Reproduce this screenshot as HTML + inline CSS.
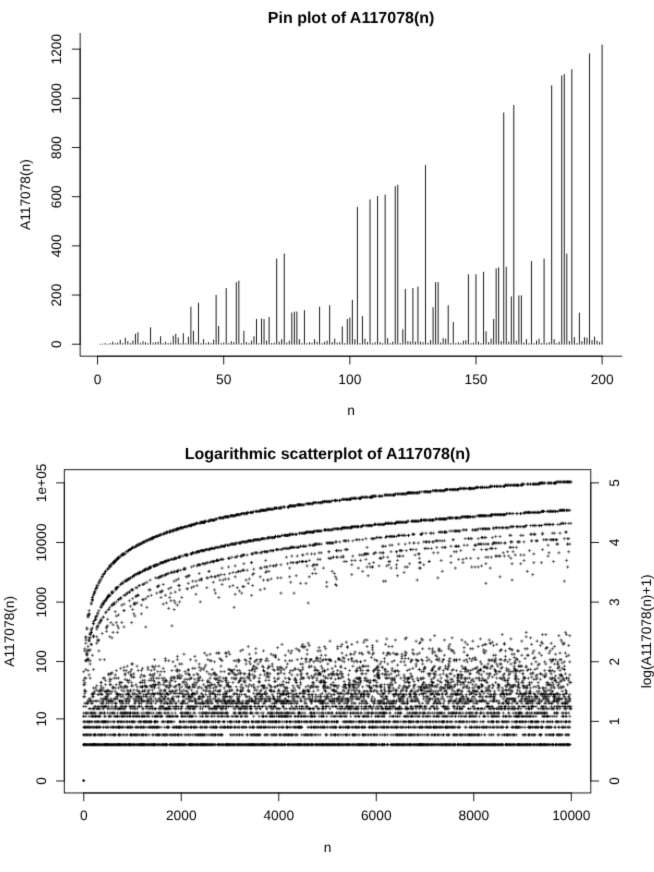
<!DOCTYPE html>
<html><head><meta charset="utf-8"><title>A117078 graphs</title>
<style>
html,body{margin:0;padding:0;background:#fff;}
svg{display:block;will-change:transform;text-rendering:geometricPrecision;font-family:"Liberation Sans",sans-serif;fill:#000;}
</style></head><body>
<svg width="654" height="872" viewBox="0 0 654 872">
<defs><filter id="bl" x="0" y="0" width="654" height="872" filterUnits="userSpaceOnUse"><feConvolveMatrix order="3" kernelMatrix="0.0113 0.0838 0.0113 0.0838 0.6193 0.0838 0.0113 0.0838 0.0113" divisor="1" edgeMode="duplicate" preserveAlpha="false"/></filter></defs>
<rect x="0" y="0" width="654" height="872" fill="#fff"/>
<g filter="url(#bl)">
<path d="M80.15 33.00L80.15 356.20L622.20 356.20" stroke="#000" stroke-width="0.9" fill="none"/>
<path d="M97.56 356.20L602.12 356.20" stroke="#000" stroke-width="0.9" stroke-linecap="round" fill="none"/>
<path d="M97.56 356.20L97.56 364.05" stroke="#000" stroke-width="0.9" stroke-linecap="round" fill="none"/>
<text x="97.56" y="384.00" font-size="13.75" text-anchor="middle">0</text>
<path d="M223.70 356.20L223.70 364.05" stroke="#000" stroke-width="0.9" stroke-linecap="round" fill="none"/>
<text x="223.70" y="384.00" font-size="13.75" text-anchor="middle">50</text>
<path d="M349.84 356.20L349.84 364.05" stroke="#000" stroke-width="0.9" stroke-linecap="round" fill="none"/>
<text x="349.84" y="384.00" font-size="13.75" text-anchor="middle">100</text>
<path d="M475.98 356.20L475.98 364.05" stroke="#000" stroke-width="0.9" stroke-linecap="round" fill="none"/>
<text x="475.98" y="384.00" font-size="13.75" text-anchor="middle">150</text>
<path d="M602.12 356.20L602.12 364.05" stroke="#000" stroke-width="0.9" stroke-linecap="round" fill="none"/>
<text x="602.12" y="384.00" font-size="13.75" text-anchor="middle">200</text>
<path d="M80.15 344.23L80.15 49.15" stroke="#000" stroke-width="0.9" stroke-linecap="round" fill="none"/>
<path d="M80.15 344.23L72.30 344.23" stroke="#000" stroke-width="0.9" stroke-linecap="round" fill="none"/>
<text x="61.00" y="344.23" font-size="13.75" text-anchor="middle" transform="rotate(-90 61.00 344.23)">0</text>
<path d="M80.15 295.05L72.30 295.05" stroke="#000" stroke-width="0.9" stroke-linecap="round" fill="none"/>
<text x="61.00" y="295.05" font-size="13.75" text-anchor="middle" transform="rotate(-90 61.00 295.05)">200</text>
<path d="M80.15 245.87L72.30 245.87" stroke="#000" stroke-width="0.9" stroke-linecap="round" fill="none"/>
<text x="61.00" y="245.87" font-size="13.75" text-anchor="middle" transform="rotate(-90 61.00 245.87)">400</text>
<path d="M80.15 196.69L72.30 196.69" stroke="#000" stroke-width="0.9" stroke-linecap="round" fill="none"/>
<text x="61.00" y="196.69" font-size="13.75" text-anchor="middle" transform="rotate(-90 61.00 196.69)">600</text>
<path d="M80.15 147.51L72.30 147.51" stroke="#000" stroke-width="0.9" stroke-linecap="round" fill="none"/>
<text x="61.00" y="147.51" font-size="13.75" text-anchor="middle" transform="rotate(-90 61.00 147.51)">800</text>
<path d="M80.15 98.33L72.30 98.33" stroke="#000" stroke-width="0.9" stroke-linecap="round" fill="none"/>
<text x="61.00" y="98.33" font-size="13.75" text-anchor="middle" transform="rotate(-90 61.00 98.33)">1000</text>
<path d="M80.15 49.15L72.30 49.15" stroke="#000" stroke-width="0.9" stroke-linecap="round" fill="none"/>
<text x="61.00" y="49.15" font-size="13.75" text-anchor="middle" transform="rotate(-90 61.00 49.15)">1200</text>
<text x="351.10" y="415.40" font-size="13.75" text-anchor="middle">n</text>
<text x="29.60" y="194.60" font-size="13.75" text-anchor="middle" transform="rotate(-90 29.60 194.60)">A117078(n)</text>
<text x="351.10" y="22.70" font-size="16.0" text-anchor="middle" font-weight="bold">Pin plot of A117078(n)</text>
<path d="M100.08 344.23v0.00M102.60 344.23v0.00M105.13 344.23v-0.74M107.65 344.23v0.00M110.17 344.23v-0.74M112.70 344.23v-2.21M115.22 344.23v-0.74M117.74 344.23v-1.23M120.26 344.23v-4.18M122.79 344.23v-0.74M125.31 344.23v-6.15M127.83 344.23v-2.70M130.36 344.23v-0.74M132.88 344.23v-3.20M135.40 344.23v-10.08M137.92 344.23v-11.56M140.45 344.23v-0.74M142.97 344.23v-2.70M145.49 344.23v-1.72M148.01 344.23v-0.74M150.54 344.23v-16.48M153.06 344.23v-1.23M155.58 344.23v-1.72M158.11 344.23v-2.21M160.63 344.23v-7.62M163.15 344.23v-0.74M165.67 344.23v-2.21M168.20 344.23v-0.74M170.72 344.23v-1.23M173.24 344.23v-8.11M175.77 344.23v-10.08M178.29 344.23v-6.15M180.81 344.23v-0.74M183.33 344.23v-10.57M185.86 344.23v-0.74M188.38 344.23v-7.13M190.90 344.23v-37.13M193.43 344.23v-13.03M195.95 344.23v-1.72M198.47 344.23v-41.07M200.99 344.23v-0.74M203.52 344.23v-4.67M206.04 344.23v-0.74M208.56 344.23v-1.72M211.08 344.23v-0.74M213.61 344.23v-4.18M216.13 344.23v-48.93M218.65 344.23v-17.95M221.18 344.23v-0.74M223.70 344.23v-1.23M226.22 344.23v-55.82M228.74 344.23v-0.74M231.27 344.23v-2.70M233.79 344.23v-1.72M236.31 344.23v-61.72M238.84 344.23v-63.20M241.36 344.23v-0.74M243.88 344.23v-13.03M246.40 344.23v-1.72M248.93 344.23v-0.74M251.45 344.23v-3.20M253.97 344.23v-7.62M256.50 344.23v-24.84M259.02 344.23v-0.74M261.54 344.23v-25.33M264.06 344.23v-24.84M266.59 344.23v-3.20M269.11 344.23v-26.80M271.63 344.23v-0.74M274.15 344.23v-1.23M276.68 344.23v-85.33M279.20 344.23v-2.21M281.72 344.23v-4.67M284.25 344.23v-90.24M286.77 344.23v-1.23M289.29 344.23v-3.20M291.81 344.23v-31.23M294.34 344.23v-32.21M296.86 344.23v-32.21M299.38 344.23v-4.67M301.91 344.23v-0.74M304.43 344.23v-33.69M306.95 344.23v-0.74M309.47 344.23v-1.72M312.00 344.23v-1.23M314.52 344.23v-4.67M317.04 344.23v-2.21M319.57 344.23v-37.13M322.09 344.23v-0.74M324.61 344.23v-2.21M327.13 344.23v-3.20M329.66 344.23v-38.61M332.18 344.23v-1.72M334.70 344.23v-5.16M337.22 344.23v-1.23M339.75 344.23v-1.72M342.27 344.23v-17.46M344.79 344.23v-0.74M347.32 344.23v-24.84M349.84 344.23v-26.31M352.36 344.23v-44.02M354.88 344.23v-4.67M357.41 344.23v-136.97M359.93 344.23v-0.74M362.45 344.23v-27.79M364.98 344.23v-5.16M367.50 344.23v-1.72M370.02 344.23v-144.34M372.54 344.23v-0.74M375.07 344.23v-1.72M377.59 344.23v-147.79M380.11 344.23v-1.72M382.63 344.23v-0.74M385.16 344.23v-149.26M387.68 344.23v-5.66M390.20 344.23v-0.74M392.73 344.23v-2.21M395.25 344.23v-157.62M397.77 344.23v-159.10M400.29 344.23v-0.74M402.82 344.23v-14.51M405.34 344.23v-54.84M407.86 344.23v-2.70M410.39 344.23v-2.21M412.91 344.23v-55.82M415.43 344.23v-2.21M417.95 344.23v-57.29M420.48 344.23v-2.21M423.00 344.23v-1.72M425.52 344.23v-178.77M428.05 344.23v-1.23M430.57 344.23v-3.69M433.09 344.23v-36.64M435.61 344.23v-61.72M438.14 344.23v-61.72M440.66 344.23v-1.23M443.18 344.23v-5.66M445.70 344.23v-5.16M448.23 344.23v-38.61M450.75 344.23v-0.74M453.27 344.23v-21.89M455.80 344.23v-0.74M458.32 344.23v-1.72M460.84 344.23v-0.74M463.36 344.23v-3.20M465.89 344.23v-3.69M468.41 344.23v-69.59M470.93 344.23v-0.74M473.46 344.23v-1.23M475.98 344.23v-69.59M478.50 344.23v-2.21M481.02 344.23v-0.74M483.55 344.23v-72.05M486.07 344.23v-12.54M488.59 344.23v-1.72M491.12 344.23v-5.16M493.64 344.23v-24.84M496.16 344.23v-75.49M498.68 344.23v-76.47M501.21 344.23v-2.70M503.73 344.23v-231.39M506.25 344.23v-76.97M508.77 344.23v-2.21M511.30 344.23v-47.46M513.82 344.23v-238.77M516.34 344.23v-3.20M518.87 344.23v-48.44M521.39 344.23v-48.44M523.91 344.23v-1.23M526.43 344.23v-4.67M528.96 344.23v-0.74M531.48 344.23v-82.87M534.00 344.23v-0.74M536.53 344.23v-3.20M539.05 344.23v-5.16M541.57 344.23v-0.74M544.09 344.23v-85.33M546.62 344.23v-0.74M549.14 344.23v-1.72M551.66 344.23v-258.44M554.19 344.23v-4.67M556.71 344.23v-0.74M559.23 344.23v-2.21M561.75 344.23v-268.28M564.28 344.23v-269.75M566.80 344.23v-90.24M569.32 344.23v-2.70M571.84 344.23v-274.67M574.37 344.23v-6.64M576.89 344.23v-0.74M579.41 344.23v-31.23M581.94 344.23v-2.70M584.46 344.23v-6.64M586.98 344.23v-6.15M589.50 344.23v-290.41M592.03 344.23v-3.69M594.55 344.23v-7.13M597.07 344.23v-3.20M599.60 344.23v-1.72M602.12 344.23v-299.26" stroke="#000" stroke-width="0.9" stroke-linecap="round" fill="none"/>
<rect x="64.30" y="469.70" width="526.50" height="323.25" stroke="#000" stroke-width="0.9" fill="none"/>
<path d="M83.75 792.95L571.30 792.95" stroke="#000" stroke-width="0.9" stroke-linecap="round" fill="none"/>
<path d="M83.75 792.95L83.75 800.80" stroke="#000" stroke-width="0.9" stroke-linecap="round" fill="none"/>
<text x="83.75" y="820.40" font-size="13.75" text-anchor="middle">0</text>
<path d="M181.26 792.95L181.26 800.80" stroke="#000" stroke-width="0.9" stroke-linecap="round" fill="none"/>
<text x="181.26" y="820.40" font-size="13.75" text-anchor="middle">2000</text>
<path d="M278.77 792.95L278.77 800.80" stroke="#000" stroke-width="0.9" stroke-linecap="round" fill="none"/>
<text x="278.77" y="820.40" font-size="13.75" text-anchor="middle">4000</text>
<path d="M376.28 792.95L376.28 800.80" stroke="#000" stroke-width="0.9" stroke-linecap="round" fill="none"/>
<text x="376.28" y="820.40" font-size="13.75" text-anchor="middle">6000</text>
<path d="M473.79 792.95L473.79 800.80" stroke="#000" stroke-width="0.9" stroke-linecap="round" fill="none"/>
<text x="473.79" y="820.40" font-size="13.75" text-anchor="middle">8000</text>
<path d="M571.30 792.95L571.30 800.80" stroke="#000" stroke-width="0.9" stroke-linecap="round" fill="none"/>
<text x="571.30" y="820.40" font-size="13.75" text-anchor="middle">10000</text>
<path d="M64.30 780.98L64.30 482.87" stroke="#000" stroke-width="0.9" stroke-linecap="round" fill="none"/>
<path d="M590.80 780.98L590.80 482.87" stroke="#000" stroke-width="0.9" stroke-linecap="round" fill="none"/>
<path d="M64.30 780.98L56.45 780.98" stroke="#000" stroke-width="0.9" stroke-linecap="round" fill="none"/>
<text x="46.00" y="780.98" font-size="13.75" text-anchor="middle" transform="rotate(-90 46.00 780.98)">0</text>
<path d="M590.80 780.98L598.65 780.98" stroke="#000" stroke-width="0.9" stroke-linecap="round" fill="none"/>
<text x="619.00" y="780.98" font-size="13.75" text-anchor="middle" transform="rotate(-90 619.00 780.98)">0</text>
<path d="M64.30 718.89L56.45 718.89" stroke="#000" stroke-width="0.9" stroke-linecap="round" fill="none"/>
<text x="46.00" y="718.89" font-size="13.75" text-anchor="middle" transform="rotate(-90 46.00 718.89)">10</text>
<path d="M590.80 721.36L598.65 721.36" stroke="#000" stroke-width="0.9" stroke-linecap="round" fill="none"/>
<text x="619.00" y="721.36" font-size="13.75" text-anchor="middle" transform="rotate(-90 619.00 721.36)">1</text>
<path d="M64.30 661.48L56.45 661.48" stroke="#000" stroke-width="0.9" stroke-linecap="round" fill="none"/>
<text x="46.00" y="661.48" font-size="13.75" text-anchor="middle" transform="rotate(-90 46.00 661.48)">100</text>
<path d="M590.80 661.73L598.65 661.73" stroke="#000" stroke-width="0.9" stroke-linecap="round" fill="none"/>
<text x="619.00" y="661.73" font-size="13.75" text-anchor="middle" transform="rotate(-90 619.00 661.73)">2</text>
<path d="M64.30 602.08L56.45 602.08" stroke="#000" stroke-width="0.9" stroke-linecap="round" fill="none"/>
<text x="46.00" y="602.08" font-size="13.75" text-anchor="middle" transform="rotate(-90 46.00 602.08)">1000</text>
<path d="M590.80 602.11L598.65 602.11" stroke="#000" stroke-width="0.9" stroke-linecap="round" fill="none"/>
<text x="619.00" y="602.11" font-size="13.75" text-anchor="middle" transform="rotate(-90 619.00 602.11)">3</text>
<path d="M64.30 542.49L56.45 542.49" stroke="#000" stroke-width="0.9" stroke-linecap="round" fill="none"/>
<text x="46.00" y="542.49" font-size="13.75" text-anchor="middle" transform="rotate(-90 46.00 542.49)">10000</text>
<path d="M590.80 542.49L598.65 542.49" stroke="#000" stroke-width="0.9" stroke-linecap="round" fill="none"/>
<text x="619.00" y="542.49" font-size="13.75" text-anchor="middle" transform="rotate(-90 619.00 542.49)">4</text>
<path d="M64.30 482.87L56.45 482.87" stroke="#000" stroke-width="0.9" stroke-linecap="round" fill="none"/>
<text x="46.00" y="482.87" font-size="13.75" text-anchor="middle" transform="rotate(-90 46.00 482.87)">1e+05</text>
<path d="M590.80 482.87L598.65 482.87" stroke="#000" stroke-width="0.9" stroke-linecap="round" fill="none"/>
<text x="619.00" y="482.87" font-size="13.75" text-anchor="middle" transform="rotate(-90 619.00 482.87)">5</text>
<text x="327.55" y="851.80" font-size="13.75" text-anchor="middle">n</text>
<text x="14.00" y="631.33" font-size="13.75" text-anchor="middle" transform="rotate(-90 14.00 631.33)">A117078(n)</text>
<text x="650.60" y="631.33" font-size="13.75" text-anchor="middle" transform="rotate(-90 650.60 631.33)">log(A117078(n)+1)</text>
<text x="327.55" y="459.00" font-size="16.0" text-anchor="middle" font-weight="bold">Logarithmic scatterplot of A117078(n)</text>
<path d="M82.02 721.77h3.27M83.66 720.13v3.27M82.02 727.22h3.27M83.66 725.58v3.27M83.11 691.25h3.27M84.75 689.61v3.27M83.11 696.70h3.27M84.75 695.06v3.27M83.11 734.85h3.27M84.75 733.21v3.27M86.38 616.04h3.27M88.02 614.40v3.27M86.38 659.64h3.27M88.02 658.00v3.27M86.38 670.54h3.27M88.02 668.90v3.27M86.38 703.24h3.27M88.02 701.60v3.27M87.47 650.92h3.27M89.11 649.28v3.27M87.47 716.32h3.27M89.11 714.68v3.27M87.47 727.22h3.27M89.11 725.58v3.27M88.56 664.00h3.27M90.20 662.36v3.27M88.56 713.05h3.27M90.20 711.41v3.27M91.83 594.24h3.27M93.47 592.60v3.27M91.83 621.49h3.27M93.47 619.85v3.27M91.83 708.69h3.27M93.47 707.05v3.27M92.92 716.32h3.27M94.56 714.68v3.27M92.92 721.77h3.27M94.56 720.13v3.27M92.92 727.22h3.27M94.56 725.58v3.27M94.01 713.05h3.27M95.65 711.41v3.27M96.19 613.86h3.27M97.83 612.22v3.27M96.19 641.11h3.27M97.83 639.47v3.27M96.19 706.51h3.27M97.83 704.87v3.27M97.28 583.34h3.27M98.92 581.70v3.27M97.28 610.59h3.27M98.92 608.95v3.27M97.28 708.69h3.27M98.92 707.05v3.27M98.37 580.07h3.27M100.01 578.43v3.27M99.46 685.80h3.27M101.10 684.16v3.27M99.46 713.05h3.27M101.10 711.41v3.27M99.46 734.85h3.27M101.10 733.21v3.27M100.55 633.48h3.27M102.19 631.84v3.27M101.64 701.06h3.27M103.28 699.42v3.27M101.64 706.51h3.27M103.28 704.87v3.27M102.73 659.64h3.27M104.37 658.00v3.27M103.82 612.77h3.27M105.46 611.13v3.27M103.82 716.32h3.27M105.46 714.68v3.27M103.82 727.22h3.27M105.46 725.58v3.27M104.91 631.30h3.27M106.55 629.66v3.27M104.91 691.25h3.27M106.55 689.61v3.27M104.91 696.70h3.27M106.55 695.06v3.27M106.00 698.88h3.27M107.64 697.24v3.27M107.09 673.81h3.27M108.73 672.17v3.27M107.09 706.51h3.27M108.73 704.87v3.27M108.18 681.44h3.27M109.82 679.80v3.27M109.27 716.32h3.27M110.91 714.68v3.27M109.27 721.77h3.27M110.91 720.13v3.27M109.27 727.22h3.27M110.91 725.58v3.27M110.36 691.25h3.27M112.00 689.61v3.27M111.45 562.63h3.27M113.09 560.99v3.27M112.54 602.96h3.27M114.18 601.32v3.27M113.63 561.54h3.27M115.27 559.90v3.27M114.72 601.87h3.27M116.36 600.23v3.27M114.72 678.17h3.27M116.36 676.53v3.27M114.72 716.32h3.27M116.36 714.68v3.27M114.72 727.22h3.27M116.36 725.58v3.27M115.81 587.70h3.27M117.45 586.06v3.27M115.81 625.85h3.27M117.45 624.21v3.27M115.81 696.70h3.27M117.45 695.06v3.27M115.81 713.05h3.27M117.45 711.41v3.27M116.90 557.18h3.27M118.54 555.54v3.27M116.90 628.03h3.27M118.54 626.39v3.27M116.90 687.98h3.27M118.54 686.34v3.27M117.99 684.71h3.27M119.63 683.07v3.27M119.08 556.09h3.27M120.72 554.45v3.27M119.08 686.89h3.27M120.72 685.25v3.27M119.08 703.24h3.27M120.72 701.60v3.27M119.08 708.69h3.27M120.72 707.05v3.27M120.17 727.22h3.27M121.81 725.58v3.27M121.26 582.25h3.27M122.90 580.61v3.27M121.26 696.70h3.27M122.90 695.06v3.27M121.26 734.85h3.27M122.90 733.21v3.27M122.35 595.33h3.27M123.99 593.69v3.27M122.35 687.98h3.27M123.99 686.34v3.27M123.44 553.91h3.27M125.08 552.27v3.27M123.44 673.81h3.27M125.08 672.17v3.27M123.44 679.26h3.27M125.08 677.62v3.27M124.53 594.24h3.27M126.17 592.60v3.27M124.53 670.54h3.27M126.17 668.90v3.27M124.53 686.89h3.27M126.17 685.25v3.27M124.53 703.24h3.27M126.17 701.60v3.27M126.71 691.25h3.27M128.35 689.61v3.27M126.71 696.70h3.27M128.35 695.06v3.27M126.71 713.05h3.27M128.35 711.41v3.27M127.80 578.98h3.27M129.44 577.34v3.27M127.80 600.78h3.27M129.44 599.14v3.27M127.80 698.88h3.27M129.44 697.24v3.27M128.89 690.16h3.27M130.53 688.52v3.27M128.89 706.51h3.27M130.53 704.87v3.27M131.07 716.32h3.27M132.71 714.68v3.27M131.07 727.22h3.27M132.71 725.58v3.27M132.16 604.05h3.27M133.80 602.41v3.27M132.16 713.05h3.27M133.80 711.41v3.27M132.16 734.85h3.27M133.80 733.21v3.27M133.25 693.43h3.27M134.89 691.79v3.27M134.34 684.71h3.27M135.98 683.07v3.27M134.34 744.66h3.27M135.98 743.02v3.27M135.43 686.89h3.27M137.07 685.25v3.27M135.43 708.69h3.27M137.07 707.05v3.27M136.52 716.32h3.27M138.16 714.68v3.27M136.52 721.77h3.27M138.16 720.13v3.27M137.61 691.25h3.27M139.25 689.61v3.27M137.61 734.85h3.27M139.25 733.21v3.27M138.70 677.08h3.27M140.34 675.44v3.27M138.70 693.43h3.27M140.34 691.79v3.27M138.70 698.88h3.27M140.34 697.24v3.27M139.79 543.01h3.27M141.43 541.37v3.27M139.79 613.86h3.27M141.43 612.22v3.27M139.79 701.06h3.27M141.43 699.42v3.27M139.79 706.51h3.27M141.43 704.87v3.27M140.88 599.69h3.27M142.52 598.05v3.27M140.88 708.69h3.27M142.52 707.05v3.27M141.97 694.52h3.27M143.61 692.88v3.27M141.97 716.32h3.27M143.61 714.68v3.27M143.06 680.35h3.27M144.70 678.71v3.27M143.06 685.80h3.27M144.70 684.16v3.27M143.06 691.25h3.27M144.70 689.61v3.27M144.15 540.83h3.27M145.79 539.19v3.27M145.24 701.06h3.27M146.88 699.42v3.27M145.24 744.66h3.27M146.88 743.02v3.27M146.33 539.74h3.27M147.97 538.10v3.27M147.42 716.32h3.27M149.06 714.68v3.27M148.51 538.65h3.27M150.15 537.01v3.27M148.51 685.80h3.27M150.15 684.16v3.27M148.51 696.70h3.27M150.15 695.06v3.27M149.60 595.33h3.27M151.24 593.69v3.27M149.60 698.88h3.27M151.24 697.24v3.27M150.69 690.16h3.27M152.33 688.52v3.27M150.69 706.51h3.27M152.33 704.87v3.27M151.78 675.99h3.27M153.42 674.35v3.27M152.87 694.52h3.27M154.51 692.88v3.27M152.87 716.32h3.27M154.51 714.68v3.27M153.96 565.90h3.27M155.60 564.26v3.27M153.96 734.85h3.27M155.60 733.21v3.27M156.14 684.71h3.27M157.78 683.07v3.27M156.14 701.06h3.27M157.78 699.42v3.27M157.23 577.89h3.27M158.87 576.25v3.27M157.23 708.69h3.27M158.87 707.05v3.27M158.32 694.52h3.27M159.96 692.88v3.27M158.32 716.32h3.27M159.96 714.68v3.27M159.41 576.80h3.27M161.05 575.16v3.27M159.41 696.70h3.27M161.05 695.06v3.27M159.41 713.05h3.27M161.05 711.41v3.27M160.50 693.43h3.27M162.14 691.79v3.27M161.59 668.36h3.27M163.23 666.72v3.27M161.59 684.71h3.27M163.23 683.07v3.27M161.59 706.51h3.27M163.23 704.87v3.27M162.68 708.69h3.27M164.32 707.05v3.27M163.77 721.77h3.27M165.41 720.13v3.27M164.86 533.20h3.27M166.50 531.56v3.27M164.86 560.45h3.27M166.50 558.81v3.27M164.86 680.35h3.27M166.50 678.71v3.27M164.86 734.85h3.27M166.50 733.21v3.27M165.95 573.53h3.27M167.59 571.89v3.27M165.95 693.43h3.27M167.59 691.79v3.27M165.95 698.88h3.27M167.59 697.24v3.27M167.04 608.41h3.27M168.68 606.77v3.27M167.04 706.51h3.27M168.68 704.87v3.27M168.13 686.89h3.27M169.77 685.25v3.27M168.13 703.24h3.27M169.77 701.60v3.27M168.13 708.69h3.27M169.77 707.05v3.27M169.22 678.17h3.27M170.86 676.53v3.27M169.22 716.32h3.27M170.86 714.68v3.27M170.31 625.85h3.27M171.95 624.21v3.27M170.31 680.35h3.27M171.95 678.71v3.27M170.31 713.05h3.27M171.95 711.41v3.27M170.31 734.85h3.27M171.95 733.21v3.27M171.40 529.93h3.27M173.04 528.29v3.27M172.49 559.36h3.27M174.13 557.72v3.27M172.49 581.16h3.27M174.13 579.52v3.27M172.49 701.06h3.27M174.13 699.42v3.27M173.58 681.44h3.27M175.22 679.80v3.27M173.58 686.89h3.27M175.22 685.25v3.27M173.58 703.24h3.27M175.22 701.60v3.27M173.58 708.69h3.27M175.22 707.05v3.27M174.67 580.07h3.27M176.31 578.43v3.27M174.67 716.32h3.27M176.31 714.68v3.27M175.76 669.45h3.27M177.40 667.81v3.27M176.85 578.98h3.27M178.49 577.34v3.27M176.85 677.08h3.27M178.49 675.44v3.27M177.94 690.16h3.27M179.58 688.52v3.27M179.03 556.09h3.27M180.67 554.45v3.27M179.03 703.24h3.27M180.67 701.60v3.27M179.03 708.69h3.27M180.67 707.05v3.27M180.12 727.22h3.27M181.76 725.58v3.27M181.21 696.70h3.27M182.85 695.06v3.27M181.21 713.05h3.27M182.85 711.41v3.27M183.39 679.26h3.27M185.03 677.62v3.27M183.39 684.71h3.27M185.03 683.07v3.27M184.48 686.89h3.27M186.12 685.25v3.27M184.48 708.69h3.27M186.12 707.05v3.27M185.57 716.32h3.27M187.21 714.68v3.27M185.57 727.22h3.27M187.21 725.58v3.27M186.66 669.45h3.27M188.30 667.81v3.27M186.66 696.70h3.27M188.30 695.06v3.27M187.75 687.98h3.27M189.39 686.34v3.27M188.84 553.91h3.27M190.48 552.27v3.27M188.84 706.51h3.27M190.48 704.87v3.27M189.93 566.99h3.27M191.57 565.35v3.27M191.02 721.77h3.27M192.66 720.13v3.27M192.11 565.90h3.27M193.75 564.26v3.27M192.11 674.90h3.27M193.75 673.26v3.27M192.11 713.05h3.27M193.75 711.41v3.27M193.20 682.53h3.27M194.84 680.89v3.27M193.20 693.43h3.27M194.84 691.79v3.27M194.29 581.16h3.27M195.93 579.52v3.27M194.29 684.71h3.27M195.93 683.07v3.27M194.29 706.51h3.27M195.93 704.87v3.27M196.47 678.17h3.27M198.11 676.53v3.27M197.56 664.00h3.27M199.20 662.36v3.27M197.56 680.35h3.27M199.20 678.71v3.27M197.56 713.05h3.27M199.20 711.41v3.27M197.56 734.85h3.27M199.20 733.21v3.27M198.65 677.08h3.27M200.29 675.44v3.27M199.74 668.36h3.27M201.38 666.72v3.27M200.83 708.69h3.27M202.47 707.05v3.27M201.92 563.72h3.27M203.56 562.08v3.27M203.01 653.10h3.27M204.65 651.46v3.27M203.01 713.05h3.27M204.65 711.41v3.27M205.19 690.16h3.27M206.83 688.52v3.27M205.19 701.06h3.27M206.83 699.42v3.27M206.28 577.89h3.27M207.92 576.25v3.27M206.28 659.64h3.27M207.92 658.00v3.27M206.28 681.44h3.27M207.92 679.80v3.27M206.28 703.24h3.27M207.92 701.60v3.27M208.46 549.55h3.27M210.10 547.91v3.27M208.46 685.80h3.27M210.10 684.16v3.27M208.46 691.25h3.27M210.10 689.61v3.27M208.46 696.70h3.27M210.10 695.06v3.27M209.55 660.73h3.27M211.19 659.09v3.27M210.64 684.71h3.27M212.28 683.07v3.27M211.73 708.69h3.27M213.37 707.05v3.27M212.82 661.82h3.27M214.46 660.18v3.27M212.82 672.72h3.27M214.46 671.08v3.27M212.82 678.17h3.27M214.46 676.53v3.27M212.82 694.52h3.27M214.46 692.88v3.27M212.82 716.32h3.27M214.46 714.68v3.27M212.82 727.22h3.27M214.46 725.58v3.27M213.91 576.80h3.27M215.55 575.16v3.27M213.91 593.15h3.27M215.55 591.51v3.27M213.91 674.90h3.27M215.55 673.26v3.27M213.91 713.05h3.27M215.55 711.41v3.27M216.09 575.71h3.27M217.73 574.07v3.27M216.09 701.06h3.27M217.73 699.42v3.27M217.18 517.94h3.27M218.82 516.30v3.27M218.27 547.37h3.27M219.91 545.73v3.27M218.27 580.07h3.27M219.91 578.43v3.27M218.27 694.52h3.27M219.91 692.88v3.27M218.27 721.77h3.27M219.91 720.13v3.27M218.27 727.22h3.27M219.91 725.58v3.27M219.36 685.80h3.27M221.00 684.16v3.27M219.36 713.05h3.27M221.00 711.41v3.27M220.45 568.08h3.27M222.09 566.44v3.27M220.45 584.43h3.27M222.09 582.79v3.27M220.45 660.73h3.27M222.09 659.09v3.27M221.54 559.36h3.27M223.18 557.72v3.27M222.63 703.24h3.27M224.27 701.60v3.27M223.72 678.17h3.27M225.36 676.53v3.27M223.72 694.52h3.27M225.36 692.88v3.27M224.81 653.10h3.27M226.45 651.46v3.27M224.81 680.35h3.27M226.45 678.71v3.27M224.81 685.80h3.27M226.45 684.16v3.27M224.81 696.70h3.27M226.45 695.06v3.27M224.81 713.05h3.27M226.45 711.41v3.27M226.99 652.01h3.27M228.63 650.37v3.27M226.99 673.81h3.27M228.63 672.17v3.27M228.08 545.19h3.27M229.72 543.55v3.27M228.08 654.19h3.27M229.72 652.55v3.27M228.08 686.89h3.27M229.72 685.25v3.27M228.08 703.24h3.27M229.72 701.60v3.27M230.26 696.70h3.27M231.90 695.06v3.27M231.35 682.53h3.27M232.99 680.89v3.27M232.44 673.81h3.27M234.08 672.17v3.27M233.53 594.24h3.27M235.17 592.60v3.27M233.53 703.24h3.27M235.17 701.60v3.27M233.53 708.69h3.27M235.17 707.05v3.27M234.62 678.17h3.27M236.26 676.53v3.27M234.62 716.32h3.27M236.26 714.68v3.27M235.71 587.70h3.27M237.35 586.06v3.27M235.71 696.70h3.27M237.35 695.06v3.27M235.71 734.85h3.27M237.35 733.21v3.27M236.80 682.53h3.27M238.44 680.89v3.27M237.89 701.06h3.27M239.53 699.42v3.27M238.98 556.09h3.27M240.62 554.45v3.27M238.98 686.89h3.27M240.62 685.25v3.27M238.98 703.24h3.27M240.62 701.60v3.27M240.07 541.92h3.27M241.71 540.28v3.27M240.07 678.17h3.27M241.71 676.53v3.27M240.07 694.52h3.27M241.71 692.88v3.27M240.07 727.22h3.27M241.71 725.58v3.27M241.16 555.00h3.27M242.80 553.36v3.27M241.16 713.05h3.27M242.80 711.41v3.27M241.16 734.85h3.27M242.80 733.21v3.27M243.34 673.81h3.27M244.98 672.17v3.27M243.34 706.51h3.27M244.98 704.87v3.27M244.43 708.69h3.27M246.07 707.05v3.27M245.52 541.92h3.27M247.16 540.28v3.27M245.52 716.32h3.27M247.16 714.68v3.27M246.61 691.25h3.27M248.25 689.61v3.27M247.70 578.98h3.27M249.34 577.34v3.27M247.70 698.88h3.27M249.34 697.24v3.27M248.79 706.51h3.27M250.43 704.87v3.27M249.88 670.54h3.27M251.52 668.90v3.27M249.88 708.69h3.27M251.52 707.05v3.27M250.97 574.62h3.27M252.61 572.98v3.27M250.97 585.52h3.27M252.61 583.88v3.27M252.06 511.40h3.27M253.70 509.76v3.27M252.06 734.85h3.27M253.70 733.21v3.27M253.15 671.63h3.27M254.79 669.99v3.27M253.15 677.08h3.27M254.79 675.44v3.27M253.15 687.98h3.27M254.79 686.34v3.27M254.24 701.06h3.27M255.88 699.42v3.27M255.33 659.64h3.27M256.97 658.00v3.27M255.33 708.69h3.27M256.97 707.05v3.27M256.42 694.52h3.27M258.06 692.88v3.27M258.60 568.08h3.27M260.24 566.44v3.27M258.60 589.88h3.27M260.24 588.24v3.27M258.60 698.88h3.27M260.24 697.24v3.27M259.69 690.16h3.27M261.33 688.52v3.27M259.69 701.06h3.27M261.33 699.42v3.27M261.87 580.07h3.27M263.51 578.43v3.27M261.87 650.92h3.27M263.51 649.28v3.27M261.87 667.27h3.27M263.51 665.63v3.27M262.96 538.65h3.27M264.60 537.01v3.27M262.96 674.90h3.27M264.60 673.26v3.27M262.96 685.80h3.27M264.60 684.16v3.27M262.96 734.85h3.27M264.60 733.21v3.27M264.05 551.73h3.27M265.69 550.09v3.27M264.05 660.73h3.27M265.69 659.09v3.27M265.14 510.31h3.27M266.78 508.67v3.27M265.14 673.81h3.27M266.78 672.17v3.27M265.14 701.06h3.27M266.78 699.42v3.27M266.23 675.99h3.27M267.87 674.35v3.27M267.32 667.27h3.27M268.96 665.63v3.27M267.32 721.77h3.27M268.96 720.13v3.27M267.32 727.22h3.27M268.96 725.58v3.27M268.41 565.90h3.27M270.05 564.26v3.27M268.41 685.80h3.27M270.05 684.16v3.27M268.41 713.05h3.27M270.05 711.41v3.27M269.50 578.98h3.27M271.14 577.34v3.27M270.59 744.66h3.27M272.23 743.02v3.27M271.68 708.69h3.27M273.32 707.05v3.27M272.77 678.17h3.27M274.41 676.53v3.27M272.77 716.32h3.27M274.41 714.68v3.27M272.77 721.77h3.27M274.41 720.13v3.27M273.86 565.90h3.27M275.50 564.26v3.27M273.86 734.85h3.27M275.50 733.21v3.27M276.04 673.81h3.27M277.68 672.17v3.27M276.04 679.26h3.27M277.68 677.62v3.27M276.04 701.06h3.27M277.68 699.42v3.27M277.13 659.64h3.27M278.77 658.00v3.27M277.13 708.69h3.27M278.77 707.05v3.27M278.22 667.27h3.27M279.86 665.63v3.27M278.22 721.77h3.27M279.86 720.13v3.27M278.22 727.22h3.27M279.86 725.58v3.27M279.31 549.55h3.27M280.95 547.91v3.27M279.31 593.15h3.27M280.95 591.51v3.27M279.31 685.80h3.27M280.95 684.16v3.27M279.31 713.05h3.27M280.95 711.41v3.27M279.31 734.85h3.27M280.95 733.21v3.27M280.40 644.38h3.27M282.04 642.74v3.27M281.49 548.46h3.27M283.13 546.82v3.27M281.49 684.71h3.27M283.13 683.07v3.27M282.58 686.89h3.27M284.22 685.25v3.27M282.58 703.24h3.27M284.22 701.60v3.27M282.58 708.69h3.27M284.22 707.05v3.27M283.67 678.17h3.27M285.31 676.53v3.27M284.76 713.05h3.27M286.40 711.41v3.27M284.76 734.85h3.27M286.40 733.21v3.27M285.85 687.98h3.27M287.49 686.34v3.27M286.94 548.46h3.27M288.58 546.82v3.27M286.94 701.06h3.27M288.58 699.42v3.27M288.03 708.69h3.27M289.67 707.05v3.27M290.21 674.90h3.27M291.85 673.26v3.27M290.21 696.70h3.27M291.85 695.06v3.27M291.30 698.88h3.27M292.94 697.24v3.27M292.39 701.06h3.27M294.03 699.42v3.27M293.48 534.29h3.27M295.12 532.65v3.27M293.48 708.69h3.27M295.12 707.05v3.27M294.57 547.37h3.27M296.21 545.73v3.27M294.57 694.52h3.27M296.21 692.88v3.27M294.57 721.77h3.27M296.21 720.13v3.27M294.57 727.22h3.27M296.21 725.58v3.27M295.66 674.90h3.27M297.30 673.26v3.27M295.66 685.80h3.27M297.30 684.16v3.27M295.66 696.70h3.27M297.30 695.06v3.27M295.66 734.85h3.27M297.30 733.21v3.27M296.75 649.83h3.27M298.39 648.19v3.27M297.84 706.51h3.27M299.48 704.87v3.27M298.93 583.34h3.27M300.57 581.70v3.27M298.93 670.54h3.27M300.57 668.90v3.27M301.11 533.20h3.27M302.75 531.56v3.27M301.11 664.00h3.27M302.75 662.36v3.27M301.11 669.45h3.27M302.75 667.81v3.27M301.11 691.25h3.27M302.75 689.61v3.27M301.11 696.70h3.27M302.75 695.06v3.27M301.11 713.05h3.27M302.75 711.41v3.27M302.20 693.43h3.27M303.84 691.79v3.27M303.29 646.56h3.27M304.93 644.92v3.27M303.29 701.06h3.27M304.93 699.42v3.27M304.38 583.34h3.27M306.02 581.70v3.27M304.38 659.64h3.27M306.02 658.00v3.27M304.38 686.89h3.27M306.02 685.25v3.27M304.38 703.24h3.27M306.02 701.60v3.27M304.38 708.69h3.27M306.02 707.05v3.27M305.47 503.77h3.27M307.11 502.13v3.27M306.56 685.80h3.27M308.20 684.16v3.27M307.65 666.18h3.27M309.29 664.54v3.27M307.65 698.88h3.27M309.29 697.24v3.27M308.74 744.66h3.27M310.38 743.02v3.27M309.83 659.64h3.27M311.47 658.00v3.27M309.83 675.99h3.27M311.47 674.35v3.27M309.83 703.24h3.27M311.47 701.60v3.27M310.92 678.17h3.27M312.56 676.53v3.27M310.92 694.52h3.27M312.56 692.88v3.27M310.92 721.77h3.27M312.56 720.13v3.27M312.01 691.25h3.27M313.65 689.61v3.27M313.10 502.68h3.27M314.74 501.04v3.27M314.19 673.81h3.27M315.83 672.17v3.27M314.19 706.51h3.27M315.83 704.87v3.27M315.28 670.54h3.27M316.92 668.90v3.27M315.28 686.89h3.27M316.92 685.25v3.27M316.37 650.92h3.27M318.01 649.28v3.27M316.37 721.77h3.27M318.01 720.13v3.27M317.46 647.65h3.27M319.10 646.01v3.27M317.46 713.05h3.27M319.10 711.41v3.27M318.55 682.53h3.27M320.19 680.89v3.27M318.55 698.88h3.27M320.19 697.24v3.27M319.64 701.06h3.27M321.28 699.42v3.27M320.73 501.59h3.27M322.37 499.95v3.27M322.91 685.80h3.27M324.55 684.16v3.27M322.91 696.70h3.27M324.55 695.06v3.27M324.00 655.28h3.27M325.64 653.64v3.27M324.00 677.08h3.27M325.64 675.44v3.27M324.00 682.53h3.27M325.64 680.89v3.27M324.00 687.98h3.27M325.64 686.34v3.27M324.00 698.88h3.27M325.64 697.24v3.27M325.09 543.01h3.27M326.73 541.37v3.27M325.09 586.61h3.27M326.73 584.97v3.27M326.18 686.89h3.27M327.82 685.25v3.27M326.18 703.24h3.27M327.82 701.60v3.27M327.27 558.27h3.27M328.91 556.63v3.27M327.27 721.77h3.27M328.91 720.13v3.27M329.45 529.93h3.27M331.09 528.29v3.27M329.45 660.73h3.27M331.09 659.09v3.27M330.54 668.36h3.27M332.18 666.72v3.27M330.54 673.81h3.27M332.18 672.17v3.27M330.54 690.16h3.27M332.18 688.52v3.27M330.54 706.51h3.27M332.18 704.87v3.27M331.63 528.84h3.27M333.27 527.20v3.27M332.72 694.52h3.27M334.36 692.88v3.27M332.72 716.32h3.27M334.36 714.68v3.27M332.72 727.22h3.27M334.36 725.58v3.27M333.81 576.80h3.27M335.45 575.16v3.27M333.81 685.80h3.27M335.45 684.16v3.27M333.81 691.25h3.27M335.45 689.61v3.27M334.90 557.18h3.27M336.54 555.54v3.27M334.90 578.98h3.27M336.54 577.34v3.27M334.90 698.88h3.27M336.54 697.24v3.27M335.99 646.56h3.27M337.63 644.92v3.27M337.08 550.64h3.27M338.72 549.00v3.27M337.08 659.64h3.27M338.72 658.00v3.27M337.08 703.24h3.27M338.72 701.60v3.27M338.17 541.92h3.27M339.81 540.28v3.27M338.17 716.32h3.27M339.81 714.68v3.27M339.26 713.05h3.27M340.90 711.41v3.27M339.26 734.85h3.27M340.90 733.21v3.27M340.35 644.38h3.27M341.99 642.74v3.27M340.35 660.73h3.27M341.99 659.09v3.27M340.35 693.43h3.27M341.99 691.79v3.27M340.35 698.88h3.27M341.99 697.24v3.27M341.44 657.46h3.27M343.08 655.82v3.27M341.44 690.16h3.27M343.08 688.52v3.27M342.53 561.54h3.27M344.17 559.90v3.27M342.53 681.44h3.27M344.17 679.80v3.27M342.53 686.89h3.27M344.17 685.25v3.27M342.53 703.24h3.27M344.17 701.60v3.27M342.53 708.69h3.27M344.17 707.05v3.27M343.62 716.32h3.27M345.26 714.68v3.27M344.71 527.75h3.27M346.35 526.11v3.27M344.71 549.55h3.27M346.35 547.91v3.27M344.71 642.20h3.27M346.35 640.56v3.27M345.80 693.43h3.27M347.44 691.79v3.27M345.80 698.88h3.27M347.44 697.24v3.27M346.89 499.41h3.27M348.53 497.77v3.27M346.89 679.26h3.27M348.53 677.62v3.27M346.89 690.16h3.27M348.53 688.52v3.27M346.89 706.51h3.27M348.53 704.87v3.27M346.89 744.66h3.27M348.53 743.02v3.27M347.98 670.54h3.27M349.62 668.90v3.27M347.98 686.89h3.27M349.62 685.25v3.27M349.07 498.32h3.27M350.71 496.68v3.27M349.07 716.32h3.27M350.71 714.68v3.27M350.16 527.75h3.27M351.80 526.11v3.27M350.16 560.45h3.27M351.80 558.81v3.27M350.16 696.70h3.27M351.80 695.06v3.27M351.25 540.83h3.27M352.89 539.19v3.27M351.25 666.18h3.27M352.89 664.54v3.27M351.25 698.88h3.27M352.89 697.24v3.27M352.34 526.66h3.27M353.98 525.02v3.27M352.34 684.71h3.27M353.98 683.07v3.27M352.34 690.16h3.27M353.98 688.52v3.27M353.43 681.44h3.27M355.07 679.80v3.27M353.43 703.24h3.27M355.07 701.60v3.27M353.43 708.69h3.27M355.07 707.05v3.27M354.52 678.17h3.27M356.16 676.53v3.27M354.52 694.52h3.27M356.16 692.88v3.27M354.52 716.32h3.27M356.16 714.68v3.27M354.52 721.77h3.27M356.16 720.13v3.27M355.61 642.20h3.27M357.25 640.56v3.27M355.61 696.70h3.27M357.25 695.06v3.27M355.61 713.05h3.27M357.25 711.41v3.27M355.61 734.85h3.27M357.25 733.21v3.27M356.70 568.08h3.27M358.34 566.44v3.27M356.70 682.53h3.27M358.34 680.89v3.27M356.70 693.43h3.27M358.34 691.79v3.27M356.70 698.88h3.27M358.34 697.24v3.27M357.79 684.71h3.27M359.43 683.07v3.27M358.88 670.54h3.27M360.52 668.90v3.27M358.88 681.44h3.27M360.52 679.80v3.27M359.97 721.77h3.27M361.61 720.13v3.27M361.06 571.35h3.27M362.70 569.71v3.27M362.15 497.23h3.27M363.79 495.59v3.27M362.15 666.18h3.27M363.79 664.54v3.27M362.15 693.43h3.27M363.79 691.79v3.27M362.15 698.88h3.27M363.79 697.24v3.27M363.24 701.06h3.27M364.88 699.42v3.27M363.24 706.51h3.27M364.88 704.87v3.27M364.33 703.24h3.27M365.97 701.60v3.27M364.33 708.69h3.27M365.97 707.05v3.27M365.42 525.57h3.27M367.06 523.93v3.27M365.42 547.37h3.27M367.06 545.73v3.27M365.42 640.02h3.27M367.06 638.38v3.27M365.42 694.52h3.27M367.06 692.88v3.27M365.42 716.32h3.27M367.06 714.68v3.27M366.51 680.35h3.27M368.15 678.71v3.27M367.60 497.23h3.27M369.24 495.59v3.27M367.60 682.53h3.27M369.24 680.89v3.27M368.69 690.16h3.27M370.33 688.52v3.27M369.78 708.69h3.27M371.42 707.05v3.27M370.87 525.57h3.27M372.51 523.93v3.27M370.87 645.47h3.27M372.51 643.83v3.27M371.96 538.65h3.27M373.60 537.01v3.27M371.96 653.10h3.27M373.60 651.46v3.27M371.96 685.80h3.27M373.60 684.16v3.27M371.96 691.25h3.27M373.60 689.61v3.27M371.96 713.05h3.27M373.60 711.41v3.27M371.96 734.85h3.27M373.60 733.21v3.27M373.05 698.88h3.27M374.69 697.24v3.27M375.23 686.89h3.27M376.87 685.25v3.27M376.32 667.27h3.27M377.96 665.63v3.27M376.32 672.72h3.27M377.96 671.08v3.27M376.32 721.77h3.27M377.96 720.13v3.27M376.32 727.22h3.27M377.96 725.58v3.27M377.41 565.90h3.27M379.05 564.26v3.27M377.41 674.90h3.27M379.05 673.26v3.27M377.41 713.05h3.27M379.05 711.41v3.27M379.59 537.56h3.27M381.23 535.92v3.27M379.59 684.71h3.27M381.23 683.07v3.27M379.59 690.16h3.27M381.23 688.52v3.27M380.68 496.14h3.27M382.32 494.50v3.27M380.68 703.24h3.27M382.32 701.60v3.27M381.77 552.82h3.27M383.41 551.18v3.27M381.77 694.52h3.27M383.41 692.88v3.27M381.77 716.32h3.27M383.41 714.68v3.27M382.86 495.05h3.27M384.50 493.41v3.27M382.86 658.55h3.27M384.50 656.91v3.27M382.86 669.45h3.27M384.50 667.81v3.27M382.86 674.90h3.27M384.50 673.26v3.27M382.86 734.85h3.27M384.50 733.21v3.27M383.95 546.28h3.27M385.59 544.64v3.27M383.95 644.38h3.27M385.59 642.74v3.27M383.95 671.63h3.27M385.59 669.99v3.27M385.04 706.51h3.27M386.68 704.87v3.27M385.04 744.66h3.27M386.68 743.02v3.27M387.22 536.47h3.27M388.86 534.83v3.27M387.22 727.22h3.27M388.86 725.58v3.27M388.31 685.80h3.27M389.95 684.16v3.27M388.31 691.25h3.27M389.95 689.61v3.27M389.40 551.73h3.27M391.04 550.09v3.27M389.40 568.08h3.27M391.04 566.44v3.27M389.40 682.53h3.27M391.04 680.89v3.27M390.49 646.56h3.27M392.13 644.92v3.27M390.49 668.36h3.27M392.13 666.72v3.27M390.49 679.26h3.27M392.13 677.62v3.27M390.49 706.51h3.27M392.13 704.87v3.27M392.67 678.17h3.27M394.31 676.53v3.27M392.67 694.52h3.27M394.31 692.88v3.27M392.67 727.22h3.27M394.31 725.58v3.27M393.76 713.05h3.27M395.40 711.41v3.27M393.76 734.85h3.27M395.40 733.21v3.27M394.85 568.08h3.27M396.49 566.44v3.27M395.94 575.71h3.27M397.58 574.07v3.27M398.12 694.52h3.27M399.76 692.88v3.27M398.12 716.32h3.27M399.76 714.68v3.27M399.21 691.25h3.27M400.85 689.61v3.27M399.21 734.85h3.27M400.85 733.21v3.27M400.30 535.38h3.27M401.94 533.74v3.27M401.39 690.16h3.27M403.03 688.52v3.27M402.48 572.44h3.27M404.12 570.80v3.27M402.48 686.89h3.27M404.12 685.25v3.27M402.48 703.24h3.27M404.12 701.60v3.27M403.57 678.17h3.27M405.21 676.53v3.27M403.57 721.77h3.27M405.21 720.13v3.27M403.57 727.22h3.27M405.21 725.58v3.27M404.66 653.10h3.27M406.30 651.46v3.27M404.66 691.25h3.27M406.30 689.61v3.27M404.66 734.85h3.27M406.30 733.21v3.27M405.75 687.98h3.27M407.39 686.34v3.27M405.75 698.88h3.27M407.39 697.24v3.27M406.84 521.21h3.27M408.48 519.57v3.27M406.84 744.66h3.27M408.48 743.02v3.27M409.02 661.82h3.27M410.66 660.18v3.27M409.02 716.32h3.27M410.66 714.68v3.27M410.11 691.25h3.27M411.75 689.61v3.27M410.11 713.05h3.27M411.75 711.41v3.27M410.11 734.85h3.27M411.75 733.21v3.27M411.20 649.83h3.27M412.84 648.19v3.27M414.47 694.52h3.27M416.11 692.88v3.27M414.47 721.77h3.27M416.11 720.13v3.27M415.56 691.25h3.27M417.20 689.61v3.27M415.56 713.05h3.27M417.20 711.41v3.27M415.56 734.85h3.27M417.20 733.21v3.27M416.65 660.73h3.27M418.29 659.09v3.27M417.74 553.91h3.27M419.38 552.27v3.27M417.74 706.51h3.27M419.38 704.87v3.27M418.83 534.29h3.27M420.47 532.65v3.27M418.83 686.89h3.27M420.47 685.25v3.27M421.01 533.20h3.27M422.65 531.56v3.27M421.01 664.00h3.27M422.65 662.36v3.27M421.01 713.05h3.27M422.65 711.41v3.27M421.01 734.85h3.27M422.65 733.21v3.27M422.10 491.78h3.27M423.74 490.14v3.27M422.10 671.63h3.27M423.74 669.99v3.27M422.10 687.98h3.27M423.74 686.34v3.27M422.10 698.88h3.27M423.74 697.24v3.27M423.19 548.46h3.27M424.83 546.82v3.27M423.19 668.36h3.27M424.83 666.72v3.27M424.28 708.69h3.27M425.92 707.05v3.27M425.37 541.92h3.27M427.01 540.28v3.27M425.37 716.32h3.27M427.01 714.68v3.27M426.46 691.25h3.27M428.10 689.61v3.27M426.46 696.70h3.27M428.10 695.06v3.27M427.55 491.78h3.27M429.19 490.14v3.27M427.55 698.88h3.27M429.19 697.24v3.27M428.64 673.81h3.27M430.28 672.17v3.27M428.64 744.66h3.27M430.28 743.02v3.27M429.73 670.54h3.27M431.37 668.90v3.27M429.73 681.44h3.27M431.37 679.80v3.27M430.82 541.92h3.27M432.46 540.28v3.27M430.82 650.92h3.27M432.46 649.28v3.27M430.82 721.77h3.27M432.46 720.13v3.27M431.91 533.20h3.27M433.55 531.56v3.27M431.91 691.25h3.27M433.55 689.61v3.27M433.00 666.18h3.27M434.64 664.54v3.27M433.00 677.08h3.27M434.64 675.44v3.27M435.18 686.89h3.27M436.82 685.25v3.27M435.18 708.69h3.27M436.82 707.05v3.27M436.27 552.82h3.27M437.91 551.18v3.27M436.27 694.52h3.27M437.91 692.88v3.27M436.27 727.22h3.27M437.91 725.58v3.27M437.36 658.55h3.27M439.00 656.91v3.27M437.36 669.45h3.27M439.00 667.81v3.27M437.36 713.05h3.27M439.00 711.41v3.27M437.36 734.85h3.27M439.00 733.21v3.27M438.45 540.83h3.27M440.09 539.19v3.27M438.45 687.98h3.27M440.09 686.34v3.27M439.54 532.11h3.27M441.18 530.47v3.27M439.54 690.16h3.27M441.18 688.52v3.27M440.63 490.69h3.27M442.27 489.05v3.27M441.72 716.32h3.27M443.36 714.68v3.27M441.72 727.22h3.27M443.36 725.58v3.27M442.81 691.25h3.27M444.45 689.61v3.27M442.81 713.05h3.27M444.45 711.41v3.27M443.90 666.18h3.27M445.54 664.54v3.27M444.99 532.11h3.27M446.63 530.47v3.27M446.08 517.94h3.27M447.72 516.30v3.27M446.08 686.89h3.27M447.72 685.25v3.27M446.08 708.69h3.27M447.72 707.05v3.27M447.17 727.22h3.27M448.81 725.58v3.27M448.26 658.55h3.27M449.90 656.91v3.27M448.26 696.70h3.27M449.90 695.06v3.27M449.35 546.28h3.27M450.99 544.64v3.27M449.35 562.63h3.27M450.99 560.99v3.27M449.35 649.83h3.27M450.99 648.19v3.27M449.35 682.53h3.27M450.99 680.89v3.27M449.35 698.88h3.27M450.99 697.24v3.27M450.44 679.26h3.27M452.08 677.62v3.27M450.44 690.16h3.27M452.08 688.52v3.27M450.44 744.66h3.27M452.08 743.02v3.27M451.53 517.94h3.27M453.17 516.30v3.27M451.53 681.44h3.27M453.17 679.80v3.27M451.53 703.24h3.27M453.17 701.60v3.27M452.62 531.02h3.27M454.26 529.38v3.27M452.62 727.22h3.27M454.26 725.58v3.27M453.71 713.05h3.27M455.35 711.41v3.27M453.71 734.85h3.27M455.35 733.21v3.27M454.80 551.73h3.27M456.44 550.09v3.27M454.80 660.73h3.27M456.44 659.09v3.27M454.80 698.88h3.27M456.44 697.24v3.27M455.89 684.71h3.27M457.53 683.07v3.27M455.89 690.16h3.27M457.53 688.52v3.27M455.89 706.51h3.27M457.53 704.87v3.27M456.98 517.94h3.27M458.62 516.30v3.27M456.98 703.24h3.27M458.62 701.60v3.27M458.07 694.52h3.27M459.71 692.88v3.27M459.16 674.90h3.27M460.80 673.26v3.27M459.16 713.05h3.27M460.80 711.41v3.27M460.25 666.18h3.27M461.89 664.54v3.27M461.34 559.36h3.27M462.98 557.72v3.27M461.34 668.36h3.27M462.98 666.72v3.27M461.34 701.06h3.27M462.98 699.42v3.27M461.34 706.51h3.27M462.98 704.87v3.27M462.43 545.19h3.27M464.07 543.55v3.27M462.43 686.89h3.27M464.07 685.25v3.27M462.43 703.24h3.27M464.07 701.60v3.27M463.52 667.27h3.27M465.16 665.63v3.27M463.52 716.32h3.27M465.16 714.68v3.27M463.52 727.22h3.27M465.16 725.58v3.27M464.61 669.45h3.27M466.25 667.81v3.27M464.61 696.70h3.27M466.25 695.06v3.27M465.70 644.38h3.27M467.34 642.74v3.27M465.70 671.63h3.27M467.34 669.99v3.27M465.70 687.98h3.27M467.34 686.34v3.27M466.79 701.06h3.27M468.43 699.42v3.27M468.97 558.27h3.27M470.61 556.63v3.27M468.97 716.32h3.27M470.61 714.68v3.27M468.97 727.22h3.27M470.61 725.58v3.27M470.06 538.65h3.27M471.70 537.01v3.27M470.06 680.35h3.27M471.70 678.71v3.27M470.06 713.05h3.27M471.70 711.41v3.27M471.15 687.98h3.27M472.79 686.34v3.27M472.24 690.16h3.27M473.88 688.52v3.27M472.24 706.51h3.27M473.88 704.87v3.27M473.33 566.99h3.27M474.97 565.35v3.27M473.33 659.64h3.27M474.97 658.00v3.27M473.33 686.89h3.27M474.97 685.25v3.27M473.33 708.69h3.27M474.97 707.05v3.27M474.42 678.17h3.27M476.06 676.53v3.27M474.42 716.32h3.27M476.06 714.68v3.27M474.42 727.22h3.27M476.06 725.58v3.27M475.51 713.05h3.27M477.15 711.41v3.27M476.60 671.63h3.27M478.24 669.99v3.27M476.60 687.98h3.27M478.24 686.34v3.27M477.69 673.81h3.27M479.33 672.17v3.27M478.78 528.84h3.27M480.42 527.20v3.27M478.78 670.54h3.27M480.42 668.90v3.27M478.78 708.69h3.27M480.42 707.05v3.27M479.87 487.42h3.27M481.51 485.78v3.27M479.87 727.22h3.27M481.51 725.58v3.27M480.96 691.25h3.27M482.60 689.61v3.27M480.96 696.70h3.27M482.60 695.06v3.27M482.05 649.83h3.27M483.69 648.19v3.27M482.05 671.63h3.27M483.69 669.99v3.27M482.05 693.43h3.27M483.69 691.79v3.27M483.14 537.56h3.27M484.78 535.92v3.27M483.14 701.06h3.27M484.78 699.42v3.27M484.23 583.34h3.27M485.87 581.70v3.27M485.32 727.22h3.27M486.96 725.58v3.27M486.41 664.00h3.27M488.05 662.36v3.27M487.50 660.73h3.27M489.14 659.09v3.27M488.59 548.46h3.27M490.23 546.82v3.27M488.59 668.36h3.27M490.23 666.72v3.27M488.59 673.81h3.27M490.23 672.17v3.27M488.59 701.06h3.27M490.23 699.42v3.27M490.77 514.67h3.27M492.41 513.03v3.27M490.77 727.22h3.27M492.41 725.58v3.27M491.86 527.75h3.27M493.50 526.11v3.27M491.86 685.80h3.27M493.50 684.16v3.27M491.86 713.05h3.27M493.50 711.41v3.27M491.86 734.85h3.27M493.50 733.21v3.27M492.95 660.73h3.27M494.59 659.09v3.27M492.95 693.43h3.27M494.59 691.79v3.27M492.95 698.88h3.27M494.59 697.24v3.27M494.04 543.01h3.27M495.68 541.37v3.27M494.04 548.46h3.27M495.68 546.82v3.27M495.13 556.09h3.27M496.77 554.45v3.27M496.22 716.32h3.27M497.86 714.68v3.27M496.22 721.77h3.27M497.86 720.13v3.27M497.31 527.75h3.27M498.95 526.11v3.27M497.31 685.80h3.27M498.95 684.16v3.27M497.31 734.85h3.27M498.95 733.21v3.27M498.40 671.63h3.27M500.04 669.99v3.27M499.49 543.01h3.27M501.13 541.37v3.27M499.49 668.36h3.27M501.13 666.72v3.27M500.58 703.24h3.27M502.22 701.60v3.27M500.58 708.69h3.27M502.22 707.05v3.27M501.67 552.82h3.27M503.31 551.18v3.27M501.67 694.52h3.27M503.31 692.88v3.27M501.67 721.77h3.27M503.31 720.13v3.27M501.67 727.22h3.27M503.31 725.58v3.27M502.76 680.35h3.27M504.40 678.71v3.27M502.76 696.70h3.27M504.40 695.06v3.27M504.94 668.36h3.27M506.58 666.72v3.27M504.94 690.16h3.27M506.58 688.52v3.27M504.94 701.06h3.27M506.58 699.42v3.27M506.03 708.69h3.27M507.67 707.05v3.27M507.12 678.17h3.27M508.76 676.53v3.27M507.12 716.32h3.27M508.76 714.68v3.27M507.12 721.77h3.27M508.76 720.13v3.27M508.21 734.85h3.27M509.85 733.21v3.27M509.30 535.38h3.27M510.94 533.74v3.27M509.30 638.93h3.27M510.94 637.29v3.27M509.30 671.63h3.27M510.94 669.99v3.27M509.30 693.43h3.27M510.94 691.79v3.27M509.30 698.88h3.27M510.94 697.24v3.27M510.39 526.66h3.27M512.03 525.02v3.27M510.39 706.51h3.27M512.03 704.87v3.27M511.48 686.89h3.27M513.12 685.25v3.27M511.48 708.69h3.27M513.12 707.05v3.27M512.57 716.32h3.27M514.21 714.68v3.27M512.57 721.77h3.27M514.21 720.13v3.27M513.66 555.00h3.27M515.30 553.36v3.27M513.66 685.80h3.27M515.30 684.16v3.27M513.66 713.05h3.27M515.30 711.41v3.27M514.75 513.58h3.27M516.39 511.94v3.27M514.75 671.63h3.27M516.39 669.99v3.27M514.75 693.43h3.27M516.39 691.79v3.27M515.84 690.16h3.27M517.48 688.52v3.27M516.93 686.89h3.27M518.57 685.25v3.27M516.93 708.69h3.27M518.57 707.05v3.27M518.02 541.92h3.27M519.66 540.28v3.27M518.02 661.82h3.27M519.66 660.18v3.27M518.02 694.52h3.27M519.66 692.88v3.27M518.02 716.32h3.27M519.66 714.68v3.27M518.02 727.22h3.27M519.66 725.58v3.27M519.11 555.00h3.27M520.75 553.36v3.27M520.20 655.28h3.27M521.84 653.64v3.27M520.20 666.18h3.27M521.84 664.54v3.27M520.20 682.53h3.27M521.84 680.89v3.27M521.29 526.66h3.27M522.93 525.02v3.27M522.38 512.49h3.27M524.02 510.85v3.27M522.38 686.89h3.27M524.02 685.25v3.27M523.47 678.17h3.27M525.11 676.53v3.27M523.47 694.52h3.27M525.11 692.88v3.27M523.47 716.32h3.27M525.11 714.68v3.27M523.47 727.22h3.27M525.11 725.58v3.27M524.56 636.75h3.27M526.20 635.11v3.27M524.56 691.25h3.27M526.20 689.61v3.27M524.56 696.70h3.27M526.20 695.06v3.27M524.56 713.05h3.27M526.20 711.41v3.27M525.65 655.28h3.27M527.29 653.64v3.27M525.65 687.98h3.27M527.29 686.34v3.27M525.65 698.88h3.27M527.29 697.24v3.27M526.74 701.06h3.27M528.38 699.42v3.27M526.74 706.51h3.27M528.38 704.87v3.27M526.74 744.66h3.27M528.38 743.02v3.27M527.83 550.64h3.27M529.47 549.00v3.27M528.92 525.57h3.27M530.56 523.93v3.27M530.01 664.00h3.27M531.65 662.36v3.27M530.01 696.70h3.27M531.65 695.06v3.27M530.01 734.85h3.27M531.65 733.21v3.27M531.10 698.88h3.27M532.74 697.24v3.27M532.19 553.91h3.27M533.83 552.27v3.27M532.19 679.26h3.27M533.83 677.62v3.27M532.19 706.51h3.27M533.83 704.87v3.27M533.28 512.49h3.27M534.92 510.85v3.27M534.37 525.57h3.27M536.01 523.93v3.27M534.37 661.82h3.27M536.01 660.18v3.27M534.37 716.32h3.27M536.01 714.68v3.27M535.46 484.15h3.27M537.10 482.51v3.27M535.46 674.90h3.27M537.10 673.26v3.27M535.46 691.25h3.27M537.10 689.61v3.27M536.55 682.53h3.27M538.19 680.89v3.27M536.55 693.43h3.27M538.19 691.79v3.27M537.64 483.06h3.27M539.28 481.42v3.27M538.73 512.49h3.27M540.37 510.85v3.27M538.73 708.69h3.27M540.37 707.05v3.27M539.82 694.52h3.27M541.46 692.88v3.27M539.82 721.77h3.27M541.46 720.13v3.27M540.91 533.20h3.27M542.55 531.56v3.27M540.91 549.55h3.27M542.55 547.91v3.27M540.91 674.90h3.27M542.55 673.26v3.27M540.91 696.70h3.27M542.55 695.06v3.27M540.91 713.05h3.27M542.55 711.41v3.27M542.00 687.98h3.27M543.64 686.34v3.27M542.00 693.43h3.27M543.64 691.79v3.27M544.18 539.74h3.27M545.82 538.10v3.27M544.18 648.74h3.27M545.82 647.10v3.27M544.18 675.99h3.27M545.82 674.35v3.27M544.18 703.24h3.27M545.82 701.60v3.27M545.27 694.52h3.27M546.91 692.88v3.27M545.27 721.77h3.27M546.91 720.13v3.27M545.27 727.22h3.27M546.91 725.58v3.27M546.36 511.40h3.27M548.00 509.76v3.27M547.45 524.48h3.27M549.09 522.84v3.27M548.54 483.06h3.27M550.18 481.42v3.27M548.54 684.71h3.27M550.18 683.07v3.27M548.54 690.16h3.27M550.18 688.52v3.27M548.54 744.66h3.27M550.18 743.02v3.27M549.63 539.74h3.27M551.27 538.10v3.27M549.63 643.29h3.27M551.27 641.65v3.27M549.63 708.69h3.27M551.27 707.05v3.27M550.72 716.32h3.27M552.36 714.68v3.27M551.81 511.40h3.27M553.45 509.76v3.27M552.90 671.63h3.27M554.54 669.99v3.27M552.90 687.98h3.27M554.54 686.34v3.27M555.08 708.69h3.27M556.72 707.05v3.27M556.17 481.97h3.27M557.81 480.33v3.27M556.17 661.82h3.27M557.81 660.18v3.27M556.17 694.52h3.27M557.81 692.88v3.27M557.26 696.70h3.27M558.90 695.06v3.27M558.35 524.48h3.27M559.99 522.84v3.27M558.35 698.88h3.27M559.99 697.24v3.27M560.53 523.39h3.27M562.17 521.75v3.27M560.53 675.99h3.27M562.17 674.35v3.27M561.62 481.97h3.27M563.26 480.33v3.27M561.62 678.17h3.27M563.26 676.53v3.27M561.62 721.77h3.27M563.26 720.13v3.27M561.62 727.22h3.27M563.26 725.58v3.27M562.71 538.65h3.27M564.35 537.01v3.27M562.71 680.35h3.27M564.35 678.71v3.27M563.80 693.43h3.27M565.44 691.79v3.27M563.80 698.88h3.27M565.44 697.24v3.27M564.89 532.11h3.27M566.53 530.47v3.27M565.98 566.99h3.27M567.62 565.35v3.27M565.98 703.24h3.27M567.62 701.60v3.27M567.07 645.47h3.27M568.71 643.83v3.27M567.07 678.17h3.27M568.71 676.53v3.27M567.07 721.77h3.27M568.71 720.13v3.27M567.07 727.22h3.27M568.71 725.58v3.27M568.16 544.10h3.27M569.80 542.46v3.27M568.16 674.90h3.27M569.80 673.26v3.27M569.25 682.53h3.27M570.89 680.89v3.27" stroke="#000" stroke-width="0.545" fill="none"/>
<path d="M82.02 716.32h3.27M83.66 714.68v3.27M87.47 640.02h3.27M89.11 638.38v3.27M88.56 734.85h3.27M90.20 733.21v3.27M90.74 597.51h3.27M92.38 595.87v3.27M94.01 734.85h3.27M95.65 733.21v3.27M98.37 716.32h3.27M100.01 714.68v3.27M99.46 620.40h3.27M101.10 618.76v3.27M101.64 602.96h3.27M103.28 601.32v3.27M101.64 744.66h3.27M103.28 743.02v3.27M103.82 721.77h3.27M105.46 720.13v3.27M104.91 598.60h3.27M106.55 596.96v3.27M107.09 701.06h3.27M108.73 699.42v3.27M108.18 566.99h3.27M109.82 565.35v3.27M110.36 593.15h3.27M112.00 591.51v3.27M110.36 713.05h3.27M112.00 711.41v3.27M111.45 687.98h3.27M113.09 686.34v3.27M113.63 703.24h3.27M115.27 701.60v3.27M113.63 708.69h3.27M115.27 707.05v3.27M120.17 716.32h3.27M121.81 714.68v3.27M121.26 555.00h3.27M122.90 553.36v3.27M121.26 713.05h3.27M122.90 711.41v3.27M123.44 581.16h3.27M125.08 579.52v3.27M123.44 706.51h3.27M125.08 704.87v3.27M125.62 580.07h3.27M127.26 578.43v3.27M125.62 716.32h3.27M127.26 714.68v3.27M125.62 721.77h3.27M127.26 720.13v3.27M128.89 744.66h3.27M130.53 743.02v3.27M131.07 547.37h3.27M132.71 545.73v3.27M131.07 721.77h3.27M132.71 720.13v3.27M134.34 701.06h3.27M135.98 699.42v3.27M135.43 545.19h3.27M137.07 543.55v3.27M136.52 727.22h3.27M138.16 725.58v3.27M137.61 544.10h3.27M139.25 542.46v3.27M137.61 696.70h3.27M139.25 695.06v3.27M138.70 682.53h3.27M140.34 680.89v3.27M141.97 541.92h3.27M143.61 540.28v3.27M141.97 721.77h3.27M143.61 720.13v3.27M141.97 727.22h3.27M143.61 725.58v3.27M145.24 706.51h3.27M146.88 704.87v3.27M147.42 721.77h3.27M149.06 720.13v3.27M147.42 727.22h3.27M149.06 725.58v3.27M148.51 674.90h3.27M150.15 673.26v3.27M150.69 537.56h3.27M152.33 535.92v3.27M152.87 727.22h3.27M154.51 725.58v3.27M156.14 744.66h3.27M157.78 743.02v3.27M158.32 563.72h3.27M159.96 562.08v3.27M162.68 703.24h3.27M164.32 701.60v3.27M163.77 574.62h3.27M165.41 572.98v3.27M169.22 721.77h3.27M170.86 720.13v3.27M170.31 691.25h3.27M171.95 689.61v3.27M171.40 698.88h3.27M173.04 697.24v3.27M174.67 558.27h3.27M176.31 556.63v3.27M175.76 734.85h3.27M177.40 733.21v3.27M176.85 557.18h3.27M178.49 555.54v3.27M177.94 684.71h3.27M179.58 683.07v3.27M180.12 716.32h3.27M181.76 714.68v3.27M186.66 713.05h3.27M188.30 711.41v3.27M186.66 734.85h3.27M188.30 733.21v3.27M191.02 552.82h3.27M192.66 551.18v3.27M191.02 694.52h3.27M192.66 692.88v3.27M191.02 716.32h3.27M192.66 714.68v3.27M193.20 698.88h3.27M194.84 697.24v3.27M194.29 701.06h3.27M195.93 699.42v3.27M196.47 721.77h3.27M198.11 720.13v3.27M197.56 696.70h3.27M199.20 695.06v3.27M200.83 550.64h3.27M202.47 549.00v3.27M200.83 703.24h3.27M202.47 701.60v3.27M201.92 721.77h3.27M203.56 720.13v3.27M203.01 734.85h3.27M204.65 733.21v3.27M207.37 721.77h3.27M209.01 720.13v3.27M212.82 520.12h3.27M214.46 518.48v3.27M213.91 696.70h3.27M215.55 695.06v3.27M213.91 734.85h3.27M215.55 733.21v3.27M215.00 519.03h3.27M216.64 517.39v3.27M216.09 706.51h3.27M217.73 704.87v3.27M219.36 734.85h3.27M221.00 733.21v3.27M220.45 546.28h3.27M222.09 544.64v3.27M221.54 706.51h3.27M223.18 704.87v3.27M221.54 744.66h3.27M223.18 743.02v3.27M223.72 727.22h3.27M225.36 725.58v3.27M224.81 516.85h3.27M226.45 515.21v3.27M226.99 701.06h3.27M228.63 699.42v3.27M226.99 706.51h3.27M228.63 704.87v3.27M232.44 515.76h3.27M234.08 514.12v3.27M232.44 701.06h3.27M234.08 699.42v3.27M234.62 514.67h3.27M236.26 513.03v3.27M236.80 698.88h3.27M238.44 697.24v3.27M237.89 543.01h3.27M239.53 541.37v3.27M237.89 744.66h3.27M239.53 743.02v3.27M238.98 708.69h3.27M240.62 707.05v3.27M240.07 716.32h3.27M241.71 714.68v3.27M247.70 540.83h3.27M249.34 539.19v3.27M248.79 744.66h3.27M250.43 743.02v3.27M249.88 512.49h3.27M251.52 510.85v3.27M250.97 721.77h3.27M252.61 720.13v3.27M256.42 727.22h3.27M258.06 725.58v3.27M257.51 511.40h3.27M259.15 509.76v3.27M257.51 734.85h3.27M259.15 733.21v3.27M261.87 716.32h3.27M263.51 714.68v3.27M261.87 721.77h3.27M263.51 720.13v3.27M261.87 727.22h3.27M263.51 725.58v3.27M265.14 744.66h3.27M266.78 743.02v3.27M271.68 550.64h3.27M273.32 549.00v3.27M272.77 727.22h3.27M274.41 725.58v3.27M278.22 716.32h3.27M279.86 714.68v3.27M280.40 535.38h3.27M282.04 533.74v3.27M281.49 701.06h3.27M283.13 699.42v3.27M281.49 744.66h3.27M283.13 743.02v3.27M283.67 716.32h3.27M285.31 714.68v3.27M288.03 534.29h3.27M289.67 532.65v3.27M289.12 716.32h3.27M290.76 714.68v3.27M289.12 721.77h3.27M290.76 720.13v3.27M290.21 713.05h3.27M291.85 711.41v3.27M291.30 562.63h3.27M292.94 560.99v3.27M297.84 744.66h3.27M299.48 743.02v3.27M300.02 716.32h3.27M301.66 714.68v3.27M300.02 721.77h3.27M301.66 720.13v3.27M301.11 555.00h3.27M302.75 553.36v3.27M302.20 546.28h3.27M303.84 544.64v3.27M305.47 721.77h3.27M307.11 720.13v3.27M306.56 691.25h3.27M308.20 689.61v3.27M306.56 734.85h3.27M308.20 733.21v3.27M308.74 701.06h3.27M310.38 699.42v3.27M310.92 503.77h3.27M312.56 502.13v3.27M310.92 716.32h3.27M312.56 714.68v3.27M312.01 713.05h3.27M313.65 711.41v3.27M314.19 701.06h3.27M315.83 699.42v3.27M316.37 531.02h3.27M318.01 529.38v3.27M316.37 727.22h3.27M318.01 725.58v3.27M318.55 502.68h3.27M320.19 501.04v3.27M320.73 703.24h3.27M322.37 701.60v3.27M321.82 716.32h3.27M323.46 714.68v3.27M324.00 529.93h3.27M325.64 528.29v3.27M325.09 706.51h3.27M326.73 704.87v3.27M330.54 543.01h3.27M332.18 541.37v3.27M330.54 701.06h3.27M332.18 699.42v3.27M337.08 528.84h3.27M338.72 527.20v3.27M341.44 744.66h3.27M343.08 743.02v3.27M343.62 721.77h3.27M345.26 720.13v3.27M343.62 727.22h3.27M345.26 725.58v3.27M344.71 734.85h3.27M346.35 733.21v3.27M346.89 684.71h3.27M348.53 683.07v3.27M347.98 708.69h3.27M349.62 707.05v3.27M350.16 658.55h3.27M351.80 656.91v3.27M354.52 498.32h3.27M356.16 496.68v3.27M359.97 694.52h3.27M361.61 692.88v3.27M359.97 727.22h3.27M361.61 725.58v3.27M361.06 734.85h3.27M362.70 733.21v3.27M363.24 553.91h3.27M364.88 552.27v3.27M363.24 744.66h3.27M364.88 743.02v3.27M366.51 696.70h3.27M368.15 695.06v3.27M366.51 713.05h3.27M368.15 711.41v3.27M366.51 734.85h3.27M368.15 733.21v3.27M370.87 721.77h3.27M372.51 720.13v3.27M371.96 680.35h3.27M373.60 678.71v3.27M379.59 706.51h3.27M381.23 704.87v3.27M380.68 708.69h3.27M382.32 707.05v3.27M381.77 721.77h3.27M383.41 720.13v3.27M381.77 727.22h3.27M383.41 725.58v3.27M382.86 713.05h3.27M384.50 711.41v3.27M386.13 708.69h3.27M387.77 707.05v3.27M388.31 495.05h3.27M389.95 493.41v3.27M388.31 713.05h3.27M389.95 711.41v3.27M390.49 684.71h3.27M392.13 683.07v3.27M390.49 744.66h3.27M392.13 743.02v3.27M391.58 703.24h3.27M393.22 701.60v3.27M392.67 536.47h3.27M394.31 534.83v3.27M392.67 721.77h3.27M394.31 720.13v3.27M394.85 551.73h3.27M396.49 550.09v3.27M395.94 493.96h3.27M397.58 492.32v3.27M395.94 744.66h3.27M397.58 743.02v3.27M397.03 708.69h3.27M398.67 707.05v3.27M399.21 522.30h3.27M400.85 520.66v3.27M401.39 493.96h3.27M403.03 492.32v3.27M401.39 701.06h3.27M403.03 699.42v3.27M403.57 716.32h3.27M405.21 714.68v3.27M409.02 492.87h3.27M410.66 491.23v3.27M409.02 694.52h3.27M410.66 692.88v3.27M409.02 721.77h3.27M410.66 720.13v3.27M409.02 727.22h3.27M410.66 725.58v3.27M412.29 521.21h3.27M413.93 519.57v3.27M412.29 543.01h3.27M413.93 541.37v3.27M414.47 492.87h3.27M416.11 491.23v3.27M419.92 727.22h3.27M421.56 725.58v3.27M422.10 682.53h3.27M423.74 680.89v3.27M422.10 693.43h3.27M423.74 691.79v3.27M423.19 706.51h3.27M424.83 704.87v3.27M423.19 744.66h3.27M424.83 743.02v3.27M425.37 520.12h3.27M427.01 518.48v3.27M425.37 721.77h3.27M427.01 720.13v3.27M426.46 713.05h3.27M428.10 711.41v3.27M426.46 734.85h3.27M428.10 733.21v3.27M434.09 701.06h3.27M435.73 699.42v3.27M434.09 744.66h3.27M435.73 743.02v3.27M435.18 490.69h3.27M436.82 489.05v3.27M435.18 659.64h3.27M436.82 658.00v3.27M435.18 703.24h3.27M436.82 701.60v3.27M436.27 716.32h3.27M437.91 714.68v3.27M438.45 519.03h3.27M440.09 517.39v3.27M443.90 519.03h3.27M445.54 517.39v3.27M444.99 744.66h3.27M446.63 743.02v3.27M451.53 539.74h3.27M453.17 538.10v3.27M453.71 489.60h3.27M455.35 487.96v3.27M454.80 546.28h3.27M456.44 544.64v3.27M455.89 744.66h3.27M457.53 743.02v3.27M458.07 531.02h3.27M459.71 529.38v3.27M458.07 721.77h3.27M459.71 720.13v3.27M458.07 727.22h3.27M459.71 725.58v3.27M459.16 734.85h3.27M460.80 733.21v3.27M461.34 488.51h3.27M462.98 486.87v3.27M463.52 678.17h3.27M465.16 676.53v3.27M464.61 713.05h3.27M466.25 711.41v3.27M465.70 655.28h3.27M467.34 653.64v3.27M465.70 698.88h3.27M467.34 697.24v3.27M466.79 488.51h3.27M468.43 486.87v3.27M470.06 734.85h3.27M471.70 733.21v3.27M471.15 529.93h3.27M472.79 528.29v3.27M473.33 545.19h3.27M474.97 543.55v3.27M474.42 694.52h3.27M476.06 692.88v3.27M475.51 691.25h3.27M477.15 689.61v3.27M475.51 734.85h3.27M477.15 733.21v3.27M477.69 701.06h3.27M479.33 699.42v3.27M480.96 685.80h3.27M482.60 684.16v3.27M483.14 744.66h3.27M484.78 743.02v3.27M484.23 528.84h3.27M485.87 527.20v3.27M485.32 667.27h3.27M486.96 665.63v3.27M486.41 544.10h3.27M488.05 542.46v3.27M486.41 713.05h3.27M488.05 711.41v3.27M488.59 515.76h3.27M490.23 514.12v3.27M490.77 716.32h3.27M492.41 714.68v3.27M490.77 721.77h3.27M492.41 720.13v3.27M491.86 696.70h3.27M493.50 695.06v3.27M495.13 708.69h3.27M496.77 707.05v3.27M496.22 727.22h3.27M497.86 725.58v3.27M497.31 713.05h3.27M498.95 711.41v3.27M499.49 706.51h3.27M501.13 704.87v3.27M501.67 716.32h3.27M503.31 714.68v3.27M506.03 485.24h3.27M507.67 483.60v3.27M506.03 703.24h3.27M507.67 701.60v3.27M510.39 744.66h3.27M512.03 743.02v3.27M513.66 669.45h3.27M515.30 667.81v3.27M515.84 526.66h3.27M517.48 525.02v3.27M515.84 744.66h3.27M517.48 743.02v3.27M516.93 485.24h3.27M518.57 483.60v3.27M519.11 713.05h3.27M520.75 711.41v3.27M520.20 698.88h3.27M521.84 697.24v3.27M521.29 673.81h3.27M522.93 672.17v3.27M521.29 706.51h3.27M522.93 704.87v3.27M521.29 744.66h3.27M522.93 743.02v3.27M523.47 721.77h3.27M525.11 720.13v3.27M527.83 512.49h3.27M529.47 510.85v3.27M527.83 708.69h3.27M529.47 707.05v3.27M528.92 716.32h3.27M530.56 714.68v3.27M528.92 721.77h3.27M530.56 720.13v3.27M530.01 713.05h3.27M531.65 711.41v3.27M533.28 534.29h3.27M534.92 532.65v3.27M534.37 727.22h3.27M536.01 725.58v3.27M535.46 696.70h3.27M537.10 695.06v3.27M537.64 701.06h3.27M539.28 699.42v3.27M539.82 525.57h3.27M541.46 523.93v3.27M539.82 727.22h3.27M541.46 725.58v3.27M542.00 698.88h3.27M543.64 697.24v3.27M543.09 483.06h3.27M544.73 481.42v3.27M549.63 703.24h3.27M551.27 701.60v3.27M550.72 678.17h3.27M552.36 676.53v3.27M550.72 721.77h3.27M552.36 720.13v3.27M551.81 696.70h3.27M553.45 695.06v3.27M552.90 698.88h3.27M554.54 697.24v3.27M555.08 539.74h3.27M556.72 538.10v3.27M556.17 721.77h3.27M557.81 720.13v3.27M557.26 734.85h3.27M558.90 733.21v3.27M560.53 703.24h3.27M562.17 701.60v3.27M561.62 694.52h3.27M563.26 692.88v3.27M561.62 716.32h3.27M563.26 714.68v3.27M562.71 669.45h3.27M564.35 667.81v3.27M562.71 696.70h3.27M564.35 695.06v3.27M564.89 510.31h3.27M566.53 508.67v3.27M564.89 744.66h3.27M566.53 743.02v3.27M567.07 481.97h3.27M568.71 480.33v3.27" stroke="#000" stroke-width="0.818" fill="none"/>
<path d="M84.20 660.73h3.27M85.84 659.09v3.27M89.65 644.38h3.27M91.29 642.74v3.27M90.74 744.66h3.27M92.38 743.02v3.27M107.09 744.66h3.27M108.73 743.02v3.27M117.99 701.06h3.27M119.63 699.42v3.27M120.17 721.77h3.27M121.81 720.13v3.27M125.62 727.22h3.27M127.26 725.58v3.27M140.88 686.89h3.27M142.52 685.25v3.27M150.69 744.66h3.27M152.33 743.02v3.27M152.87 721.77h3.27M154.51 720.13v3.27M156.14 564.81h3.27M157.78 563.17v3.27M156.14 586.61h3.27M157.78 584.97v3.27M162.68 561.54h3.27M164.32 559.90v3.27M169.22 531.02h3.27M170.86 529.38v3.27M177.94 744.66h3.27M179.58 743.02v3.27M183.39 744.66h3.27M185.03 743.02v3.27M193.20 524.48h3.27M194.84 522.84v3.27M205.19 744.66h3.27M206.83 743.02v3.27M210.64 548.46h3.27M212.28 546.82v3.27M210.64 744.66h3.27M212.28 743.02v3.27M216.09 744.66h3.27M217.73 743.02v3.27M226.99 744.66h3.27M228.63 743.02v3.27M229.17 727.22h3.27M230.81 725.58v3.27M234.62 721.77h3.27M236.26 720.13v3.27M243.34 744.66h3.27M244.98 743.02v3.27M244.43 703.24h3.27M246.07 701.60v3.27M250.97 727.22h3.27M252.61 725.58v3.27M255.33 539.74h3.27M256.97 538.10v3.27M256.42 721.77h3.27M258.06 720.13v3.27M259.69 510.31h3.27M261.33 508.67v3.27M267.32 509.22h3.27M268.96 507.58v3.27M274.95 508.13h3.27M276.59 506.49v3.27M278.22 536.47h3.27M279.86 534.83v3.27M282.58 507.04h3.27M284.22 505.40v3.27M285.85 535.38h3.27M287.49 533.74v3.27M286.94 744.66h3.27M288.58 743.02v3.27M289.12 547.37h3.27M290.76 545.73v3.27M290.21 734.85h3.27M291.85 733.21v3.27M292.39 744.66h3.27M294.03 743.02v3.27M297.84 504.86h3.27M299.48 503.22v3.27M300.02 727.22h3.27M301.66 725.58v3.27M304.38 561.54h3.27M306.02 559.90v3.27M308.74 532.11h3.27M310.38 530.47v3.27M314.19 744.66h3.27M315.83 743.02v3.27M317.46 544.10h3.27M319.10 542.46v3.27M319.64 744.66h3.27M321.28 743.02v3.27M320.73 708.69h3.27M322.37 707.05v3.27M321.82 727.22h3.27M323.46 725.58v3.27M325.09 744.66h3.27M326.73 743.02v3.27M326.18 501.59h3.27M327.82 499.95v3.27M330.54 744.66h3.27M332.18 743.02v3.27M332.72 721.77h3.27M334.36 720.13v3.27M333.81 500.50h3.27M335.45 498.86v3.27M333.81 734.85h3.27M335.45 733.21v3.27M338.17 727.22h3.27M339.81 725.58v3.27M341.44 499.41h3.27M343.08 497.77v3.27M346.89 701.06h3.27M348.53 699.42v3.27M349.07 721.77h3.27M350.71 720.13v3.27M352.34 744.66h3.27M353.98 743.02v3.27M354.52 727.22h3.27M356.16 725.58v3.27M357.79 744.66h3.27M359.43 743.02v3.27M368.69 706.51h3.27M370.33 704.87v3.27M370.87 727.22h3.27M372.51 725.58v3.27M378.50 524.48h3.27M380.14 522.84v3.27M379.59 701.06h3.27M381.23 699.42v3.27M379.59 744.66h3.27M381.23 743.02v3.27M386.13 523.39h3.27M387.77 521.75v3.27M387.22 721.77h3.27M388.86 720.13v3.27M399.21 713.05h3.27M400.85 711.41v3.27M401.39 744.66h3.27M403.03 743.02v3.27M404.66 522.30h3.27M406.30 520.66v3.27M412.29 744.66h3.27M413.93 743.02v3.27M417.74 744.66h3.27M419.38 743.02v3.27M439.54 744.66h3.27M441.18 743.02v3.27M441.72 721.77h3.27M443.36 720.13v3.27M448.26 489.60h3.27M449.90 487.96v3.27M461.34 744.66h3.27M462.98 743.02v3.27M472.24 488.51h3.27M473.88 486.87v3.27M474.42 487.42h3.27M476.06 485.78v3.27M483.14 515.76h3.27M484.78 514.12v3.27M485.32 487.42h3.27M486.96 485.78v3.27M488.59 744.66h3.27M490.23 743.02v3.27M492.95 486.33h3.27M494.59 484.69v3.27M498.40 486.33h3.27M500.04 484.69v3.27M502.76 734.85h3.27M504.40 733.21v3.27M511.48 485.24h3.27M513.12 483.60v3.27M518.02 721.77h3.27M519.66 720.13v3.27M528.92 727.22h3.27M530.56 725.58v3.27M532.19 744.66h3.27M533.83 743.02v3.27M535.46 713.05h3.27M537.10 711.41v3.27M551.81 734.85h3.27M553.45 733.21v3.27" stroke="#000" stroke-width="0.954" fill="none"/>
<path d="M85.29 744.66h3.27M86.93 743.02v3.27M87.47 721.77h3.27M89.11 720.13v3.27M112.54 744.66h3.27M114.18 743.02v3.27M117.99 744.66h3.27M119.63 743.02v3.27M139.79 744.66h3.27M141.43 743.02v3.27M160.50 562.63h3.27M162.14 560.99v3.27M172.49 744.66h3.27M174.13 743.02v3.27M174.67 727.22h3.27M176.31 725.58v3.27M175.76 571.35h3.27M177.40 569.71v3.27M181.21 527.75h3.27M182.85 526.11v3.27M183.39 526.66h3.27M185.03 525.02v3.27M188.84 744.66h3.27M190.48 743.02v3.27M194.29 744.66h3.27M195.93 743.02v3.27M229.17 721.77h3.27M230.81 720.13v3.27M230.26 544.10h3.27M231.90 542.46v3.27M232.44 744.66h3.27M234.08 743.02v3.27M242.25 513.58h3.27M243.89 511.94v3.27M254.24 744.66h3.27M255.88 743.02v3.27M270.59 537.56h3.27M272.23 535.92v3.27M276.04 744.66h3.27M277.68 743.02v3.27M281.49 706.51h3.27M283.13 704.87v3.27M290.21 505.95h3.27M291.85 504.31v3.27M335.99 744.66h3.27M337.63 743.02v3.27M368.69 744.66h3.27M370.33 743.02v3.27M373.05 524.48h3.27M374.69 522.84v3.27M374.14 744.66h3.27M375.78 743.02v3.27M376.32 716.32h3.27M377.96 714.68v3.27M419.92 520.12h3.27M421.56 518.48v3.27M425.37 727.22h3.27M427.01 725.58v3.27M430.82 520.12h3.27M432.46 518.48v3.27M464.61 516.85h3.27M466.25 515.21v3.27M477.69 515.76h3.27M479.33 514.12v3.27M477.69 744.66h3.27M479.33 743.02v3.27M499.49 744.66h3.27M501.13 743.02v3.27M501.67 514.67h3.27M503.31 513.03v3.27M504.94 744.66h3.27M506.58 743.02v3.27M534.37 721.77h3.27M536.01 720.13v3.27M540.91 511.40h3.27M542.55 509.76v3.27M543.09 744.66h3.27M544.73 743.02v3.27M545.27 716.32h3.27M546.91 714.68v3.27M553.99 483.06h3.27M555.63 481.42v3.27M559.44 510.31h3.27M561.08 508.67v3.27M559.44 744.66h3.27M561.08 743.02v3.27" stroke="#000" stroke-width="1.022" fill="none"/>
<path d="M96.19 744.66h3.27M97.83 743.02v3.27M98.37 727.22h3.27M100.01 725.58v3.27M123.44 744.66h3.27M125.08 743.02v3.27M161.59 744.66h3.27M163.23 743.02v3.27M195.38 523.39h3.27M197.02 521.75v3.27M199.74 744.66h3.27M201.38 743.02v3.27M203.01 522.30h3.27M204.65 520.66v3.27M211.73 561.54h3.27M213.37 559.90v3.27M259.69 744.66h3.27M261.33 743.02v3.27M303.29 744.66h3.27M304.93 743.02v3.27M466.79 744.66h3.27M468.43 743.02v3.27M472.24 744.66h3.27M473.88 743.02v3.27M494.04 744.66h3.27M495.68 743.02v3.27M496.22 514.67h3.27M497.86 513.03v3.27M537.64 744.66h3.27M539.28 743.02v3.27M553.99 744.66h3.27M555.63 743.02v3.27" stroke="#000" stroke-width="1.056" fill="none"/>
<path d="M83.11 650.92h3.27M84.75 649.28v3.27M83.11 678.17h3.27M84.75 676.53v3.27M84.20 636.75h3.27M85.84 635.11v3.27M84.20 669.45h3.27M85.84 667.81v3.27M84.20 691.25h3.27M85.84 689.61v3.27M84.20 734.85h3.27M85.84 733.21v3.27M85.29 628.03h3.27M86.93 626.39v3.27M85.29 655.28h3.27M86.93 653.64v3.27M86.38 646.56h3.27M88.02 644.92v3.27M87.47 610.59h3.27M89.11 608.95v3.27M87.47 637.84h3.27M89.11 636.20v3.27M87.47 708.69h3.27M89.11 707.05v3.27M88.56 678.17h3.27M90.20 676.53v3.27M88.56 721.77h3.27M90.20 720.13v3.27M89.65 604.05h3.27M91.29 602.41v3.27M89.65 734.85h3.27M91.29 733.21v3.27M90.74 600.78h3.27M92.38 599.14v3.27M90.74 628.03h3.27M92.38 626.39v3.27M90.74 655.28h3.27M92.38 653.64v3.27M90.74 693.43h3.27M92.38 691.79v3.27M91.83 635.66h3.27M93.47 634.02v3.27M91.83 701.06h3.27M93.47 699.42v3.27M92.92 708.69h3.27M94.56 707.05v3.27M94.01 721.77h3.27M95.65 720.13v3.27M94.01 727.22h3.27M95.65 725.58v3.27M95.10 636.75h3.27M96.74 635.11v3.27M95.10 685.80h3.27M96.74 684.16v3.27M97.28 701.06h3.27M98.92 699.42v3.27M97.28 706.51h3.27M98.92 704.87v3.27M98.37 621.49h3.27M100.01 619.85v3.27M98.37 659.64h3.27M100.01 658.00v3.27M98.37 708.69h3.27M100.01 707.05v3.27M99.46 694.52h3.27M101.10 692.88v3.27M99.46 721.77h3.27M101.10 720.13v3.27M100.55 604.05h3.27M102.19 602.41v3.27M100.55 713.05h3.27M102.19 711.41v3.27M101.64 687.98h3.27M103.28 686.34v3.27M101.64 698.88h3.27M103.28 697.24v3.27M104.91 721.77h3.27M106.55 720.13v3.27M104.91 727.22h3.27M106.55 725.58v3.27M106.00 625.85h3.27M107.64 624.21v3.27M106.00 691.25h3.27M107.64 689.61v3.27M106.00 696.70h3.27M107.64 695.06v3.27M106.00 713.05h3.27M107.64 711.41v3.27M106.00 734.85h3.27M107.64 733.21v3.27M107.09 568.08h3.27M108.73 566.44v3.27M108.18 679.26h3.27M109.82 677.62v3.27M108.18 684.71h3.27M109.82 683.07v3.27M108.18 701.06h3.27M109.82 699.42v3.27M109.27 708.69h3.27M110.91 707.05v3.27M110.36 563.72h3.27M112.00 562.08v3.27M110.36 672.72h3.27M112.00 671.08v3.27M110.36 727.22h3.27M112.00 725.58v3.27M111.45 604.05h3.27M113.09 602.41v3.27M111.45 713.05h3.27M113.09 711.41v3.27M112.54 698.88h3.27M114.18 697.24v3.27M114.72 616.04h3.27M116.36 614.40v3.27M114.72 670.54h3.27M116.36 668.90v3.27M114.72 703.24h3.27M116.36 701.60v3.27M115.81 727.22h3.27M117.45 725.58v3.27M116.90 614.95h3.27M118.54 613.31v3.27M117.99 557.18h3.27M119.63 555.54v3.27M117.99 682.53h3.27M119.63 680.89v3.27M119.08 597.51h3.27M120.72 595.87v3.27M119.08 668.36h3.27M120.72 666.72v3.27M119.08 701.06h3.27M120.72 699.42v3.27M119.08 706.51h3.27M120.72 704.87v3.27M120.17 583.34h3.27M121.81 581.70v3.27M120.17 605.14h3.27M121.81 603.50v3.27M120.17 686.89h3.27M121.81 685.25v3.27M120.17 708.69h3.27M121.81 707.05v3.27M121.26 694.52h3.27M122.90 692.88v3.27M122.35 604.05h3.27M123.99 602.41v3.27M122.35 691.25h3.27M123.99 689.61v3.27M122.35 734.85h3.27M123.99 733.21v3.27M123.44 595.33h3.27M125.08 593.69v3.27M123.44 698.88h3.27M125.08 697.24v3.27M124.53 581.16h3.27M126.17 579.52v3.27M124.53 706.51h3.27M126.17 704.87v3.27M125.62 686.89h3.27M127.26 685.25v3.27M126.71 672.72h3.27M128.35 671.08v3.27M127.80 680.35h3.27M129.44 678.71v3.27M127.80 713.05h3.27M129.44 711.41v3.27M128.89 606.23h3.27M130.53 604.59v3.27M128.89 671.63h3.27M130.53 669.99v3.27M129.98 706.51h3.27M131.62 704.87v3.27M131.07 708.69h3.27M132.71 707.05v3.27M132.16 547.37h3.27M133.80 545.73v3.27M132.16 694.52h3.27M133.80 692.88v3.27M134.34 698.88h3.27M135.98 697.24v3.27M135.43 602.96h3.27M137.07 601.32v3.27M135.43 690.16h3.27M137.07 688.52v3.27M136.52 670.54h3.27M138.16 668.90v3.27M137.61 721.77h3.27M139.25 720.13v3.27M140.88 668.36h3.27M142.52 666.72v3.27M140.88 701.06h3.27M142.52 699.42v3.27M141.97 599.69h3.27M143.61 598.05v3.27M141.97 675.99h3.27M143.61 674.35v3.27M141.97 708.69h3.27M143.61 707.05v3.27M143.06 727.22h3.27M144.70 725.58v3.27M144.15 598.60h3.27M145.79 596.96v3.27M144.15 685.80h3.27M145.79 684.16v3.27M144.15 696.70h3.27M145.79 695.06v3.27M144.15 713.05h3.27M145.79 711.41v3.27M146.33 706.51h3.27M147.97 704.87v3.27M147.42 703.24h3.27M149.06 701.60v3.27M147.42 708.69h3.27M149.06 707.05v3.27M148.51 580.07h3.27M150.15 578.43v3.27M149.60 680.35h3.27M151.24 678.71v3.27M149.60 685.80h3.27M151.24 684.16v3.27M149.60 713.05h3.27M151.24 711.41v3.27M150.69 666.18h3.27M152.33 664.54v3.27M150.69 693.43h3.27M152.33 691.79v3.27M151.78 701.06h3.27M153.42 699.42v3.27M152.87 659.64h3.27M154.51 658.00v3.27M152.87 681.44h3.27M154.51 679.80v3.27M152.87 686.89h3.27M154.51 685.25v3.27M152.87 708.69h3.27M154.51 707.05v3.27M153.96 727.22h3.27M155.60 725.58v3.27M155.05 593.15h3.27M156.69 591.51v3.27M155.05 713.05h3.27M156.69 711.41v3.27M155.05 734.85h3.27M156.69 733.21v3.27M156.14 671.63h3.27M157.78 669.99v3.27M158.32 708.69h3.27M159.96 707.05v3.27M159.41 694.52h3.27M161.05 692.88v3.27M159.41 727.22h3.27M161.05 725.58v3.27M160.50 696.70h3.27M162.14 695.06v3.27M160.50 734.85h3.27M162.14 733.21v3.27M161.59 584.43h3.27M163.23 582.79v3.27M161.59 698.88h3.27M163.23 697.24v3.27M162.68 575.71h3.27M164.32 574.07v3.27M162.68 690.16h3.27M164.32 688.52v3.27M164.86 574.62h3.27M166.50 572.98v3.27M164.86 716.32h3.27M166.50 714.68v3.27M164.86 727.22h3.27M166.50 725.58v3.27M165.95 560.45h3.27M167.59 558.81v3.27M165.95 685.80h3.27M167.59 684.16v3.27M165.95 713.05h3.27M167.59 711.41v3.27M165.95 734.85h3.27M167.59 733.21v3.27M167.04 573.53h3.27M168.68 571.89v3.27M167.04 660.73h3.27M168.68 659.09v3.27M167.04 687.98h3.27M168.68 686.34v3.27M167.04 698.88h3.27M168.68 697.24v3.27M168.13 597.51h3.27M169.77 595.87v3.27M168.13 684.71h3.27M169.77 683.07v3.27M168.13 701.06h3.27M169.77 699.42v3.27M168.13 706.51h3.27M169.77 704.87v3.27M169.22 572.44h3.27M170.86 570.80v3.27M169.22 703.24h3.27M170.86 701.60v3.27M169.22 708.69h3.27M170.86 707.05v3.27M170.31 716.32h3.27M171.95 714.68v3.27M171.40 691.25h3.27M173.04 689.61v3.27M171.40 696.70h3.27M173.04 695.06v3.27M171.40 734.85h3.27M173.04 733.21v3.27M172.49 529.93h3.27M174.13 528.29v3.27M172.49 600.78h3.27M174.13 599.14v3.27M172.49 677.08h3.27M174.13 675.44v3.27M172.49 693.43h3.27M174.13 691.79v3.27M173.58 592.06h3.27M175.22 590.42v3.27M173.58 602.96h3.27M175.22 601.32v3.27M173.58 706.51h3.27M175.22 704.87v3.27M174.67 528.84h3.27M176.31 527.20v3.27M174.67 670.54h3.27M176.31 668.90v3.27M174.67 703.24h3.27M176.31 701.60v3.27M174.67 708.69h3.27M176.31 707.05v3.27M175.76 656.37h3.27M177.40 654.73v3.27M175.76 678.17h3.27M177.40 676.53v3.27M175.76 727.22h3.27M177.40 725.58v3.27M177.94 589.88h3.27M179.58 588.24v3.27M177.94 687.98h3.27M179.58 686.34v3.27M177.94 693.43h3.27M179.58 691.79v3.27M179.03 570.26h3.27M180.67 568.62v3.27M180.12 675.99h3.27M181.76 674.35v3.27M180.12 686.89h3.27M181.76 685.25v3.27M180.12 703.24h3.27M181.76 701.60v3.27M180.12 708.69h3.27M181.76 707.05v3.27M181.21 694.52h3.27M182.85 692.88v3.27M181.21 721.77h3.27M182.85 720.13v3.27M183.39 568.08h3.27M185.03 566.44v3.27M183.39 671.63h3.27M185.03 669.99v3.27M184.48 526.66h3.27M186.12 525.02v3.27M184.48 673.81h3.27M186.12 672.17v3.27M185.57 686.89h3.27M187.21 685.25v3.27M185.57 703.24h3.27M187.21 701.60v3.27M186.66 525.57h3.27M188.30 523.93v3.27M186.66 694.52h3.27M188.30 692.88v3.27M186.66 721.77h3.27M188.30 720.13v3.27M186.66 727.22h3.27M188.30 725.58v3.27M188.84 698.88h3.27M190.48 697.24v3.27M189.93 690.16h3.27M191.57 688.52v3.27M189.93 701.06h3.27M191.57 699.42v3.27M189.93 706.51h3.27M191.57 704.87v3.27M191.02 686.89h3.27M192.66 685.25v3.27M191.02 708.69h3.27M192.66 707.05v3.27M193.20 713.05h3.27M194.84 711.41v3.27M193.20 734.85h3.27M194.84 733.21v3.27M194.29 660.73h3.27M195.93 659.09v3.27M195.38 673.81h3.27M197.02 672.17v3.27M195.38 706.51h3.27M197.02 704.87v3.27M196.47 703.24h3.27M198.11 701.60v3.27M197.56 580.07h3.27M199.20 578.43v3.27M197.56 667.27h3.27M199.20 665.63v3.27M197.56 678.17h3.27M199.20 676.53v3.27M197.56 721.77h3.27M199.20 720.13v3.27M198.65 522.30h3.27M200.29 520.66v3.27M198.65 696.70h3.27M200.29 695.06v3.27M199.74 687.98h3.27M201.38 686.34v3.27M199.74 693.43h3.27M201.38 691.79v3.27M199.74 698.88h3.27M201.38 697.24v3.27M200.83 701.06h3.27M202.47 699.42v3.27M201.92 703.24h3.27M203.56 701.60v3.27M203.01 563.72h3.27M204.65 562.08v3.27M203.01 667.27h3.27M204.65 665.63v3.27M204.10 691.25h3.27M205.74 689.61v3.27M205.19 562.63h3.27M206.83 560.99v3.27M205.19 655.28h3.27M206.83 653.64v3.27M205.19 671.63h3.27M206.83 669.99v3.27M205.19 687.98h3.27M206.83 686.34v3.27M206.28 521.21h3.27M207.92 519.57v3.27M206.28 706.51h3.27M207.92 704.87v3.27M207.37 703.24h3.27M209.01 701.60v3.27M207.37 708.69h3.27M209.01 707.05v3.27M208.46 678.17h3.27M210.10 676.53v3.27M208.46 694.52h3.27M210.10 692.88v3.27M208.46 727.22h3.27M210.10 725.58v3.27M209.55 674.90h3.27M211.19 673.26v3.27M209.55 713.05h3.27M211.19 711.41v3.27M211.73 548.46h3.27M213.37 546.82v3.27M211.73 673.81h3.27M213.37 672.17v3.27M211.73 744.66h3.27M213.37 743.02v3.27M212.82 561.54h3.27M214.46 559.90v3.27M212.82 708.69h3.27M214.46 707.05v3.27M213.91 547.37h3.27M215.55 545.73v3.27M213.91 694.52h3.27M215.55 692.88v3.27M215.00 653.10h3.27M216.64 651.46v3.27M215.00 674.90h3.27M216.64 673.26v3.27M215.00 713.05h3.27M216.64 711.41v3.27M216.09 682.53h3.27M217.73 680.89v3.27M217.18 575.71h3.27M218.82 574.07v3.27M217.18 597.51h3.27M218.82 595.87v3.27M217.18 684.71h3.27M218.82 683.07v3.27M217.18 701.06h3.27M218.82 699.42v3.27M219.36 574.62h3.27M221.00 572.98v3.27M219.36 716.32h3.27M221.00 714.68v3.27M219.36 727.22h3.27M221.00 725.58v3.27M221.54 698.88h3.27M223.18 697.24v3.27M222.63 744.66h3.27M224.27 743.02v3.27M223.72 703.24h3.27M225.36 701.60v3.27M223.72 708.69h3.27M225.36 707.05v3.27M224.81 656.37h3.27M226.45 654.73v3.27M224.81 678.17h3.27M226.45 676.53v3.27M224.81 716.32h3.27M226.45 714.68v3.27M225.90 691.25h3.27M227.54 689.61v3.27M225.90 696.70h3.27M227.54 695.06v3.27M226.99 578.98h3.27M228.63 577.34v3.27M226.99 682.53h3.27M228.63 680.89v3.27M228.08 586.61h3.27M229.72 584.97v3.27M228.08 673.81h3.27M229.72 672.17v3.27M228.08 690.16h3.27M229.72 688.52v3.27M229.17 670.54h3.27M230.81 668.90v3.27M229.17 686.89h3.27M230.81 685.25v3.27M229.17 703.24h3.27M230.81 701.60v3.27M230.26 678.17h3.27M231.90 676.53v3.27M230.26 716.32h3.27M231.90 714.68v3.27M230.26 721.77h3.27M231.90 720.13v3.27M230.26 727.22h3.27M231.90 725.58v3.27M231.35 734.85h3.27M232.99 733.21v3.27M232.44 660.73h3.27M234.08 659.09v3.27M232.44 693.43h3.27M234.08 691.79v3.27M233.53 679.26h3.27M235.17 677.62v3.27M234.62 572.44h3.27M236.26 570.80v3.27M234.62 686.89h3.27M236.26 685.25v3.27M234.62 703.24h3.27M236.26 701.60v3.27M235.71 694.52h3.27M237.35 692.88v3.27M235.71 727.22h3.27M237.35 725.58v3.27M236.80 713.05h3.27M238.44 711.41v3.27M237.89 660.73h3.27M239.53 659.09v3.27M238.98 673.81h3.27M240.62 672.17v3.27M238.98 690.16h3.27M240.62 688.52v3.27M240.07 703.24h3.27M241.71 701.60v3.27M240.07 708.69h3.27M241.71 707.05v3.27M241.16 721.77h3.27M242.80 720.13v3.27M242.25 713.05h3.27M243.89 711.41v3.27M243.34 682.53h3.27M244.98 680.89v3.27M244.43 701.06h3.27M246.07 699.42v3.27M244.43 706.51h3.27M246.07 704.87v3.27M245.52 703.24h3.27M247.16 701.60v3.27M245.52 708.69h3.27M247.16 707.05v3.27M246.61 678.17h3.27M248.25 676.53v3.27M247.70 674.90h3.27M249.34 673.26v3.27M247.70 691.25h3.27M249.34 689.61v3.27M247.70 696.70h3.27M249.34 695.06v3.27M249.88 553.91h3.27M251.52 552.27v3.27M249.88 706.51h3.27M251.52 704.87v3.27M252.06 569.17h3.27M253.70 567.53v3.27M252.06 678.17h3.27M253.70 676.53v3.27M252.06 716.32h3.27M253.70 714.68v3.27M252.06 721.77h3.27M253.70 720.13v3.27M253.15 669.45h3.27M254.79 667.81v3.27M253.15 696.70h3.27M254.79 695.06v3.27M254.24 660.73h3.27M255.88 659.09v3.27M255.33 668.36h3.27M256.97 666.72v3.27M255.33 690.16h3.27M256.97 688.52v3.27M256.42 686.89h3.27M258.06 685.25v3.27M257.51 678.17h3.27M259.15 676.53v3.27M257.51 716.32h3.27M259.15 714.68v3.27M257.51 727.22h3.27M259.15 725.58v3.27M258.60 511.40h3.27M260.24 509.76v3.27M258.60 576.80h3.27M260.24 575.16v3.27M258.60 674.90h3.27M260.24 673.26v3.27M258.60 691.25h3.27M260.24 689.61v3.27M258.60 734.85h3.27M260.24 733.21v3.27M259.69 568.08h3.27M261.33 566.44v3.27M259.69 698.88h3.27M261.33 697.24v3.27M261.87 686.89h3.27M263.51 685.25v3.27M261.87 703.24h3.27M263.51 701.60v3.27M262.96 721.77h3.27M264.60 720.13v3.27M262.96 727.22h3.27M264.60 725.58v3.27M264.05 538.65h3.27M265.69 537.01v3.27M264.05 560.45h3.27M265.69 558.81v3.27M264.05 680.35h3.27M265.69 678.71v3.27M264.05 691.25h3.27M265.69 689.61v3.27M264.05 734.85h3.27M265.69 733.21v3.27M265.14 677.08h3.27M266.78 675.44v3.27M265.14 687.98h3.27M266.78 686.34v3.27M265.14 693.43h3.27M266.78 691.79v3.27M265.14 698.88h3.27M266.78 697.24v3.27M266.23 668.36h3.27M267.87 666.72v3.27M266.23 673.81h3.27M267.87 672.17v3.27M268.41 727.22h3.27M270.05 725.58v3.27M269.50 734.85h3.27M271.14 733.21v3.27M270.59 666.18h3.27M272.23 664.54v3.27M271.68 706.51h3.27M273.32 704.87v3.27M272.77 670.54h3.27M274.41 668.90v3.27M272.77 681.44h3.27M274.41 679.80v3.27M272.77 686.89h3.27M274.41 685.25v3.27M273.86 656.37h3.27M275.50 654.73v3.27M274.95 734.85h3.27M276.59 733.21v3.27M276.04 693.43h3.27M277.68 691.79v3.27M276.04 698.88h3.27M277.68 697.24v3.27M277.13 673.81h3.27M278.77 672.17v3.27M277.13 744.66h3.27M278.77 743.02v3.27M278.22 708.69h3.27M279.86 707.05v3.27M279.31 667.27h3.27M280.95 665.63v3.27M279.31 672.72h3.27M280.95 671.08v3.27M279.31 716.32h3.27M280.95 714.68v3.27M280.40 549.55h3.27M282.04 547.91v3.27M282.58 548.46h3.27M284.22 546.82v3.27M282.58 673.81h3.27M284.22 672.17v3.27M282.58 701.06h3.27M284.22 699.42v3.27M283.67 703.24h3.27M285.31 701.60v3.27M284.76 667.27h3.27M286.40 665.63v3.27M285.85 664.00h3.27M287.49 662.36v3.27M285.85 691.25h3.27M287.49 689.61v3.27M285.85 734.85h3.27M287.49 733.21v3.27M286.94 535.38h3.27M288.58 533.74v3.27M286.94 682.53h3.27M288.58 680.89v3.27M288.03 548.46h3.27M289.67 546.82v3.27M288.03 701.06h3.27M289.67 699.42v3.27M288.03 744.66h3.27M289.67 743.02v3.27M289.12 534.29h3.27M290.76 532.65v3.27M289.12 670.54h3.27M290.76 668.90v3.27M289.12 708.69h3.27M290.76 707.05v3.27M290.21 650.92h3.27M291.85 649.28v3.27M290.21 727.22h3.27M291.85 725.58v3.27M291.30 685.80h3.27M292.94 684.16v3.27M291.30 734.85h3.27M292.94 733.21v3.27M292.39 687.98h3.27M294.03 686.34v3.27M292.39 698.88h3.27M294.03 697.24v3.27M293.48 668.36h3.27M295.12 666.72v3.27M293.48 679.26h3.27M295.12 677.62v3.27M293.48 690.16h3.27M295.12 688.52v3.27M293.48 701.06h3.27M295.12 699.42v3.27M294.57 648.74h3.27M296.21 647.10v3.27M294.57 703.24h3.27M296.21 701.60v3.27M295.66 547.37h3.27M297.30 545.73v3.27M295.66 716.32h3.27M297.30 714.68v3.27M295.66 721.77h3.27M297.30 720.13v3.27M295.66 727.22h3.27M297.30 725.58v3.27M296.75 669.45h3.27M298.39 667.81v3.27M297.84 687.98h3.27M299.48 686.34v3.27M297.84 693.43h3.27M299.48 691.79v3.27M298.93 679.26h3.27M300.57 677.62v3.27M298.93 684.71h3.27M300.57 683.07v3.27M298.93 701.06h3.27M300.57 699.42v3.27M300.02 561.54h3.27M301.66 559.90v3.27M301.11 667.27h3.27M302.75 665.63v3.27M302.20 647.65h3.27M303.84 646.01v3.27M302.20 734.85h3.27M303.84 733.21v3.27M303.29 546.28h3.27M304.93 544.64v3.27M303.29 693.43h3.27M304.93 691.79v3.27M303.29 698.88h3.27M304.93 697.24v3.27M304.38 532.11h3.27M306.02 530.47v3.27M304.38 706.51h3.27M306.02 704.87v3.27M305.47 654.19h3.27M307.11 652.55v3.27M306.56 694.52h3.27M308.20 692.88v3.27M306.56 716.32h3.27M308.20 714.68v3.27M307.65 560.45h3.27M309.29 558.81v3.27M307.65 576.80h3.27M309.29 575.16v3.27M307.65 691.25h3.27M309.29 689.61v3.27M307.65 696.70h3.27M309.29 695.06v3.27M308.74 687.98h3.27M310.38 686.34v3.27M308.74 698.88h3.27M310.38 697.24v3.27M309.83 532.11h3.27M311.47 530.47v3.27M309.83 553.91h3.27M311.47 552.27v3.27M310.92 545.19h3.27M312.56 543.55v3.27M310.92 686.89h3.27M312.56 685.25v3.27M310.92 708.69h3.27M312.56 707.05v3.27M312.01 661.82h3.27M313.65 660.18v3.27M313.10 544.10h3.27M314.74 542.46v3.27M313.10 674.90h3.27M314.74 673.26v3.27M313.10 713.05h3.27M314.74 711.41v3.27M313.10 734.85h3.27M314.74 733.21v3.27M314.19 573.53h3.27M315.83 571.89v3.27M314.19 660.73h3.27M315.83 659.09v3.27M314.19 698.88h3.27M315.83 697.24v3.27M315.28 657.46h3.27M316.92 655.82v3.27M315.28 706.51h3.27M316.92 704.87v3.27M316.37 670.54h3.27M318.01 668.90v3.27M316.37 686.89h3.27M318.01 685.25v3.27M317.46 552.82h3.27M319.10 551.18v3.27M317.46 672.72h3.27M319.10 671.08v3.27M317.46 716.32h3.27M319.10 714.68v3.27M318.55 658.55h3.27M320.19 656.91v3.27M318.55 674.90h3.27M320.19 673.26v3.27M318.55 696.70h3.27M320.19 695.06v3.27M318.55 734.85h3.27M320.19 733.21v3.27M319.64 655.28h3.27M321.28 653.64v3.27M319.64 666.18h3.27M321.28 664.54v3.27M319.64 682.53h3.27M321.28 680.89v3.27M320.73 668.36h3.27M322.37 666.72v3.27M320.73 706.51h3.27M322.37 704.87v3.27M321.82 501.59h3.27M323.46 499.95v3.27M321.82 659.64h3.27M323.46 658.00v3.27M321.82 675.99h3.27M323.46 674.35v3.27M321.82 686.89h3.27M323.46 685.25v3.27M321.82 703.24h3.27M323.46 701.60v3.27M321.82 708.69h3.27M323.46 707.05v3.27M322.91 721.77h3.27M324.55 720.13v3.27M324.00 713.05h3.27M325.64 711.41v3.27M324.00 734.85h3.27M325.64 733.21v3.27M325.09 529.93h3.27M326.73 528.29v3.27M325.09 698.88h3.27M326.73 697.24v3.27M327.27 659.64h3.27M328.91 658.00v3.27M328.36 558.27h3.27M330.00 556.63v3.27M328.36 727.22h3.27M330.00 725.58v3.27M329.45 696.70h3.27M331.09 695.06v3.27M329.45 713.05h3.27M331.09 711.41v3.27M330.54 698.88h3.27M332.18 697.24v3.27M331.63 543.01h3.27M333.27 541.37v3.27M331.63 673.81h3.27M333.27 672.17v3.27M331.63 701.06h3.27M333.27 699.42v3.27M331.63 706.51h3.27M333.27 704.87v3.27M332.72 528.84h3.27M334.36 527.20v3.27M332.72 703.24h3.27M334.36 701.60v3.27M333.81 541.92h3.27M335.45 540.28v3.27M333.81 661.82h3.27M335.45 660.18v3.27M333.81 716.32h3.27M335.45 714.68v3.27M334.90 500.50h3.27M336.54 498.86v3.27M334.90 685.80h3.27M336.54 684.16v3.27M334.90 691.25h3.27M336.54 689.61v3.27M335.99 557.18h3.27M337.63 555.54v3.27M335.99 687.98h3.27M337.63 686.34v3.27M335.99 693.43h3.27M337.63 691.79v3.27M337.08 701.06h3.27M338.72 699.42v3.27M338.17 659.64h3.27M339.81 658.00v3.27M338.17 703.24h3.27M339.81 701.60v3.27M338.17 708.69h3.27M339.81 707.05v3.27M339.26 667.27h3.27M340.90 665.63v3.27M339.26 678.17h3.27M340.90 676.53v3.27M340.35 527.75h3.27M341.99 526.11v3.27M340.35 653.10h3.27M341.99 651.46v3.27M341.44 557.18h3.27M343.08 555.54v3.27M341.44 677.08h3.27M343.08 675.44v3.27M341.44 698.88h3.27M343.08 697.24v3.27M342.53 684.71h3.27M344.17 683.07v3.27M343.62 708.69h3.27M345.26 707.05v3.27M344.71 716.32h3.27M346.35 714.68v3.27M344.71 721.77h3.27M346.35 720.13v3.27M344.71 727.22h3.27M346.35 725.58v3.27M345.80 549.55h3.27M347.44 547.91v3.27M345.80 647.65h3.27M347.44 646.01v3.27M345.80 713.05h3.27M347.44 711.41v3.27M345.80 734.85h3.27M347.44 733.21v3.27M346.89 540.83h3.27M348.53 539.19v3.27M346.89 693.43h3.27M348.53 691.79v3.27M346.89 698.88h3.27M348.53 697.24v3.27M347.98 706.51h3.27M349.62 704.87v3.27M349.07 708.69h3.27M350.71 707.05v3.27M350.16 498.32h3.27M351.80 496.68v3.27M350.16 574.62h3.27M351.80 572.98v3.27M350.16 721.77h3.27M351.80 720.13v3.27M350.16 727.22h3.27M351.80 725.58v3.27M351.25 696.70h3.27M352.89 695.06v3.27M351.25 713.05h3.27M352.89 711.41v3.27M352.34 687.98h3.27M353.98 686.34v3.27M353.43 652.01h3.27M355.07 650.37v3.27M353.43 684.71h3.27M355.07 683.07v3.27M353.43 744.66h3.27M355.07 743.02v3.27M354.52 539.74h3.27M356.16 538.10v3.27M354.52 670.54h3.27M356.16 668.90v3.27M355.61 661.82h3.27M357.25 660.18v3.27M355.61 678.17h3.27M357.25 676.53v3.27M355.61 727.22h3.27M357.25 725.58v3.27M356.70 713.05h3.27M358.34 711.41v3.27M357.79 698.88h3.27M359.43 697.24v3.27M358.88 526.66h3.27M360.52 525.02v3.27M358.88 668.36h3.27M360.52 666.72v3.27M359.97 703.24h3.27M361.61 701.60v3.27M359.97 708.69h3.27M361.61 707.05v3.27M361.06 716.32h3.27M362.70 714.68v3.27M362.15 555.00h3.27M363.79 553.36v3.27M362.15 642.20h3.27M363.79 640.56v3.27M362.15 691.25h3.27M363.79 689.61v3.27M363.24 497.23h3.27M364.88 495.59v3.27M363.24 660.73h3.27M364.88 659.09v3.27M364.33 559.36h3.27M365.97 557.72v3.27M364.33 673.81h3.27M365.97 672.17v3.27M364.33 701.06h3.27M365.97 699.42v3.27M365.42 566.99h3.27M367.06 565.35v3.27M365.42 670.54h3.27M367.06 668.90v3.27M365.42 681.44h3.27M367.06 679.80v3.27M366.51 721.77h3.27M368.15 720.13v3.27M367.60 653.10h3.27M369.24 651.46v3.27M367.60 685.80h3.27M369.24 684.16v3.27M367.60 713.05h3.27M369.24 711.41v3.27M368.69 682.53h3.27M370.33 680.89v3.27M368.69 687.98h3.27M370.33 686.34v3.27M369.78 657.46h3.27M371.42 655.82v3.27M369.78 701.06h3.27M371.42 699.42v3.27M370.87 654.19h3.27M372.51 652.55v3.27M370.87 708.69h3.27M372.51 707.05v3.27M371.96 727.22h3.27M373.60 725.58v3.27M373.05 538.65h3.27M374.69 537.01v3.27M373.05 669.45h3.27M374.69 667.81v3.27M373.05 680.35h3.27M374.69 678.71v3.27M375.23 641.11h3.27M376.87 639.47v3.27M375.23 668.36h3.27M376.87 666.72v3.27M375.23 706.51h3.27M376.87 704.87v3.27M376.32 670.54h3.27M377.96 668.90v3.27M376.32 675.99h3.27M377.96 674.35v3.27M376.32 703.24h3.27M377.96 701.60v3.27M377.41 716.32h3.27M379.05 714.68v3.27M378.50 664.00h3.27M380.14 662.36v3.27M378.50 685.80h3.27M380.14 684.16v3.27M378.50 734.85h3.27M380.14 733.21v3.27M379.59 524.48h3.27M381.23 522.84v3.27M380.68 673.81h3.27M382.32 672.17v3.27M381.77 703.24h3.27M383.41 701.60v3.27M381.77 708.69h3.27M383.41 707.05v3.27M382.86 661.82h3.27M384.50 660.18v3.27M382.86 716.32h3.27M384.50 714.68v3.27M382.86 721.77h3.27M384.50 720.13v3.27M383.95 669.45h3.27M385.59 667.81v3.27M383.95 691.25h3.27M385.59 689.61v3.27M383.95 696.70h3.27M385.59 695.06v3.27M383.95 713.05h3.27M385.59 711.41v3.27M383.95 734.85h3.27M385.59 733.21v3.27M385.04 638.93h3.27M386.68 637.29v3.27M385.04 655.28h3.27M386.68 653.64v3.27M386.13 684.71h3.27M387.77 683.07v3.27M386.13 701.06h3.27M387.77 699.42v3.27M387.22 561.54h3.27M388.86 559.90v3.27M387.22 686.89h3.27M388.86 685.25v3.27M387.22 703.24h3.27M388.86 701.60v3.27M387.22 708.69h3.27M388.86 707.05v3.27M388.31 678.17h3.27M389.95 676.53v3.27M388.31 716.32h3.27M389.95 714.68v3.27M388.31 721.77h3.27M389.95 720.13v3.27M389.40 495.05h3.27M391.04 493.41v3.27M389.40 691.25h3.27M391.04 689.61v3.27M389.40 734.85h3.27M391.04 733.21v3.27M391.58 690.16h3.27M393.22 688.52v3.27M391.58 706.51h3.27M393.22 704.87v3.27M393.76 640.02h3.27M395.40 638.38v3.27M393.76 694.52h3.27M395.40 692.88v3.27M393.76 716.32h3.27M395.40 714.68v3.27M393.76 721.77h3.27M395.40 720.13v3.27M393.76 727.22h3.27M395.40 725.58v3.27M394.85 691.25h3.27M396.49 689.61v3.27M394.85 734.85h3.27M396.49 733.21v3.27M397.03 493.96h3.27M398.67 492.32v3.27M398.12 550.64h3.27M399.76 549.00v3.27M399.21 661.82h3.27M400.85 660.18v3.27M399.21 678.17h3.27M400.85 676.53v3.27M399.21 721.77h3.27M400.85 720.13v3.27M400.30 658.55h3.27M401.94 656.91v3.27M401.39 535.38h3.27M403.03 533.74v3.27M401.39 687.98h3.27M403.03 686.34v3.27M401.39 698.88h3.27M403.03 697.24v3.27M403.57 566.99h3.27M405.21 565.35v3.27M403.57 665.09h3.27M405.21 663.45v3.27M403.57 703.24h3.27M405.21 701.60v3.27M403.57 708.69h3.27M405.21 707.05v3.27M404.66 694.52h3.27M406.30 692.88v3.27M404.66 716.32h3.27M406.30 714.68v3.27M404.66 721.77h3.27M406.30 720.13v3.27M404.66 727.22h3.27M406.30 725.58v3.27M405.75 713.05h3.27M407.39 711.41v3.27M407.93 543.01h3.27M409.57 541.37v3.27M409.02 708.69h3.27M410.66 707.05v3.27M410.11 721.77h3.27M411.75 720.13v3.27M411.20 549.55h3.27M412.84 547.91v3.27M411.20 653.10h3.27M412.84 651.46v3.27M411.20 713.05h3.27M412.84 711.41v3.27M411.20 734.85h3.27M412.84 733.21v3.27M412.29 687.98h3.27M413.93 686.34v3.27M412.29 693.43h3.27M413.93 691.79v3.27M413.38 684.71h3.27M415.02 683.07v3.27M413.38 706.51h3.27M415.02 704.87v3.27M414.47 659.64h3.27M416.11 658.00v3.27M414.47 708.69h3.27M416.11 707.05v3.27M415.56 580.07h3.27M417.20 578.43v3.27M415.56 678.17h3.27M417.20 676.53v3.27M415.56 716.32h3.27M417.20 714.68v3.27M415.56 727.22h3.27M417.20 725.58v3.27M417.74 491.78h3.27M419.38 490.14v3.27M417.74 562.63h3.27M419.38 560.99v3.27M417.74 568.08h3.27M419.38 566.44v3.27M418.83 521.21h3.27M420.47 519.57v3.27M418.83 690.16h3.27M420.47 688.52v3.27M419.92 659.64h3.27M421.56 658.00v3.27M419.92 686.89h3.27M421.56 685.25v3.27M421.01 640.02h3.27M422.65 638.38v3.27M421.01 678.17h3.27M422.65 676.53v3.27M421.01 694.52h3.27M422.65 692.88v3.27M421.01 716.32h3.27M422.65 714.68v3.27M422.10 669.45h3.27M423.74 667.81v3.27M422.10 696.70h3.27M423.74 695.06v3.27M424.28 548.46h3.27M425.92 546.82v3.27M424.28 684.71h3.27M425.92 683.07v3.27M424.28 701.06h3.27M425.92 699.42v3.27M424.28 706.51h3.27M425.92 704.87v3.27M425.37 686.89h3.27M427.01 685.25v3.27M425.37 703.24h3.27M427.01 701.60v3.27M426.46 727.22h3.27M428.10 725.58v3.27M427.55 685.80h3.27M429.19 684.16v3.27M427.55 691.25h3.27M429.19 689.61v3.27M428.64 687.98h3.27M430.28 686.34v3.27M429.73 548.46h3.27M431.37 546.82v3.27M429.73 679.26h3.27M431.37 677.62v3.27M429.73 684.71h3.27M431.37 683.07v3.27M429.73 690.16h3.27M431.37 688.52v3.27M429.73 706.51h3.27M431.37 704.87v3.27M430.82 490.69h3.27M432.46 489.05v3.27M430.82 648.74h3.27M432.46 647.10v3.27M430.82 670.54h3.27M432.46 668.90v3.27M431.91 541.92h3.27M433.55 540.28v3.27M431.91 552.82h3.27M433.55 551.18v3.27M431.91 667.27h3.27M433.55 665.63v3.27M431.91 678.17h3.27M433.55 676.53v3.27M431.91 694.52h3.27M433.55 692.88v3.27M431.91 716.32h3.27M433.55 714.68v3.27M431.91 721.77h3.27M433.55 720.13v3.27M433.00 713.05h3.27M434.64 711.41v3.27M434.09 540.83h3.27M435.73 539.19v3.27M434.09 655.28h3.27M435.73 653.64v3.27M434.09 671.63h3.27M435.73 669.99v3.27M434.09 693.43h3.27M435.73 691.79v3.27M434.09 698.88h3.27M435.73 697.24v3.27M435.18 706.51h3.27M436.82 704.87v3.27M435.18 744.66h3.27M436.82 743.02v3.27M436.27 490.69h3.27M437.91 489.05v3.27M436.27 577.89h3.27M437.91 576.25v3.27M436.27 703.24h3.27M437.91 701.60v3.27M436.27 708.69h3.27M437.91 707.05v3.27M437.36 650.92h3.27M439.00 649.28v3.27M437.36 716.32h3.27M439.00 714.68v3.27M437.36 727.22h3.27M439.00 725.58v3.27M438.45 674.90h3.27M440.09 673.26v3.27M439.54 682.53h3.27M441.18 680.89v3.27M439.54 698.88h3.27M441.18 697.24v3.27M440.63 532.11h3.27M442.27 530.47v3.27M440.63 706.51h3.27M442.27 704.87v3.27M441.72 670.54h3.27M443.36 668.90v3.27M441.72 703.24h3.27M443.36 701.60v3.27M442.81 547.37h3.27M444.45 545.73v3.27M442.81 640.02h3.27M444.45 638.38v3.27M442.81 716.32h3.27M444.45 714.68v3.27M442.81 721.77h3.27M444.45 720.13v3.27M443.90 680.35h3.27M445.54 678.71v3.27M443.90 685.80h3.27M445.54 684.16v3.27M444.99 519.03h3.27M446.63 517.39v3.27M446.08 668.36h3.27M447.72 666.72v3.27M446.08 684.71h3.27M447.72 683.07v3.27M446.08 706.51h3.27M447.72 704.87v3.27M447.17 517.94h3.27M448.81 516.30v3.27M447.17 648.74h3.27M448.81 647.10v3.27M447.17 703.24h3.27M448.81 701.60v3.27M447.17 708.69h3.27M448.81 707.05v3.27M448.26 531.02h3.27M449.90 529.38v3.27M448.26 661.82h3.27M449.90 660.18v3.27M448.26 716.32h3.27M449.90 714.68v3.27M448.26 721.77h3.27M449.90 720.13v3.27M449.35 489.60h3.27M450.99 487.96v3.27M449.35 685.80h3.27M450.99 684.16v3.27M450.44 687.98h3.27M452.08 686.34v3.27M450.44 693.43h3.27M452.08 691.79v3.27M451.53 701.06h3.27M453.17 699.42v3.27M451.53 706.51h3.27M453.17 704.87v3.27M452.62 659.64h3.27M454.26 658.00v3.27M452.62 675.99h3.27M454.26 674.35v3.27M452.62 686.89h3.27M454.26 685.25v3.27M452.62 708.69h3.27M454.26 707.05v3.27M453.71 721.77h3.27M455.35 720.13v3.27M453.71 727.22h3.27M455.35 725.58v3.27M454.80 489.60h3.27M456.44 487.96v3.27M454.80 734.85h3.27M456.44 733.21v3.27M455.89 677.08h3.27M457.53 675.44v3.27M455.89 682.53h3.27M457.53 680.89v3.27M455.89 693.43h3.27M457.53 691.79v3.27M456.98 559.36h3.27M458.62 557.72v3.27M456.98 690.16h3.27M458.62 688.52v3.27M456.98 701.06h3.27M458.62 699.42v3.27M458.07 517.94h3.27M459.71 516.30v3.27M458.07 659.64h3.27M459.71 658.00v3.27M458.07 681.44h3.27M459.71 679.80v3.27M459.16 678.17h3.27M460.80 676.53v3.27M459.16 716.32h3.27M460.80 714.68v3.27M459.16 721.77h3.27M460.80 720.13v3.27M460.25 674.90h3.27M461.89 673.26v3.27M460.25 696.70h3.27M461.89 695.06v3.27M460.25 734.85h3.27M461.89 733.21v3.27M461.34 529.93h3.27M462.98 528.29v3.27M461.34 562.63h3.27M462.98 560.99v3.27M461.34 687.98h3.27M462.98 686.34v3.27M461.34 698.88h3.27M462.98 697.24v3.27M462.43 652.01h3.27M464.07 650.37v3.27M462.43 684.71h3.27M464.07 683.07v3.27M462.43 706.51h3.27M464.07 704.87v3.27M463.52 681.44h3.27M465.16 679.80v3.27M463.52 703.24h3.27M465.16 701.60v3.27M464.61 558.27h3.27M466.25 556.63v3.27M464.61 694.52h3.27M466.25 692.88v3.27M464.61 716.32h3.27M466.25 714.68v3.27M464.61 721.77h3.27M466.25 720.13v3.27M464.61 727.22h3.27M466.25 725.58v3.27M465.70 685.80h3.27M467.34 684.16v3.27M465.70 734.85h3.27M467.34 733.21v3.27M466.79 682.53h3.27M468.43 680.89v3.27M466.79 698.88h3.27M468.43 697.24v3.27M467.88 673.81h3.27M469.52 672.17v3.27M467.88 701.06h3.27M469.52 699.42v3.27M468.97 648.74h3.27M470.61 647.10v3.27M468.97 670.54h3.27M470.61 668.90v3.27M468.97 708.69h3.27M470.61 707.05v3.27M470.06 716.32h3.27M471.70 714.68v3.27M470.06 721.77h3.27M471.70 720.13v3.27M471.15 658.55h3.27M472.79 656.91v3.27M471.15 669.45h3.27M472.79 667.81v3.27M471.15 691.25h3.27M472.79 689.61v3.27M471.15 696.70h3.27M472.79 695.06v3.27M471.15 713.05h3.27M472.79 711.41v3.27M471.15 734.85h3.27M472.79 733.21v3.27M472.24 693.43h3.27M473.88 691.79v3.27M473.33 488.51h3.27M474.97 486.87v3.27M473.33 657.46h3.27M474.97 655.82v3.27M473.33 668.36h3.27M474.97 666.72v3.27M474.42 545.19h3.27M476.06 543.55v3.27M474.42 659.64h3.27M476.06 658.00v3.27M474.42 703.24h3.27M476.06 701.60v3.27M475.51 667.27h3.27M477.15 665.63v3.27M475.51 672.72h3.27M477.15 671.08v3.27M475.51 721.77h3.27M477.15 720.13v3.27M476.60 538.65h3.27M478.24 537.01v3.27M476.60 544.10h3.27M478.24 542.46v3.27M477.69 687.98h3.27M479.33 686.34v3.27M477.69 693.43h3.27M479.33 691.79v3.27M478.78 701.06h3.27M480.42 699.42v3.27M479.87 686.89h3.27M481.51 685.25v3.27M479.87 708.69h3.27M481.51 707.05v3.27M480.96 645.47h3.27M482.60 643.83v3.27M480.96 678.17h3.27M482.60 676.53v3.27M480.96 721.77h3.27M482.60 720.13v3.27M480.96 727.22h3.27M482.60 725.58v3.27M482.05 544.10h3.27M483.69 542.46v3.27M482.05 680.35h3.27M483.69 678.71v3.27M482.05 713.05h3.27M483.69 711.41v3.27M483.14 644.38h3.27M484.78 642.74v3.27M483.14 666.18h3.27M484.78 664.54v3.27M484.23 537.56h3.27M485.87 535.92v3.27M484.23 701.06h3.27M485.87 699.42v3.27M485.32 528.84h3.27M486.96 527.20v3.27M485.32 703.24h3.27M486.96 701.60v3.27M486.41 678.17h3.27M488.05 676.53v3.27M486.41 716.32h3.27M488.05 714.68v3.27M486.41 721.77h3.27M488.05 720.13v3.27M486.41 727.22h3.27M488.05 725.58v3.27M487.50 685.80h3.27M489.14 684.16v3.27M487.50 696.70h3.27M489.14 695.06v3.27M487.50 734.85h3.27M489.14 733.21v3.27M488.59 568.08h3.27M490.23 566.44v3.27M489.68 548.46h3.27M491.32 546.82v3.27M489.68 706.51h3.27M491.32 704.87v3.27M490.77 659.64h3.27M492.41 658.00v3.27M490.77 708.69h3.27M492.41 707.05v3.27M491.86 514.67h3.27M493.50 513.03v3.27M491.86 645.47h3.27M493.50 643.83v3.27M491.86 694.52h3.27M493.50 692.88v3.27M491.86 716.32h3.27M493.50 714.68v3.27M491.86 727.22h3.27M493.50 725.58v3.27M492.95 669.45h3.27M494.59 667.81v3.27M492.95 674.90h3.27M494.59 673.26v3.27M492.95 691.25h3.27M494.59 689.61v3.27M492.95 696.70h3.27M494.59 695.06v3.27M494.04 655.28h3.27M495.68 653.64v3.27M494.04 660.73h3.27M495.68 659.09v3.27M494.04 682.53h3.27M495.68 680.89v3.27M495.13 543.01h3.27M496.77 541.37v3.27M495.13 673.81h3.27M496.77 672.17v3.27M495.13 744.66h3.27M496.77 743.02v3.27M496.22 708.69h3.27M497.86 707.05v3.27M497.31 514.67h3.27M498.95 513.03v3.27M497.31 716.32h3.27M498.95 714.68v3.27M497.31 721.77h3.27M498.95 720.13v3.27M498.40 527.75h3.27M500.04 526.11v3.27M498.40 576.80h3.27M500.04 575.16v3.27M498.40 664.00h3.27M500.04 662.36v3.27M499.49 486.33h3.27M501.13 484.69v3.27M500.58 679.26h3.27M502.22 677.62v3.27M502.76 678.17h3.27M504.40 676.53v3.27M502.76 694.52h3.27M504.40 692.88v3.27M502.76 721.77h3.27M504.40 720.13v3.27M503.85 527.75h3.27M505.49 526.11v3.27M503.85 680.35h3.27M505.49 678.71v3.27M503.85 685.80h3.27M505.49 684.16v3.27M504.94 513.58h3.27M506.58 511.94v3.27M504.94 693.43h3.27M506.58 691.79v3.27M504.94 698.88h3.27M506.58 697.24v3.27M507.12 485.24h3.27M508.76 483.60v3.27M507.12 556.09h3.27M508.76 554.45v3.27M507.12 708.69h3.27M508.76 707.05v3.27M508.21 547.37h3.27M509.85 545.73v3.27M508.21 694.52h3.27M509.85 692.88v3.27M508.21 716.32h3.27M509.85 714.68v3.27M509.30 664.00h3.27M510.94 662.36v3.27M509.30 734.85h3.27M510.94 733.21v3.27M510.39 513.58h3.27M512.03 511.94v3.27M511.48 701.06h3.27M513.12 699.42v3.27M512.57 654.19h3.27M514.21 652.55v3.27M513.66 678.17h3.27M515.30 676.53v3.27M513.66 716.32h3.27M515.30 714.68v3.27M513.66 721.77h3.27M515.30 720.13v3.27M514.75 658.55h3.27M516.39 656.91v3.27M514.75 713.05h3.27M516.39 711.41v3.27M514.75 734.85h3.27M516.39 733.21v3.27M515.84 513.58h3.27M517.48 511.94v3.27M515.84 693.43h3.27M517.48 691.79v3.27M516.93 679.26h3.27M518.57 677.62v3.27M516.93 706.51h3.27M518.57 704.87v3.27M519.11 563.72h3.27M520.75 562.08v3.27M519.11 721.77h3.27M520.75 720.13v3.27M519.11 727.22h3.27M520.75 725.58v3.27M520.20 484.15h3.27M521.84 482.51v3.27M520.20 696.70h3.27M521.84 695.06v3.27M520.20 713.05h3.27M521.84 711.41v3.27M521.29 535.38h3.27M522.93 533.74v3.27M521.29 682.53h3.27M522.93 680.89v3.27M522.38 706.51h3.27M524.02 704.87v3.27M523.47 648.74h3.27M525.11 647.10v3.27M524.56 667.27h3.27M526.20 665.63v3.27M524.56 716.32h3.27M526.20 714.68v3.27M524.56 721.77h3.27M526.20 720.13v3.27M525.65 571.35h3.27M527.29 569.71v3.27M525.65 685.80h3.27M527.29 684.16v3.27M526.74 655.28h3.27M528.38 653.64v3.27M526.74 693.43h3.27M528.38 691.79v3.27M527.83 701.06h3.27M529.47 699.42v3.27M528.92 512.49h3.27M530.56 510.85v3.27M528.92 534.29h3.27M530.56 532.65v3.27M528.92 637.84h3.27M530.56 636.20v3.27M528.92 703.24h3.27M530.56 701.60v3.27M531.10 484.15h3.27M532.74 482.51v3.27M531.10 653.10h3.27M532.74 651.46v3.27M531.10 734.85h3.27M532.74 733.21v3.27M532.19 562.63h3.27M533.83 560.99v3.27M532.19 693.43h3.27M533.83 691.79v3.27M533.28 657.46h3.27M534.92 655.82v3.27M533.28 701.06h3.27M534.92 699.42v3.27M534.37 675.99h3.27M536.01 674.35v3.27M534.37 686.89h3.27M536.01 685.25v3.27M535.46 678.17h3.27M537.10 676.53v3.27M535.46 721.77h3.27M537.10 720.13v3.27M536.55 685.80h3.27M538.19 684.16v3.27M536.55 713.05h3.27M538.19 711.41v3.27M537.64 698.88h3.27M539.28 697.24v3.27M538.73 679.26h3.27M540.37 677.62v3.27M540.91 634.57h3.27M542.55 632.93v3.27M540.91 694.52h3.27M542.55 692.88v3.27M540.91 716.32h3.27M542.55 714.68v3.27M542.00 713.05h3.27M543.64 711.41v3.27M543.09 524.48h3.27M544.73 522.84v3.27M543.09 677.08h3.27M544.73 675.44v3.27M544.18 673.81h3.27M545.82 672.17v3.27M544.18 701.06h3.27M545.82 699.42v3.27M544.18 706.51h3.27M545.82 704.87v3.27M545.27 539.74h3.27M546.91 538.10v3.27M546.36 694.52h3.27M548.00 692.88v3.27M547.45 653.10h3.27M549.09 651.46v3.27M547.45 696.70h3.27M549.09 695.06v3.27M548.54 671.63h3.27M550.18 669.99v3.27M548.54 693.43h3.27M550.18 691.79v3.27M549.63 673.81h3.27M551.27 672.17v3.27M549.63 679.26h3.27M551.27 677.62v3.27M549.63 706.51h3.27M551.27 704.87v3.27M549.63 744.66h3.27M551.27 743.02v3.27M550.72 539.74h3.27M552.36 538.10v3.27M550.72 648.74h3.27M552.36 647.10v3.27M550.72 659.64h3.27M552.36 658.00v3.27M550.72 670.54h3.27M552.36 668.90v3.27M550.72 703.24h3.27M552.36 701.60v3.27M550.72 708.69h3.27M552.36 707.05v3.27M552.90 511.40h3.27M554.54 509.76v3.27M552.90 533.20h3.27M554.54 531.56v3.27M552.90 664.00h3.27M554.54 662.36v3.27M552.90 680.35h3.27M554.54 678.71v3.27M552.90 696.70h3.27M554.54 695.06v3.27M555.08 706.51h3.27M556.72 704.87v3.27M556.17 703.24h3.27M557.81 701.60v3.27M556.17 708.69h3.27M557.81 707.05v3.27M557.26 481.97h3.27M558.90 480.33v3.27M557.26 552.82h3.27M558.90 551.18v3.27M557.26 667.27h3.27M558.90 665.63v3.27M557.26 678.17h3.27M558.90 676.53v3.27M557.26 721.77h3.27M558.90 720.13v3.27M558.35 533.20h3.27M559.99 531.56v3.27M558.35 653.10h3.27M559.99 651.46v3.27M558.35 674.90h3.27M559.99 673.26v3.27M559.44 687.98h3.27M561.08 686.34v3.27M559.44 698.88h3.27M561.08 697.24v3.27M560.53 662.91h3.27M562.17 661.27v3.27M560.53 668.36h3.27M562.17 666.72v3.27M560.53 706.51h3.27M562.17 704.87v3.27M561.62 703.24h3.27M563.26 701.60v3.27M562.71 661.82h3.27M564.35 660.18v3.27M562.71 727.22h3.27M564.35 725.58v3.27M563.80 653.10h3.27M565.44 651.46v3.27M563.80 713.05h3.27M565.44 711.41v3.27M563.80 734.85h3.27M565.44 733.21v3.27M564.89 698.88h3.27M566.53 697.24v3.27M565.98 510.31h3.27M567.62 508.67v3.27M565.98 684.71h3.27M567.62 683.07v3.27M565.98 701.06h3.27M567.62 699.42v3.27M565.98 706.51h3.27M567.62 704.87v3.27M567.07 523.39h3.27M568.71 521.75v3.27M568.16 661.82h3.27M569.80 660.18v3.27M568.16 694.52h3.27M569.80 692.88v3.27M568.16 716.32h3.27M569.80 714.68v3.27M568.16 727.22h3.27M569.80 725.58v3.27" stroke="#000" stroke-width="0.545" fill="none"/>
<path d="M83.11 721.77h3.27M84.75 720.13v3.27M84.20 713.05h3.27M85.84 711.41v3.27M86.38 701.06h3.27M88.02 699.42v3.27M88.56 634.57h3.27M90.20 632.93v3.27M88.56 727.22h3.27M90.20 725.58v3.27M89.65 713.05h3.27M91.29 711.41v3.27M94.01 716.32h3.27M95.65 714.68v3.27M99.46 607.32h3.27M101.10 605.68v3.27M101.64 617.13h3.27M103.28 615.49v3.27M102.73 706.51h3.27M104.37 704.87v3.27M107.09 595.33h3.27M108.73 593.69v3.27M111.45 734.85h3.27M113.09 733.21v3.27M113.63 706.51h3.27M115.27 704.87v3.27M115.81 558.27h3.27M117.45 556.63v3.27M115.81 694.52h3.27M117.45 692.88v3.27M115.81 721.77h3.27M117.45 720.13v3.27M116.90 734.85h3.27M118.54 733.21v3.27M121.26 716.32h3.27M122.90 714.68v3.27M121.26 727.22h3.27M122.90 725.58v3.27M122.35 713.05h3.27M123.99 711.41v3.27M126.71 694.52h3.27M128.35 692.88v3.27M126.71 727.22h3.27M128.35 725.58v3.27M127.80 549.55h3.27M129.44 547.91v3.27M129.98 744.66h3.27M131.62 743.02v3.27M132.16 716.32h3.27M133.80 714.68v3.27M132.16 721.77h3.27M133.80 720.13v3.27M133.25 604.05h3.27M134.89 602.41v3.27M133.25 734.85h3.27M134.89 733.21v3.27M136.52 545.19h3.27M138.16 543.55v3.27M137.61 585.52h3.27M139.25 583.88v3.27M137.61 716.32h3.27M139.25 714.68v3.27M139.79 698.88h3.27M141.43 697.24v3.27M140.88 543.01h3.27M142.52 541.37v3.27M143.06 541.92h3.27M144.70 540.28v3.27M143.06 716.32h3.27M144.70 714.68v3.27M143.06 721.77h3.27M144.70 720.13v3.27M144.15 734.85h3.27M145.79 733.21v3.27M147.42 539.74h3.27M149.06 538.10v3.27M148.51 727.22h3.27M150.15 725.58v3.27M149.60 538.65h3.27M151.24 537.01v3.27M151.78 684.71h3.27M153.42 683.07v3.27M153.96 536.47h3.27M155.60 534.83v3.27M153.96 716.32h3.27M155.60 714.68v3.27M156.14 693.43h3.27M157.78 691.79v3.27M157.23 744.66h3.27M158.87 743.02v3.27M161.59 562.63h3.27M163.23 560.99v3.27M162.68 744.66h3.27M164.32 743.02v3.27M163.77 561.54h3.27M165.41 559.90v3.27M163.77 708.69h3.27M165.41 707.05v3.27M170.31 721.77h3.27M171.95 720.13v3.27M175.76 716.32h3.27M177.40 714.68v3.27M176.85 696.70h3.27M178.49 695.06v3.27M176.85 734.85h3.27M178.49 733.21v3.27M181.21 716.32h3.27M182.85 714.68v3.27M182.30 696.70h3.27M183.94 695.06v3.27M184.48 744.66h3.27M186.12 743.02v3.27M185.57 588.79h3.27M187.21 587.15v3.27M187.75 674.90h3.27M189.39 673.26v3.27M187.75 696.70h3.27M189.39 695.06v3.27M192.11 552.82h3.27M193.75 551.18v3.27M192.11 721.77h3.27M193.75 720.13v3.27M192.11 727.22h3.27M193.75 725.58v3.27M199.74 578.98h3.27M201.38 577.34v3.27M200.83 744.66h3.27M202.47 743.02v3.27M203.01 721.77h3.27M204.65 720.13v3.27M203.01 727.22h3.27M204.65 725.58v3.27M204.10 549.55h3.27M205.74 547.91v3.27M204.10 713.05h3.27M205.74 711.41v3.27M206.28 701.06h3.27M207.92 699.42v3.27M209.55 576.80h3.27M211.19 575.16v3.27M209.55 734.85h3.27M211.19 733.21v3.27M210.64 693.43h3.27M212.28 691.79v3.27M213.91 721.77h3.27M215.55 720.13v3.27M213.91 727.22h3.27M215.55 725.58v3.27M217.18 706.51h3.27M218.82 704.87v3.27M220.45 713.05h3.27M222.09 711.41v3.27M220.45 734.85h3.27M222.09 733.21v3.27M221.54 546.28h3.27M223.18 544.64v3.27M223.72 545.19h3.27M225.36 543.55v3.27M225.90 713.05h3.27M227.54 711.41v3.27M228.08 701.06h3.27M229.72 699.42v3.27M233.53 744.66h3.27M235.17 743.02v3.27M235.71 716.32h3.27M237.35 714.68v3.27M236.80 571.35h3.27M238.44 569.71v3.27M238.98 744.66h3.27M240.62 743.02v3.27M240.07 556.09h3.27M241.71 554.45v3.27M241.16 541.92h3.27M242.80 540.28v3.27M241.16 727.22h3.27M242.80 725.58v3.27M243.34 513.58h3.27M244.98 511.94v3.27M244.43 744.66h3.27M246.07 743.02v3.27M245.52 512.49h3.27M247.16 510.85v3.27M249.88 701.06h3.27M251.52 699.42v3.27M250.97 512.49h3.27M252.61 510.85v3.27M253.15 734.85h3.27M254.79 733.21v3.27M254.24 698.88h3.27M255.88 697.24v3.27M256.42 703.24h3.27M258.06 701.60v3.27M257.51 721.77h3.27M259.15 720.13v3.27M258.60 696.70h3.27M260.24 695.06v3.27M260.78 510.31h3.27M262.42 508.67v3.27M261.87 670.54h3.27M263.51 668.90v3.27M266.23 537.56h3.27M267.87 535.92v3.27M268.41 716.32h3.27M270.05 714.68v3.27M268.41 721.77h3.27M270.05 720.13v3.27M269.50 691.25h3.27M271.14 689.61v3.27M269.50 713.05h3.27M271.14 711.41v3.27M271.68 537.56h3.27M273.32 535.92v3.27M272.77 703.24h3.27M274.41 701.60v3.27M273.86 721.77h3.27M275.50 720.13v3.27M274.95 713.05h3.27M276.59 711.41v3.27M277.13 690.16h3.27M278.77 688.52v3.27M277.13 701.06h3.27M278.77 699.42v3.27M279.31 694.52h3.27M280.95 692.88v3.27M280.40 713.05h3.27M282.04 711.41v3.27M281.49 693.43h3.27M283.13 691.79v3.27M284.76 694.52h3.27M286.40 692.88v3.27M284.76 716.32h3.27M286.40 714.68v3.27M284.76 727.22h3.27M286.40 725.58v3.27M285.85 713.05h3.27M287.49 711.41v3.27M286.94 693.43h3.27M288.58 691.79v3.27M288.03 679.26h3.27M289.67 677.62v3.27M289.12 703.24h3.27M290.76 701.60v3.27M290.21 547.37h3.27M291.85 545.73v3.27M291.30 505.95h3.27M292.94 504.31v3.27M291.30 691.25h3.27M292.94 689.61v3.27M293.48 744.66h3.27M295.12 743.02v3.27M296.75 696.70h3.27M298.39 695.06v3.27M298.93 504.86h3.27M300.57 503.22v3.27M300.02 708.69h3.27M301.66 707.05v3.27M301.11 678.17h3.27M302.75 676.53v3.27M302.20 533.20h3.27M303.84 531.56v3.27M302.20 691.25h3.27M303.84 689.61v3.27M302.20 696.70h3.27M303.84 695.06v3.27M306.56 727.22h3.27M308.20 725.58v3.27M309.83 701.06h3.27M311.47 699.42v3.27M315.28 564.81h3.27M316.92 563.17v3.27M316.37 708.69h3.27M318.01 707.05v3.27M317.46 721.77h3.27M319.10 720.13v3.27M319.64 502.68h3.27M321.28 501.04v3.27M322.91 727.22h3.27M324.55 725.58v3.27M324.00 691.25h3.27M325.64 689.61v3.27M326.18 543.01h3.27M327.82 541.37v3.27M329.45 734.85h3.27M331.09 733.21v3.27M330.54 529.93h3.27M332.18 528.29v3.27M331.63 690.16h3.27M333.27 688.52v3.27M334.90 713.05h3.27M336.54 711.41v3.27M335.99 698.88h3.27M337.63 697.24v3.27M339.26 716.32h3.27M340.90 714.68v3.27M339.26 727.22h3.27M340.90 725.58v3.27M342.53 499.41h3.27M344.17 497.77v3.27M345.80 527.75h3.27M347.44 526.11v3.27M349.07 654.19h3.27M350.71 652.55v3.27M350.16 694.52h3.27M351.80 692.88v3.27M354.52 708.69h3.27M356.16 707.05v3.27M358.88 744.66h3.27M360.52 743.02v3.27M361.06 525.57h3.27M362.70 523.93v3.27M361.06 721.77h3.27M362.70 720.13v3.27M361.06 727.22h3.27M362.70 725.58v3.27M362.15 696.70h3.27M363.79 695.06v3.27M362.15 734.85h3.27M363.79 733.21v3.27M364.33 553.91h3.27M365.97 552.27v3.27M364.33 706.51h3.27M365.97 704.87v3.27M365.42 703.24h3.27M367.06 701.60v3.27M366.51 716.32h3.27M368.15 714.68v3.27M370.87 496.14h3.27M372.51 494.50v3.27M370.87 566.99h3.27M372.51 565.35v3.27M371.96 721.77h3.27M373.60 720.13v3.27M373.05 734.85h3.27M374.69 733.21v3.27M375.23 537.56h3.27M376.87 535.92v3.27M375.23 744.66h3.27M376.87 743.02v3.27M376.32 708.69h3.27M377.96 707.05v3.27M377.41 678.17h3.27M379.05 676.53v3.27M377.41 721.77h3.27M379.05 720.13v3.27M382.86 727.22h3.27M384.50 725.58v3.27M383.95 495.05h3.27M385.59 493.41v3.27M385.04 698.88h3.27M386.68 697.24v3.27M388.31 536.47h3.27M389.95 534.83v3.27M392.67 523.39h3.27M394.31 521.75v3.27M394.85 522.30h3.27M396.49 520.66v3.27M398.12 556.09h3.27M399.76 554.45v3.27M398.12 708.69h3.27M399.76 707.05v3.27M399.21 727.22h3.27M400.85 725.58v3.27M400.30 522.30h3.27M401.94 520.66v3.27M400.30 734.85h3.27M401.94 733.21v3.27M402.48 493.96h3.27M404.12 492.32v3.27M406.84 682.53h3.27M408.48 680.89v3.27M413.38 701.06h3.27M415.02 699.42v3.27M413.38 744.66h3.27M415.02 743.02v3.27M416.65 680.35h3.27M418.29 678.71v3.27M416.65 734.85h3.27M418.29 733.21v3.27M421.01 721.77h3.27M422.65 720.13v3.27M421.01 727.22h3.27M422.65 725.58v3.27M422.10 713.05h3.27M423.74 711.41v3.27M423.19 491.78h3.27M424.83 490.14v3.27M423.19 687.98h3.27M424.83 686.34v3.27M426.46 716.32h3.27M428.10 714.68v3.27M428.64 698.88h3.27M430.28 697.24v3.27M431.91 520.12h3.27M433.55 518.48v3.27M433.00 696.70h3.27M434.64 695.06v3.27M434.09 519.03h3.27M435.73 517.39v3.27M437.36 694.52h3.27M439.00 692.88v3.27M437.36 721.77h3.27M439.00 720.13v3.27M438.45 713.05h3.27M440.09 711.41v3.27M441.72 490.69h3.27M443.36 489.05v3.27M441.72 659.64h3.27M443.36 658.00v3.27M443.90 489.60h3.27M445.54 487.96v3.27M444.99 693.43h3.27M446.63 691.79v3.27M448.26 727.22h3.27M449.90 725.58v3.27M449.35 713.05h3.27M450.99 711.41v3.27M453.71 531.02h3.27M455.35 529.38v3.27M453.71 694.52h3.27M455.35 692.88v3.27M453.71 716.32h3.27M455.35 714.68v3.27M454.80 713.05h3.27M456.44 711.41v3.27M458.07 708.69h3.27M459.71 707.05v3.27M460.25 691.25h3.27M461.89 689.61v3.27M471.15 516.85h3.27M472.79 515.21v3.27M473.33 744.66h3.27M474.97 743.02v3.27M476.60 734.85h3.27M478.24 733.21v3.27M478.78 744.66h3.27M480.42 743.02v3.27M484.23 515.76h3.27M485.87 514.12v3.27M488.59 486.33h3.27M490.23 484.69v3.27M489.68 515.76h3.27M491.32 514.12v3.27M489.68 744.66h3.27M491.32 743.02v3.27M491.86 721.77h3.27M493.50 720.13v3.27M494.04 671.63h3.27M495.68 669.99v3.27M495.13 701.06h3.27M496.77 699.42v3.27M499.49 649.83h3.27M501.13 648.19v3.27M501.67 703.24h3.27M503.31 701.60v3.27M502.76 514.67h3.27M504.40 513.03v3.27M506.03 684.71h3.27M507.67 683.07v3.27M506.03 744.66h3.27M507.67 743.02v3.27M507.12 703.24h3.27M508.76 701.60v3.27M510.39 649.83h3.27M512.03 648.19v3.27M510.39 698.88h3.27M512.03 697.24v3.27M511.48 526.66h3.27M513.12 525.02v3.27M512.57 485.24h3.27M514.21 483.60v3.27M512.57 708.69h3.27M514.21 707.05v3.27M516.93 684.71h3.27M518.57 683.07v3.27M522.38 526.66h3.27M524.02 525.02v3.27M523.47 512.49h3.27M525.11 510.85v3.27M524.56 525.57h3.27M526.20 523.93v3.27M525.65 484.15h3.27M527.29 482.51v3.27M525.65 713.05h3.27M527.29 711.41v3.27M527.83 684.71h3.27M529.47 683.07v3.27M530.01 721.77h3.27M531.65 720.13v3.27M533.28 744.66h3.27M534.92 743.02v3.27M534.37 512.49h3.27M536.01 510.85v3.27M535.46 727.22h3.27M537.10 725.58v3.27M536.55 484.15h3.27M538.19 482.51v3.27M537.64 687.98h3.27M539.28 686.34v3.27M538.73 673.81h3.27M540.37 672.17v3.27M540.91 727.22h3.27M542.55 725.58v3.27M545.27 708.69h3.27M546.91 707.05v3.27M546.36 721.77h3.27M548.00 720.13v3.27M546.36 727.22h3.27M548.00 725.58v3.27M547.45 734.85h3.27M549.09 733.21v3.27M548.54 524.48h3.27M550.18 522.84v3.27M551.81 694.52h3.27M553.45 692.88v3.27M552.90 713.05h3.27M554.54 711.41v3.27M555.08 744.66h3.27M556.72 743.02v3.27M558.35 734.85h3.27M559.99 733.21v3.27M560.53 744.66h3.27M562.17 743.02v3.27M561.62 523.39h3.27M563.26 521.75v3.27M561.62 686.89h3.27M563.26 685.25v3.27M564.89 693.43h3.27M566.53 691.79v3.27M568.16 481.97h3.27M569.80 480.33v3.27M568.16 721.77h3.27M569.80 720.13v3.27" stroke="#000" stroke-width="0.818" fill="none"/>
<path d="M83.11 727.22h3.27M84.75 725.58v3.27M86.38 744.66h3.27M88.02 743.02v3.27M100.55 734.85h3.27M102.19 733.21v3.27M102.73 744.66h3.27M104.37 743.02v3.27M112.54 562.63h3.27M114.18 560.99v3.27M113.63 744.66h3.27M115.27 743.02v3.27M114.72 588.79h3.27M116.36 587.15v3.27M115.81 716.32h3.27M117.45 714.68v3.27M119.08 744.66h3.27M120.72 743.02v3.27M124.53 701.06h3.27M126.17 699.42v3.27M133.25 713.05h3.27M134.89 711.41v3.27M134.34 546.28h3.27M135.98 544.64v3.27M138.70 544.10h3.27M140.34 542.46v3.27M140.88 744.66h3.27M142.52 743.02v3.27M145.24 540.83h3.27M146.88 539.19v3.27M146.33 701.06h3.27M147.97 699.42v3.27M148.51 721.77h3.27M150.15 720.13v3.27M151.78 537.56h3.27M153.42 535.92v3.27M153.96 721.77h3.27M155.60 720.13v3.27M159.41 716.32h3.27M161.05 714.68v3.27M168.13 532.11h3.27M169.77 530.47v3.27M168.13 744.66h3.27M169.77 743.02v3.27M173.58 744.66h3.27M175.22 743.02v3.27M179.03 744.66h3.27M180.67 743.02v3.27M189.93 553.91h3.27M191.57 552.27v3.27M189.93 744.66h3.27M191.57 743.02v3.27M198.65 734.85h3.27M200.29 733.21v3.27M201.92 550.64h3.27M203.56 549.00v3.27M208.46 520.12h3.27M210.10 518.48v3.27M217.18 744.66h3.27M218.82 743.02v3.27M218.27 517.94h3.27M219.91 516.30v3.27M222.63 701.06h3.27M224.27 699.42v3.27M225.90 516.85h3.27M227.54 515.21v3.27M231.35 544.10h3.27M232.99 542.46v3.27M233.53 515.76h3.27M235.17 514.12v3.27M238.98 543.01h3.27M240.62 541.37v3.27M242.25 555.00h3.27M243.89 553.36v3.27M252.06 727.22h3.27M253.70 725.58v3.27M255.33 744.66h3.27M256.97 743.02v3.27M260.78 706.51h3.27M262.42 704.87v3.27M265.14 551.73h3.27M266.78 550.09v3.27M268.41 509.22h3.27M270.05 507.58v3.27M271.68 744.66h3.27M273.32 743.02v3.27M282.58 744.66h3.27M284.22 743.02v3.27M284.76 721.77h3.27M286.40 720.13v3.27M296.75 713.05h3.27M298.39 711.41v3.27M298.93 744.66h3.27M300.57 743.02v3.27M304.38 744.66h3.27M306.02 743.02v3.27M306.56 503.77h3.27M308.20 502.13v3.27M309.83 744.66h3.27M311.47 743.02v3.27M312.01 727.22h3.27M313.65 725.58v3.27M314.19 502.68h3.27M315.83 501.04v3.27M317.46 531.02h3.27M319.10 529.38v3.27M320.73 701.06h3.27M322.37 699.42v3.27M320.73 744.66h3.27M322.37 743.02v3.27M327.27 501.59h3.27M328.91 499.95v3.27M333.81 727.22h3.27M335.45 725.58v3.27M342.53 744.66h3.27M344.17 743.02v3.27M351.25 734.85h3.27M352.89 733.21v3.27M378.50 713.05h3.27M380.14 711.41v3.27M380.68 744.66h3.27M382.32 743.02v3.27M387.22 523.39h3.27M388.86 521.75v3.27M391.58 701.06h3.27M393.22 699.42v3.27M391.58 744.66h3.27M393.22 743.02v3.27M397.03 744.66h3.27M398.67 743.02v3.27M400.30 696.70h3.27M401.94 695.06v3.27M402.48 744.66h3.27M404.12 743.02v3.27M406.84 535.38h3.27M408.48 533.74v3.27M410.11 492.87h3.27M411.75 491.23v3.27M410.11 716.32h3.27M411.75 714.68v3.27M413.38 521.21h3.27M415.02 519.57v3.27M415.56 492.87h3.27M417.20 491.23v3.27M415.56 721.77h3.27M417.20 720.13v3.27M418.83 706.51h3.27M420.47 704.87v3.27M419.92 534.29h3.27M421.56 532.65v3.27M433.00 734.85h3.27M434.64 733.21v3.27M439.54 519.03h3.27M441.18 517.39v3.27M446.08 744.66h3.27M447.72 743.02v3.27M451.53 744.66h3.27M453.17 743.02v3.27M460.25 516.85h3.27M461.89 515.21v3.27M461.34 682.53h3.27M462.98 680.89v3.27M470.06 727.22h3.27M471.70 725.58v3.27M475.51 487.42h3.27M477.15 485.78v3.27M475.51 727.22h3.27M477.15 725.58v3.27M478.78 515.76h3.27M480.42 514.12v3.27M480.96 487.42h3.27M482.60 485.78v3.27M484.23 744.66h3.27M485.87 743.02v3.27M492.95 713.05h3.27M494.59 711.41v3.27M511.48 744.66h3.27M513.12 743.02v3.27M513.66 727.22h3.27M515.30 725.58v3.27M527.83 744.66h3.27M529.47 743.02v3.27M546.36 716.32h3.27M548.00 714.68v3.27M547.45 511.40h3.27M549.09 509.76v3.27M549.63 483.06h3.27M551.27 481.42v3.27M555.08 701.06h3.27M556.72 699.42v3.27M557.26 727.22h3.27M558.90 725.58v3.27M560.53 510.31h3.27M562.17 508.67v3.27M562.71 481.97h3.27M564.35 480.33v3.27" stroke="#000" stroke-width="0.954" fill="none"/>
<path d="M91.83 744.66h3.27M93.47 743.02v3.27M95.10 587.70h3.27M96.74 586.06v3.27M100.55 576.80h3.27M102.19 575.16v3.27M129.98 548.46h3.27M131.62 546.82v3.27M151.78 744.66h3.27M153.42 743.02v3.27M177.94 557.18h3.27M179.58 555.54v3.27M206.28 744.66h3.27M207.92 743.02v3.27M228.08 744.66h3.27M229.72 743.02v3.27M235.71 514.67h3.27M237.35 513.03v3.27M248.79 540.83h3.27M250.43 539.19v3.27M249.88 744.66h3.27M251.52 743.02v3.27M256.42 539.74h3.27M258.06 538.10v3.27M260.78 744.66h3.27M262.42 743.02v3.27M266.23 744.66h3.27M267.87 743.02v3.27M273.86 536.47h3.27M275.50 534.83v3.27M274.95 549.55h3.27M276.59 547.91v3.27M294.57 534.29h3.27M296.21 532.65v3.27M315.28 744.66h3.27M316.92 743.02v3.27M337.08 744.66h3.27M338.72 743.02v3.27M347.98 499.41h3.27M349.62 497.77v3.27M347.98 744.66h3.27M349.62 743.02v3.27M353.43 526.66h3.27M355.07 525.02v3.27M364.33 744.66h3.27M365.97 743.02v3.27M366.51 525.57h3.27M368.15 523.93v3.27M368.69 497.23h3.27M370.33 495.59v3.27M369.78 744.66h3.27M371.42 743.02v3.27M374.14 524.48h3.27M375.78 522.84v3.27M386.13 744.66h3.27M387.77 743.02v3.27M424.28 744.66h3.27M425.92 743.02v3.27M428.64 491.78h3.27M430.28 490.14v3.27M431.91 727.22h3.27M433.55 725.58v3.27M440.63 744.66h3.27M442.27 743.02v3.27M456.98 744.66h3.27M458.62 743.02v3.27M462.43 488.51h3.27M464.07 486.87v3.27M462.43 744.66h3.27M464.07 743.02v3.27M465.70 516.85h3.27M467.34 515.21v3.27M467.88 488.51h3.27M469.52 486.87v3.27M467.88 744.66h3.27M469.52 743.02v3.27M500.58 744.66h3.27M502.22 743.02v3.27M516.93 744.66h3.27M518.57 743.02v3.27M522.38 744.66h3.27M524.02 743.02v3.27M538.73 483.06h3.27M540.37 481.42v3.27" stroke="#000" stroke-width="1.022" fill="none"/>
<path d="M97.28 744.66h3.27M98.92 743.02v3.27M108.18 744.66h3.27M109.82 743.02v3.27M124.53 744.66h3.27M126.17 743.02v3.27M135.43 744.66h3.27M137.07 743.02v3.27M146.33 744.66h3.27M147.97 743.02v3.27M195.38 744.66h3.27M197.02 743.02v3.27M215.00 560.45h3.27M216.64 558.81v3.27M246.61 721.77h3.27M248.25 720.13v3.27M326.18 744.66h3.27M327.82 743.02v3.27M331.63 744.66h3.27M333.27 743.02v3.27M407.93 744.66h3.27M409.57 743.02v3.27M418.83 744.66h3.27M420.47 743.02v3.27M429.73 744.66h3.27M431.37 743.02v3.27M538.73 744.66h3.27M540.37 743.02v3.27M542.00 511.40h3.27M543.64 509.76v3.27M544.18 744.66h3.27M545.82 743.02v3.27M565.98 744.66h3.27M567.62 743.02v3.27" stroke="#000" stroke-width="1.056" fill="none"/>
<path d="M82.02 684.71h3.27M83.66 683.07v3.27M82.02 706.51h3.27M83.66 704.87v3.27M83.11 648.74h3.27M84.75 647.10v3.27M83.11 703.24h3.27M84.75 701.60v3.27M84.20 640.02h3.27M85.84 638.38v3.27M84.20 678.17h3.27M85.84 676.53v3.27M84.20 716.32h3.27M85.84 714.68v3.27M85.29 653.10h3.27M86.93 651.46v3.27M85.29 713.05h3.27M86.93 711.41v3.27M86.38 617.13h3.27M88.02 615.49v3.27M86.38 649.83h3.27M88.02 648.19v3.27M86.38 660.73h3.27M88.02 659.09v3.27M87.47 641.11h3.27M89.11 639.47v3.27M88.56 637.84h3.27M90.20 636.20v3.27M88.56 708.69h3.27M90.20 707.05v3.27M89.65 629.12h3.27M91.29 627.48v3.27M89.65 716.32h3.27M91.29 714.68v3.27M89.65 721.77h3.27M91.29 720.13v3.27M89.65 727.22h3.27M91.29 725.58v3.27M90.74 696.70h3.27M92.38 695.06v3.27M90.74 713.05h3.27M92.38 711.41v3.27M91.83 595.33h3.27M93.47 593.69v3.27M91.83 687.98h3.27M93.47 686.34v3.27M91.83 693.43h3.27M93.47 691.79v3.27M92.92 706.51h3.27M94.56 704.87v3.27M94.01 588.79h3.27M95.65 587.15v3.27M95.10 585.52h3.27M96.74 583.88v3.27M95.10 629.12h3.27M96.74 627.48v3.27M95.10 716.32h3.27M96.74 714.68v3.27M95.10 721.77h3.27M96.74 720.13v3.27M96.19 625.85h3.27M97.83 624.21v3.27M96.19 734.85h3.27M97.83 733.21v3.27M98.37 581.16h3.27M100.01 579.52v3.27M98.37 690.16h3.27M100.01 688.52v3.27M99.46 703.24h3.27M101.10 701.60v3.27M100.55 694.52h3.27M102.19 692.88v3.27M102.73 600.78h3.27M104.37 599.14v3.27M102.73 698.88h3.27M104.37 697.24v3.27M103.82 684.71h3.27M105.46 683.07v3.27M104.91 599.69h3.27M106.55 598.05v3.27M104.91 626.94h3.27M106.55 625.30v3.27M104.91 703.24h3.27M106.55 701.60v3.27M106.00 596.42h3.27M107.64 594.78v3.27M106.00 694.52h3.27M107.64 692.88v3.27M106.00 721.77h3.27M107.64 720.13v3.27M106.00 727.22h3.27M107.64 725.58v3.27M107.09 674.90h3.27M108.73 673.26v3.27M107.09 691.25h3.27M108.73 689.61v3.27M109.27 564.81h3.27M110.91 563.17v3.27M109.27 679.26h3.27M110.91 677.62v3.27M109.27 684.71h3.27M110.91 683.07v3.27M110.36 637.84h3.27M112.00 636.20v3.27M110.36 703.24h3.27M112.00 701.60v3.27M111.45 563.72h3.27M113.09 562.08v3.27M111.45 721.77h3.27M113.09 720.13v3.27M113.63 589.88h3.27M115.27 588.24v3.27M113.63 611.68h3.27M115.27 610.04v3.27M113.63 687.98h3.27M115.27 686.34v3.27M114.72 559.36h3.27M116.36 557.72v3.27M114.72 684.71h3.27M116.36 683.07v3.27M114.72 706.51h3.27M116.36 704.87v3.27M115.81 632.39h3.27M117.45 630.75v3.27M115.81 708.69h3.27M117.45 707.05v3.27M116.90 678.17h3.27M118.54 676.53v3.27M116.90 694.52h3.27M118.54 692.88v3.27M116.90 721.77h3.27M118.54 720.13v3.27M119.08 682.53h3.27M120.72 680.89v3.27M120.17 690.16h3.27M121.81 688.52v3.27M120.17 706.51h3.27M121.81 704.87v3.27M121.26 583.34h3.27M122.90 581.70v3.27M121.26 708.69h3.27M122.90 707.05v3.27M122.35 667.27h3.27M123.99 665.63v3.27M122.35 716.32h3.27M123.99 714.68v3.27M123.44 674.90h3.27M125.08 673.26v3.27M123.44 685.80h3.27M125.08 684.16v3.27M124.53 551.73h3.27M126.17 550.09v3.27M125.62 690.16h3.27M127.26 688.52v3.27M125.62 744.66h3.27M127.26 743.02v3.27M126.71 703.24h3.27M128.35 701.60v3.27M127.80 694.52h3.27M129.44 692.88v3.27M127.80 727.22h3.27M129.44 725.58v3.27M128.89 674.90h3.27M130.53 673.26v3.27M128.89 691.25h3.27M130.53 689.61v3.27M128.89 696.70h3.27M130.53 695.06v3.27M129.98 622.58h3.27M131.62 620.94v3.27M129.98 677.08h3.27M131.62 675.44v3.27M129.98 682.53h3.27M131.62 680.89v3.27M131.07 706.51h3.27M132.71 704.87v3.27M133.25 547.37h3.27M134.89 545.73v3.27M133.25 574.62h3.27M134.89 572.98v3.27M133.25 721.77h3.27M134.89 720.13v3.27M134.34 587.70h3.27M135.98 586.06v3.27M134.34 696.70h3.27M135.98 695.06v3.27M135.43 573.53h3.27M137.07 571.89v3.27M135.43 595.33h3.27M137.07 593.69v3.27M135.43 666.18h3.27M137.07 664.54v3.27M136.52 701.06h3.27M138.16 699.42v3.27M136.52 706.51h3.27M138.16 704.87v3.27M139.79 674.90h3.27M141.43 673.26v3.27M139.79 696.70h3.27M141.43 695.06v3.27M139.79 713.05h3.27M141.43 711.41v3.27M140.88 584.43h3.27M142.52 582.79v3.27M140.88 682.53h3.27M142.52 680.89v3.27M141.97 570.26h3.27M143.61 568.62v3.27M141.97 701.06h3.27M143.61 699.42v3.27M143.06 583.34h3.27M144.70 581.70v3.27M143.06 675.99h3.27M144.70 674.35v3.27M144.15 694.52h3.27M145.79 692.88v3.27M145.24 582.25h3.27M146.88 580.61v3.27M145.24 696.70h3.27M146.88 695.06v3.27M145.24 713.05h3.27M146.88 711.41v3.27M145.24 734.85h3.27M146.88 733.21v3.27M146.33 693.43h3.27M147.97 691.79v3.27M146.33 698.88h3.27M147.97 697.24v3.27M147.42 690.16h3.27M149.06 688.52v3.27M147.42 701.06h3.27M149.06 699.42v3.27M148.51 539.74h3.27M150.15 538.10v3.27M148.51 708.69h3.27M150.15 707.05v3.27M149.60 678.17h3.27M151.24 676.53v3.27M149.60 694.52h3.27M151.24 692.88v3.27M149.60 727.22h3.27M151.24 725.58v3.27M150.69 674.90h3.27M152.33 673.26v3.27M150.69 734.85h3.27M152.33 733.21v3.27M151.78 693.43h3.27M153.42 691.79v3.27M152.87 537.56h3.27M154.51 535.92v3.27M152.87 673.81h3.27M154.51 672.17v3.27M153.96 577.89h3.27M155.60 576.25v3.27M153.96 703.24h3.27M155.60 701.60v3.27M155.05 678.17h3.27M156.69 676.53v3.27M155.05 716.32h3.27M156.69 714.68v3.27M155.05 721.77h3.27M156.69 720.13v3.27M157.23 666.18h3.27M158.87 664.54v3.27M157.23 687.98h3.27M158.87 686.34v3.27M157.23 698.88h3.27M158.87 697.24v3.27M158.32 592.06h3.27M159.96 590.42v3.27M158.32 684.71h3.27M159.96 683.07v3.27M158.32 701.06h3.27M159.96 699.42v3.27M158.32 706.51h3.27M159.96 704.87v3.27M159.41 703.24h3.27M161.05 701.60v3.27M159.41 708.69h3.27M161.05 707.05v3.27M160.50 678.17h3.27M162.14 676.53v3.27M160.50 716.32h3.27M162.14 714.68v3.27M160.50 721.77h3.27M162.14 720.13v3.27M161.59 604.05h3.27M163.23 602.41v3.27M161.59 680.35h3.27M163.23 678.71v3.27M161.59 734.85h3.27M163.23 733.21v3.27M162.68 671.63h3.27M164.32 669.99v3.27M162.68 682.53h3.27M164.32 680.89v3.27M163.77 690.16h3.27M165.41 688.52v3.27M163.77 701.06h3.27M165.41 699.42v3.27M164.86 561.54h3.27M166.50 559.90v3.27M164.86 681.44h3.27M166.50 679.80v3.27M164.86 686.89h3.27M166.50 685.25v3.27M164.86 703.24h3.27M166.50 701.60v3.27M165.95 694.52h3.27M167.59 692.88v3.27M165.95 716.32h3.27M167.59 714.68v3.27M167.04 713.05h3.27M168.68 711.41v3.27M168.13 682.53h3.27M169.77 680.89v3.27M169.22 701.06h3.27M170.86 699.42v3.27M170.31 670.54h3.27M171.95 668.90v3.27M170.31 703.24h3.27M171.95 701.60v3.27M171.40 661.82h3.27M173.04 660.18v3.27M172.49 571.35h3.27M174.13 569.71v3.27M172.49 609.50h3.27M174.13 607.86v3.27M172.49 734.85h3.27M174.13 733.21v3.27M173.58 529.93h3.27M175.22 528.29v3.27M173.58 666.18h3.27M175.22 664.54v3.27M173.58 693.43h3.27M175.22 691.79v3.27M174.67 690.16h3.27M176.31 688.52v3.27M175.76 605.14h3.27M177.40 603.50v3.27M175.76 659.64h3.27M177.40 658.00v3.27M175.76 675.99h3.27M177.40 674.35v3.27M176.85 585.52h3.27M178.49 583.88v3.27M177.94 664.00h3.27M179.58 662.36v3.27M177.94 674.90h3.27M179.58 673.26v3.27M179.03 693.43h3.27M180.67 691.79v3.27M180.12 597.51h3.27M181.76 595.87v3.27M181.21 556.09h3.27M182.85 554.45v3.27M183.39 734.85h3.27M185.03 733.21v3.27M184.48 682.53h3.27M186.12 680.89v3.27M184.48 698.88h3.27M186.12 697.24v3.27M185.57 679.26h3.27M187.21 677.62v3.27M185.57 684.71h3.27M187.21 683.07v3.27M185.57 706.51h3.27M187.21 704.87v3.27M186.66 583.34h3.27M188.30 581.70v3.27M186.66 670.54h3.27M188.30 668.90v3.27M186.66 708.69h3.27M188.30 707.05v3.27M187.75 721.77h3.27M189.39 720.13v3.27M188.84 696.70h3.27M190.48 695.06v3.27M188.84 713.05h3.27M190.48 711.41v3.27M188.84 734.85h3.27M190.48 733.21v3.27M189.93 524.48h3.27M191.57 522.84v3.27M191.02 581.16h3.27M192.66 579.52v3.27M191.02 668.36h3.27M192.66 666.72v3.27M191.02 684.71h3.27M192.66 683.07v3.27M191.02 701.06h3.27M192.66 699.42v3.27M191.02 706.51h3.27M192.66 704.87v3.27M192.11 686.89h3.27M193.75 685.25v3.27M193.20 656.37h3.27M194.84 654.73v3.27M193.20 694.52h3.27M194.84 692.88v3.27M193.20 721.77h3.27M194.84 720.13v3.27M194.29 734.85h3.27M195.93 733.21v3.27M195.38 682.53h3.27M197.02 680.89v3.27M195.38 693.43h3.27M197.02 691.79v3.27M197.56 523.39h3.27M199.20 521.75v3.27M197.56 686.89h3.27M199.20 685.25v3.27M197.56 703.24h3.27M199.20 701.60v3.27M198.65 601.87h3.27M200.29 600.23v3.27M198.65 716.32h3.27M200.29 714.68v3.27M199.74 713.05h3.27M201.38 711.41v3.27M199.74 734.85h3.27M201.38 733.21v3.27M201.92 684.71h3.27M203.56 683.07v3.27M201.92 690.16h3.27M203.56 688.52v3.27M201.92 706.51h3.27M203.56 704.87v3.27M203.01 550.64h3.27M204.65 549.00v3.27M203.01 703.24h3.27M204.65 701.60v3.27M204.10 563.72h3.27M205.74 562.08v3.27M204.10 694.52h3.27M205.74 692.88v3.27M204.10 716.32h3.27M205.74 714.68v3.27M204.10 721.77h3.27M205.74 720.13v3.27M204.10 727.22h3.27M205.74 725.58v3.27M205.19 587.70h3.27M206.83 586.06v3.27M205.19 734.85h3.27M206.83 733.21v3.27M206.28 562.63h3.27M207.92 560.99v3.27M206.28 682.53h3.27M207.92 680.89v3.27M206.28 698.88h3.27M207.92 697.24v3.27M207.37 673.81h3.27M209.01 672.17v3.27M207.37 706.51h3.27M209.01 704.87v3.27M208.46 654.19h3.27M210.10 652.55v3.27M208.46 708.69h3.27M210.10 707.05v3.27M209.55 520.12h3.27M211.19 518.48v3.27M209.55 716.32h3.27M211.19 714.68v3.27M209.55 721.77h3.27M211.19 720.13v3.27M209.55 727.22h3.27M211.19 725.58v3.27M210.64 669.45h3.27M212.28 667.81v3.27M210.64 713.05h3.27M212.28 711.41v3.27M210.64 734.85h3.27M212.28 733.21v3.27M211.73 687.98h3.27M213.37 686.34v3.27M211.73 693.43h3.27M213.37 691.79v3.27M211.73 698.88h3.27M213.37 697.24v3.27M212.82 673.81h3.27M214.46 672.17v3.27M212.82 684.71h3.27M214.46 683.07v3.27M213.91 686.89h3.27M215.55 685.25v3.27M213.91 708.69h3.27M215.55 707.05v3.27M215.00 547.37h3.27M216.64 545.73v3.27M216.09 691.25h3.27M217.73 689.61v3.27M216.09 713.05h3.27M217.73 711.41v3.27M216.09 734.85h3.27M217.73 733.21v3.27M217.18 682.53h3.27M218.82 680.89v3.27M217.18 698.88h3.27M218.82 697.24v3.27M218.27 690.16h3.27M219.91 688.52v3.27M218.27 701.06h3.27M219.91 699.42v3.27M219.36 659.64h3.27M221.00 658.00v3.27M220.45 727.22h3.27M222.09 725.58v3.27M221.54 696.70h3.27M223.18 695.06v3.27M221.54 713.05h3.27M223.18 711.41v3.27M222.63 671.63h3.27M224.27 669.99v3.27M222.63 687.98h3.27M224.27 686.34v3.27M222.63 693.43h3.27M224.27 691.79v3.27M222.63 698.88h3.27M224.27 697.24v3.27M223.72 706.51h3.27M225.36 704.87v3.27M224.81 708.69h3.27M226.45 707.05v3.27M225.90 716.32h3.27M227.54 714.68v3.27M225.90 721.77h3.27M227.54 720.13v3.27M226.99 669.45h3.27M228.63 667.81v3.27M226.99 685.80h3.27M228.63 684.16v3.27M228.08 573.53h3.27M229.72 571.89v3.27M229.17 706.51h3.27M230.81 704.87v3.27M230.26 703.24h3.27M231.90 701.60v3.27M231.35 585.52h3.27M232.99 583.88v3.27M231.35 672.72h3.27M232.99 671.08v3.27M231.35 716.32h3.27M232.99 714.68v3.27M232.44 669.45h3.27M234.08 667.81v3.27M232.44 734.85h3.27M234.08 733.21v3.27M233.53 557.18h3.27M235.17 555.54v3.27M234.62 744.66h3.27M236.26 743.02v3.27M235.71 556.09h3.27M237.35 554.45v3.27M235.71 670.54h3.27M237.35 668.90v3.27M236.80 661.82h3.27M238.44 660.18v3.27M236.80 727.22h3.27M238.44 725.58v3.27M237.89 680.35h3.27M239.53 678.71v3.27M237.89 696.70h3.27M239.53 695.06v3.27M240.07 684.71h3.27M241.71 683.07v3.27M240.07 706.51h3.27M241.71 704.87v3.27M242.25 541.92h3.27M243.89 540.28v3.27M242.25 563.72h3.27M243.89 562.08v3.27M242.25 678.17h3.27M243.89 676.53v3.27M242.25 721.77h3.27M243.89 720.13v3.27M242.25 727.22h3.27M243.89 725.58v3.27M243.34 680.35h3.27M244.98 678.71v3.27M244.43 660.73h3.27M246.07 659.09v3.27M245.52 570.26h3.27M247.16 568.62v3.27M245.52 701.06h3.27M247.16 699.42v3.27M245.52 706.51h3.27M247.16 704.87v3.27M246.61 512.49h3.27M248.25 510.85v3.27M246.61 583.34h3.27M248.25 581.70v3.27M246.61 686.89h3.27M248.25 685.25v3.27M246.61 703.24h3.27M248.25 701.60v3.27M247.70 661.82h3.27M249.34 660.18v3.27M247.70 678.17h3.27M249.34 676.53v3.27M247.70 727.22h3.27M249.34 725.58v3.27M248.79 664.00h3.27M250.43 662.36v3.27M248.79 680.35h3.27M250.43 678.71v3.27M248.79 734.85h3.27M250.43 733.21v3.27M249.88 540.83h3.27M251.52 539.19v3.27M249.88 595.33h3.27M251.52 593.69v3.27M250.97 668.36h3.27M252.61 666.72v3.27M252.06 539.74h3.27M253.70 538.10v3.27M252.06 686.89h3.27M253.70 685.25v3.27M253.15 552.82h3.27M254.79 551.18v3.27M253.15 661.82h3.27M254.79 660.18v3.27M254.24 653.10h3.27M255.88 651.46v3.27M254.24 696.70h3.27M255.88 695.06v3.27M254.24 713.05h3.27M255.88 711.41v3.27M254.24 734.85h3.27M255.88 733.21v3.27M255.33 693.43h3.27M256.97 691.79v3.27M256.42 706.51h3.27M258.06 704.87v3.27M257.51 539.74h3.27M259.15 538.10v3.27M258.60 552.82h3.27M260.24 551.18v3.27M258.60 661.82h3.27M260.24 660.18v3.27M259.69 538.65h3.27M261.33 537.01v3.27M259.69 685.80h3.27M261.33 684.16v3.27M259.69 713.05h3.27M261.33 711.41v3.27M260.78 551.73h3.27M262.42 550.09v3.27M260.78 666.18h3.27M262.42 664.54v3.27M260.78 698.88h3.27M262.42 697.24v3.27M262.96 566.99h3.27M264.60 565.35v3.27M262.96 588.79h3.27M264.60 587.15v3.27M262.96 703.24h3.27M264.60 701.60v3.27M264.05 694.52h3.27M265.69 692.88v3.27M264.05 716.32h3.27M265.69 714.68v3.27M264.05 721.77h3.27M265.69 720.13v3.27M265.14 571.35h3.27M266.78 569.71v3.27M265.14 658.55h3.27M266.78 656.91v3.27M265.14 696.70h3.27M266.78 695.06v3.27M265.14 734.85h3.27M266.78 733.21v3.27M266.23 551.73h3.27M267.87 550.09v3.27M266.23 660.73h3.27M267.87 659.09v3.27M267.32 684.71h3.27M268.96 683.07v3.27M267.32 701.06h3.27M268.96 699.42v3.27M267.32 706.51h3.27M268.96 704.87v3.27M268.41 550.64h3.27M270.05 549.00v3.27M269.50 721.77h3.27M271.14 720.13v3.27M270.59 664.00h3.27M272.23 662.36v3.27M270.59 734.85h3.27M272.23 733.21v3.27M271.68 655.28h3.27M273.32 653.64v3.27M273.86 681.44h3.27M275.50 679.80v3.27M273.86 686.89h3.27M275.50 685.25v3.27M274.95 716.32h3.27M276.59 714.68v3.27M274.95 727.22h3.27M276.59 725.58v3.27M276.04 549.55h3.27M277.68 547.91v3.27M276.04 647.65h3.27M277.68 646.01v3.27M276.04 669.45h3.27M277.68 667.81v3.27M276.04 696.70h3.27M277.68 695.06v3.27M276.04 713.05h3.27M277.68 711.41v3.27M278.22 684.71h3.27M279.86 683.07v3.27M278.22 701.06h3.27M279.86 699.42v3.27M279.31 507.04h3.27M280.95 505.40v3.27M279.31 577.89h3.27M280.95 576.25v3.27M279.31 670.54h3.27M280.95 668.90v3.27M279.31 703.24h3.27M280.95 701.60v3.27M280.40 694.52h3.27M282.04 692.88v3.27M280.40 721.77h3.27M282.04 720.13v3.27M281.49 691.25h3.27M283.13 689.61v3.27M281.49 734.85h3.27M283.13 733.21v3.27M283.67 548.46h3.27M285.31 546.82v3.27M283.67 690.16h3.27M285.31 688.52v3.27M284.76 703.24h3.27M286.40 701.60v3.27M284.76 708.69h3.27M286.40 707.05v3.27M285.85 563.72h3.27M287.49 562.08v3.27M285.85 716.32h3.27M287.49 714.68v3.27M285.85 721.77h3.27M287.49 720.13v3.27M286.94 713.05h3.27M288.58 711.41v3.27M288.03 535.38h3.27M289.67 533.74v3.27M288.03 568.08h3.27M289.67 566.44v3.27M288.03 660.73h3.27M289.67 659.09v3.27M290.21 534.29h3.27M291.85 532.65v3.27M290.21 556.09h3.27M291.85 554.45v3.27M290.21 703.24h3.27M291.85 701.60v3.27M291.30 694.52h3.27M292.94 692.88v3.27M291.30 721.77h3.27M292.94 720.13v3.27M292.39 593.15h3.27M294.03 591.51v3.27M292.39 696.70h3.27M294.03 695.06v3.27M294.57 575.71h3.27M296.21 574.07v3.27M295.66 556.09h3.27M297.30 554.45v3.27M295.66 659.64h3.27M297.30 658.00v3.27M295.66 703.24h3.27M297.30 701.60v3.27M295.66 708.69h3.27M297.30 707.05v3.27M298.93 671.63h3.27M300.57 669.99v3.27M298.93 682.53h3.27M300.57 680.89v3.27M298.93 693.43h3.27M300.57 691.79v3.27M298.93 698.88h3.27M300.57 697.24v3.27M300.02 646.56h3.27M301.66 644.92v3.27M300.02 673.81h3.27M301.66 672.17v3.27M300.02 701.06h3.27M301.66 699.42v3.27M300.02 706.51h3.27M301.66 704.87v3.27M302.20 678.17h3.27M303.84 676.53v3.27M302.20 721.77h3.27M303.84 720.13v3.27M303.29 691.25h3.27M304.93 689.61v3.27M303.29 713.05h3.27M304.93 711.41v3.27M303.29 734.85h3.27M304.93 733.21v3.27M304.38 546.28h3.27M306.02 544.64v3.27M305.47 553.91h3.27M307.11 552.27v3.27M305.47 690.16h3.27M307.11 688.52v3.27M306.56 643.29h3.27M308.20 641.65v3.27M306.56 708.69h3.27M308.20 707.05v3.27M307.65 645.47h3.27M309.29 643.83v3.27M307.65 661.82h3.27M309.29 660.18v3.27M307.65 667.27h3.27M309.29 665.63v3.27M307.65 678.17h3.27M309.29 676.53v3.27M307.65 694.52h3.27M309.29 692.88v3.27M307.65 721.77h3.27M309.29 720.13v3.27M309.83 666.18h3.27M311.47 664.54v3.27M310.92 701.06h3.27M312.56 699.42v3.27M312.01 686.89h3.27M313.65 685.25v3.27M313.10 569.17h3.27M314.74 567.53v3.27M313.10 667.27h3.27M314.74 665.63v3.27M314.19 669.45h3.27M315.83 667.81v3.27M314.19 696.70h3.27M315.83 695.06v3.27M314.19 734.85h3.27M315.83 733.21v3.27M316.37 559.36h3.27M318.01 557.72v3.27M316.37 690.16h3.27M318.01 688.52v3.27M317.46 708.69h3.27M319.10 707.05v3.27M318.55 531.02h3.27M320.19 529.38v3.27M318.55 650.92h3.27M320.19 649.28v3.27M318.55 661.82h3.27M320.19 660.18v3.27M318.55 694.52h3.27M320.19 692.88v3.27M319.64 544.10h3.27M321.28 542.46v3.27M319.64 680.35h3.27M321.28 678.71v3.27M319.64 696.70h3.27M321.28 695.06v3.27M319.64 713.05h3.27M321.28 711.41v3.27M320.73 502.68h3.27M322.37 501.04v3.27M320.73 660.73h3.27M322.37 659.09v3.27M320.73 671.63h3.27M322.37 669.99v3.27M320.73 693.43h3.27M322.37 691.79v3.27M321.82 701.06h3.27M323.46 699.42v3.27M321.82 706.51h3.27M323.46 704.87v3.27M322.91 681.44h3.27M324.55 679.80v3.27M324.00 678.17h3.27M325.64 676.53v3.27M324.00 721.77h3.27M325.64 720.13v3.27M325.09 582.25h3.27M326.73 580.61v3.27M325.09 696.70h3.27M326.73 695.06v3.27M326.18 529.93h3.27M327.82 528.29v3.27M326.18 687.98h3.27M327.82 686.34v3.27M327.27 543.01h3.27M328.91 541.37v3.27M327.27 706.51h3.27M328.91 704.87v3.27M328.36 708.69h3.27M330.00 707.05v3.27M329.45 558.27h3.27M331.09 556.63v3.27M329.45 694.52h3.27M331.09 692.88v3.27M329.45 716.32h3.27M331.09 714.68v3.27M329.45 721.77h3.27M331.09 720.13v3.27M329.45 727.22h3.27M331.09 725.58v3.27M330.54 500.50h3.27M332.18 498.86v3.27M330.54 571.35h3.27M332.18 569.71v3.27M330.54 674.90h3.27M332.18 673.26v3.27M331.63 671.63h3.27M333.27 669.99v3.27M331.63 682.53h3.27M333.27 680.89v3.27M332.72 690.16h3.27M334.36 688.52v3.27M332.72 701.06h3.27M334.36 699.42v3.27M333.81 528.84h3.27M335.45 527.20v3.27M334.90 541.92h3.27M336.54 540.28v3.27M334.90 585.52h3.27M336.54 583.88v3.27M334.90 727.22h3.27M336.54 725.58v3.27M335.99 500.50h3.27M337.63 498.86v3.27M335.99 734.85h3.27M337.63 733.21v3.27M337.08 693.43h3.27M338.72 691.79v3.27M337.08 698.88h3.27M338.72 697.24v3.27M338.17 673.81h3.27M339.81 672.17v3.27M338.17 701.06h3.27M339.81 699.42v3.27M338.17 706.51h3.27M339.81 704.87v3.27M339.26 550.64h3.27M340.90 549.00v3.27M339.26 708.69h3.27M340.90 707.05v3.27M340.35 716.32h3.27M341.99 714.68v3.27M341.44 696.70h3.27M343.08 695.06v3.27M341.44 734.85h3.27M343.08 733.21v3.27M343.62 499.41h3.27M345.26 497.77v3.27M343.62 668.36h3.27M345.26 666.72v3.27M343.62 701.06h3.27M345.26 699.42v3.27M343.62 744.66h3.27M345.26 743.02v3.27M344.71 561.54h3.27M346.35 559.90v3.27M344.71 703.24h3.27M346.35 701.60v3.27M345.80 721.77h3.27M347.44 720.13v3.27M346.89 527.75h3.27M348.53 526.11v3.27M346.89 674.90h3.27M348.53 673.26v3.27M346.89 691.25h3.27M348.53 689.61v3.27M347.98 682.53h3.27M349.62 680.89v3.27M347.98 687.98h3.27M349.62 686.34v3.27M349.07 684.71h3.27M350.71 683.07v3.27M349.07 706.51h3.27M350.71 704.87v3.27M349.07 744.66h3.27M350.71 743.02v3.27M350.16 703.24h3.27M351.80 701.60v3.27M350.16 708.69h3.27M351.80 707.05v3.27M351.25 498.32h3.27M352.89 496.68v3.27M351.25 694.52h3.27M352.89 692.88v3.27M351.25 721.77h3.27M352.89 720.13v3.27M352.34 680.35h3.27M353.98 678.71v3.27M354.52 526.66h3.27M356.16 525.02v3.27M354.52 706.51h3.27M356.16 704.87v3.27M355.61 539.74h3.27M357.25 538.10v3.27M355.61 670.54h3.27M357.25 668.90v3.27M356.70 498.32h3.27M358.34 496.68v3.27M356.70 678.17h3.27M358.34 676.53v3.27M356.70 721.77h3.27M358.34 720.13v3.27M357.79 555.00h3.27M359.43 553.36v3.27M357.79 653.10h3.27M359.43 651.46v3.27M357.79 734.85h3.27M359.43 733.21v3.27M358.88 682.53h3.27M360.52 680.89v3.27M359.97 673.81h3.27M361.61 672.17v3.27M359.97 701.06h3.27M361.61 699.42v3.27M359.97 706.51h3.27M361.61 704.87v3.27M361.06 539.74h3.27M362.70 538.10v3.27M361.06 654.19h3.27M362.70 652.55v3.27M361.06 670.54h3.27M362.70 668.90v3.27M361.06 686.89h3.27M362.70 685.25v3.27M362.15 525.57h3.27M363.79 523.93v3.27M362.15 727.22h3.27M363.79 725.58v3.27M363.24 680.35h3.27M364.88 678.71v3.27M363.24 691.25h3.27M364.88 689.61v3.27M363.24 713.05h3.27M364.88 711.41v3.27M363.24 734.85h3.27M364.88 733.21v3.27M364.33 666.18h3.27M365.97 664.54v3.27M365.42 553.91h3.27M367.06 552.27v3.27M365.42 646.56h3.27M367.06 644.92v3.27M366.51 708.69h3.27M368.15 707.05v3.27M367.60 563.72h3.27M369.24 562.08v3.27M367.60 694.52h3.27M369.24 692.88v3.27M368.69 680.35h3.27M370.33 678.71v3.27M368.69 691.25h3.27M370.33 689.61v3.27M368.69 734.85h3.27M370.33 733.21v3.27M369.78 698.88h3.27M371.42 697.24v3.27M370.87 701.06h3.27M372.51 699.42v3.27M371.96 496.14h3.27M373.60 494.50v3.27M371.96 670.54h3.27M373.60 668.90v3.27M371.96 703.24h3.27M373.60 701.60v3.27M373.05 552.82h3.27M374.69 551.18v3.27M374.14 669.45h3.27M375.78 667.81v3.27M374.14 680.35h3.27M375.78 678.71v3.27M374.14 685.80h3.27M375.78 684.16v3.27M374.14 713.05h3.27M375.78 711.41v3.27M375.23 682.53h3.27M376.87 680.89v3.27M376.32 673.81h3.27M377.96 672.17v3.27M376.32 701.06h3.27M377.96 699.42v3.27M377.41 670.54h3.27M379.05 668.90v3.27M377.41 703.24h3.27M379.05 701.60v3.27M378.50 552.82h3.27M380.14 551.18v3.27M378.50 694.52h3.27M380.14 692.88v3.27M378.50 721.77h3.27M380.14 720.13v3.27M378.50 727.22h3.27M380.14 725.58v3.27M379.59 691.25h3.27M381.23 689.61v3.27M379.59 696.70h3.27M381.23 695.06v3.27M380.68 546.28h3.27M382.32 544.64v3.27M380.68 693.43h3.27M382.32 691.79v3.27M381.77 581.16h3.27M383.41 579.52v3.27M381.77 701.06h3.27M383.41 699.42v3.27M383.95 678.17h3.27M385.59 676.53v3.27M383.95 721.77h3.27M385.59 720.13v3.27M385.04 495.05h3.27M386.68 493.41v3.27M385.04 565.90h3.27M386.68 564.26v3.27M385.04 674.90h3.27M386.68 673.26v3.27M385.04 713.05h3.27M386.68 711.41v3.27M386.13 557.18h3.27M387.77 555.54v3.27M386.13 671.63h3.27M387.77 669.99v3.27M387.22 564.81h3.27M388.86 563.17v3.27M387.22 646.56h3.27M388.86 644.92v3.27M387.22 690.16h3.27M388.86 688.52v3.27M387.22 701.06h3.27M388.86 699.42v3.27M388.31 523.39h3.27M389.95 521.75v3.27M388.31 545.19h3.27M389.95 543.55v3.27M388.31 561.54h3.27M389.95 559.90v3.27M388.31 654.19h3.27M389.95 652.55v3.27M388.31 703.24h3.27M389.95 701.60v3.27M390.49 495.05h3.27M392.13 493.41v3.27M390.49 680.35h3.27M392.13 678.71v3.27M391.58 687.98h3.27M393.22 686.34v3.27M392.67 679.26h3.27M394.31 677.62v3.27M392.67 701.06h3.27M394.31 699.42v3.27M392.67 706.51h3.27M394.31 704.87v3.27M393.76 654.19h3.27M395.40 652.55v3.27M393.76 670.54h3.27M395.40 668.90v3.27M393.76 703.24h3.27M395.40 701.60v3.27M394.85 536.47h3.27M396.49 534.83v3.27M394.85 694.52h3.27M396.49 692.88v3.27M394.85 721.77h3.27M396.49 720.13v3.27M395.94 560.45h3.27M397.58 558.81v3.27M395.94 713.05h3.27M397.58 711.41v3.27M397.03 671.63h3.27M398.67 669.99v3.27M397.03 687.98h3.27M398.67 686.34v3.27M397.03 698.88h3.27M398.67 697.24v3.27M398.12 493.96h3.27M399.76 492.32v3.27M399.21 708.69h3.27M400.85 707.05v3.27M400.30 656.37h3.27M401.94 654.73v3.27M400.30 727.22h3.27M401.94 725.58v3.27M401.39 696.70h3.27M403.03 695.06v3.27M401.39 734.85h3.27M403.03 733.21v3.27M402.48 535.38h3.27M404.12 533.74v3.27M402.48 677.08h3.27M404.12 675.44v3.27M403.57 493.96h3.27M405.21 492.32v3.27M403.57 652.01h3.27M405.21 650.37v3.27M404.66 550.64h3.27M406.30 549.00v3.27M404.66 637.84h3.27M406.30 636.20v3.27M404.66 686.89h3.27M406.30 685.25v3.27M405.75 678.17h3.27M407.39 676.53v3.27M405.75 716.32h3.27M407.39 714.68v3.27M406.84 658.55h3.27M408.48 656.91v3.27M406.84 734.85h3.27M408.48 733.21v3.27M407.93 682.53h3.27M409.57 680.89v3.27M407.93 693.43h3.27M409.57 691.79v3.27M409.02 673.81h3.27M410.66 672.17v3.27M409.02 701.06h3.27M410.66 699.42v3.27M409.02 706.51h3.27M410.66 704.87v3.27M410.11 659.64h3.27M411.75 658.00v3.27M410.11 675.99h3.27M411.75 674.35v3.27M410.11 708.69h3.27M411.75 707.05v3.27M411.20 716.32h3.27M412.84 714.68v3.27M411.20 721.77h3.27M412.84 720.13v3.27M411.20 727.22h3.27M412.84 725.58v3.27M412.29 696.70h3.27M413.93 695.06v3.27M412.29 713.05h3.27M413.93 711.41v3.27M412.29 734.85h3.27M413.93 733.21v3.27M413.38 698.88h3.27M415.02 697.24v3.27M414.47 641.11h3.27M416.11 639.47v3.27M414.47 701.06h3.27M416.11 699.42v3.27M415.56 654.19h3.27M417.20 652.55v3.27M416.65 492.87h3.27M418.29 491.23v3.27M416.65 716.32h3.27M418.29 714.68v3.27M417.74 653.10h3.27M419.38 651.46v3.27M417.74 713.05h3.27M419.38 711.41v3.27M418.83 562.63h3.27M420.47 560.99v3.27M418.83 568.08h3.27M420.47 566.44v3.27M419.92 679.26h3.27M421.56 677.62v3.27M419.92 706.51h3.27M421.56 704.87v3.27M421.01 648.74h3.27M422.65 647.10v3.27M421.01 703.24h3.27M422.65 701.60v3.27M421.01 708.69h3.27M422.65 707.05v3.27M422.10 541.92h3.27M423.74 540.28v3.27M422.10 678.17h3.27M423.74 676.53v3.27M422.10 716.32h3.27M423.74 714.68v3.27M423.19 691.25h3.27M424.83 689.61v3.27M423.19 734.85h3.27M424.83 733.21v3.27M424.28 687.98h3.27M425.92 686.34v3.27M424.28 693.43h3.27M425.92 691.79v3.27M425.37 657.46h3.27M427.01 655.82v3.27M426.46 703.24h3.27M428.10 701.60v3.27M427.55 721.77h3.27M429.19 720.13v3.27M428.64 533.20h3.27M430.28 531.56v3.27M428.64 691.25h3.27M430.28 689.61v3.27M428.64 713.05h3.27M430.28 711.41v3.27M429.73 693.43h3.27M431.37 691.79v3.27M430.82 668.36h3.27M432.46 666.72v3.27M430.82 706.51h3.27M432.46 704.87v3.27M430.82 744.66h3.27M432.46 743.02v3.27M431.91 490.69h3.27M433.55 489.05v3.27M431.91 703.24h3.27M433.55 701.60v3.27M433.00 716.32h3.27M434.64 714.68v3.27M434.09 674.90h3.27M435.73 673.26v3.27M434.09 685.80h3.27M435.73 684.16v3.27M434.09 691.25h3.27M435.73 689.61v3.27M434.09 734.85h3.27M435.73 733.21v3.27M435.18 540.83h3.27M436.82 539.19v3.27M436.27 684.71h3.27M437.91 683.07v3.27M437.36 490.69h3.27M439.00 489.05v3.27M437.36 648.74h3.27M439.00 647.10v3.27M438.45 667.27h3.27M440.09 665.63v3.27M439.54 560.45h3.27M441.18 558.81v3.27M439.54 734.85h3.27M441.18 733.21v3.27M440.63 540.83h3.27M442.27 539.19v3.27M440.63 687.98h3.27M442.27 686.34v3.27M440.63 693.43h3.27M442.27 691.79v3.27M441.72 673.81h3.27M443.36 672.17v3.27M441.72 744.66h3.27M443.36 743.02v3.27M442.81 708.69h3.27M444.45 707.05v3.27M443.90 547.37h3.27M445.54 545.73v3.27M443.90 694.52h3.27M445.54 692.88v3.27M443.90 716.32h3.27M445.54 714.68v3.27M444.99 674.90h3.27M446.63 673.26v3.27M444.99 691.25h3.27M446.63 689.61v3.27M444.99 734.85h3.27M446.63 733.21v3.27M446.08 677.08h3.27M447.72 675.44v3.27M446.08 682.53h3.27M447.72 680.89v3.27M446.08 687.98h3.27M447.72 686.34v3.27M447.17 646.56h3.27M448.81 644.92v3.27M447.17 684.71h3.27M448.81 683.07v3.27M448.26 686.89h3.27M449.90 685.25v3.27M449.35 694.52h3.27M450.99 692.88v3.27M449.35 721.77h3.27M450.99 720.13v3.27M449.35 727.22h3.27M450.99 725.58v3.27M450.44 696.70h3.27M452.08 695.06v3.27M450.44 713.05h3.27M452.08 711.41v3.27M452.62 701.06h3.27M454.26 699.42v3.27M454.80 531.02h3.27M456.44 529.38v3.27M454.80 721.77h3.27M456.44 720.13v3.27M455.89 674.90h3.27M457.53 673.26v3.27M455.89 680.35h3.27M457.53 678.71v3.27M455.89 691.25h3.27M457.53 689.61v3.27M455.89 734.85h3.27M457.53 733.21v3.27M456.98 677.08h3.27M458.62 675.44v3.27M458.07 690.16h3.27M459.71 688.52v3.27M458.07 706.51h3.27M459.71 704.87v3.27M458.07 744.66h3.27M459.71 743.02v3.27M459.16 517.94h3.27M460.80 516.30v3.27M459.16 550.64h3.27M460.80 549.00v3.27M459.16 708.69h3.27M460.80 707.05v3.27M460.25 640.02h3.27M461.89 638.38v3.27M460.25 678.17h3.27M461.89 676.53v3.27M460.25 694.52h3.27M461.89 692.88v3.27M460.25 716.32h3.27M461.89 714.68v3.27M460.25 721.77h3.27M461.89 720.13v3.27M461.34 516.85h3.27M462.98 515.21v3.27M461.34 713.05h3.27M462.98 711.41v3.27M461.34 734.85h3.27M462.98 733.21v3.27M462.43 529.93h3.27M464.07 528.29v3.27M462.43 660.73h3.27M464.07 659.09v3.27M462.43 698.88h3.27M464.07 697.24v3.27M463.52 488.51h3.27M465.16 486.87v3.27M463.52 668.36h3.27M465.16 666.72v3.27M463.52 679.26h3.27M465.16 677.62v3.27M463.52 701.06h3.27M465.16 699.42v3.27M464.61 659.64h3.27M466.25 658.00v3.27M464.61 686.89h3.27M466.25 685.25v3.27M465.70 661.82h3.27M467.34 660.18v3.27M465.70 678.17h3.27M467.34 676.53v3.27M465.70 721.77h3.27M467.34 720.13v3.27M466.79 691.25h3.27M468.43 689.61v3.27M466.79 713.05h3.27M468.43 711.41v3.27M466.79 734.85h3.27M468.43 733.21v3.27M467.88 687.98h3.27M469.52 686.34v3.27M468.97 673.81h3.27M470.61 672.17v3.27M470.06 566.99h3.27M471.70 565.35v3.27M471.15 716.32h3.27M472.79 714.68v3.27M471.15 721.77h3.27M472.79 720.13v3.27M472.24 516.85h3.27M473.88 515.21v3.27M472.24 549.55h3.27M473.88 547.91v3.27M472.24 691.25h3.27M473.88 689.61v3.27M472.24 696.70h3.27M473.88 695.06v3.27M472.24 734.85h3.27M473.88 733.21v3.27M473.33 698.88h3.27M474.97 697.24v3.27M474.42 668.36h3.27M476.06 666.72v3.27M474.42 684.71h3.27M476.06 683.07v3.27M474.42 701.06h3.27M476.06 699.42v3.27M475.51 703.24h3.27M477.15 701.60v3.27M475.51 708.69h3.27M477.15 707.05v3.27M476.60 558.27h3.27M478.24 556.63v3.27M476.60 678.17h3.27M478.24 676.53v3.27M477.69 544.10h3.27M479.33 542.46v3.27M477.69 680.35h3.27M479.33 678.71v3.27M477.69 696.70h3.27M479.33 695.06v3.27M477.69 734.85h3.27M479.33 733.21v3.27M478.78 638.93h3.27M480.42 637.29v3.27M479.87 537.56h3.27M481.51 535.92v3.27M480.96 708.69h3.27M482.60 707.05v3.27M482.05 667.27h3.27M483.69 665.63v3.27M482.05 721.77h3.27M483.69 720.13v3.27M483.14 653.10h3.27M484.78 651.46v3.27M484.23 557.18h3.27M485.87 555.54v3.27M484.23 644.38h3.27M485.87 642.74v3.27M484.23 687.98h3.27M485.87 686.34v3.27M485.32 515.76h3.27M486.96 514.12v3.27M485.32 668.36h3.27M486.96 666.72v3.27M485.32 673.81h3.27M486.96 672.17v3.27M485.32 690.16h3.27M486.96 688.52v3.27M486.41 528.84h3.27M488.05 527.20v3.27M487.50 640.02h3.27M489.14 638.38v3.27M487.50 721.77h3.27M489.14 720.13v3.27M488.59 691.25h3.27M490.23 689.61v3.27M488.59 696.70h3.27M490.23 695.06v3.27M488.59 713.05h3.27M490.23 711.41v3.27M489.68 557.18h3.27M491.32 555.54v3.27M489.68 660.73h3.27M491.32 659.09v3.27M489.68 666.18h3.27M491.32 664.54v3.27M490.77 537.56h3.27M492.41 535.92v3.27M490.77 548.46h3.27M492.41 546.82v3.27M490.77 684.71h3.27M492.41 683.07v3.27M490.77 701.06h3.27M492.41 699.42v3.27M490.77 706.51h3.27M492.41 704.87v3.27M491.86 528.84h3.27M493.50 527.20v3.27M491.86 708.69h3.27M493.50 707.05v3.27M492.95 514.67h3.27M494.59 513.03v3.27M492.95 661.82h3.27M494.59 660.18v3.27M492.95 716.32h3.27M494.59 714.68v3.27M492.95 727.22h3.27M494.59 725.58v3.27M494.04 527.75h3.27M495.68 526.11v3.27M494.04 658.55h3.27M495.68 656.91v3.27M495.13 644.38h3.27M496.77 642.74v3.27M496.22 684.71h3.27M497.86 683.07v3.27M497.31 556.09h3.27M498.95 554.45v3.27M497.31 686.89h3.27M498.95 685.25v3.27M497.31 708.69h3.27M498.95 707.05v3.27M498.40 536.47h3.27M500.04 534.83v3.27M498.40 650.92h3.27M500.04 649.28v3.27M498.40 678.17h3.27M500.04 676.53v3.27M498.40 694.52h3.27M500.04 692.88v3.27M498.40 727.22h3.27M500.04 725.58v3.27M499.49 664.00h3.27M501.13 662.36v3.27M499.49 696.70h3.27M501.13 695.06v3.27M500.58 687.98h3.27M502.22 686.34v3.27M501.67 690.16h3.27M503.31 688.52v3.27M501.67 744.66h3.27M503.31 743.02v3.27M502.76 556.09h3.27M504.40 554.45v3.27M502.76 643.29h3.27M504.40 641.65v3.27M503.85 514.67h3.27M505.49 513.03v3.27M503.85 650.92h3.27M505.49 649.28v3.27M503.85 656.37h3.27M505.49 654.73v3.27M503.85 721.77h3.27M505.49 720.13v3.27M504.94 527.75h3.27M506.58 526.11v3.27M506.03 513.58h3.27M507.67 511.94v3.27M506.03 551.73h3.27M507.67 550.09v3.27M506.03 682.53h3.27M507.67 680.89v3.27M506.03 698.88h3.27M507.67 697.24v3.27M507.12 684.71h3.27M508.76 683.07v3.27M507.12 701.06h3.27M508.76 699.42v3.27M507.12 706.51h3.27M508.76 704.87v3.27M508.21 485.24h3.27M509.85 483.60v3.27M508.21 659.64h3.27M509.85 658.00v3.27M508.21 708.69h3.27M509.85 707.05v3.27M509.30 547.37h3.27M510.94 545.73v3.27M509.30 558.27h3.27M510.94 556.63v3.27M509.30 716.32h3.27M510.94 714.68v3.27M510.39 685.80h3.27M512.03 684.16v3.27M511.48 513.58h3.27M513.12 511.94v3.27M511.48 551.73h3.27M513.12 550.09v3.27M511.48 671.63h3.27M513.12 669.99v3.27M511.48 698.88h3.27M513.12 697.24v3.27M512.57 657.46h3.27M514.21 655.82v3.27M512.57 662.91h3.27M514.21 661.27v3.27M512.57 668.36h3.27M514.21 666.72v3.27M512.57 684.71h3.27M514.21 683.07v3.27M512.57 706.51h3.27M514.21 704.87v3.27M513.66 485.24h3.27M515.30 483.60v3.27M513.66 675.99h3.27M515.30 674.35v3.27M513.66 708.69h3.27M515.30 707.05v3.27M514.75 547.37h3.27M516.39 545.73v3.27M514.75 678.17h3.27M516.39 676.53v3.27M516.93 666.18h3.27M518.57 664.54v3.27M516.93 682.53h3.27M518.57 680.89v3.27M518.02 526.66h3.27M519.66 525.02v3.27M518.02 701.06h3.27M519.66 699.42v3.27M518.02 706.51h3.27M519.66 704.87v3.27M519.11 485.24h3.27M520.75 483.60v3.27M519.11 670.54h3.27M520.75 668.90v3.27M519.11 708.69h3.27M520.75 707.05v3.27M520.20 694.52h3.27M521.84 692.88v3.27M520.20 721.77h3.27M521.84 720.13v3.27M521.29 680.35h3.27M522.93 678.71v3.27M521.29 685.80h3.27M522.93 684.16v3.27M521.29 696.70h3.27M522.93 695.06v3.27M521.29 734.85h3.27M522.93 733.21v3.27M522.38 513.58h3.27M524.02 511.94v3.27M522.38 677.08h3.27M524.02 675.44v3.27M522.38 687.98h3.27M524.02 686.34v3.27M522.38 693.43h3.27M524.02 691.79v3.27M523.47 526.66h3.27M525.11 525.02v3.27M523.47 706.51h3.27M525.11 704.87v3.27M524.56 632.39h3.27M526.20 630.75v3.27M524.56 686.89h3.27M526.20 685.25v3.27M524.56 703.24h3.27M526.20 701.60v3.27M524.56 708.69h3.27M526.20 707.05v3.27M525.65 716.32h3.27M527.29 714.68v3.27M526.74 484.15h3.27M528.38 482.51v3.27M526.74 669.45h3.27M528.38 667.81v3.27M526.74 696.70h3.27M528.38 695.06v3.27M527.83 682.53h3.27M529.47 680.89v3.27M527.83 693.43h3.27M529.47 691.79v3.27M527.83 698.88h3.27M529.47 697.24v3.27M528.92 673.81h3.27M530.56 672.17v3.27M528.92 701.06h3.27M530.56 699.42v3.27M530.01 512.49h3.27M531.65 510.85v3.27M530.01 534.29h3.27M531.65 532.65v3.27M531.10 525.57h3.27M532.74 523.93v3.27M531.10 574.62h3.27M532.74 572.98v3.27M531.10 672.72h3.27M532.74 671.08v3.27M531.10 716.32h3.27M532.74 714.68v3.27M532.19 658.55h3.27M533.83 656.91v3.27M532.19 734.85h3.27M533.83 733.21v3.27M533.28 698.88h3.27M534.92 697.24v3.27M534.37 679.26h3.27M536.01 677.62v3.27M534.37 706.51h3.27M536.01 704.87v3.27M534.37 744.66h3.27M536.01 743.02v3.27M535.46 512.49h3.27M537.10 510.85v3.27M535.46 703.24h3.27M537.10 701.60v3.27M537.64 484.15h3.27M539.28 482.51v3.27M537.64 653.10h3.27M539.28 651.46v3.27M537.64 664.00h3.27M539.28 662.36v3.27M537.64 691.25h3.27M539.28 689.61v3.27M537.64 713.05h3.27M539.28 711.41v3.27M537.64 734.85h3.27M539.28 733.21v3.27M539.82 706.51h3.27M541.46 704.87v3.27M540.91 534.29h3.27M542.55 532.65v3.27M540.91 643.29h3.27M542.55 641.65v3.27M542.00 694.52h3.27M543.64 692.88v3.27M542.00 716.32h3.27M543.64 714.68v3.27M543.09 691.25h3.27M544.73 689.61v3.27M544.18 524.48h3.27M545.82 522.84v3.27M544.18 687.98h3.27M545.82 686.34v3.27M544.18 693.43h3.27M545.82 691.79v3.27M544.18 698.88h3.27M545.82 697.24v3.27M545.27 684.71h3.27M546.91 683.07v3.27M546.36 545.19h3.27M548.00 543.55v3.27M546.36 556.09h3.27M548.00 554.45v3.27M547.45 552.82h3.27M549.09 551.18v3.27M548.54 734.85h3.27M550.18 733.21v3.27M549.63 687.98h3.27M551.27 686.34v3.27M549.63 693.43h3.27M551.27 691.79v3.27M551.81 561.54h3.27M553.45 559.90v3.27M551.81 659.64h3.27M553.45 658.00v3.27M551.81 686.89h3.27M553.45 685.25v3.27M552.90 678.17h3.27M554.54 676.53v3.27M552.90 694.52h3.27M554.54 692.88v3.27M552.90 716.32h3.27M554.54 714.68v3.27M552.90 727.22h3.27M554.54 725.58v3.27M553.99 696.70h3.27M555.63 695.06v3.27M555.08 682.53h3.27M556.72 680.89v3.27M555.08 693.43h3.27M556.72 691.79v3.27M555.08 698.88h3.27M556.72 697.24v3.27M556.17 668.36h3.27M557.81 666.72v3.27M556.17 701.06h3.27M557.81 699.42v3.27M556.17 706.51h3.27M557.81 704.87v3.27M556.17 744.66h3.27M557.81 743.02v3.27M558.35 694.52h3.27M559.99 692.88v3.27M559.44 680.35h3.27M561.08 678.71v3.27M559.44 734.85h3.27M561.08 733.21v3.27M560.53 698.88h3.27M562.17 697.24v3.27M561.62 679.26h3.27M563.26 677.62v3.27M562.71 643.29h3.27M564.35 641.65v3.27M562.71 703.24h3.27M564.35 701.60v3.27M562.71 708.69h3.27M564.35 707.05v3.27M563.80 481.97h3.27M565.44 480.33v3.27M563.80 716.32h3.27M565.44 714.68v3.27M563.80 727.22h3.27M565.44 725.58v3.27M564.89 560.45h3.27M566.53 558.81v3.27M564.89 691.25h3.27M566.53 689.61v3.27M564.89 713.05h3.27M566.53 711.41v3.27M564.89 734.85h3.27M566.53 733.21v3.27M567.07 510.31h3.27M568.71 508.67v3.27M567.07 701.06h3.27M568.71 699.42v3.27M567.07 706.51h3.27M568.71 704.87v3.27M568.16 708.69h3.27M569.80 707.05v3.27" stroke="#000" stroke-width="0.545" fill="none"/>
<path d="M84.20 727.22h3.27M85.84 725.58v3.27M87.47 613.86h3.27M89.11 612.22v3.27M100.55 721.77h3.27M102.19 720.13v3.27M101.64 604.05h3.27M103.28 602.41v3.27M102.73 573.53h3.27M104.37 571.89v3.27M103.82 706.51h3.27M105.46 704.87v3.27M107.09 609.50h3.27M108.73 607.86v3.27M108.18 595.33h3.27M109.82 593.69v3.27M109.27 673.81h3.27M110.91 672.17v3.27M109.27 701.06h3.27M110.91 699.42v3.27M112.54 604.05h3.27M114.18 602.41v3.27M112.54 713.05h3.27M114.18 711.41v3.27M112.54 734.85h3.27M114.18 733.21v3.27M113.63 698.88h3.27M115.27 697.24v3.27M114.72 744.66h3.27M116.36 743.02v3.27M116.90 558.27h3.27M118.54 556.63v3.27M117.99 734.85h3.27M119.63 733.21v3.27M119.08 584.43h3.27M120.72 582.79v3.27M120.17 701.06h3.27M121.81 699.42v3.27M121.26 703.24h3.27M122.90 701.60v3.27M122.35 721.77h3.27M123.99 720.13v3.27M123.44 713.05h3.27M125.08 711.41v3.27M127.80 716.32h3.27M129.44 714.68v3.27M127.80 721.77h3.27M129.44 720.13v3.27M128.89 549.55h3.27M130.53 547.91v3.27M129.98 589.88h3.27M131.62 588.24v3.27M131.07 744.66h3.27M132.71 743.02v3.27M134.34 734.85h3.27M135.98 733.21v3.27M136.52 744.66h3.27M138.16 743.02v3.27M137.61 572.44h3.27M139.25 570.80v3.27M137.61 703.24h3.27M139.25 701.60v3.27M138.70 721.77h3.27M140.34 720.13v3.27M139.79 734.85h3.27M141.43 733.21v3.27M144.15 721.77h3.27M145.79 720.13v3.27M148.51 566.99h3.27M150.15 565.35v3.27M153.96 708.69h3.27M155.60 707.05v3.27M156.14 734.85h3.27M157.78 733.21v3.27M157.23 682.53h3.27M158.87 680.89v3.27M158.32 744.66h3.27M159.96 743.02v3.27M159.41 534.29h3.27M161.05 532.65v3.27M160.50 590.97h3.27M162.14 589.33v3.27M162.68 698.88h3.27M164.32 697.24v3.27M165.95 727.22h3.27M167.59 725.58v3.27M169.22 559.36h3.27M170.86 557.72v3.27M169.22 744.66h3.27M170.86 743.02v3.27M170.31 572.44h3.27M171.95 570.80v3.27M171.40 716.32h3.27M173.04 714.68v3.27M171.40 727.22h3.27M173.04 725.58v3.27M174.67 706.51h3.27M176.31 704.87v3.27M174.67 744.66h3.27M176.31 743.02v3.27M175.76 528.84h3.27M177.40 527.20v3.27M176.85 727.22h3.27M178.49 725.58v3.27M180.12 706.51h3.27M181.76 704.87v3.27M182.30 721.77h3.27M183.94 720.13v3.27M182.30 727.22h3.27M183.94 725.58v3.27M183.39 555.00h3.27M185.03 553.36v3.27M183.39 713.05h3.27M185.03 711.41v3.27M185.57 526.66h3.27M187.21 525.02v3.27M187.75 525.57h3.27M189.39 523.93v3.27M192.11 708.69h3.27M193.75 707.05v3.27M196.47 564.81h3.27M198.11 563.17v3.27M198.65 721.77h3.27M200.29 720.13v3.27M198.65 727.22h3.27M200.29 725.58v3.27M205.19 549.55h3.27M206.83 547.91v3.27M205.19 713.05h3.27M206.83 711.41v3.27M207.37 744.66h3.27M209.01 743.02v3.27M212.82 548.46h3.27M214.46 546.82v3.27M212.82 706.51h3.27M214.46 704.87v3.27M212.82 744.66h3.27M214.46 743.02v3.27M218.27 706.51h3.27M219.91 704.87v3.27M220.45 716.32h3.27M222.09 714.68v3.27M223.72 701.06h3.27M225.36 699.42v3.27M223.72 744.66h3.27M225.36 743.02v3.27M224.81 703.24h3.27M226.45 701.60v3.27M230.26 670.54h3.27M231.90 668.90v3.27M232.44 544.10h3.27M234.08 542.46v3.27M232.44 713.05h3.27M234.08 711.41v3.27M234.62 543.01h3.27M236.26 541.37v3.27M235.71 703.24h3.27M237.35 701.60v3.27M236.80 721.77h3.27M238.44 720.13v3.27M237.89 713.05h3.27M239.53 711.41v3.27M237.89 734.85h3.27M239.53 733.21v3.27M241.16 703.24h3.27M242.80 701.60v3.27M243.34 713.05h3.27M244.98 711.41v3.27M244.43 513.58h3.27M246.07 511.94v3.27M248.79 658.55h3.27M250.43 656.91v3.27M249.88 562.63h3.27M251.52 560.99v3.27M249.88 698.88h3.27M251.52 697.24v3.27M250.97 553.91h3.27M252.61 552.27v3.27M250.97 701.06h3.27M252.61 699.42v3.27M254.24 511.40h3.27M255.88 509.76v3.27M256.42 744.66h3.27M258.06 743.02v3.27M257.51 681.44h3.27M259.15 679.80v3.27M258.60 727.22h3.27M260.24 725.58v3.27M261.87 744.66h3.27M263.51 743.02v3.27M269.50 509.22h3.27M271.14 507.58v3.27M269.50 716.32h3.27M271.14 714.68v3.27M270.59 713.05h3.27M272.23 711.41v3.27M271.68 698.88h3.27M273.32 697.24v3.27M272.77 537.56h3.27M274.41 535.92v3.27M272.77 706.51h3.27M274.41 704.87v3.27M272.77 744.66h3.27M274.41 743.02v3.27M276.04 685.80h3.27M277.68 684.16v3.27M277.13 508.13h3.27M278.77 506.49v3.27M278.22 744.66h3.27M279.86 743.02v3.27M280.40 727.22h3.27M282.04 725.58v3.27M282.58 535.38h3.27M284.22 533.74v3.27M286.94 696.70h3.27M288.58 695.06v3.27M286.94 734.85h3.27M288.58 733.21v3.27M291.30 547.37h3.27M292.94 545.73v3.27M292.39 713.05h3.27M294.03 711.41v3.27M294.57 706.51h3.27M296.21 704.87v3.27M294.57 744.66h3.27M296.21 743.02v3.27M296.75 547.37h3.27M298.39 545.73v3.27M296.75 716.32h3.27M298.39 714.68v3.27M296.75 721.77h3.27M298.39 720.13v3.27M298.93 546.28h3.27M300.57 544.64v3.27M300.02 504.86h3.27M301.66 503.22v3.27M300.02 744.66h3.27M301.66 743.02v3.27M302.20 716.32h3.27M303.84 714.68v3.27M305.47 673.81h3.27M307.11 672.17v3.27M308.74 713.05h3.27M310.38 711.41v3.27M308.74 734.85h3.27M310.38 733.21v3.27M310.92 744.66h3.27M312.56 743.02v3.27M312.01 545.19h3.27M313.65 543.55v3.27M312.01 708.69h3.27M313.65 707.05v3.27M313.10 531.02h3.27M314.74 529.38v3.27M313.10 721.77h3.27M314.74 720.13v3.27M313.10 727.22h3.27M314.74 725.58v3.27M314.19 544.10h3.27M315.83 542.46v3.27M316.37 701.06h3.27M318.01 699.42v3.27M316.37 744.66h3.27M318.01 743.02v3.27M318.55 727.22h3.27M320.19 725.58v3.27M322.91 670.54h3.27M324.55 668.90v3.27M325.09 734.85h3.27M326.73 733.21v3.27M328.36 659.64h3.27M330.00 658.00v3.27M329.45 678.17h3.27M331.09 676.53v3.27M330.54 713.05h3.27M332.18 711.41v3.27M331.63 557.18h3.27M333.27 555.54v3.27M332.72 744.66h3.27M334.36 743.02v3.27M335.99 674.90h3.27M337.63 673.26v3.27M341.44 713.05h3.27M343.08 711.41v3.27M342.53 540.83h3.27M344.17 539.19v3.27M343.62 684.71h3.27M345.26 683.07v3.27M345.80 727.22h3.27M347.44 725.58v3.27M349.07 499.41h3.27M350.71 497.77v3.27M351.25 727.22h3.27M352.89 725.58v3.27M352.34 713.05h3.27M353.98 711.41v3.27M352.34 734.85h3.27M353.98 733.21v3.27M353.43 693.43h3.27M355.07 691.79v3.27M354.52 744.66h3.27M356.16 743.02v3.27M355.61 708.69h3.27M357.25 707.05v3.27M356.70 716.32h3.27M358.34 714.68v3.27M356.70 727.22h3.27M358.34 725.58v3.27M357.79 691.25h3.27M359.43 689.61v3.27M359.97 526.66h3.27M361.61 525.02v3.27M362.15 694.52h3.27M363.79 692.88v3.27M362.15 716.32h3.27M363.79 714.68v3.27M364.33 497.23h3.27M365.97 495.59v3.27M366.51 670.54h3.27M368.15 668.90v3.27M367.60 721.77h3.27M369.24 720.13v3.27M369.78 687.98h3.27M371.42 686.34v3.27M370.87 744.66h3.27M372.51 743.02v3.27M373.05 727.22h3.27M374.69 725.58v3.27M375.23 660.73h3.27M376.87 659.09v3.27M377.41 496.14h3.27M379.05 494.50v3.27M378.50 558.27h3.27M380.14 556.63v3.27M380.68 524.48h3.27M382.32 522.84v3.27M381.77 744.66h3.27M383.41 743.02v3.27M382.86 703.24h3.27M384.50 701.60v3.27M385.04 696.70h3.27M386.68 695.06v3.27M389.40 536.47h3.27M391.04 534.83v3.27M389.40 727.22h3.27M391.04 725.58v3.27M393.76 708.69h3.27M395.40 707.05v3.27M395.94 522.30h3.27M397.58 520.66v3.27M395.94 734.85h3.27M397.58 733.21v3.27M398.12 701.06h3.27M399.76 699.42v3.27M398.12 706.51h3.27M399.76 704.87v3.27M399.21 550.64h3.27M400.85 549.00v3.27M401.39 522.30h3.27M403.03 520.66v3.27M403.57 744.66h3.27M405.21 743.02v3.27M405.75 492.87h3.27M407.39 491.23v3.27M409.02 744.66h3.27M410.66 743.02v3.27M411.20 492.87h3.27M412.84 491.23v3.27M412.29 685.80h3.27M413.93 684.16v3.27M413.38 693.43h3.27M415.02 691.79v3.27M414.47 706.51h3.27M416.11 704.87v3.27M414.47 744.66h3.27M416.11 743.02v3.27M416.65 721.77h3.27M418.29 720.13v3.27M417.74 669.45h3.27M419.38 667.81v3.27M418.83 687.98h3.27M420.47 686.34v3.27M419.92 690.16h3.27M421.56 688.52v3.27M422.10 520.12h3.27M423.74 518.48v3.27M423.19 713.05h3.27M424.83 711.41v3.27M424.28 491.78h3.27M425.92 490.14v3.27M427.55 520.12h3.27M429.19 518.48v3.27M427.55 541.92h3.27M429.19 540.28v3.27M427.55 727.22h3.27M429.19 725.58v3.27M433.00 727.22h3.27M434.64 725.58v3.27M435.18 519.03h3.27M436.82 517.39v3.27M439.54 713.05h3.27M441.18 711.41v3.27M440.63 519.03h3.27M442.27 517.39v3.27M441.72 706.51h3.27M443.36 704.87v3.27M442.81 490.69h3.27M444.45 489.05v3.27M447.17 701.06h3.27M448.81 699.42v3.27M447.17 744.66h3.27M448.81 743.02v3.27M452.62 706.51h3.27M454.26 704.87v3.27M453.71 517.94h3.27M455.35 516.30v3.27M456.98 546.28h3.27M458.62 544.64v3.27M458.07 488.51h3.27M459.71 486.87v3.27M458.07 701.06h3.27M459.71 699.42v3.27M461.34 696.70h3.27M462.98 695.06v3.27M464.61 703.24h3.27M466.25 701.60v3.27M466.79 538.65h3.27M468.43 537.01v3.27M468.97 701.06h3.27M470.61 699.42v3.27M468.97 744.66h3.27M470.61 743.02v3.27M473.33 529.93h3.27M474.97 528.29v3.27M476.60 487.42h3.27M478.24 485.78v3.27M479.87 515.76h3.27M481.51 514.12v3.27M479.87 684.71h3.27M481.51 683.07v3.27M479.87 701.06h3.27M481.51 699.42v3.27M479.87 744.66h3.27M481.51 743.02v3.27M480.96 528.84h3.27M482.60 527.20v3.27M482.05 716.32h3.27M483.69 714.68v3.27M482.05 727.22h3.27M483.69 725.58v3.27M483.14 680.35h3.27M484.78 678.71v3.27M483.14 734.85h3.27M484.78 733.21v3.27M485.32 744.66h3.27M486.96 743.02v3.27M486.41 703.24h3.27M488.05 701.60v3.27M487.50 487.42h3.27M489.14 485.78v3.27M489.68 486.33h3.27M491.32 484.69v3.27M497.31 703.24h3.27M498.95 701.60v3.27M500.58 693.43h3.27M502.22 691.79v3.27M502.76 708.69h3.27M504.40 707.05v3.27M503.85 716.32h3.27M505.49 714.68v3.27M504.94 734.85h3.27M506.58 733.21v3.27M507.12 690.16h3.27M508.76 688.52v3.27M507.12 744.66h3.27M508.76 743.02v3.27M508.21 648.74h3.27M509.85 647.10v3.27M509.30 541.92h3.27M510.94 540.28v3.27M510.39 691.25h3.27M512.03 689.61v3.27M513.66 670.54h3.27M515.30 668.90v3.27M514.75 716.32h3.27M516.39 714.68v3.27M514.75 727.22h3.27M516.39 725.58v3.27M521.29 484.15h3.27M522.93 482.51v3.27M523.47 701.06h3.27M525.11 699.42v3.27M524.56 512.49h3.27M526.20 510.85v3.27M526.74 734.85h3.27M528.38 733.21v3.27M528.92 744.66h3.27M530.56 743.02v3.27M530.01 708.69h3.27M531.65 707.05v3.27M531.10 721.77h3.27M532.74 720.13v3.27M536.55 727.22h3.27M538.19 725.58v3.27M539.82 483.06h3.27M541.46 481.42v3.27M539.82 701.06h3.27M541.46 699.42v3.27M540.91 708.69h3.27M542.55 707.05v3.27M542.00 721.77h3.27M543.64 720.13v3.27M543.09 696.70h3.27M544.73 695.06v3.27M545.27 744.66h3.27M546.91 743.02v3.27M547.45 727.22h3.27M549.09 725.58v3.27M548.54 511.40h3.27M550.18 509.76v3.27M551.81 539.74h3.27M553.45 538.10v3.27M551.81 708.69h3.27M553.45 707.05v3.27M553.99 680.35h3.27M555.63 678.71v3.27M558.35 481.97h3.27M559.99 480.33v3.27M559.44 674.90h3.27M561.08 673.26v3.27M563.80 721.77h3.27M565.44 720.13v3.27M569.25 481.97h3.27M570.89 480.33v3.27" stroke="#000" stroke-width="0.818" fill="none"/>
<path d="M85.29 734.85h3.27M86.93 733.21v3.27M87.47 744.66h3.27M89.11 743.02v3.27M95.10 727.22h3.27M96.74 725.58v3.27M106.00 569.17h3.27M107.64 567.53v3.27M111.45 727.22h3.27M113.09 725.58v3.27M116.90 727.22h3.27M118.54 725.58v3.27M120.17 744.66h3.27M121.81 743.02v3.27M126.71 550.64h3.27M128.35 549.00v3.27M128.89 713.05h3.27M130.53 711.41v3.27M128.89 734.85h3.27M130.53 733.21v3.27M138.70 727.22h3.27M140.34 725.58v3.27M147.42 744.66h3.27M149.06 743.02v3.27M149.60 721.77h3.27M151.24 720.13v3.27M152.87 744.66h3.27M154.51 743.02v3.27M155.05 727.22h3.27M156.69 725.58v3.27M157.23 535.38h3.27M158.87 533.74v3.27M163.77 744.66h3.27M165.41 743.02v3.27M181.21 703.24h3.27M182.85 701.60v3.27M187.75 716.32h3.27M189.39 714.68v3.27M191.02 744.66h3.27M192.66 743.02v3.27M193.20 727.22h3.27M194.84 725.58v3.27M195.38 551.73h3.27M197.02 550.09v3.27M201.92 744.66h3.27M203.56 743.02v3.27M215.00 727.22h3.27M216.64 725.58v3.27M218.27 744.66h3.27M219.91 743.02v3.27M219.36 517.94h3.27M221.00 516.30v3.27M219.36 708.69h3.27M221.00 707.05v3.27M226.99 516.85h3.27M228.63 515.21v3.27M234.62 706.51h3.27M236.26 704.87v3.27M236.80 514.67h3.27M238.44 513.03v3.27M240.07 744.66h3.27M241.71 743.02v3.27M248.79 713.05h3.27M250.43 711.41v3.27M261.87 510.31h3.27M263.51 508.67v3.27M267.32 537.56h3.27M268.96 535.92v3.27M267.32 744.66h3.27M268.96 743.02v3.27M274.95 721.77h3.27M276.59 720.13v3.27M280.40 716.32h3.27M282.04 714.68v3.27M283.67 744.66h3.27M285.31 743.02v3.27M285.85 727.22h3.27M287.49 725.58v3.27M289.12 744.66h3.27M290.76 743.02v3.27M296.75 727.22h3.27M298.39 725.58v3.27M297.84 533.20h3.27M299.48 531.56v3.27M297.84 713.05h3.27M299.48 711.41v3.27M305.47 706.51h3.27M307.11 704.87v3.27M305.47 744.66h3.27M307.11 743.02v3.27M307.65 503.77h3.27M309.29 502.13v3.27M310.92 532.11h3.27M312.56 530.47v3.27M313.10 716.32h3.27M314.74 714.68v3.27M321.82 744.66h3.27M323.46 743.02v3.27M322.91 501.59h3.27M324.55 499.95v3.27M328.36 501.59h3.27M330.00 499.95v3.27M334.90 721.77h3.27M336.54 720.13v3.27M338.17 744.66h3.27M339.81 743.02v3.27M341.44 527.75h3.27M343.08 526.11v3.27M359.97 744.66h3.27M361.61 743.02v3.27M365.42 744.66h3.27M367.06 743.02v3.27M367.60 525.57h3.27M369.24 523.93v3.27M369.78 497.23h3.27M371.42 495.59v3.27M388.31 708.69h3.27M389.95 707.05v3.27M392.67 744.66h3.27M394.31 743.02v3.27M393.76 523.39h3.27M395.40 521.75v3.27M394.85 727.22h3.27M396.49 725.58v3.27M397.03 535.38h3.27M398.67 533.74v3.27M398.12 744.66h3.27M399.76 743.02v3.27M404.66 708.69h3.27M406.30 707.05v3.27M419.92 744.66h3.27M421.56 743.02v3.27M425.37 744.66h3.27M427.01 743.02v3.27M436.27 744.66h3.27M437.91 743.02v3.27M438.45 727.22h3.27M440.09 725.58v3.27M443.90 727.22h3.27M445.54 725.58v3.27M448.26 517.94h3.27M449.90 516.30v3.27M454.80 694.52h3.27M456.44 692.88v3.27M463.52 744.66h3.27M465.16 743.02v3.27M466.79 516.85h3.27M468.43 515.21v3.27M468.97 488.51h3.27M470.61 486.87v3.27M485.32 706.51h3.27M486.96 704.87v3.27M490.77 744.66h3.27M492.41 743.02v3.27M495.13 486.33h3.27M496.77 484.69v3.27M512.57 701.06h3.27M514.21 699.42v3.27M512.57 744.66h3.27M514.21 743.02v3.27M514.75 721.77h3.27M516.39 720.13v3.27M520.20 716.32h3.27M521.84 714.68v3.27M523.47 744.66h3.27M525.11 743.02v3.27M531.10 727.22h3.27M532.74 725.58v3.27M536.55 721.77h3.27M538.19 720.13v3.27M543.09 713.05h3.27M544.73 711.41v3.27M550.72 744.66h3.27M552.36 743.02v3.27M553.99 511.40h3.27M555.63 509.76v3.27M561.62 510.31h3.27M563.26 508.67v3.27M561.62 744.66h3.27M563.26 743.02v3.27M567.07 744.66h3.27M568.71 743.02v3.27" stroke="#000" stroke-width="0.954" fill="none"/>
<path d="M92.92 744.66h3.27M94.56 743.02v3.27M98.37 744.66h3.27M100.01 743.02v3.27M110.36 605.14h3.27M112.00 603.50v3.27M141.97 744.66h3.27M143.61 743.02v3.27M150.69 538.65h3.27M152.33 537.01v3.27M164.86 708.69h3.27M166.50 707.05v3.27M180.12 744.66h3.27M181.76 743.02v3.27M182.30 569.17h3.27M183.94 567.53v3.27M199.74 522.30h3.27M201.38 520.66v3.27M207.37 521.21h3.27M209.01 519.57v3.27M216.09 560.45h3.27M217.73 558.81v3.27M222.63 546.28h3.27M224.27 544.64v3.27M225.90 727.22h3.27M227.54 725.58v3.27M229.17 515.76h3.27M230.81 514.12v3.27M229.17 744.66h3.27M230.81 743.02v3.27M245.52 744.66h3.27M247.16 743.02v3.27M250.97 744.66h3.27M252.61 743.02v3.27M264.05 727.22h3.27M265.69 725.58v3.27M301.11 561.54h3.27M302.75 559.90v3.27M327.27 744.66h3.27M328.91 743.02v3.27M339.26 528.84h3.27M340.90 527.20v3.27M414.47 521.21h3.27M416.11 519.57v3.27M444.99 489.60h3.27M446.63 487.96v3.27M450.44 489.60h3.27M452.08 487.96v3.27M452.62 744.66h3.27M454.26 743.02v3.27M455.89 489.60h3.27M457.53 487.96v3.27M474.42 744.66h3.27M476.06 743.02v3.27M518.02 744.66h3.27M519.66 743.02v3.27M539.82 744.66h3.27M541.46 743.02v3.27" stroke="#000" stroke-width="1.022" fill="none"/>
<path d="M82.02 744.66h3.27M83.66 743.02v3.27M92.92 592.06h3.27M94.56 590.42v3.27M103.82 744.66h3.27M105.46 743.02v3.27M109.27 744.66h3.27M110.91 743.02v3.27M144.15 569.17h3.27M145.79 567.53v3.27M155.05 536.47h3.27M156.69 534.83v3.27M165.95 721.77h3.27M167.59 720.13v3.27M167.04 560.45h3.27M168.68 558.81v3.27M171.40 531.02h3.27M173.04 529.38v3.27M196.47 744.66h3.27M198.11 743.02v3.27M292.39 505.95h3.27M294.03 504.31v3.27M303.29 533.20h3.27M304.93 531.56v3.27M305.47 532.11h3.27M307.11 530.47v3.27M367.60 727.22h3.27M369.24 725.58v3.27M496.22 744.66h3.27M497.86 743.02v3.27M498.40 514.67h3.27M500.04 513.03v3.27M532.19 484.15h3.27M533.83 482.51v3.27" stroke="#000" stroke-width="1.056" fill="none"/>
<path d="M82.02 671.63h3.27M83.66 669.99v3.27M83.11 684.71h3.27M84.75 683.07v3.27M83.11 690.16h3.27M84.75 688.52v3.27M84.20 637.84h3.27M85.84 636.20v3.27M84.20 643.29h3.27M85.84 641.65v3.27M85.29 629.12h3.27M86.93 627.48v3.27M85.29 650.92h3.27M86.93 649.28v3.27M85.29 727.22h3.27M86.93 725.58v3.27M86.38 614.95h3.27M88.02 613.31v3.27M86.38 658.55h3.27M88.02 656.91v3.27M86.38 713.05h3.27M88.02 711.41v3.27M86.38 734.85h3.27M88.02 733.21v3.27M87.47 698.88h3.27M89.11 697.24v3.27M89.65 703.24h3.27M91.29 701.60v3.27M90.74 721.77h3.27M92.38 720.13v3.27M90.74 727.22h3.27M92.38 725.58v3.27M91.83 669.45h3.27M93.47 667.81v3.27M91.83 696.70h3.27M93.47 695.06v3.27M91.83 713.05h3.27M93.47 711.41v3.27M91.83 734.85h3.27M93.47 733.21v3.27M92.92 693.43h3.27M94.56 691.79v3.27M94.01 701.06h3.27M95.65 699.42v3.27M94.01 706.51h3.27M95.65 704.87v3.27M95.10 626.94h3.27M96.74 625.30v3.27M95.10 643.29h3.27M96.74 641.65v3.27M95.10 708.69h3.27M96.74 707.05v3.27M96.19 585.52h3.27M97.83 583.88v3.27M96.19 612.77h3.27M97.83 611.13v3.27M96.19 640.02h3.27M97.83 638.38v3.27M96.19 694.52h3.27M97.83 692.88v3.27M96.19 716.32h3.27M97.83 714.68v3.27M97.28 582.25h3.27M98.92 580.61v3.27M97.28 691.25h3.27M98.92 689.61v3.27M97.28 734.85h3.27M98.92 733.21v3.27M98.37 622.58h3.27M100.01 620.94v3.27M99.46 619.31h3.27M101.10 617.67v3.27M99.46 690.16h3.27M101.10 688.52v3.27M99.46 706.51h3.27M101.10 704.87v3.27M100.55 605.14h3.27M102.19 603.50v3.27M100.55 703.24h3.27M102.19 701.60v3.27M101.64 678.17h3.27M103.28 676.53v3.27M102.73 691.25h3.27M104.37 689.61v3.27M103.82 698.88h3.27M105.46 697.24v3.27M104.91 701.06h3.27M106.55 699.42v3.27M104.91 706.51h3.27M106.55 704.87v3.27M106.00 708.69h3.27M107.64 707.05v3.27M107.09 694.52h3.27M108.73 692.88v3.27M107.09 716.32h3.27M108.73 714.68v3.27M107.09 721.77h3.27M108.73 720.13v3.27M107.09 727.22h3.27M108.73 725.58v3.27M108.18 636.75h3.27M109.82 635.11v3.27M108.18 691.25h3.27M109.82 689.61v3.27M108.18 713.05h3.27M109.82 711.41v3.27M108.18 734.85h3.27M109.82 733.21v3.27M109.27 622.58h3.27M110.91 620.94v3.27M109.27 693.43h3.27M110.91 691.79v3.27M109.27 698.88h3.27M110.91 697.24v3.27M110.36 701.06h3.27M112.00 699.42v3.27M110.36 706.51h3.27M112.00 704.87v3.27M111.45 632.39h3.27M113.09 630.75v3.27M111.45 686.89h3.27M113.09 685.25v3.27M111.45 708.69h3.27M113.09 707.05v3.27M112.54 678.17h3.27M114.18 676.53v3.27M112.54 716.32h3.27M114.18 714.68v3.27M112.54 727.22h3.27M114.18 725.58v3.27M113.63 674.90h3.27M115.27 673.26v3.27M113.63 691.25h3.27M115.27 689.61v3.27M114.72 622.58h3.27M116.36 620.94v3.27M114.72 693.43h3.27M116.36 691.79v3.27M115.81 559.36h3.27M117.45 557.72v3.27M116.90 708.69h3.27M118.54 707.05v3.27M117.99 694.52h3.27M119.63 692.88v3.27M117.99 716.32h3.27M119.63 714.68v3.27M117.99 721.77h3.27M119.63 720.13v3.27M119.08 696.70h3.27M120.72 695.06v3.27M119.08 734.85h3.27M120.72 733.21v3.27M120.17 622.58h3.27M121.81 620.94v3.27M120.17 682.53h3.27M121.81 680.89v3.27M121.26 701.06h3.27M122.90 699.42v3.27M121.26 706.51h3.27M122.90 704.87v3.27M122.35 626.94h3.27M123.99 625.30v3.27M122.35 670.54h3.27M123.99 668.90v3.27M122.35 708.69h3.27M123.99 707.05v3.27M123.44 716.32h3.27M125.08 714.68v3.27M123.44 727.22h3.27M125.08 725.58v3.27M124.53 734.85h3.27M126.17 733.21v3.27M125.62 551.73h3.27M127.26 550.09v3.27M125.62 666.18h3.27M127.26 664.54v3.27M125.62 693.43h3.27M127.26 691.79v3.27M126.71 701.06h3.27M128.35 699.42v3.27M128.89 716.32h3.27M130.53 714.68v3.27M129.98 664.00h3.27M131.62 662.36v3.27M129.98 669.45h3.27M131.62 667.81v3.27M129.98 674.90h3.27M131.62 673.26v3.27M129.98 685.80h3.27M131.62 684.16v3.27M129.98 696.70h3.27M131.62 695.06v3.27M131.07 693.43h3.27M132.71 691.79v3.27M132.16 613.86h3.27M133.80 612.22v3.27M132.16 673.81h3.27M133.80 672.17v3.27M132.16 690.16h3.27M133.80 688.52v3.27M132.16 706.51h3.27M133.80 704.87v3.27M133.25 616.04h3.27M134.89 614.40v3.27M135.43 587.70h3.27M137.07 586.06v3.27M135.43 696.70h3.27M137.07 695.06v3.27M135.43 734.85h3.27M137.07 733.21v3.27M136.52 698.88h3.27M138.16 697.24v3.27M137.61 701.06h3.27M139.25 699.42v3.27M138.70 686.89h3.27M140.34 685.25v3.27M139.79 716.32h3.27M141.43 714.68v3.27M139.79 721.77h3.27M141.43 720.13v3.27M139.79 727.22h3.27M141.43 725.58v3.27M140.88 680.35h3.27M142.52 678.71v3.27M140.88 734.85h3.27M142.52 733.21v3.27M141.97 584.43h3.27M143.61 582.79v3.27M143.06 690.16h3.27M144.70 688.52v3.27M143.06 701.06h3.27M144.70 699.42v3.27M144.15 626.94h3.27M145.79 625.30v3.27M144.15 686.89h3.27M145.79 685.25v3.27M145.24 569.17h3.27M146.88 567.53v3.27M145.24 607.32h3.27M146.88 605.68v3.27M145.24 694.52h3.27M146.88 692.88v3.27M145.24 716.32h3.27M146.88 714.68v3.27M145.24 727.22h3.27M146.88 725.58v3.27M146.33 669.45h3.27M147.97 667.81v3.27M146.33 691.25h3.27M147.97 689.61v3.27M147.42 589.88h3.27M149.06 588.24v3.27M147.42 693.43h3.27M149.06 691.79v3.27M148.51 706.51h3.27M150.15 704.87v3.27M149.60 566.99h3.27M151.24 565.35v3.27M149.60 670.54h3.27M151.24 668.90v3.27M149.60 686.89h3.27M151.24 685.25v3.27M150.69 716.32h3.27M152.33 714.68v3.27M151.78 680.35h3.27M153.42 678.71v3.27M151.78 696.70h3.27M153.42 695.06v3.27M151.78 713.05h3.27M153.42 711.41v3.27M151.78 734.85h3.27M153.42 733.21v3.27M152.87 687.98h3.27M154.51 686.34v3.27M153.96 564.81h3.27M155.60 563.17v3.27M156.14 536.47h3.27M157.78 534.83v3.27M156.14 721.77h3.27M157.78 720.13v3.27M158.32 693.43h3.27M159.96 691.79v3.27M158.32 698.88h3.27M159.96 697.24v3.27M159.41 592.06h3.27M161.05 590.42v3.27M159.41 597.51h3.27M161.05 595.87v3.27M159.41 690.16h3.27M161.05 688.52v3.27M159.41 706.51h3.27M161.05 704.87v3.27M159.41 744.66h3.27M161.05 743.02v3.27M162.68 691.25h3.27M164.32 689.61v3.27M162.68 713.05h3.27M164.32 711.41v3.27M163.77 595.33h3.27M165.41 593.69v3.27M163.77 660.73h3.27M165.41 659.09v3.27M164.86 532.11h3.27M166.50 530.47v3.27M164.86 602.96h3.27M166.50 601.32v3.27M165.95 708.69h3.27M167.59 707.05v3.27M167.04 694.52h3.27M168.68 692.88v3.27M167.04 716.32h3.27M168.68 714.68v3.27M168.13 734.85h3.27M169.77 733.21v3.27M169.22 600.78h3.27M170.86 599.14v3.27M169.22 693.43h3.27M170.86 691.79v3.27M170.31 559.36h3.27M171.95 557.72v3.27M172.49 558.27h3.27M174.13 556.63v3.27M172.49 721.77h3.27M174.13 720.13v3.27M172.49 727.22h3.27M174.13 725.58v3.27M173.58 691.25h3.27M175.22 689.61v3.27M173.58 713.05h3.27M175.22 711.41v3.27M176.85 708.69h3.27M178.49 707.05v3.27M177.94 585.52h3.27M179.58 583.88v3.27M177.94 601.87h3.27M179.58 600.23v3.27M177.94 678.17h3.27M179.58 676.53v3.27M177.94 721.77h3.27M179.58 720.13v3.27M179.03 713.05h3.27M180.67 711.41v3.27M179.03 734.85h3.27M180.67 733.21v3.27M182.30 654.19h3.27M183.94 652.55v3.27M182.30 681.44h3.27M183.94 679.80v3.27M183.39 569.17h3.27M185.03 567.53v3.27M183.39 694.52h3.27M185.03 692.88v3.27M184.48 576.80h3.27M186.12 575.16v3.27M184.48 691.25h3.27M186.12 689.61v3.27M184.48 713.05h3.27M186.12 711.41v3.27M184.48 734.85h3.27M186.12 733.21v3.27M186.66 575.71h3.27M188.30 574.07v3.27M186.66 673.81h3.27M188.30 672.17v3.27M187.75 708.69h3.27M189.39 707.05v3.27M188.84 678.17h3.27M190.48 676.53v3.27M188.84 716.32h3.27M190.48 714.68v3.27M188.84 721.77h3.27M190.48 720.13v3.27M189.93 587.70h3.27M191.57 586.06v3.27M189.93 696.70h3.27M191.57 695.06v3.27M191.02 524.48h3.27M192.66 522.84v3.27M192.11 586.61h3.27M193.75 584.97v3.27M192.11 684.71h3.27M193.75 683.07v3.27M192.11 706.51h3.27M193.75 704.87v3.27M193.20 686.89h3.27M194.84 685.25v3.27M193.20 708.69h3.27M194.84 707.05v3.27M194.29 716.32h3.27M195.93 714.68v3.27M194.29 721.77h3.27M195.93 720.13v3.27M194.29 727.22h3.27M195.93 725.58v3.27M195.38 565.90h3.27M197.02 564.26v3.27M195.38 691.25h3.27M197.02 689.61v3.27M195.38 734.85h3.27M197.02 733.21v3.27M196.47 687.98h3.27M198.11 686.34v3.27M196.47 698.88h3.27M198.11 697.24v3.27M197.56 744.66h3.27M199.20 743.02v3.27M198.65 523.39h3.27M200.29 521.75v3.27M198.65 550.64h3.27M200.29 549.00v3.27M198.65 670.54h3.27M200.29 668.90v3.27M198.65 703.24h3.27M200.29 701.60v3.27M198.65 708.69h3.27M200.29 707.05v3.27M199.74 580.07h3.27M201.38 578.43v3.27M199.74 727.22h3.27M201.38 725.58v3.27M200.83 680.35h3.27M202.47 678.71v3.27M200.83 696.70h3.27M202.47 695.06v3.27M200.83 713.05h3.27M202.47 711.41v3.27M203.01 521.21h3.27M204.65 519.57v3.27M204.10 665.09h3.27M205.74 663.45v3.27M205.19 716.32h3.27M206.83 714.68v3.27M206.28 549.55h3.27M207.92 547.91v3.27M206.28 680.35h3.27M207.92 678.71v3.27M206.28 685.80h3.27M207.92 684.16v3.27M206.28 696.70h3.27M207.92 695.06v3.27M208.46 548.46h3.27M210.10 546.82v3.27M208.46 701.06h3.27M210.10 699.42v3.27M209.55 561.54h3.27M211.19 559.90v3.27M209.55 703.24h3.27M211.19 701.60v3.27M209.55 708.69h3.27M211.19 707.05v3.27M210.64 716.32h3.27M212.28 714.68v3.27M210.64 721.77h3.27M212.28 720.13v3.27M210.64 727.22h3.27M212.28 725.58v3.27M211.73 582.25h3.27M213.37 580.61v3.27M211.73 691.25h3.27M213.37 689.61v3.27M211.73 734.85h3.27M213.37 733.21v3.27M212.82 589.88h3.27M214.46 588.24v3.27M213.91 679.26h3.27M215.55 677.62v3.27M213.91 690.16h3.27M215.55 688.52v3.27M213.91 701.06h3.27M215.55 699.42v3.27M213.91 706.51h3.27M215.55 704.87v3.27M213.91 744.66h3.27M215.55 743.02v3.27M215.00 686.89h3.27M216.64 685.25v3.27M216.09 678.17h3.27M217.73 676.53v3.27M216.09 694.52h3.27M217.73 692.88v3.27M216.09 716.32h3.27M217.73 714.68v3.27M216.09 721.77h3.27M217.73 720.13v3.27M217.18 560.45h3.27M218.82 558.81v3.27M217.18 680.35h3.27M218.82 678.71v3.27M217.18 691.25h3.27M218.82 689.61v3.27M217.18 713.05h3.27M218.82 711.41v3.27M217.18 734.85h3.27M218.82 733.21v3.27M218.27 677.08h3.27M219.91 675.44v3.27M219.36 701.06h3.27M221.00 699.42v3.27M219.36 744.66h3.27M221.00 743.02v3.27M220.45 517.94h3.27M222.09 516.30v3.27M220.45 681.44h3.27M222.09 679.80v3.27M220.45 703.24h3.27M222.09 701.60v3.27M220.45 708.69h3.27M222.09 707.05v3.27M221.54 580.07h3.27M223.18 578.43v3.27M221.54 678.17h3.27M223.18 676.53v3.27M221.54 694.52h3.27M223.18 692.88v3.27M221.54 727.22h3.27M223.18 725.58v3.27M222.63 516.85h3.27M224.27 515.21v3.27M222.63 696.70h3.27M224.27 695.06v3.27M223.72 578.98h3.27M225.36 577.34v3.27M224.81 706.51h3.27M226.45 704.87v3.27M225.90 703.24h3.27M227.54 701.60v3.27M226.99 716.32h3.27M228.63 714.68v3.27M226.99 727.22h3.27M228.63 725.58v3.27M228.08 669.45h3.27M229.72 667.81v3.27M228.08 691.25h3.27M229.72 689.61v3.27M229.17 698.88h3.27M230.81 697.24v3.27M230.26 701.06h3.27M231.90 699.42v3.27M231.35 572.44h3.27M232.99 570.80v3.27M231.35 703.24h3.27M232.99 701.60v3.27M232.44 607.32h3.27M234.08 605.68v3.27M232.44 678.17h3.27M234.08 676.53v3.27M232.44 694.52h3.27M234.08 692.88v3.27M232.44 721.77h3.27M234.08 720.13v3.27M232.44 727.22h3.27M234.08 725.58v3.27M233.53 565.90h3.27M235.17 564.26v3.27M233.53 576.80h3.27M235.17 575.16v3.27M233.53 674.90h3.27M235.17 673.26v3.27M234.62 557.18h3.27M236.26 555.54v3.27M234.62 660.73h3.27M236.26 659.09v3.27M234.62 666.18h3.27M236.26 664.54v3.27M234.62 693.43h3.27M236.26 691.79v3.27M235.71 701.06h3.27M237.35 699.42v3.27M235.71 706.51h3.27M237.35 704.87v3.27M236.80 659.64h3.27M238.44 658.00v3.27M236.80 708.69h3.27M238.44 707.05v3.27M237.89 514.67h3.27M239.53 513.03v3.27M237.89 590.97h3.27M239.53 589.33v3.27M237.89 694.52h3.27M239.53 692.88v3.27M237.89 727.22h3.27M239.53 725.58v3.27M238.98 571.35h3.27M240.62 569.71v3.27M238.98 680.35h3.27M240.62 678.71v3.27M241.16 586.61h3.27M242.80 584.97v3.27M241.16 690.16h3.27M242.80 688.52v3.27M241.16 701.06h3.27M242.80 699.42v3.27M241.16 706.51h3.27M242.80 704.87v3.27M242.25 681.44h3.27M243.89 679.80v3.27M242.25 708.69h3.27M243.89 707.05v3.27M243.34 716.32h3.27M244.98 714.68v3.27M243.34 727.22h3.27M244.98 725.58v3.27M244.43 664.00h3.27M246.07 662.36v3.27M244.43 685.80h3.27M246.07 684.16v3.27M244.43 696.70h3.27M246.07 695.06v3.27M244.43 713.05h3.27M246.07 711.41v3.27M245.52 677.08h3.27M247.16 675.44v3.27M246.61 646.56h3.27M248.25 644.92v3.27M246.61 690.16h3.27M248.25 688.52v3.27M246.61 701.06h3.27M248.25 699.42v3.27M247.70 654.19h3.27M249.34 652.55v3.27M247.70 670.54h3.27M249.34 668.90v3.27M247.70 675.99h3.27M249.34 674.35v3.27M248.79 727.22h3.27M250.43 725.58v3.27M249.88 685.80h3.27M251.52 684.16v3.27M249.88 713.05h3.27M251.52 711.41v3.27M249.88 734.85h3.27M251.52 733.21v3.27M250.97 540.83h3.27M252.61 539.19v3.27M252.06 684.71h3.27M253.70 683.07v3.27M252.06 701.06h3.27M253.70 699.42v3.27M253.15 675.99h3.27M254.79 674.35v3.27M254.24 552.82h3.27M255.88 551.18v3.27M254.24 667.27h3.27M255.88 665.63v3.27M255.33 713.05h3.27M256.97 711.41v3.27M256.42 698.88h3.27M258.06 697.24v3.27M258.60 659.64h3.27M260.24 658.00v3.27M259.69 552.82h3.27M261.33 551.18v3.27M259.69 721.77h3.27M261.33 720.13v3.27M260.78 685.80h3.27M262.42 684.16v3.27M260.78 696.70h3.27M262.42 695.06v3.27M261.87 687.98h3.27M263.51 686.34v3.27M262.96 701.06h3.27M264.60 699.42v3.27M264.05 572.44h3.27M265.69 570.80v3.27M265.14 509.22h3.27M266.78 507.58v3.27M265.14 716.32h3.27M266.78 714.68v3.27M266.23 538.65h3.27M267.87 537.01v3.27M266.23 713.05h3.27M267.87 711.41v3.27M266.23 734.85h3.27M267.87 733.21v3.27M267.32 666.18h3.27M268.96 664.54v3.27M267.32 677.08h3.27M268.96 675.44v3.27M267.32 698.88h3.27M268.96 697.24v3.27M268.41 537.56h3.27M270.05 535.92v3.27M268.41 673.81h3.27M270.05 672.17v3.27M268.41 701.06h3.27M270.05 699.42v3.27M268.41 706.51h3.27M270.05 704.87v3.27M269.50 550.64h3.27M271.14 549.00v3.27M269.50 654.19h3.27M271.14 652.55v3.27M269.50 708.69h3.27M271.14 707.05v3.27M270.59 694.52h3.27M272.23 692.88v3.27M271.68 669.45h3.27M273.32 667.81v3.27M271.68 691.25h3.27M273.32 689.61v3.27M271.68 734.85h3.27M273.32 733.21v3.27M273.86 657.46h3.27M275.50 655.82v3.27M273.86 706.51h3.27M275.50 704.87v3.27M274.95 703.24h3.27M276.59 701.60v3.27M274.95 708.69h3.27M276.59 707.05v3.27M276.04 667.27h3.27M277.68 665.63v3.27M277.13 549.55h3.27M278.77 547.91v3.27M277.13 669.45h3.27M278.77 667.81v3.27M277.13 691.25h3.27M278.77 689.61v3.27M277.13 713.05h3.27M278.77 711.41v3.27M278.22 693.43h3.27M279.86 691.79v3.27M278.22 698.88h3.27M279.86 697.24v3.27M279.31 564.81h3.27M280.95 563.17v3.27M279.31 701.06h3.27M280.95 699.42v3.27M281.49 716.32h3.27M283.13 714.68v3.27M282.58 669.45h3.27M284.22 667.81v3.27M282.58 691.25h3.27M284.22 689.61v3.27M282.58 713.05h3.27M284.22 711.41v3.27M282.58 734.85h3.27M284.22 733.21v3.27M283.67 655.28h3.27M285.31 653.64v3.27M283.67 660.73h3.27M285.31 659.09v3.27M283.67 687.98h3.27M285.31 686.34v3.27M284.76 548.46h3.27M286.40 546.82v3.27M285.85 507.04h3.27M287.49 505.40v3.27M286.94 650.92h3.27M288.58 649.28v3.27M286.94 678.17h3.27M288.58 676.53v3.27M286.94 716.32h3.27M288.58 714.68v3.27M288.03 576.80h3.27M289.67 575.16v3.27M288.03 713.05h3.27M289.67 711.41v3.27M288.03 734.85h3.27M289.67 733.21v3.27M289.12 562.63h3.27M290.76 560.99v3.27M289.12 693.43h3.27M290.76 691.79v3.27M290.21 690.16h3.27M291.85 688.52v3.27M290.21 701.06h3.27M291.85 699.42v3.27M290.21 706.51h3.27M291.85 704.87v3.27M290.21 744.66h3.27M291.85 743.02v3.27M291.30 670.54h3.27M292.94 668.90v3.27M291.30 708.69h3.27M292.94 707.05v3.27M292.39 694.52h3.27M294.03 692.88v3.27M293.48 669.45h3.27M295.12 667.81v3.27M293.48 680.35h3.27M295.12 678.71v3.27M293.48 734.85h3.27M295.12 733.21v3.27M294.57 562.63h3.27M296.21 560.99v3.27M294.57 693.43h3.27M296.21 691.79v3.27M295.66 701.06h3.27M297.30 699.42v3.27M296.75 686.89h3.27M298.39 685.25v3.27M297.84 650.92h3.27M299.48 649.28v3.27M298.93 664.00h3.27M300.57 662.36v3.27M298.93 674.90h3.27M300.57 673.26v3.27M298.93 713.05h3.27M300.57 711.41v3.27M300.02 677.08h3.27M301.66 675.44v3.27M301.11 504.86h3.27M302.75 503.22v3.27M301.11 646.56h3.27M302.75 644.92v3.27M301.11 706.51h3.27M302.75 704.87v3.27M301.11 744.66h3.27M302.75 743.02v3.27M302.20 708.69h3.27M303.84 707.05v3.27M303.29 716.32h3.27M304.93 714.68v3.27M303.29 721.77h3.27M304.93 720.13v3.27M304.38 658.55h3.27M306.02 656.91v3.27M305.47 649.83h3.27M307.11 648.19v3.27M305.47 698.88h3.27M307.11 697.24v3.27M306.56 532.11h3.27M308.20 530.47v3.27M306.56 602.96h3.27M308.20 601.32v3.27M306.56 690.16h3.27M308.20 688.52v3.27M307.65 545.19h3.27M309.29 543.55v3.27M308.74 503.77h3.27M310.38 502.13v3.27M308.74 716.32h3.27M310.38 714.68v3.27M308.74 727.22h3.27M310.38 725.58v3.27M309.83 685.80h3.27M311.47 684.16v3.27M309.83 734.85h3.27M311.47 733.21v3.27M310.92 573.53h3.27M312.56 571.89v3.27M310.92 682.53h3.27M312.56 680.89v3.27M310.92 698.88h3.27M312.56 697.24v3.27M312.01 564.81h3.27M313.65 563.17v3.27M312.01 684.71h3.27M313.65 683.07v3.27M312.01 744.66h3.27M313.65 743.02v3.27M313.10 545.19h3.27M314.74 543.55v3.27M313.10 670.54h3.27M314.74 668.90v3.27M314.19 694.52h3.27M315.83 692.88v3.27M314.19 721.77h3.27M315.83 720.13v3.27M314.19 727.22h3.27M315.83 725.58v3.27M315.28 680.35h3.27M316.92 678.71v3.27M315.28 713.05h3.27M316.92 711.41v3.27M316.37 660.73h3.27M318.01 659.09v3.27M318.55 681.44h3.27M320.19 679.80v3.27M318.55 703.24h3.27M320.19 701.60v3.27M319.64 552.82h3.27M321.28 551.18v3.27M319.64 721.77h3.27M321.28 720.13v3.27M319.64 727.22h3.27M321.28 725.58v3.27M320.73 713.05h3.27M322.37 711.41v3.27M321.82 568.08h3.27M323.46 566.44v3.27M321.82 682.53h3.27M323.46 680.89v3.27M321.82 687.98h3.27M323.46 686.34v3.27M322.91 646.56h3.27M324.55 644.92v3.27M322.91 684.71h3.27M324.55 683.07v3.27M322.91 690.16h3.27M324.55 688.52v3.27M322.91 701.06h3.27M324.55 699.42v3.27M322.91 744.66h3.27M324.55 743.02v3.27M324.00 501.59h3.27M325.64 499.95v3.27M324.00 648.74h3.27M325.64 647.10v3.27M324.00 659.64h3.27M325.64 658.00v3.27M324.00 686.89h3.27M325.64 685.25v3.27M324.00 703.24h3.27M325.64 701.60v3.27M324.00 708.69h3.27M325.64 707.05v3.27M325.09 694.52h3.27M326.73 692.88v3.27M325.09 716.32h3.27M326.73 714.68v3.27M325.09 727.22h3.27M326.73 725.58v3.27M326.18 664.00h3.27M327.82 662.36v3.27M326.18 669.45h3.27M327.82 667.81v3.27M326.18 713.05h3.27M327.82 711.41v3.27M327.27 693.43h3.27M328.91 691.79v3.27M327.27 698.88h3.27M328.91 697.24v3.27M328.36 641.11h3.27M330.00 639.47v3.27M329.45 501.59h3.27M331.09 499.95v3.27M330.54 727.22h3.27M332.18 725.58v3.27M331.63 685.80h3.27M333.27 684.16v3.27M331.63 734.85h3.27M333.27 733.21v3.27M332.72 573.53h3.27M334.36 571.89v3.27M333.81 679.26h3.27M335.45 677.62v3.27M334.90 528.84h3.27M336.54 527.20v3.27M335.99 716.32h3.27M337.63 714.68v3.27M337.08 685.80h3.27M338.72 684.16v3.27M337.08 696.70h3.27M338.72 695.06v3.27M337.08 713.05h3.27M338.72 711.41v3.27M337.08 734.85h3.27M338.72 733.21v3.27M338.17 693.43h3.27M339.81 691.79v3.27M339.26 646.56h3.27M340.90 644.92v3.27M340.35 528.84h3.27M341.99 527.20v3.27M340.35 675.99h3.27M341.99 674.35v3.27M340.35 708.69h3.27M341.99 707.05v3.27M341.44 721.77h3.27M343.08 720.13v3.27M342.53 658.55h3.27M344.17 656.91v3.27M342.53 691.25h3.27M344.17 689.61v3.27M342.53 713.05h3.27M344.17 711.41v3.27M343.62 540.83h3.27M345.26 539.19v3.27M343.62 687.98h3.27M345.26 686.34v3.27M343.62 698.88h3.27M345.26 697.24v3.27M345.80 703.24h3.27M347.44 701.60v3.27M345.80 708.69h3.27M347.44 707.05v3.27M346.89 721.77h3.27M348.53 720.13v3.27M347.98 527.75h3.27M349.62 526.11v3.27M347.98 680.35h3.27M349.62 678.71v3.27M347.98 734.85h3.27M349.62 733.21v3.27M349.07 693.43h3.27M350.71 691.79v3.27M349.07 698.88h3.27M350.71 697.24v3.27M350.16 564.81h3.27M351.80 563.17v3.27M350.16 690.16h3.27M351.80 688.52v3.27M350.16 701.06h3.27M351.80 699.42v3.27M350.16 706.51h3.27M351.80 704.87v3.27M350.16 744.66h3.27M351.80 743.02v3.27M351.25 556.09h3.27M352.89 554.45v3.27M351.25 686.89h3.27M352.89 685.25v3.27M352.34 661.82h3.27M353.98 660.18v3.27M352.34 721.77h3.27M353.98 720.13v3.27M353.43 560.45h3.27M355.07 558.81v3.27M353.43 691.25h3.27M355.07 689.61v3.27M353.43 696.70h3.27M355.07 695.06v3.27M354.52 660.73h3.27M356.16 659.09v3.27M354.52 671.63h3.27M356.16 669.99v3.27M354.52 682.53h3.27M356.16 680.89v3.27M354.52 687.98h3.27M356.16 686.34v3.27M354.52 698.88h3.27M356.16 697.24v3.27M355.61 668.36h3.27M357.25 666.72v3.27M355.61 684.71h3.27M357.25 683.07v3.27M355.61 690.16h3.27M357.25 688.52v3.27M356.70 686.89h3.27M358.34 685.25v3.27M356.70 708.69h3.27M358.34 707.05v3.27M357.79 667.27h3.27M359.43 665.63v3.27M357.79 716.32h3.27M359.43 714.68v3.27M357.79 727.22h3.27M359.43 725.58v3.27M358.88 560.45h3.27M360.52 558.81v3.27M358.88 680.35h3.27M360.52 678.71v3.27M358.88 696.70h3.27M360.52 695.06v3.27M358.88 713.05h3.27M360.52 711.41v3.27M359.97 693.43h3.27M361.61 691.79v3.27M361.06 673.81h3.27M362.70 672.17v3.27M361.06 701.06h3.27M362.70 699.42v3.27M362.15 703.24h3.27M363.79 701.60v3.27M362.15 708.69h3.27M363.79 707.05v3.27M363.24 640.02h3.27M364.88 638.38v3.27M363.24 678.17h3.27M364.88 676.53v3.27M363.24 694.52h3.27M364.88 692.88v3.27M363.24 716.32h3.27M364.88 714.68v3.27M364.33 538.65h3.27M365.97 537.01v3.27M364.33 734.85h3.27M365.97 733.21v3.27M366.51 553.91h3.27M368.15 552.27v3.27M366.51 575.71h3.27M368.15 574.07v3.27M366.51 652.01h3.27M368.15 650.37v3.27M366.51 744.66h3.27M368.15 743.02v3.27M368.69 721.77h3.27M370.33 720.13v3.27M368.69 727.22h3.27M370.33 725.58v3.27M369.78 538.65h3.27M371.42 537.01v3.27M369.78 691.25h3.27M371.42 689.61v3.27M369.78 734.85h3.27M371.42 733.21v3.27M370.87 497.23h3.27M372.51 495.59v3.27M370.87 649.83h3.27M372.51 648.19v3.27M371.96 553.91h3.27M373.60 552.27v3.27M371.96 706.51h3.27M373.60 704.87v3.27M373.05 659.64h3.27M374.69 658.00v3.27M373.05 675.99h3.27M374.69 674.35v3.27M373.05 703.24h3.27M374.69 701.60v3.27M374.14 552.82h3.27M375.78 551.18v3.27M374.14 727.22h3.27M375.78 725.58v3.27M375.23 674.90h3.27M376.87 673.26v3.27M375.23 685.80h3.27M376.87 684.16v3.27M375.23 713.05h3.27M376.87 711.41v3.27M376.32 666.18h3.27M377.96 664.54v3.27M376.32 693.43h3.27M377.96 691.79v3.27M377.41 537.56h3.27M379.05 535.92v3.27M377.41 701.06h3.27M379.05 699.42v3.27M377.41 706.51h3.27M379.05 704.87v3.27M378.50 686.89h3.27M380.14 685.25v3.27M379.59 558.27h3.27M381.23 556.63v3.27M379.59 661.82h3.27M381.23 660.18v3.27M379.59 716.32h3.27M381.23 714.68v3.27M379.59 721.77h3.27M381.23 720.13v3.27M379.59 727.22h3.27M381.23 725.58v3.27M380.68 696.70h3.27M382.32 695.06v3.27M380.68 734.85h3.27M382.32 733.21v3.27M381.77 546.28h3.27M383.41 544.64v3.27M381.77 557.18h3.27M383.41 555.54v3.27M381.77 693.43h3.27M383.41 691.79v3.27M381.77 698.88h3.27M383.41 697.24v3.27M382.86 684.71h3.27M384.50 683.07v3.27M382.86 690.16h3.27M384.50 688.52v3.27M385.04 678.17h3.27M386.68 676.53v3.27M385.04 721.77h3.27M386.68 720.13v3.27M386.13 664.00h3.27M387.77 662.36v3.27M386.13 734.85h3.27M387.77 733.21v3.27M387.22 687.98h3.27M388.86 686.34v3.27M387.22 693.43h3.27M388.86 691.79v3.27M388.31 684.71h3.27M389.95 683.07v3.27M390.49 661.82h3.27M392.13 660.18v3.27M390.49 678.17h3.27M392.13 676.53v3.27M390.49 716.32h3.27M392.13 714.68v3.27M390.49 727.22h3.27M392.13 725.58v3.27M391.58 653.10h3.27M393.22 651.46v3.27M391.58 734.85h3.27M393.22 733.21v3.27M392.67 660.73h3.27M394.31 659.09v3.27M392.67 671.63h3.27M394.31 669.99v3.27M393.76 690.16h3.27M395.40 688.52v3.27M393.76 744.66h3.27M395.40 743.02v3.27M394.85 654.19h3.27M396.49 652.55v3.27M394.85 675.99h3.27M396.49 674.35v3.27M394.85 708.69h3.27M396.49 707.05v3.27M395.94 694.52h3.27M397.58 692.88v3.27M395.94 721.77h3.27M397.58 720.13v3.27M395.94 727.22h3.27M397.58 725.58v3.27M397.03 544.10h3.27M398.67 542.46v3.27M397.03 674.90h3.27M398.67 673.26v3.27M397.03 696.70h3.27M398.67 695.06v3.27M397.03 713.05h3.27M398.67 711.41v3.27M397.03 734.85h3.27M398.67 733.21v3.27M398.12 535.38h3.27M399.76 533.74v3.27M398.12 698.88h3.27M399.76 697.24v3.27M399.21 493.96h3.27M400.85 492.32v3.27M399.21 701.06h3.27M400.85 699.42v3.27M400.30 550.64h3.27M401.94 549.00v3.27M400.30 654.19h3.27M401.94 652.55v3.27M400.30 703.24h3.27M401.94 701.60v3.27M400.30 708.69h3.27M401.94 707.05v3.27M401.39 721.77h3.27M403.03 720.13v3.27M402.48 522.30h3.27M404.12 520.66v3.27M402.48 674.90h3.27M404.12 673.26v3.27M402.48 680.35h3.27M404.12 678.71v3.27M402.48 685.80h3.27M404.12 684.16v3.27M402.48 696.70h3.27M404.12 695.06v3.27M402.48 734.85h3.27M404.12 733.21v3.27M403.57 535.38h3.27M405.21 533.74v3.27M403.57 638.93h3.27M405.21 637.29v3.27M403.57 682.53h3.27M405.21 680.89v3.27M404.66 690.16h3.27M406.30 688.52v3.27M404.66 706.51h3.27M406.30 704.87v3.27M404.66 744.66h3.27M406.30 743.02v3.27M405.75 566.99h3.27M407.39 565.35v3.27M405.75 670.54h3.27M407.39 668.90v3.27M405.75 681.44h3.27M407.39 679.80v3.27M406.84 716.32h3.27M408.48 714.68v3.27M407.93 669.45h3.27M409.57 667.81v3.27M407.93 685.80h3.27M409.57 684.16v3.27M407.93 696.70h3.27M409.57 695.06v3.27M407.93 734.85h3.27M409.57 733.21v3.27M410.11 690.16h3.27M411.75 688.52v3.27M410.11 701.06h3.27M411.75 699.42v3.27M410.11 706.51h3.27M411.75 704.87v3.27M412.29 721.77h3.27M413.93 720.13v3.27M412.29 727.22h3.27M413.93 725.58v3.27M413.38 555.00h3.27M415.02 553.36v3.27M413.38 691.25h3.27M415.02 689.61v3.27M413.38 696.70h3.27M415.02 695.06v3.27M413.38 734.85h3.27M415.02 733.21v3.27M414.47 666.18h3.27M416.11 664.54v3.27M415.56 521.21h3.27M417.20 519.57v3.27M415.56 706.51h3.27M417.20 704.87v3.27M416.65 686.89h3.27M418.29 685.25v3.27M417.74 492.87h3.27M419.38 491.23v3.27M417.74 558.27h3.27M419.38 556.63v3.27M417.74 694.52h3.27M419.38 692.88v3.27M417.74 716.32h3.27M419.38 714.68v3.27M418.83 642.20h3.27M420.47 640.56v3.27M418.83 713.05h3.27M420.47 711.41v3.27M418.83 734.85h3.27M420.47 733.21v3.27M419.92 491.78h3.27M421.56 490.14v3.27M419.92 638.93h3.27M421.56 637.29v3.27M419.92 671.63h3.27M421.56 669.99v3.27M419.92 693.43h3.27M421.56 691.79v3.27M421.01 690.16h3.27M422.65 688.52v3.27M422.10 686.89h3.27M423.74 685.25v3.27M423.19 721.77h3.27M424.83 720.13v3.27M423.19 727.22h3.27M424.83 725.58v3.27M424.28 533.20h3.27M425.92 531.56v3.27M424.28 685.80h3.27M425.92 684.16v3.27M424.28 696.70h3.27M425.92 695.06v3.27M425.37 660.73h3.27M427.01 659.09v3.27M425.37 698.88h3.27M427.01 697.24v3.27M426.46 548.46h3.27M428.10 546.82v3.27M426.46 673.81h3.27M428.10 672.17v3.27M426.46 701.06h3.27M428.10 699.42v3.27M427.55 648.74h3.27M429.19 647.10v3.27M427.55 659.64h3.27M429.19 658.00v3.27M427.55 675.99h3.27M429.19 674.35v3.27M427.55 708.69h3.27M429.19 707.05v3.27M428.64 640.02h3.27M430.28 638.38v3.27M428.64 694.52h3.27M430.28 692.88v3.27M428.64 716.32h3.27M430.28 714.68v3.27M429.73 533.20h3.27M431.37 531.56v3.27M429.73 685.80h3.27M431.37 684.16v3.27M429.73 734.85h3.27M431.37 733.21v3.27M430.82 693.43h3.27M432.46 691.79v3.27M430.82 698.88h3.27M432.46 697.24v3.27M431.91 673.81h3.27M433.55 672.17v3.27M431.91 706.51h3.27M433.55 704.87v3.27M433.00 490.69h3.27M434.64 489.05v3.27M433.00 686.89h3.27M434.64 685.25v3.27M433.00 703.24h3.27M434.64 701.60v3.27M435.18 713.05h3.27M436.82 711.41v3.27M436.27 540.83h3.27M437.91 539.19v3.27M436.27 693.43h3.27M437.91 691.79v3.27M437.36 532.11h3.27M439.00 530.47v3.27M437.36 668.36h3.27M439.00 666.72v3.27M437.36 744.66h3.27M439.00 743.02v3.27M438.45 681.44h3.27M440.09 679.80v3.27M439.54 650.92h3.27M441.18 649.28v3.27M439.54 678.17h3.27M441.18 676.53v3.27M439.54 721.77h3.27M441.18 720.13v3.27M439.54 727.22h3.27M441.18 725.58v3.27M440.63 571.35h3.27M442.27 569.71v3.27M440.63 696.70h3.27M442.27 695.06v3.27M440.63 713.05h3.27M442.27 711.41v3.27M441.72 687.98h3.27M443.36 686.34v3.27M441.72 698.88h3.27M443.36 697.24v3.27M442.81 701.06h3.27M444.45 699.42v3.27M442.81 706.51h3.27M444.45 704.87v3.27M443.90 708.69h3.27M445.54 707.05v3.27M444.99 716.32h3.27M446.63 714.68v3.27M444.99 721.77h3.27M446.63 720.13v3.27M446.08 669.45h3.27M447.72 667.81v3.27M446.08 680.35h3.27M447.72 678.71v3.27M446.08 696.70h3.27M447.72 695.06v3.27M446.08 734.85h3.27M447.72 733.21v3.27M447.17 660.73h3.27M448.81 659.09v3.27M447.17 682.53h3.27M448.81 680.89v3.27M447.17 687.98h3.27M448.81 686.34v3.27M448.26 673.81h3.27M449.90 672.17v3.27M448.26 701.06h3.27M449.90 699.42v3.27M449.35 556.09h3.27M450.99 554.45v3.27M449.35 686.89h3.27M450.99 685.25v3.27M450.44 531.02h3.27M452.08 529.38v3.27M450.44 650.92h3.27M452.08 649.28v3.27M450.44 721.77h3.27M452.08 720.13v3.27M451.53 669.45h3.27M453.17 667.81v3.27M451.53 734.85h3.27M453.17 733.21v3.27M452.62 551.73h3.27M454.26 550.09v3.27M452.62 660.73h3.27M454.26 659.09v3.27M453.71 684.71h3.27M455.35 683.07v3.27M454.80 659.64h3.27M456.44 658.00v3.27M454.80 670.54h3.27M456.44 668.90v3.27M454.80 703.24h3.27M456.44 701.60v3.27M454.80 708.69h3.27M456.44 707.05v3.27M455.89 531.02h3.27M457.53 529.38v3.27M455.89 678.17h3.27M457.53 676.53v3.27M455.89 694.52h3.27M457.53 692.88v3.27M455.89 727.22h3.27M457.53 725.58v3.27M456.98 489.60h3.27M458.62 487.96v3.27M456.98 680.35h3.27M458.62 678.71v3.27M456.98 713.05h3.27M458.62 711.41v3.27M458.07 698.88h3.27M459.71 697.24v3.27M459.16 684.71h3.27M460.80 683.07v3.27M460.25 675.99h3.27M461.89 674.35v3.27M460.25 703.24h3.27M461.89 701.60v3.27M462.43 647.65h3.27M464.07 646.01v3.27M463.52 671.63h3.27M465.16 669.99v3.27M465.70 545.19h3.27M467.34 543.55v3.27M467.88 516.85h3.27M469.52 515.21v3.27M467.88 658.55h3.27M469.52 656.91v3.27M467.88 691.25h3.27M469.52 689.61v3.27M467.88 713.05h3.27M469.52 711.41v3.27M468.97 682.53h3.27M470.61 680.89v3.27M468.97 693.43h3.27M470.61 691.79v3.27M470.06 701.06h3.27M471.70 699.42v3.27M471.15 648.74h3.27M472.79 647.10v3.27M472.24 716.32h3.27M473.88 714.68v3.27M472.24 721.77h3.27M473.88 720.13v3.27M472.24 727.22h3.27M473.88 725.58v3.27M473.33 516.85h3.27M474.97 515.21v3.27M473.33 691.25h3.27M474.97 689.61v3.27M474.42 529.93h3.27M476.06 528.29v3.27M475.51 515.76h3.27M477.15 514.12v3.27M475.51 701.06h3.27M477.15 699.42v3.27M476.60 528.84h3.27M478.24 527.20v3.27M476.60 566.99h3.27M478.24 565.35v3.27M476.60 670.54h3.27M478.24 668.90v3.27M477.69 678.17h3.27M479.33 676.53v3.27M477.69 716.32h3.27M479.33 714.68v3.27M478.78 544.10h3.27M480.42 542.46v3.27M478.78 696.70h3.27M480.42 695.06v3.27M480.96 701.06h3.27M482.60 699.42v3.27M482.05 528.84h3.27M483.69 527.20v3.27M483.14 667.27h3.27M484.78 665.63v3.27M483.14 727.22h3.27M484.78 725.58v3.27M484.23 544.10h3.27M485.87 542.46v3.27M484.23 549.55h3.27M485.87 547.91v3.27M484.23 680.35h3.27M485.87 678.71v3.27M484.23 691.25h3.27M485.87 689.61v3.27M484.23 696.70h3.27M485.87 695.06v3.27M486.41 515.76h3.27M488.05 514.12v3.27M486.41 690.16h3.27M488.05 688.52v3.27M487.50 659.64h3.27M489.14 658.00v3.27M487.50 675.99h3.27M489.14 674.35v3.27M487.50 686.89h3.27M489.14 685.25v3.27M487.50 708.69h3.27M489.14 707.05v3.27M488.59 694.52h3.27M490.23 692.88v3.27M489.68 696.70h3.27M491.32 695.06v3.27M490.77 486.33h3.27M492.41 484.69v3.27M490.77 666.18h3.27M492.41 664.54v3.27M490.77 677.08h3.27M492.41 675.44v3.27M490.77 687.98h3.27M492.41 686.34v3.27M492.95 708.69h3.27M494.59 707.05v3.27M494.04 536.47h3.27M495.68 534.83v3.27M494.04 694.52h3.27M495.68 692.88v3.27M494.04 716.32h3.27M495.68 714.68v3.27M495.13 664.00h3.27M496.77 662.36v3.27M495.13 713.05h3.27M496.77 711.41v3.27M496.22 666.18h3.27M497.86 664.54v3.27M496.22 687.98h3.27M497.86 686.34v3.27M497.31 684.71h3.27M498.95 683.07v3.27M497.31 690.16h3.27M498.95 688.52v3.27M497.31 701.06h3.27M498.95 699.42v3.27M497.31 706.51h3.27M498.95 704.87v3.27M498.40 556.09h3.27M500.04 554.45v3.27M498.40 659.64h3.27M500.04 658.00v3.27M498.40 708.69h3.27M500.04 707.05v3.27M499.49 678.17h3.27M501.13 676.53v3.27M499.49 694.52h3.27M501.13 692.88v3.27M499.49 727.22h3.27M501.13 725.58v3.27M500.58 691.25h3.27M502.22 689.61v3.27M500.58 734.85h3.27M502.22 733.21v3.27M501.67 677.08h3.27M503.31 675.44v3.27M501.67 698.88h3.27M503.31 697.24v3.27M502.76 543.01h3.27M504.40 541.37v3.27M502.76 673.81h3.27M504.40 672.17v3.27M502.76 706.51h3.27M504.40 704.87v3.27M503.85 659.64h3.27M505.49 658.00v3.27M503.85 708.69h3.27M505.49 707.05v3.27M504.94 694.52h3.27M506.58 692.88v3.27M504.94 716.32h3.27M506.58 714.68v3.27M504.94 721.77h3.27M506.58 720.13v3.27M506.03 527.75h3.27M507.67 526.11v3.27M507.12 671.63h3.27M508.76 669.99v3.27M507.12 698.88h3.27M508.76 697.24v3.27M508.21 673.81h3.27M509.85 672.17v3.27M508.21 684.71h3.27M509.85 683.07v3.27M509.30 686.89h3.27M510.94 685.25v3.27M510.39 541.92h3.27M512.03 540.28v3.27M510.39 563.72h3.27M512.03 562.08v3.27M510.39 580.07h3.27M512.03 578.43v3.27M510.39 721.77h3.27M512.03 720.13v3.27M511.48 685.80h3.27M513.12 684.16v3.27M511.48 713.05h3.27M513.12 711.41v3.27M512.57 666.18h3.27M514.21 664.54v3.27M512.57 698.88h3.27M514.21 697.24v3.27M513.66 662.91h3.27M515.30 661.27v3.27M513.66 673.81h3.27M515.30 672.17v3.27M513.66 679.26h3.27M515.30 677.62v3.27M513.66 701.06h3.27M515.30 699.42v3.27M513.66 744.66h3.27M515.30 743.02v3.27M514.75 675.99h3.27M516.39 674.35v3.27M514.75 681.44h3.27M516.39 679.80v3.27M514.75 703.24h3.27M516.39 701.60v3.27M515.84 541.92h3.27M517.48 540.28v3.27M515.84 650.92h3.27M517.48 649.28v3.27M515.84 721.77h3.27M517.48 720.13v3.27M516.93 696.70h3.27M518.57 695.06v3.27M518.02 666.18h3.27M519.66 664.54v3.27M518.02 671.63h3.27M519.66 669.99v3.27M518.02 687.98h3.27M519.66 686.34v3.27M519.11 526.66h3.27M520.75 525.02v3.27M519.11 701.06h3.27M520.75 699.42v3.27M520.20 703.24h3.27M521.84 701.60v3.27M521.29 694.52h3.27M522.93 692.88v3.27M521.29 716.32h3.27M522.93 714.68v3.27M521.29 727.22h3.27M522.93 725.58v3.27M522.38 484.15h3.27M524.02 482.51v3.27M522.38 555.00h3.27M524.02 553.36v3.27M522.38 560.45h3.27M524.02 558.81v3.27M522.38 685.80h3.27M524.02 684.16v3.27M522.38 734.85h3.27M524.02 733.21v3.27M523.47 693.43h3.27M525.11 691.79v3.27M525.65 648.74h3.27M527.29 647.10v3.27M525.65 670.54h3.27M527.29 668.90v3.27M526.74 678.17h3.27M528.38 676.53v3.27M526.74 716.32h3.27M528.38 714.68v3.27M526.74 721.77h3.27M528.38 720.13v3.27M527.83 691.25h3.27M529.47 689.61v3.27M527.83 696.70h3.27M529.47 695.06v3.27M527.83 713.05h3.27M529.47 711.41v3.27M528.92 687.98h3.27M530.56 686.34v3.27M530.01 744.66h3.27M531.65 743.02v3.27M531.10 512.49h3.27M532.74 510.85v3.27M531.10 703.24h3.27M532.74 701.60v3.27M532.19 525.57h3.27M533.83 523.93v3.27M532.19 650.92h3.27M533.83 649.28v3.27M532.19 716.32h3.27M533.83 714.68v3.27M533.28 484.15h3.27M534.92 482.51v3.27M533.28 669.45h3.27M534.92 667.81v3.27M533.28 696.70h3.27M534.92 695.06v3.27M534.37 540.83h3.27M536.01 539.19v3.27M535.46 641.11h3.27M537.10 639.47v3.27M535.46 668.36h3.27M537.10 666.72v3.27M536.55 665.09h3.27M538.19 663.45v3.27M536.55 703.24h3.27M538.19 701.60v3.27M536.55 708.69h3.27M538.19 707.05v3.27M538.73 713.05h3.27M540.37 711.41v3.27M539.82 562.63h3.27M541.46 560.99v3.27M539.82 655.28h3.27M541.46 653.64v3.27M539.82 693.43h3.27M541.46 691.79v3.27M540.91 706.51h3.27M542.55 704.87v3.27M540.91 744.66h3.27M542.55 743.02v3.27M542.00 539.74h3.27M543.64 538.10v3.27M542.00 708.69h3.27M543.64 707.05v3.27M543.09 661.82h3.27M544.73 660.18v3.27M543.09 694.52h3.27M544.73 692.88v3.27M544.18 664.00h3.27M545.82 662.36v3.27M544.18 691.25h3.27M545.82 689.61v3.27M544.18 696.70h3.27M545.82 695.06v3.27M544.18 713.05h3.27M545.82 711.41v3.27M544.18 734.85h3.27M545.82 733.21v3.27M545.27 524.48h3.27M546.91 522.84v3.27M545.27 682.53h3.27M546.91 680.89v3.27M545.27 698.88h3.27M546.91 697.24v3.27M546.36 684.71h3.27M548.00 683.07v3.27M546.36 690.16h3.27M548.00 688.52v3.27M547.45 670.54h3.27M549.09 668.90v3.27M547.45 708.69h3.27M549.09 707.05v3.27M548.54 650.92h3.27M550.18 649.28v3.27M548.54 667.27h3.27M550.18 665.63v3.27M548.54 678.17h3.27M550.18 676.53v3.27M548.54 694.52h3.27M550.18 692.88v3.27M548.54 716.32h3.27M550.18 714.68v3.27M548.54 727.22h3.27M550.18 725.58v3.27M549.63 685.80h3.27M551.27 684.16v3.27M549.63 734.85h3.27M551.27 733.21v3.27M550.72 524.48h3.27M552.36 522.84v3.27M550.72 660.73h3.27M552.36 659.09v3.27M550.72 682.53h3.27M552.36 680.89v3.27M551.81 483.06h3.27M553.45 481.42v3.27M551.81 684.71h3.27M553.45 683.07v3.27M553.99 694.52h3.27M555.63 692.88v3.27M553.99 721.77h3.27M555.63 720.13v3.27M553.99 727.22h3.27M555.63 725.58v3.27M555.08 544.10h3.27M556.72 542.46v3.27M555.08 734.85h3.27M556.72 733.21v3.27M556.17 524.48h3.27M557.81 522.84v3.27M556.17 693.43h3.27M557.81 691.79v3.27M556.17 698.88h3.27M557.81 697.24v3.27M557.26 635.66h3.27M558.90 634.02v3.27M557.26 684.71h3.27M558.90 683.07v3.27M557.26 701.06h3.27M558.90 699.42v3.27M557.26 706.51h3.27M558.90 704.87v3.27M558.35 659.64h3.27M559.99 658.00v3.27M558.35 670.54h3.27M559.99 668.90v3.27M558.35 708.69h3.27M559.99 707.05v3.27M559.44 481.97h3.27M561.08 480.33v3.27M559.44 640.02h3.27M561.08 638.38v3.27M560.53 642.20h3.27M562.17 640.56v3.27M560.53 691.25h3.27M562.17 689.61v3.27M560.53 713.05h3.27M562.17 711.41v3.27M560.53 734.85h3.27M562.17 733.21v3.27M561.62 644.38h3.27M563.26 642.74v3.27M562.71 581.16h3.27M564.35 579.52v3.27M563.80 523.39h3.27M565.44 521.75v3.27M563.80 632.39h3.27M565.44 630.75v3.27M563.80 708.69h3.27M565.44 707.05v3.27M564.89 481.97h3.27M566.53 480.33v3.27M564.89 634.57h3.27M566.53 632.93v3.27M564.89 656.37h3.27M566.53 654.73v3.27M564.89 716.32h3.27M566.53 714.68v3.27M565.98 538.65h3.27M567.62 537.01v3.27M565.98 734.85h3.27M567.62 733.21v3.27M567.07 551.73h3.27M568.71 550.09v3.27M567.07 655.28h3.27M568.71 653.64v3.27M568.16 510.31h3.27M569.80 508.67v3.27M568.16 635.66h3.27M569.80 634.02v3.27M568.16 701.06h3.27M569.80 699.42v3.27M568.16 706.51h3.27M569.80 704.87v3.27M569.25 523.39h3.27M570.89 521.75v3.27" stroke="#000" stroke-width="0.545" fill="none"/>
<path d="M85.29 721.77h3.27M86.93 720.13v3.27M88.56 701.06h3.27M90.20 699.42v3.27M90.74 694.52h3.27M92.38 692.88v3.27M90.74 716.32h3.27M92.38 714.68v3.27M91.83 636.75h3.27M93.47 635.11v3.27M95.10 616.04h3.27M96.74 614.40v3.27M96.19 721.77h3.27M97.83 720.13v3.27M96.19 727.22h3.27M97.83 725.58v3.27M99.46 744.66h3.27M101.10 743.02v3.27M101.64 574.62h3.27M103.28 572.98v3.27M101.64 727.22h3.27M103.28 725.58v3.27M102.73 734.85h3.27M104.37 733.21v3.27M103.82 600.78h3.27M105.46 599.14v3.27M108.18 565.90h3.27M109.82 564.26v3.27M112.54 721.77h3.27M114.18 720.13v3.27M113.63 560.45h3.27M115.27 558.81v3.27M113.63 734.85h3.27M115.27 733.21v3.27M119.08 598.60h3.27M120.72 596.96v3.27M119.08 713.05h3.27M120.72 711.41v3.27M121.26 553.91h3.27M122.90 552.27v3.27M121.26 744.66h3.27M122.90 743.02v3.27M122.35 610.59h3.27M123.99 608.95v3.27M125.62 698.88h3.27M127.26 697.24v3.27M128.89 727.22h3.27M130.53 725.58v3.27M129.98 734.85h3.27M131.62 733.21v3.27M131.07 589.88h3.27M132.71 588.24v3.27M133.25 703.24h3.27M134.89 701.60v3.27M133.25 708.69h3.27M134.89 707.05v3.27M134.34 574.62h3.27M135.98 572.98v3.27M134.34 596.42h3.27M135.98 594.78v3.27M135.43 713.05h3.27M137.07 711.41v3.27M136.52 595.33h3.27M138.16 593.69v3.27M137.61 706.51h3.27M139.25 704.87v3.27M140.88 571.35h3.27M142.52 569.71v3.27M140.88 691.25h3.27M142.52 689.61v3.27M145.24 721.77h3.27M146.88 720.13v3.27M146.33 713.05h3.27M147.97 711.41v3.27M148.51 744.66h3.27M150.15 743.02v3.27M149.60 703.24h3.27M151.24 701.60v3.27M151.78 565.90h3.27M153.42 564.26v3.27M153.96 684.71h3.27M155.60 683.07v3.27M153.96 744.66h3.27M155.60 743.02v3.27M156.14 727.22h3.27M157.78 725.58v3.27M158.32 535.38h3.27M159.96 533.74v3.27M159.41 701.06h3.27M161.05 699.42v3.27M162.68 533.20h3.27M164.32 531.56v3.27M162.68 734.85h3.27M164.32 733.21v3.27M165.95 703.24h3.27M167.59 701.60v3.27M167.04 721.77h3.27M168.68 720.13v3.27M168.13 691.25h3.27M169.77 689.61v3.27M172.49 678.17h3.27M174.13 676.53v3.27M173.58 734.85h3.27M175.22 733.21v3.27M177.94 727.22h3.27M179.58 725.58v3.27M181.21 701.06h3.27M182.85 699.42v3.27M183.39 716.32h3.27M185.03 714.68v3.27M183.39 727.22h3.27M185.03 725.58v3.27M186.66 706.51h3.27M188.30 704.87v3.27M187.75 686.89h3.27M189.39 685.25v3.27M188.84 727.22h3.27M190.48 725.58v3.27M191.02 693.43h3.27M192.66 691.79v3.27M194.29 552.82h3.27M195.93 551.18v3.27M197.56 564.81h3.27M199.20 563.17v3.27M200.83 734.85h3.27M202.47 733.21v3.27M204.10 686.89h3.27M205.74 685.25v3.27M205.19 727.22h3.27M206.83 725.58v3.27M211.73 713.05h3.27M213.37 711.41v3.27M215.00 708.69h3.27M216.64 707.05v3.27M216.09 547.37h3.27M217.73 545.73v3.27M217.18 653.10h3.27M218.82 651.46v3.27M219.36 559.36h3.27M221.00 557.72v3.27M221.54 721.77h3.27M223.18 720.13v3.27M225.90 545.19h3.27M227.54 543.55v3.27M226.99 558.27h3.27M228.63 556.63v3.27M228.08 696.70h3.27M229.72 695.06v3.27M230.26 690.16h3.27M231.90 688.52v3.27M230.26 744.66h3.27M231.90 743.02v3.27M233.53 713.05h3.27M235.17 711.41v3.27M235.71 690.16h3.27M237.35 688.52v3.27M237.89 721.77h3.27M239.53 720.13v3.27M238.98 691.25h3.27M240.62 689.61v3.27M238.98 713.05h3.27M240.62 711.41v3.27M241.16 570.26h3.27M242.80 568.62v3.27M241.16 744.66h3.27M242.80 743.02v3.27M243.34 694.52h3.27M244.98 692.88v3.27M243.34 721.77h3.27M244.98 720.13v3.27M245.52 513.58h3.27M247.16 511.94v3.27M253.15 539.74h3.27M254.79 538.10v3.27M253.15 703.24h3.27M254.79 701.60v3.27M254.24 721.77h3.27M255.88 720.13v3.27M255.33 734.85h3.27M256.97 733.21v3.27M257.51 701.06h3.27M259.15 699.42v3.27M257.51 706.51h3.27M259.15 704.87v3.27M258.60 539.74h3.27M260.24 538.10v3.27M258.60 708.69h3.27M260.24 707.05v3.27M259.69 694.52h3.27M261.33 692.88v3.27M262.96 510.31h3.27M264.60 508.67v3.27M268.41 690.16h3.27M270.05 688.52v3.27M268.41 744.66h3.27M270.05 743.02v3.27M269.50 686.89h3.27M271.14 685.25v3.27M270.59 509.22h3.27M272.23 507.58v3.27M270.59 716.32h3.27M272.23 714.68v3.27M270.59 721.77h3.27M272.23 720.13v3.27M270.59 727.22h3.27M272.23 725.58v3.27M271.68 565.90h3.27M273.32 564.26v3.27M271.68 696.70h3.27M273.32 695.06v3.27M272.77 508.13h3.27M274.41 506.49v3.27M272.77 698.88h3.27M274.41 697.24v3.27M273.86 701.06h3.27M275.50 699.42v3.27M278.22 508.13h3.27M279.86 506.49v3.27M280.40 703.24h3.27M282.04 701.60v3.27M281.49 694.52h3.27M283.13 692.88v3.27M281.49 727.22h3.27M283.13 725.58v3.27M283.67 698.88h3.27M285.31 697.24v3.27M284.76 701.06h3.27M286.40 699.42v3.27M292.39 547.37h3.27M294.03 545.73v3.27M292.39 727.22h3.27M294.03 725.58v3.27M294.57 682.53h3.27M296.21 680.89v3.27M297.84 721.77h3.27M299.48 720.13v3.27M304.38 734.85h3.27M306.02 733.21v3.27M307.65 708.69h3.27M309.29 707.05v3.27M308.74 721.77h3.27M310.38 720.13v3.27M309.83 713.05h3.27M311.47 711.41v3.27M315.28 544.10h3.27M316.92 542.46v3.27M315.28 658.55h3.27M316.92 656.91v3.27M316.37 502.68h3.27M318.01 501.04v3.27M317.46 673.81h3.27M319.10 672.17v3.27M317.46 701.06h3.27M319.10 699.42v3.27M319.64 531.02h3.27M321.28 529.38v3.27M319.64 716.32h3.27M321.28 714.68v3.27M326.18 696.70h3.27M327.82 695.06v3.27M327.27 551.73h3.27M328.91 550.09v3.27M328.36 543.01h3.27M330.00 541.37v3.27M330.54 721.77h3.27M332.18 720.13v3.27M332.72 698.88h3.27M334.36 697.24v3.27M333.81 706.51h3.27M335.45 704.87v3.27M333.81 744.66h3.27M335.45 743.02v3.27M337.08 658.55h3.27M338.72 656.91v3.27M339.26 744.66h3.27M340.90 743.02v3.27M341.44 727.22h3.27M343.08 725.58v3.27M344.71 706.51h3.27M346.35 704.87v3.27M344.71 744.66h3.27M346.35 743.02v3.27M347.98 685.80h3.27M349.62 684.16v3.27M350.16 526.66h3.27M351.80 525.02v3.27M353.43 734.85h3.27M355.07 733.21v3.27M357.79 678.17h3.27M359.43 676.53v3.27M359.97 497.23h3.27M361.61 495.59v3.27M363.24 721.77h3.27M364.88 720.13v3.27M365.42 497.23h3.27M367.06 495.59v3.27M367.60 686.89h3.27M369.24 685.25v3.27M368.69 525.57h3.27M370.33 523.93v3.27M369.78 713.05h3.27M371.42 711.41v3.27M373.05 496.14h3.27M374.69 494.50v3.27M374.14 716.32h3.27M375.78 714.68v3.27M375.23 691.25h3.27M376.87 689.61v3.27M375.23 734.85h3.27M376.87 733.21v3.27M376.32 524.48h3.27M377.96 522.84v3.27M378.50 496.14h3.27M380.14 494.50v3.27M378.50 703.24h3.27M380.14 701.60v3.27M381.77 524.48h3.27M383.41 522.84v3.27M383.95 708.69h3.27M385.59 707.05v3.27M385.04 727.22h3.27M386.68 725.58v3.27M386.13 495.05h3.27M387.77 493.41v3.27M386.13 653.10h3.27M387.77 651.46v3.27M388.31 706.51h3.27M389.95 704.87v3.27M389.40 703.24h3.27M391.04 701.60v3.27M390.49 536.47h3.27M392.13 534.83v3.27M393.76 493.96h3.27M395.40 492.32v3.27M395.94 716.32h3.27M397.58 714.68v3.27M397.03 522.30h3.27M398.67 520.66v3.27M399.21 744.66h3.27M400.85 743.02v3.27M401.39 694.52h3.27M403.03 692.88v3.27M401.39 727.22h3.27M403.03 725.58v3.27M403.57 655.28h3.27M405.21 653.64v3.27M404.66 493.96h3.27M406.30 492.32v3.27M405.75 708.69h3.27M407.39 707.05v3.27M406.84 678.17h3.27M408.48 676.53v3.27M406.84 721.77h3.27M408.48 720.13v3.27M407.93 713.05h3.27M409.57 711.41v3.27M410.11 521.21h3.27M411.75 519.57v3.27M410.11 744.66h3.27M411.75 743.02v3.27M411.20 534.29h3.27M412.84 532.65v3.27M411.20 708.69h3.27M412.84 707.05v3.27M412.29 492.87h3.27M413.93 491.23v3.27M413.38 713.05h3.27M415.02 711.41v3.27M421.01 684.71h3.27M422.65 683.07v3.27M423.19 667.27h3.27M424.83 665.63v3.27M425.37 491.78h3.27M427.01 490.14v3.27M427.55 561.54h3.27M429.19 559.90v3.27M428.64 721.77h3.27M430.28 720.13v3.27M428.64 727.22h3.27M430.28 725.58v3.27M430.82 682.53h3.27M432.46 680.89v3.27M431.91 744.66h3.27M433.55 743.02v3.27M434.09 721.77h3.27M435.73 720.13v3.27M434.09 727.22h3.27M435.73 725.58v3.27M436.27 698.88h3.27M437.91 697.24v3.27M437.36 701.06h3.27M439.00 699.42v3.27M441.72 519.03h3.27M443.36 517.39v3.27M442.81 744.66h3.27M444.45 743.02v3.27M446.08 489.60h3.27M447.72 487.96v3.27M447.17 666.18h3.27M448.81 664.54v3.27M450.44 716.32h3.27M452.08 714.68v3.27M453.71 701.06h3.27M455.35 699.42v3.27M453.71 744.66h3.27M455.35 743.02v3.27M456.98 674.90h3.27M458.62 673.26v3.27M459.16 488.51h3.27M460.80 486.87v3.27M459.16 701.06h3.27M460.80 699.42v3.27M461.34 721.77h3.27M462.98 720.13v3.27M462.43 516.85h3.27M464.07 515.21v3.27M464.61 488.51h3.27M466.25 486.87v3.27M464.61 744.66h3.27M466.25 743.02v3.27M467.88 734.85h3.27M469.52 733.21v3.27M470.06 744.66h3.27M471.70 743.02v3.27M473.33 734.85h3.27M474.97 733.21v3.27M477.69 727.22h3.27M479.33 725.58v3.27M478.78 713.05h3.27M480.42 711.41v3.27M480.96 515.76h3.27M482.60 514.12v3.27M480.96 537.56h3.27M482.60 535.92v3.27M480.96 744.66h3.27M482.60 743.02v3.27M483.14 716.32h3.27M484.78 714.68v3.27M485.32 682.53h3.27M486.96 680.89v3.27M486.41 706.51h3.27M488.05 704.87v3.27M487.50 528.84h3.27M489.14 527.20v3.27M488.59 727.22h3.27M490.23 725.58v3.27M489.68 713.05h3.27M491.32 711.41v3.27M489.68 734.85h3.27M491.32 733.21v3.27M491.86 543.01h3.27M493.50 541.37v3.27M491.86 701.06h3.27M493.50 699.42v3.27M491.86 744.66h3.27M493.50 743.02v3.27M495.13 527.75h3.27M496.77 526.11v3.27M496.22 486.33h3.27M497.86 484.69v3.27M497.31 543.01h3.27M498.95 541.37v3.27M497.31 744.66h3.27M498.95 743.02v3.27M500.58 527.75h3.27M502.22 526.11v3.27M501.67 486.33h3.27M503.31 484.69v3.27M501.67 693.43h3.27M503.31 691.79v3.27M506.03 680.35h3.27M507.67 678.71v3.27M506.03 734.85h3.27M507.67 733.21v3.27M510.39 727.22h3.27M512.03 725.58v3.27M511.48 734.85h3.27M513.12 733.21v3.27M514.75 485.24h3.27M516.39 483.60v3.27M515.84 716.32h3.27M517.48 714.68v3.27M515.84 727.22h3.27M517.48 725.58v3.27M516.93 713.05h3.27M518.57 711.41v3.27M519.11 744.66h3.27M520.75 743.02v3.27M523.47 698.88h3.27M525.11 697.24v3.27M525.65 512.49h3.27M527.29 510.85v3.27M525.65 703.24h3.27M527.29 701.60v3.27M526.74 727.22h3.27M528.38 725.58v3.27M527.83 734.85h3.27M529.47 733.21v3.27M528.92 693.43h3.27M530.56 691.79v3.27M530.01 701.06h3.27M531.65 699.42v3.27M533.28 734.85h3.27M534.92 733.21v3.27M540.91 483.06h3.27M542.55 481.42v3.27M543.09 716.32h3.27M544.73 714.68v3.27M546.36 483.06h3.27M548.00 481.42v3.27M546.36 701.06h3.27M548.00 699.42v3.27M546.36 744.66h3.27M548.00 743.02v3.27M547.45 703.24h3.27M549.09 701.60v3.27M548.54 721.77h3.27M550.18 720.13v3.27M549.63 511.40h3.27M551.27 509.76v3.27M551.81 701.06h3.27M553.45 699.42v3.27M551.81 744.66h3.27M553.45 743.02v3.27M557.26 744.66h3.27M558.90 743.02v3.27M559.44 721.77h3.27M561.08 720.13v3.27M562.71 510.31h3.27M564.35 508.67v3.27M562.71 706.51h3.27M564.35 704.87v3.27M564.89 678.17h3.27M566.53 676.53v3.27M564.89 721.77h3.27M566.53 720.13v3.27M565.98 544.10h3.27M567.62 542.46v3.27M569.25 708.69h3.27M570.89 707.05v3.27" stroke="#000" stroke-width="0.818" fill="none"/>
<path d="M82.02 780.63h3.27M83.66 778.99v3.27M89.65 632.39h3.27M91.29 630.75v3.27M94.01 619.31h3.27M95.65 617.67v3.27M101.64 721.77h3.27M103.28 720.13v3.27M102.73 713.05h3.27M104.37 711.41v3.27M107.09 596.42h3.27M108.73 594.78v3.27M110.36 592.06h3.27M112.00 590.42v3.27M115.81 744.66h3.27M117.45 743.02v3.27M116.90 599.69h3.27M118.54 598.05v3.27M124.53 713.05h3.27M126.17 711.41v3.27M132.16 575.71h3.27M133.80 574.07v3.27M134.34 716.32h3.27M135.98 714.68v3.27M136.52 573.53h3.27M138.16 571.89v3.27M137.61 744.66h3.27M139.25 743.02v3.27M143.06 744.66h3.27M144.70 743.02v3.27M147.42 568.08h3.27M149.06 566.44v3.27M150.69 727.22h3.27M152.33 725.58v3.27M156.14 716.32h3.27M157.78 714.68v3.27M157.23 713.05h3.27M158.87 711.41v3.27M157.23 734.85h3.27M158.87 733.21v3.27M161.59 721.77h3.27M163.23 720.13v3.27M167.04 727.22h3.27M168.68 725.58v3.27M174.67 529.93h3.27M176.31 528.29v3.27M175.76 744.66h3.27M177.40 743.02v3.27M176.85 528.84h3.27M178.49 527.20v3.27M186.66 744.66h3.27M188.30 743.02v3.27M192.11 744.66h3.27M193.75 743.02v3.27M200.83 522.30h3.27M202.47 520.66v3.27M205.19 721.77h3.27M206.83 720.13v3.27M208.46 744.66h3.27M210.10 743.02v3.27M230.26 515.76h3.27M231.90 514.12v3.27M233.53 544.10h3.27M235.17 542.46v3.27M235.71 744.66h3.27M237.35 743.02v3.27M243.34 541.92h3.27M244.98 540.28v3.27M246.61 744.66h3.27M248.25 743.02v3.27M255.33 511.40h3.27M256.97 509.76v3.27M259.69 727.22h3.27M261.33 725.58v3.27M276.04 536.47h3.27M277.68 534.83v3.27M295.66 504.86h3.27M297.30 503.22v3.27M297.84 727.22h3.27M299.48 725.58v3.27M317.46 744.66h3.27M319.10 743.02v3.27M325.09 721.77h3.27M326.73 720.13v3.27M327.27 529.93h3.27M328.91 528.29v3.27M328.36 701.06h3.27M330.00 699.42v3.27M334.90 550.64h3.27M336.54 549.00v3.27M335.99 721.77h3.27M337.63 720.13v3.27M342.53 527.75h3.27M344.17 526.11v3.27M344.71 499.41h3.27M346.35 497.77v3.27M346.89 727.22h3.27M348.53 725.58v3.27M352.34 498.32h3.27M353.98 496.68v3.27M355.61 744.66h3.27M357.25 743.02v3.27M357.79 498.32h3.27M359.43 496.68v3.27M357.79 721.77h3.27M359.43 720.13v3.27M363.24 727.22h3.27M364.88 725.58v3.27M374.14 721.77h3.27M375.78 720.13v3.27M376.32 677.08h3.27M377.96 675.44v3.27M380.68 713.05h3.27M382.32 711.41v3.27M382.86 744.66h3.27M384.50 743.02v3.27M385.04 536.47h3.27M386.68 534.83v3.27M389.40 523.39h3.27M391.04 521.75v3.27M391.58 495.05h3.27M393.22 493.41v3.27M406.84 492.87h3.27M408.48 491.23v3.27M415.56 744.66h3.27M417.20 743.02v3.27M417.74 727.22h3.27M419.38 725.58v3.27M421.01 744.66h3.27M422.65 743.02v3.27M423.19 520.12h3.27M424.83 518.48v3.27M428.64 520.12h3.27M430.28 518.48v3.27M433.00 708.69h3.27M434.64 707.05v3.27M438.45 490.69h3.27M440.09 489.05v3.27M438.45 703.24h3.27M440.09 701.60v3.27M442.81 532.11h3.27M444.45 530.47v3.27M444.99 727.22h3.27M446.63 725.58v3.27M448.26 744.66h3.27M449.90 743.02v3.27M449.35 517.94h3.27M450.99 516.30v3.27M450.44 727.22h3.27M452.08 725.58v3.27M451.53 489.60h3.27M453.17 487.96v3.27M451.53 713.05h3.27M453.17 711.41v3.27M459.16 744.66h3.27M460.80 743.02v3.27M470.06 488.51h3.27M471.70 486.87v3.27M475.51 744.66h3.27M477.15 743.02v3.27M476.60 686.89h3.27M478.24 685.25v3.27M476.60 708.69h3.27M478.24 707.05v3.27M478.78 669.45h3.27M480.42 667.81v3.27M483.14 487.42h3.27M484.78 485.78v3.27M494.04 514.67h3.27M495.68 513.03v3.27M499.49 514.67h3.27M501.13 513.03v3.27M503.85 485.24h3.27M505.49 483.60v3.27M504.94 727.22h3.27M506.58 725.58v3.27M509.30 485.24h3.27M510.94 483.60v3.27M520.20 485.24h3.27M521.84 483.60v3.27M521.29 721.77h3.27M522.93 720.13v3.27M524.56 744.66h3.27M526.20 743.02v3.27M530.01 706.51h3.27M531.65 704.87v3.27M533.28 713.05h3.27M534.92 711.41v3.27M537.64 525.57h3.27M539.28 523.93v3.27M555.08 713.05h3.27M556.72 711.41v3.27M562.71 744.66h3.27M564.35 743.02v3.27M563.80 703.24h3.27M565.44 701.60v3.27M568.16 744.66h3.27M569.80 743.02v3.27" stroke="#000" stroke-width="0.954" fill="none"/>
<path d="M110.36 744.66h3.27M112.00 743.02v3.27M126.71 744.66h3.27M128.35 743.02v3.27M132.16 744.66h3.27M133.80 743.02v3.27M134.34 727.22h3.27M135.98 725.58v3.27M138.70 572.44h3.27M140.34 570.80v3.27M143.06 570.26h3.27M144.70 568.62v3.27M164.86 744.66h3.27M166.50 743.02v3.27M170.31 744.66h3.27M171.95 743.02v3.27M203.01 744.66h3.27M204.65 743.02v3.27M210.64 520.12h3.27M212.28 518.48v3.27M240.07 513.58h3.27M241.71 511.94v3.27M252.06 744.66h3.27M253.70 743.02v3.27M257.51 744.66h3.27M259.15 743.02v3.27M260.78 538.65h3.27M262.42 537.01v3.27M262.96 744.66h3.27M264.60 743.02v3.27M273.86 744.66h3.27M275.50 743.02v3.27M279.31 744.66h3.27M280.95 743.02v3.27M288.03 505.95h3.27M289.67 504.31v3.27M291.30 534.29h3.27M292.94 532.65v3.27M293.48 505.95h3.27M295.12 504.31v3.27M295.66 744.66h3.27M297.30 743.02v3.27M306.56 744.66h3.27M308.20 743.02v3.27M312.01 532.11h3.27M313.65 530.47v3.27M355.61 526.66h3.27M357.25 525.02v3.27M361.06 744.66h3.27M362.70 743.02v3.27M371.96 744.66h3.27M373.60 743.02v3.27M377.41 744.66h3.27M379.05 743.02v3.27M383.95 523.39h3.27M385.59 521.75v3.27M405.75 703.24h3.27M407.39 701.60v3.27M406.84 727.22h3.27M408.48 725.58v3.27M426.46 744.66h3.27M428.10 743.02v3.27M454.80 517.94h3.27M456.44 516.30v3.27M460.25 708.69h3.27M461.89 707.05v3.27M486.41 744.66h3.27M488.05 743.02v3.27M508.21 744.66h3.27M509.85 743.02v3.27M535.46 744.66h3.27M537.10 743.02v3.27M538.73 734.85h3.27M540.37 733.21v3.27" stroke="#000" stroke-width="1.022" fill="none"/>
<path d="M83.11 744.66h3.27M84.75 743.02v3.27M88.56 744.66h3.27M90.20 743.02v3.27M94.01 744.66h3.27M95.65 743.02v3.27M104.91 744.66h3.27M106.55 743.02v3.27M117.99 727.22h3.27M119.63 725.58v3.27M179.03 527.75h3.27M180.67 526.11v3.27M181.21 744.66h3.27M182.85 743.02v3.27M184.48 555.00h3.27M186.12 553.36v3.27M188.84 525.57h3.27M190.48 523.93v3.27M196.47 551.73h3.27M198.11 550.09v3.27M224.81 744.66h3.27M226.45 743.02v3.27M283.67 535.38h3.27M285.31 533.74v3.27M328.36 744.66h3.27M330.00 743.02v3.27M536.55 512.49h3.27M538.19 510.85v3.27" stroke="#000" stroke-width="1.056" fill="none"/>
<path d="M82.02 680.35h3.27M83.66 678.71v3.27M82.02 696.70h3.27M83.66 695.06v3.27M82.02 713.05h3.27M83.66 711.41v3.27M83.11 682.53h3.27M84.75 680.89v3.27M83.11 693.43h3.27M84.75 691.79v3.27M84.20 706.51h3.27M85.84 704.87v3.27M85.29 659.64h3.27M86.93 658.00v3.27M86.38 721.77h3.27M88.02 720.13v3.27M87.47 614.95h3.27M89.11 613.31v3.27M87.47 674.90h3.27M89.11 673.26v3.27M87.47 734.85h3.27M89.11 733.21v3.27M88.56 633.48h3.27M90.20 631.84v3.27M88.56 649.83h3.27M90.20 648.19v3.27M88.56 660.73h3.27M90.20 659.09v3.27M88.56 698.88h3.27M90.20 697.24v3.27M89.65 602.96h3.27M91.29 601.32v3.27M89.65 630.21h3.27M91.29 628.57v3.27M89.65 701.06h3.27M91.29 699.42v3.27M90.74 703.24h3.27M92.38 701.60v3.27M90.74 708.69h3.27M92.38 707.05v3.27M91.83 716.32h3.27M93.47 714.68v3.27M91.83 727.22h3.27M93.47 725.58v3.27M92.92 593.15h3.27M94.56 591.51v3.27M92.92 620.40h3.27M94.56 618.76v3.27M92.92 691.25h3.27M94.56 689.61v3.27M92.92 713.05h3.27M94.56 711.41v3.27M94.01 589.88h3.27M95.65 588.24v3.27M94.01 687.98h3.27M95.65 686.34v3.27M95.10 690.16h3.27M96.74 688.52v3.27M95.10 701.06h3.27M96.74 699.42v3.27M96.19 626.94h3.27M97.83 625.30v3.27M97.28 623.67h3.27M98.92 622.03v3.27M97.28 640.02h3.27M98.92 638.38v3.27M97.28 650.92h3.27M98.92 649.28v3.27M97.28 694.52h3.27M98.92 692.88v3.27M97.28 727.22h3.27M98.92 725.58v3.27M98.37 691.25h3.27M100.01 689.61v3.27M99.46 578.98h3.27M101.10 577.34v3.27M99.46 606.23h3.27M101.10 604.59v3.27M99.46 687.98h3.27M101.10 686.34v3.27M99.46 693.43h3.27M101.10 691.79v3.27M99.46 698.88h3.27M101.10 697.24v3.27M100.55 690.16h3.27M102.19 688.52v3.27M100.55 701.06h3.27M102.19 699.42v3.27M100.55 706.51h3.27M102.19 704.87v3.27M101.64 703.24h3.27M103.28 701.60v3.27M102.73 601.87h3.27M104.37 600.23v3.27M102.73 678.17h3.27M104.37 676.53v3.27M102.73 716.32h3.27M104.37 714.68v3.27M103.82 680.35h3.27M105.46 678.71v3.27M103.82 691.25h3.27M105.46 689.61v3.27M103.82 696.70h3.27M105.46 695.06v3.27M103.82 734.85h3.27M105.46 733.21v3.27M104.91 611.68h3.27M106.55 610.04v3.27M104.91 628.03h3.27M106.55 626.39v3.27M104.91 693.43h3.27M106.55 691.79v3.27M104.91 698.88h3.27M106.55 697.24v3.27M106.00 619.31h3.27M107.64 617.67v3.27M106.00 690.16h3.27M107.64 688.52v3.27M107.09 703.24h3.27M108.73 701.60v3.27M107.09 708.69h3.27M108.73 707.05v3.27M108.18 607.32h3.27M109.82 605.68v3.27M109.27 565.90h3.27M110.91 564.26v3.27M109.27 734.85h3.27M110.91 733.21v3.27M111.45 592.06h3.27M113.09 590.42v3.27M111.45 624.76h3.27M113.09 623.12v3.27M111.45 701.06h3.27M113.09 699.42v3.27M113.63 716.32h3.27M115.27 714.68v3.27M113.63 727.22h3.27M115.27 725.58v3.27M114.72 560.45h3.27M116.36 558.81v3.27M114.72 696.70h3.27M116.36 695.06v3.27M115.81 693.43h3.27M117.45 691.79v3.27M115.81 698.88h3.27M117.45 697.24v3.27M116.90 586.61h3.27M118.54 584.97v3.27M119.08 694.52h3.27M120.72 692.88v3.27M119.08 721.77h3.27M120.72 720.13v3.27M119.08 727.22h3.27M120.72 725.58v3.27M120.17 713.05h3.27M121.81 711.41v3.27M123.44 686.89h3.27M125.08 685.25v3.27M123.44 708.69h3.27M125.08 707.05v3.27M124.53 580.07h3.27M126.17 578.43v3.27M124.53 694.52h3.27M126.17 692.88v3.27M124.53 721.77h3.27M126.17 720.13v3.27M125.62 713.05h3.27M127.26 711.41v3.27M125.62 734.85h3.27M127.26 733.21v3.27M126.71 682.53h3.27M128.35 680.89v3.27M126.71 693.43h3.27M128.35 691.79v3.27M127.80 701.06h3.27M129.44 699.42v3.27M127.80 706.51h3.27M129.44 704.87v3.27M128.89 708.69h3.27M130.53 707.05v3.27M129.98 727.22h3.27M131.62 725.58v3.27M131.07 598.60h3.27M132.71 596.96v3.27M131.07 609.50h3.27M132.71 607.86v3.27M131.07 664.00h3.27M132.71 662.36v3.27M131.07 685.80h3.27M132.71 684.16v3.27M131.07 713.05h3.27M132.71 711.41v3.27M131.07 734.85h3.27M132.71 733.21v3.27M132.16 698.88h3.27M133.80 697.24v3.27M133.25 602.96h3.27M134.89 601.32v3.27M133.25 701.06h3.27M134.89 699.42v3.27M133.25 706.51h3.27M134.89 704.87v3.27M135.43 694.52h3.27M137.07 692.88v3.27M135.43 716.32h3.27M137.07 714.68v3.27M135.43 727.22h3.27M137.07 725.58v3.27M136.52 691.25h3.27M138.16 689.61v3.27M136.52 713.05h3.27M138.16 711.41v3.27M136.52 734.85h3.27M138.16 733.21v3.27M137.61 573.53h3.27M139.25 571.89v3.27M137.61 693.43h3.27M139.25 691.79v3.27M139.79 605.14h3.27M141.43 603.50v3.27M139.79 670.54h3.27M141.43 668.90v3.27M139.79 686.89h3.27M141.43 685.25v3.27M139.79 703.24h3.27M141.43 701.60v3.27M140.88 727.22h3.27M142.52 725.58v3.27M141.97 696.70h3.27M143.61 695.06v3.27M141.97 713.05h3.27M143.61 711.41v3.27M143.06 682.53h3.27M144.70 680.89v3.27M144.15 706.51h3.27M145.79 704.87v3.27M145.24 703.24h3.27M146.88 701.60v3.27M145.24 708.69h3.27M146.88 707.05v3.27M146.33 596.42h3.27M147.97 594.78v3.27M146.33 667.27h3.27M147.97 665.63v3.27M146.33 716.32h3.27M147.97 714.68v3.27M146.33 721.77h3.27M147.97 720.13v3.27M147.42 680.35h3.27M149.06 678.71v3.27M147.42 734.85h3.27M149.06 733.21v3.27M148.51 589.88h3.27M150.15 588.24v3.27M148.51 698.88h3.27M150.15 697.24v3.27M149.60 701.06h3.27M151.24 699.42v3.27M149.60 706.51h3.27M151.24 704.87v3.27M150.69 686.89h3.27M152.33 685.25v3.27M151.78 667.27h3.27M153.42 665.63v3.27M151.78 678.17h3.27M153.42 676.53v3.27M151.78 694.52h3.27M153.42 692.88v3.27M151.78 727.22h3.27M153.42 725.58v3.27M152.87 669.45h3.27M154.51 667.81v3.27M152.87 685.80h3.27M154.51 684.16v3.27M153.96 666.18h3.27M155.60 664.54v3.27M153.96 693.43h3.27M155.60 691.79v3.27M153.96 698.88h3.27M155.60 697.24v3.27M155.05 701.06h3.27M156.69 699.42v3.27M155.05 744.66h3.27M156.69 743.02v3.27M156.14 577.89h3.27M157.78 576.25v3.27M157.23 585.52h3.27M158.87 583.88v3.27M157.23 678.17h3.27M158.87 676.53v3.27M158.32 674.90h3.27M159.96 673.26v3.27M158.32 691.25h3.27M159.96 689.61v3.27M158.32 713.05h3.27M159.96 711.41v3.27M158.32 734.85h3.27M159.96 733.21v3.27M159.41 671.63h3.27M161.05 669.99v3.27M160.50 701.06h3.27M162.14 699.42v3.27M161.59 708.69h3.27M163.23 707.05v3.27M162.68 678.17h3.27M164.32 676.53v3.27M162.68 694.52h3.27M164.32 692.88v3.27M162.68 727.22h3.27M164.32 725.58v3.27M163.77 533.20h3.27M165.41 531.56v3.27M163.77 658.55h3.27M165.41 656.91v3.27M163.77 680.35h3.27M165.41 678.71v3.27M163.77 685.80h3.27M165.41 684.16v3.27M163.77 713.05h3.27M165.41 711.41v3.27M163.77 734.85h3.27M165.41 733.21v3.27M165.95 744.66h3.27M167.59 743.02v3.27M167.04 588.79h3.27M168.68 587.15v3.27M168.13 531.02h3.27M169.77 529.38v3.27M168.13 721.77h3.27M169.77 720.13v3.27M169.22 587.70h3.27M170.86 586.06v3.27M169.22 593.15h3.27M170.86 591.51v3.27M169.22 680.35h3.27M170.86 678.71v3.27M169.22 685.80h3.27M170.86 684.16v3.27M169.22 734.85h3.27M170.86 733.21v3.27M170.31 677.08h3.27M171.95 675.44v3.27M171.40 559.36h3.27M173.04 557.72v3.27M171.40 701.06h3.27M173.04 699.42v3.27M171.40 706.51h3.27M173.04 704.87v3.27M172.49 572.44h3.27M174.13 570.80v3.27M172.49 686.89h3.27M174.13 685.25v3.27M172.49 708.69h3.27M174.13 707.05v3.27M173.58 716.32h3.27M175.22 714.68v3.27M173.58 727.22h3.27M175.22 725.58v3.27M174.67 571.35h3.27M176.31 569.71v3.27M174.67 685.80h3.27M176.31 684.16v3.27M174.67 696.70h3.27M176.31 695.06v3.27M175.76 671.63h3.27M177.40 669.99v3.27M175.76 693.43h3.27M177.40 691.79v3.27M176.85 570.26h3.27M178.49 568.62v3.27M176.85 684.71h3.27M178.49 683.07v3.27M176.85 701.06h3.27M178.49 699.42v3.27M176.85 706.51h3.27M178.49 704.87v3.27M177.94 528.84h3.27M179.58 527.20v3.27M177.94 670.54h3.27M179.58 668.90v3.27M179.03 678.17h3.27M180.67 676.53v3.27M180.12 664.00h3.27M181.76 662.36v3.27M180.12 691.25h3.27M181.76 689.61v3.27M180.12 734.85h3.27M181.76 733.21v3.27M181.21 682.53h3.27M182.85 680.89v3.27M181.21 693.43h3.27M182.85 691.79v3.27M182.30 690.16h3.27M183.94 688.52v3.27M183.39 703.24h3.27M185.03 701.60v3.27M184.48 694.52h3.27M186.12 692.88v3.27M184.48 721.77h3.27M186.12 720.13v3.27M184.48 727.22h3.27M186.12 725.58v3.27M185.57 576.80h3.27M187.21 575.16v3.27M185.57 691.25h3.27M187.21 689.61v3.27M186.66 687.98h3.27M188.30 686.34v3.27M186.66 693.43h3.27M188.30 691.79v3.27M186.66 698.88h3.27M188.30 697.24v3.27M187.75 575.71h3.27M189.39 574.07v3.27M187.75 679.26h3.27M189.39 677.62v3.27M187.75 706.51h3.27M189.39 704.87v3.27M188.84 659.64h3.27M190.48 658.00v3.27M188.84 708.69h3.27M190.48 707.05v3.27M189.93 678.17h3.27M191.57 676.53v3.27M189.93 694.52h3.27M191.57 692.88v3.27M189.93 721.77h3.27M191.57 720.13v3.27M191.02 696.70h3.27M192.66 695.06v3.27M191.02 734.85h3.27M192.66 733.21v3.27M192.11 693.43h3.27M193.75 691.79v3.27M193.20 668.36h3.27M194.84 666.72v3.27M193.20 679.26h3.27M194.84 677.62v3.27M193.20 701.06h3.27M194.84 699.42v3.27M193.20 706.51h3.27M194.84 704.87v3.27M194.29 594.24h3.27M195.93 592.60v3.27M195.38 585.52h3.27M197.02 583.88v3.27M195.38 727.22h3.27M197.02 725.58v3.27M196.47 674.90h3.27M198.11 673.26v3.27M196.47 680.35h3.27M198.11 678.71v3.27M197.56 573.53h3.27M199.20 571.89v3.27M198.65 564.81h3.27M200.29 563.17v3.27M198.65 706.51h3.27M200.29 704.87v3.27M199.74 703.24h3.27M201.38 701.60v3.27M200.83 563.72h3.27M202.47 562.08v3.27M200.83 694.52h3.27M202.47 692.88v3.27M200.83 721.77h3.27M202.47 720.13v3.27M200.83 727.22h3.27M202.47 725.58v3.27M201.92 669.45h3.27M203.56 667.81v3.27M201.92 713.05h3.27M203.56 711.41v3.27M201.92 734.85h3.27M203.56 733.21v3.27M204.10 701.06h3.27M205.74 699.42v3.27M205.19 577.89h3.27M206.83 576.25v3.27M205.19 703.24h3.27M206.83 701.60v3.27M206.28 716.32h3.27M207.92 714.68v3.27M207.37 685.80h3.27M209.01 684.16v3.27M207.37 691.25h3.27M209.01 689.61v3.27M207.37 734.85h3.27M209.01 733.21v3.27M208.46 562.63h3.27M210.10 560.99v3.27M208.46 660.73h3.27M210.10 659.09v3.27M208.46 682.53h3.27M210.10 680.89v3.27M208.46 687.98h3.27M210.10 686.34v3.27M208.46 693.43h3.27M210.10 691.79v3.27M208.46 698.88h3.27M210.10 697.24v3.27M209.55 684.71h3.27M211.19 683.07v3.27M209.55 701.06h3.27M211.19 699.42v3.27M210.64 561.54h3.27M212.28 559.90v3.27M210.64 703.24h3.27M212.28 701.60v3.27M210.64 708.69h3.27M212.28 707.05v3.27M212.82 576.80h3.27M214.46 575.16v3.27M212.82 713.05h3.27M214.46 711.41v3.27M212.82 734.85h3.27M214.46 733.21v3.27M213.91 519.03h3.27M215.55 517.39v3.27M213.91 698.88h3.27M215.55 697.24v3.27M215.00 679.26h3.27M216.64 677.62v3.27M215.00 706.51h3.27M216.64 704.87v3.27M216.09 703.24h3.27M217.73 701.60v3.27M217.18 547.37h3.27M218.82 545.73v3.27M217.18 716.32h3.27M218.82 714.68v3.27M218.27 658.55h3.27M219.91 656.91v3.27M218.27 680.35h3.27M219.91 678.71v3.27M218.27 685.80h3.27M219.91 684.16v3.27M218.27 691.25h3.27M219.91 689.61v3.27M218.27 713.05h3.27M219.91 711.41v3.27M218.27 734.85h3.27M219.91 733.21v3.27M219.36 666.18h3.27M221.00 664.54v3.27M219.36 671.63h3.27M221.00 669.99v3.27M220.45 559.36h3.27M222.09 557.72v3.27M220.45 701.06h3.27M222.09 699.42v3.27M220.45 706.51h3.27M222.09 704.87v3.27M221.54 708.69h3.27M223.18 707.05v3.27M222.63 574.62h3.27M224.27 572.98v3.27M222.63 716.32h3.27M224.27 714.68v3.27M223.72 653.10h3.27M225.36 651.46v3.27M223.72 680.35h3.27M225.36 678.71v3.27M223.72 691.25h3.27M225.36 689.61v3.27M223.72 696.70h3.27M225.36 695.06v3.27M224.81 682.53h3.27M226.45 680.89v3.27M225.90 701.06h3.27M227.54 699.42v3.27M226.99 545.19h3.27M228.63 543.55v3.27M226.99 566.99h3.27M228.63 565.35v3.27M226.99 686.89h3.27M228.63 685.25v3.27M228.08 558.27h3.27M229.72 556.63v3.27M228.08 727.22h3.27M229.72 725.58v3.27M229.17 544.10h3.27M230.81 542.46v3.27M230.26 557.18h3.27M231.90 555.54v3.27M230.26 671.63h3.27M231.90 669.99v3.27M231.35 706.51h3.27M232.99 704.87v3.27M232.44 708.69h3.27M234.08 707.05v3.27M233.53 716.32h3.27M235.17 714.68v3.27M234.62 674.90h3.27M236.26 673.26v3.27M234.62 734.85h3.27M236.26 733.21v3.27M235.71 698.88h3.27M237.35 697.24v3.27M236.80 543.01h3.27M238.44 541.37v3.27M236.80 673.81h3.27M238.44 672.17v3.27M236.80 706.51h3.27M238.44 704.87v3.27M237.89 670.54h3.27M239.53 668.90v3.27M237.89 681.44h3.27M239.53 679.80v3.27M237.89 703.24h3.27M239.53 701.60v3.27M237.89 708.69h3.27M239.53 707.05v3.27M238.98 514.67h3.27M240.62 513.03v3.27M238.98 650.92h3.27M240.62 649.28v3.27M238.98 672.72h3.27M240.62 671.08v3.27M238.98 678.17h3.27M240.62 676.53v3.27M238.98 716.32h3.27M240.62 714.68v3.27M240.07 593.15h3.27M241.71 591.51v3.27M240.07 691.25h3.27M241.71 689.61v3.27M240.07 734.85h3.27M241.71 733.21v3.27M241.16 513.58h3.27M242.80 511.94v3.27M241.16 649.83h3.27M242.80 648.19v3.27M242.25 570.26h3.27M243.89 568.62v3.27M242.25 586.61h3.27M243.89 584.97v3.27M242.25 673.81h3.27M243.89 672.17v3.27M243.34 659.64h3.27M244.98 658.00v3.27M243.34 708.69h3.27M244.98 707.05v3.27M244.43 580.07h3.27M246.07 578.43v3.27M244.43 716.32h3.27M246.07 714.68v3.27M245.52 555.00h3.27M247.16 553.36v3.27M245.52 696.70h3.27M247.16 695.06v3.27M245.52 713.05h3.27M247.16 711.41v3.27M247.70 684.71h3.27M249.34 683.07v3.27M247.70 706.51h3.27M249.34 704.87v3.27M249.88 721.77h3.27M251.52 720.13v3.27M250.97 669.45h3.27M252.61 667.81v3.27M250.97 674.90h3.27M252.61 673.26v3.27M250.97 713.05h3.27M252.61 711.41v3.27M250.97 734.85h3.27M252.61 733.21v3.27M252.06 540.83h3.27M253.70 539.19v3.27M252.06 573.53h3.27M253.70 571.89v3.27M252.06 693.43h3.27M253.70 691.79v3.27M253.15 690.16h3.27M254.79 688.52v3.27M253.15 701.06h3.27M254.79 699.42v3.27M254.24 648.74h3.27M255.88 647.10v3.27M254.24 703.24h3.27M255.88 701.60v3.27M254.24 708.69h3.27M255.88 707.05v3.27M255.33 694.52h3.27M256.97 692.88v3.27M255.33 721.77h3.27M256.97 720.13v3.27M255.33 727.22h3.27M256.97 725.58v3.27M256.42 511.40h3.27M258.06 509.76v3.27M256.42 664.00h3.27M258.06 662.36v3.27M256.42 713.05h3.27M258.06 711.41v3.27M257.51 682.53h3.27M259.15 680.89v3.27M258.60 510.31h3.27M260.24 508.67v3.27M259.69 659.64h3.27M261.33 658.00v3.27M260.78 694.52h3.27M262.42 692.88v3.27M260.78 721.77h3.27M262.42 720.13v3.27M261.87 538.65h3.27M263.51 537.01v3.27M261.87 685.80h3.27M263.51 684.16v3.27M261.87 713.05h3.27M263.51 711.41v3.27M262.96 671.63h3.27M264.60 669.99v3.27M262.96 687.98h3.27M264.60 686.34v3.27M262.96 698.88h3.27M264.60 697.24v3.27M264.05 706.51h3.27M265.69 704.87v3.27M266.23 672.72h3.27M267.87 671.08v3.27M266.23 721.77h3.27M267.87 720.13v3.27M266.23 727.22h3.27M267.87 725.58v3.27M267.32 571.35h3.27M268.96 569.71v3.27M267.32 680.35h3.27M268.96 678.71v3.27M267.32 696.70h3.27M268.96 695.06v3.27M267.32 713.05h3.27M268.96 711.41v3.27M269.50 690.16h3.27M271.14 688.52v3.27M270.59 550.64h3.27M272.23 549.00v3.27M270.59 703.24h3.27M272.23 701.60v3.27M270.59 708.69h3.27M272.23 707.05v3.27M271.68 509.22h3.27M273.32 507.58v3.27M271.68 716.32h3.27M273.32 714.68v3.27M271.68 721.77h3.27M273.32 720.13v3.27M272.77 691.25h3.27M274.41 689.61v3.27M272.77 713.05h3.27M274.41 711.41v3.27M272.77 734.85h3.27M274.41 733.21v3.27M273.86 655.28h3.27M275.50 653.64v3.27M274.95 564.81h3.27M276.59 563.17v3.27M276.04 577.89h3.27M277.68 576.25v3.27M276.04 708.69h3.27M277.68 707.05v3.27M277.13 536.47h3.27M278.77 534.83v3.27M277.13 678.17h3.27M278.77 676.53v3.27M277.13 727.22h3.27M278.77 725.58v3.27M278.22 713.05h3.27M279.86 711.41v3.27M280.40 668.36h3.27M282.04 666.72v3.27M280.40 684.71h3.27M282.04 683.07v3.27M280.40 701.06h3.27M282.04 699.42v3.27M281.49 507.04h3.27M283.13 505.40v3.27M281.49 681.44h3.27M283.13 679.80v3.27M282.58 694.52h3.27M284.22 692.88v3.27M282.58 721.77h3.27M284.22 720.13v3.27M283.67 713.05h3.27M285.31 711.41v3.27M284.76 557.18h3.27M286.40 555.54v3.27M284.76 682.53h3.27M286.40 680.89v3.27M284.76 687.98h3.27M286.40 686.34v3.27M284.76 693.43h3.27M286.40 691.79v3.27M285.85 548.46h3.27M287.49 546.82v3.27M286.94 703.24h3.27M288.58 701.60v3.27M288.03 672.72h3.27M289.67 671.08v3.27M289.12 582.25h3.27M290.76 580.61v3.27M289.12 653.10h3.27M290.76 651.46v3.27M289.12 734.85h3.27M290.76 733.21v3.27M290.21 660.73h3.27M291.85 659.09v3.27M292.39 703.24h3.27M294.03 701.60v3.27M292.39 708.69h3.27M294.03 707.05v3.27M293.48 678.17h3.27M295.12 676.53v3.27M294.57 680.35h3.27M296.21 678.71v3.27M294.57 696.70h3.27M296.21 695.06v3.27M294.57 734.85h3.27M296.21 733.21v3.27M297.84 561.54h3.27M299.48 559.90v3.27M297.84 708.69h3.27M299.48 707.05v3.27M298.93 716.32h3.27M300.57 714.68v3.27M300.02 658.55h3.27M301.66 656.91v3.27M300.02 734.85h3.27M301.66 733.21v3.27M301.11 546.28h3.27M302.75 544.64v3.27M301.11 644.38h3.27M302.75 642.74v3.27M301.11 693.43h3.27M302.75 691.79v3.27M302.20 690.16h3.27M303.84 688.52v3.27M303.29 703.24h3.27M304.93 701.60v3.27M304.38 503.77h3.27M306.02 502.13v3.27M304.38 661.82h3.27M306.02 660.18v3.27M304.38 716.32h3.27M306.02 714.68v3.27M305.47 565.90h3.27M307.11 564.26v3.27M305.47 734.85h3.27M307.11 733.21v3.27M306.56 677.08h3.27M308.20 675.44v3.27M308.74 545.19h3.27M310.38 543.55v3.27M308.74 686.89h3.27M310.38 685.25v3.27M309.83 503.77h3.27M311.47 502.13v3.27M309.83 694.52h3.27M311.47 692.88v3.27M309.83 721.77h3.27M311.47 720.13v3.27M310.92 565.90h3.27M312.56 564.26v3.27M310.92 696.70h3.27M312.56 695.06v3.27M310.92 734.85h3.27M312.56 733.21v3.27M312.01 677.08h3.27M313.65 675.44v3.27M312.01 682.53h3.27M313.65 680.89v3.27M313.10 553.91h3.27M314.74 552.27v3.27M313.10 564.81h3.27M314.74 563.17v3.27M313.10 701.06h3.27M314.74 699.42v3.27M313.10 744.66h3.27M314.74 743.02v3.27M314.19 686.89h3.27M315.83 685.25v3.27M315.28 678.17h3.27M316.92 676.53v3.27M315.28 721.77h3.27M316.92 720.13v3.27M315.28 727.22h3.27M316.92 725.58v3.27M316.37 674.90h3.27M318.01 673.26v3.27M316.37 696.70h3.27M318.01 695.06v3.27M316.37 734.85h3.27M318.01 733.21v3.27M317.46 502.68h3.27M319.10 501.04v3.27M318.55 559.36h3.27M320.19 557.72v3.27M319.64 681.44h3.27M321.28 679.80v3.27M319.64 703.24h3.27M321.28 701.60v3.27M320.73 716.32h3.27M322.37 714.68v3.27M320.73 727.22h3.27M322.37 725.58v3.27M321.82 680.35h3.27M323.46 678.71v3.27M321.82 685.80h3.27M323.46 684.16v3.27M321.82 713.05h3.27M323.46 711.41v3.27M322.91 671.63h3.27M324.55 669.99v3.27M322.91 682.53h3.27M324.55 680.89v3.27M324.00 706.51h3.27M325.64 704.87v3.27M325.09 659.64h3.27M326.73 658.00v3.27M326.18 678.17h3.27M327.82 676.53v3.27M326.18 721.77h3.27M327.82 720.13v3.27M326.18 727.22h3.27M327.82 725.58v3.27M328.36 529.93h3.27M330.00 528.29v3.27M328.36 660.73h3.27M330.00 659.09v3.27M328.36 687.98h3.27M330.00 686.34v3.27M329.45 543.01h3.27M331.09 541.37v3.27M329.45 673.81h3.27M331.09 672.17v3.27M329.45 701.06h3.27M331.09 699.42v3.27M330.54 703.24h3.27M332.18 701.60v3.27M331.63 694.52h3.27M333.27 692.88v3.27M331.63 716.32h3.27M333.27 714.68v3.27M332.72 674.90h3.27M334.36 673.26v3.27M332.72 691.25h3.27M334.36 689.61v3.27M332.72 734.85h3.27M334.36 733.21v3.27M333.81 584.43h3.27M335.45 582.79v3.27M333.81 666.18h3.27M335.45 664.54v3.27M334.90 673.81h3.27M336.54 672.17v3.27M334.90 701.06h3.27M336.54 699.42v3.27M334.90 706.51h3.27M336.54 704.87v3.27M334.90 744.66h3.27M336.54 743.02v3.27M335.99 648.74h3.27M337.63 647.10v3.27M335.99 670.54h3.27M337.63 668.90v3.27M335.99 708.69h3.27M337.63 707.05v3.27M338.17 696.70h3.27M339.81 695.06v3.27M338.17 713.05h3.27M339.81 711.41v3.27M339.26 557.18h3.27M340.90 555.54v3.27M339.26 666.18h3.27M340.90 664.54v3.27M339.26 671.63h3.27M340.90 669.99v3.27M339.26 698.88h3.27M340.90 697.24v3.27M340.35 499.41h3.27M341.99 497.77v3.27M341.44 556.09h3.27M343.08 554.45v3.27M341.44 686.89h3.27M343.08 685.25v3.27M342.53 661.82h3.27M344.17 660.18v3.27M342.53 694.52h3.27M344.17 692.88v3.27M342.53 716.32h3.27M344.17 714.68v3.27M342.53 721.77h3.27M344.17 720.13v3.27M343.62 549.55h3.27M345.26 547.91v3.27M343.62 685.80h3.27M345.26 684.16v3.27M343.62 713.05h3.27M345.26 711.41v3.27M343.62 734.85h3.27M345.26 733.21v3.27M344.71 540.83h3.27M346.35 539.19v3.27M344.71 655.28h3.27M346.35 653.64v3.27M344.71 687.98h3.27M346.35 686.34v3.27M344.71 693.43h3.27M346.35 691.79v3.27M344.71 698.88h3.27M346.35 697.24v3.27M345.80 646.56h3.27M347.44 644.92v3.27M345.80 701.06h3.27M347.44 699.42v3.27M345.80 706.51h3.27M347.44 704.87v3.27M346.89 659.64h3.27M348.53 658.00v3.27M346.89 708.69h3.27M348.53 707.05v3.27M347.98 721.77h3.27M349.62 720.13v3.27M347.98 727.22h3.27M349.62 725.58v3.27M349.07 696.70h3.27M350.71 695.06v3.27M350.16 644.38h3.27M351.80 642.74v3.27M350.16 660.73h3.27M351.80 659.09v3.27M351.25 706.51h3.27M352.89 704.87v3.27M352.34 654.19h3.27M353.98 652.55v3.27M352.34 681.44h3.27M353.98 679.80v3.27M352.34 686.89h3.27M353.98 685.25v3.27M352.34 703.24h3.27M353.98 701.60v3.27M352.34 708.69h3.27M353.98 707.05v3.27M353.43 716.32h3.27M355.07 714.68v3.27M354.52 713.05h3.27M356.16 711.41v3.27M355.61 698.88h3.27M357.25 697.24v3.27M356.70 679.26h3.27M358.34 677.62v3.27M356.70 706.51h3.27M358.34 704.87v3.27M357.79 539.74h3.27M359.43 538.10v3.27M357.79 703.24h3.27M359.43 701.60v3.27M358.88 678.17h3.27M360.52 676.53v3.27M358.88 694.52h3.27M360.52 692.88v3.27M358.88 721.77h3.27M360.52 720.13v3.27M359.97 555.00h3.27M361.61 553.36v3.27M359.97 653.10h3.27M361.61 651.46v3.27M359.97 696.70h3.27M361.61 695.06v3.27M359.97 713.05h3.27M361.61 711.41v3.27M361.06 497.23h3.27M362.70 495.59v3.27M363.24 708.69h3.27M364.88 707.05v3.27M364.33 678.17h3.27M365.97 676.53v3.27M364.33 716.32h3.27M365.97 714.68v3.27M364.33 721.77h3.27M365.97 720.13v3.27M365.42 680.35h3.27M367.06 678.71v3.27M365.42 685.80h3.27M367.06 684.16v3.27M365.42 713.05h3.27M367.06 711.41v3.27M366.51 666.18h3.27M368.15 664.54v3.27M366.51 693.43h3.27M368.15 691.79v3.27M367.60 744.66h3.27M369.24 743.02v3.27M368.69 566.99h3.27M370.33 565.35v3.27M369.78 716.32h3.27M371.42 714.68v3.27M369.78 721.77h3.27M371.42 720.13v3.27M369.78 727.22h3.27M371.42 725.58v3.27M370.87 538.65h3.27M372.51 537.01v3.27M370.87 647.65h3.27M372.51 646.01v3.27M370.87 696.70h3.27M372.51 695.06v3.27M370.87 713.05h3.27M372.51 711.41v3.27M371.96 562.63h3.27M373.60 560.99v3.27M371.96 671.63h3.27M373.60 669.99v3.27M373.05 690.16h3.27M374.69 688.52v3.27M374.14 708.69h3.27M375.78 707.05v3.27M375.23 667.27h3.27M376.87 665.63v3.27M375.23 727.22h3.27M376.87 725.58v3.27M376.32 674.90h3.27M377.96 673.26v3.27M377.41 677.08h3.27M379.05 675.44v3.27M378.50 537.56h3.27M380.14 535.92v3.27M378.50 701.06h3.27M380.14 699.42v3.27M379.59 496.14h3.27M381.23 494.50v3.27M379.59 708.69h3.27M381.23 707.05v3.27M380.68 552.82h3.27M382.32 551.18v3.27M380.68 716.32h3.27M382.32 714.68v3.27M380.68 727.22h3.27M382.32 725.58v3.27M381.77 653.10h3.27M383.41 651.46v3.27M382.86 524.48h3.27M384.50 522.84v3.27M382.86 687.98h3.27M384.50 686.34v3.27M382.86 693.43h3.27M384.50 691.79v3.27M382.86 698.88h3.27M384.50 697.24v3.27M383.95 537.56h3.27M385.59 535.92v3.27M383.95 581.16h3.27M385.59 579.52v3.27M383.95 673.81h3.27M385.59 672.17v3.27M383.95 706.51h3.27M385.59 704.87v3.27M385.04 523.39h3.27M386.68 521.75v3.27M385.04 708.69h3.27M386.68 707.05v3.27M386.13 678.17h3.27M387.77 676.53v3.27M387.22 495.05h3.27M388.86 493.41v3.27M387.22 653.10h3.27M388.86 651.46v3.27M387.22 674.90h3.27M388.86 673.26v3.27M387.22 691.25h3.27M388.86 689.61v3.27M388.31 687.98h3.27M389.95 686.34v3.27M389.40 673.81h3.27M391.04 672.17v3.27M389.40 701.06h3.27M391.04 699.42v3.27M390.49 545.19h3.27M392.13 543.55v3.27M390.49 670.54h3.27M392.13 668.90v3.27M390.49 703.24h3.27M392.13 701.60v3.27M390.49 708.69h3.27M392.13 707.05v3.27M391.58 536.47h3.27M393.22 534.83v3.27M391.58 721.77h3.27M393.22 720.13v3.27M391.58 727.22h3.27M393.22 725.58v3.27M392.67 680.35h3.27M394.31 678.71v3.27M392.67 696.70h3.27M394.31 695.06v3.27M393.76 671.63h3.27M395.40 669.99v3.27M393.76 682.53h3.27M395.40 680.89v3.27M393.76 693.43h3.27M395.40 691.79v3.27M394.85 564.81h3.27M396.49 563.17v3.27M394.85 690.16h3.27M396.49 688.52v3.27M395.94 556.09h3.27M397.58 554.45v3.27M395.94 654.19h3.27M397.58 652.55v3.27M395.94 665.09h3.27M397.58 663.45v3.27M395.94 670.54h3.27M397.58 668.90v3.27M397.03 694.52h3.27M398.67 692.88v3.27M397.03 721.77h3.27M398.67 720.13v3.27M397.03 727.22h3.27M398.67 725.58v3.27M398.12 685.80h3.27M399.76 684.16v3.27M398.12 713.05h3.27M399.76 711.41v3.27M399.21 693.43h3.27M400.85 691.79v3.27M400.30 690.16h3.27M401.94 688.52v3.27M401.39 556.09h3.27M403.03 554.45v3.27M401.39 703.24h3.27M403.03 701.60v3.27M402.48 661.82h3.27M404.12 660.18v3.27M402.48 716.32h3.27M404.12 714.68v3.27M403.57 544.10h3.27M405.21 542.46v3.27M403.57 658.55h3.27M405.21 656.91v3.27M403.57 734.85h3.27M405.21 733.21v3.27M404.66 687.98h3.27M406.30 686.34v3.27M405.75 521.21h3.27M407.39 519.57v3.27M405.75 679.26h3.27M407.39 677.62v3.27M406.84 686.89h3.27M408.48 685.25v3.27M406.84 708.69h3.27M408.48 707.05v3.27M407.93 563.72h3.27M409.57 562.08v3.27M407.93 678.17h3.27M409.57 676.53v3.27M407.93 694.52h3.27M409.57 692.88v3.27M409.02 691.25h3.27M410.66 689.61v3.27M409.02 696.70h3.27M410.66 695.06v3.27M410.11 660.73h3.27M411.75 659.09v3.27M410.11 677.08h3.27M411.75 675.44v3.27M410.11 698.88h3.27M411.75 697.24v3.27M411.20 668.36h3.27M412.84 666.72v3.27M411.20 679.26h3.27M412.84 677.62v3.27M411.20 744.66h3.27M412.84 743.02v3.27M412.29 654.19h3.27M413.93 652.55v3.27M412.29 681.44h3.27M413.93 679.80v3.27M413.38 492.87h3.27M415.02 491.23v3.27M413.38 694.52h3.27M415.02 692.88v3.27M413.38 716.32h3.27M415.02 714.68v3.27M414.47 549.55h3.27M416.11 547.91v3.27M414.47 664.00h3.27M416.11 662.36v3.27M414.47 696.70h3.27M416.11 695.06v3.27M416.65 543.01h3.27M418.29 541.37v3.27M416.65 553.91h3.27M418.29 552.27v3.27M416.65 690.16h3.27M418.29 688.52v3.27M416.65 706.51h3.27M418.29 704.87v3.27M417.74 643.29h3.27M419.38 641.65v3.27M417.74 703.24h3.27M419.38 701.60v3.27M417.74 708.69h3.27M419.38 707.05v3.27M418.83 520.12h3.27M420.47 518.48v3.27M418.83 678.17h3.27M420.47 676.53v3.27M418.83 721.77h3.27M420.47 720.13v3.27M418.83 727.22h3.27M420.47 725.58v3.27M421.01 660.73h3.27M422.65 659.09v3.27M422.10 564.81h3.27M423.74 563.17v3.27M423.19 708.69h3.27M424.83 707.05v3.27M424.28 520.12h3.27M425.92 518.48v3.27M424.28 716.32h3.27M425.92 714.68v3.27M424.28 721.77h3.27M425.92 720.13v3.27M424.28 727.22h3.27M425.92 725.58v3.27M425.37 691.25h3.27M427.01 689.61v3.27M425.37 696.70h3.27M427.01 695.06v3.27M425.37 734.85h3.27M427.01 733.21v3.27M426.46 687.98h3.27M428.10 686.34v3.27M427.55 673.81h3.27M429.19 672.17v3.27M427.55 684.71h3.27M429.19 683.07v3.27M427.55 701.06h3.27M429.19 699.42v3.27M428.64 708.69h3.27M430.28 707.05v3.27M429.73 520.12h3.27M431.37 518.48v3.27M429.73 661.82h3.27M431.37 660.18v3.27M429.73 694.52h3.27M431.37 692.88v3.27M429.73 727.22h3.27M431.37 725.58v3.27M430.82 653.10h3.27M432.46 651.46v3.27M430.82 669.45h3.27M432.46 667.81v3.27M430.82 713.05h3.27M432.46 711.41v3.27M430.82 734.85h3.27M432.46 733.21v3.27M431.91 682.53h3.27M433.55 680.89v3.27M433.00 635.66h3.27M434.64 634.02v3.27M433.00 652.01h3.27M434.64 650.37v3.27M433.00 673.81h3.27M434.64 672.17v3.27M433.00 701.06h3.27M434.64 699.42v3.27M433.00 744.66h3.27M434.64 743.02v3.27M435.18 547.37h3.27M436.82 545.73v3.27M435.18 656.37h3.27M436.82 654.73v3.27M435.18 694.52h3.27M436.82 692.88v3.27M435.18 721.77h3.27M436.82 720.13v3.27M436.27 680.35h3.27M437.91 678.71v3.27M436.27 691.25h3.27M437.91 689.61v3.27M436.27 713.05h3.27M437.91 711.41v3.27M437.36 649.83h3.27M439.00 648.19v3.27M437.36 660.73h3.27M439.00 659.09v3.27M438.45 532.11h3.27M440.09 530.47v3.27M438.45 690.16h3.27M440.09 688.52v3.27M439.54 686.89h3.27M441.18 685.25v3.27M440.63 547.37h3.27M442.27 545.73v3.27M440.63 661.82h3.27M442.27 660.18v3.27M440.63 694.52h3.27M442.27 692.88v3.27M440.63 716.32h3.27M442.27 714.68v3.27M440.63 727.22h3.27M442.27 725.58v3.27M442.81 540.83h3.27M444.45 539.19v3.27M442.81 655.28h3.27M444.45 653.64v3.27M442.81 687.98h3.27M444.45 686.34v3.27M443.90 668.36h3.27M445.54 666.72v3.27M443.90 684.71h3.27M445.54 683.07v3.27M443.90 690.16h3.27M445.54 688.52v3.27M443.90 706.51h3.27M445.54 704.87v3.27M444.99 675.99h3.27M446.63 674.35v3.27M444.99 681.44h3.27M446.63 679.80v3.27M446.08 716.32h3.27M447.72 714.68v3.27M447.17 664.00h3.27M448.81 662.36v3.27M448.26 644.38h3.27M449.90 642.74v3.27M448.26 687.98h3.27M449.90 686.34v3.27M449.35 673.81h3.27M450.99 672.17v3.27M449.35 679.26h3.27M450.99 677.62v3.27M449.35 701.06h3.27M450.99 699.42v3.27M450.44 517.94h3.27M452.08 516.30v3.27M450.44 637.84h3.27M452.08 636.20v3.27M450.44 670.54h3.27M452.08 668.90v3.27M451.53 650.92h3.27M453.17 649.28v3.27M451.53 694.52h3.27M453.17 692.88v3.27M452.62 653.10h3.27M454.26 651.46v3.27M452.62 685.80h3.27M454.26 684.16v3.27M452.62 691.25h3.27M454.26 689.61v3.27M452.62 713.05h3.27M454.26 711.41v3.27M453.71 546.28h3.27M455.35 544.64v3.27M453.71 568.08h3.27M455.35 566.44v3.27M453.71 693.43h3.27M455.35 691.79v3.27M455.89 517.94h3.27M457.53 516.30v3.27M455.89 703.24h3.27M457.53 701.60v3.27M455.89 708.69h3.27M457.53 707.05v3.27M456.98 531.02h3.27M458.62 529.38v3.27M456.98 694.52h3.27M458.62 692.88v3.27M456.98 716.32h3.27M458.62 714.68v3.27M456.98 721.77h3.27M458.62 720.13v3.27M456.98 727.22h3.27M458.62 725.58v3.27M458.07 713.05h3.27M459.71 711.41v3.27M458.07 734.85h3.27M459.71 733.21v3.27M459.16 671.63h3.27M460.80 669.99v3.27M459.16 682.53h3.27M460.80 680.89v3.27M459.16 693.43h3.27M460.80 691.79v3.27M460.25 488.51h3.27M461.89 486.87v3.27M460.25 744.66h3.27M461.89 743.02v3.27M462.43 716.32h3.27M464.07 714.68v3.27M462.43 721.77h3.27M464.07 720.13v3.27M463.52 538.65h3.27M465.16 537.01v3.27M463.52 642.20h3.27M465.16 640.56v3.27M463.52 669.45h3.27M465.16 667.81v3.27M465.70 701.06h3.27M467.34 699.42v3.27M466.79 670.54h3.27M468.43 668.90v3.27M466.79 703.24h3.27M468.43 701.60v3.27M467.88 678.17h3.27M469.52 676.53v3.27M467.88 694.52h3.27M469.52 692.88v3.27M467.88 721.77h3.27M469.52 720.13v3.27M467.88 727.22h3.27M469.52 725.58v3.27M468.97 538.65h3.27M470.61 537.01v3.27M468.97 713.05h3.27M470.61 711.41v3.27M468.97 734.85h3.27M470.61 733.21v3.27M470.06 660.73h3.27M471.70 659.09v3.27M470.06 698.88h3.27M471.70 697.24v3.27M471.15 641.11h3.27M472.79 639.47v3.27M471.15 679.26h3.27M472.79 677.62v3.27M471.15 684.71h3.27M472.79 683.07v3.27M471.15 701.06h3.27M472.79 699.42v3.27M471.15 706.51h3.27M472.79 704.87v3.27M472.24 681.44h3.27M473.88 679.80v3.27M472.24 703.24h3.27M473.88 701.60v3.27M472.24 708.69h3.27M473.88 707.05v3.27M473.33 716.32h3.27M474.97 714.68v3.27M473.33 727.22h3.27M474.97 725.58v3.27M474.42 691.25h3.27M476.06 689.61v3.27M475.51 529.93h3.27M477.15 528.29v3.27M476.60 515.76h3.27M478.24 514.12v3.27M476.60 646.56h3.27M478.24 644.92v3.27M477.69 686.89h3.27M479.33 685.25v3.27M478.78 661.82h3.27M480.42 660.18v3.27M478.78 694.52h3.27M480.42 692.88v3.27M478.78 721.77h3.27M480.42 720.13v3.27M479.87 544.10h3.27M481.51 542.46v3.27M479.87 549.55h3.27M481.51 547.91v3.27M479.87 565.90h3.27M481.51 564.26v3.27M479.87 664.00h3.27M481.51 662.36v3.27M479.87 674.90h3.27M481.51 673.26v3.27M479.87 680.35h3.27M481.51 678.71v3.27M479.87 713.05h3.27M481.51 711.41v3.27M479.87 734.85h3.27M481.51 733.21v3.27M480.96 698.88h3.27M482.60 697.24v3.27M482.05 652.01h3.27M483.69 650.37v3.27M482.05 701.06h3.27M483.69 699.42v3.27M483.14 528.84h3.27M484.78 527.20v3.27M483.14 708.69h3.27M484.78 707.05v3.27M484.23 563.72h3.27M485.87 562.08v3.27M484.23 650.92h3.27M485.87 649.28v3.27M485.32 549.55h3.27M486.96 547.91v3.27M485.32 696.70h3.27M486.96 695.06v3.27M485.32 713.05h3.27M486.96 711.41v3.27M486.41 557.18h3.27M488.05 555.54v3.27M486.41 687.98h3.27M488.05 686.34v3.27M486.41 693.43h3.27M488.05 691.79v3.27M487.50 515.76h3.27M489.14 514.12v3.27M487.50 673.81h3.27M489.14 672.17v3.27M487.50 690.16h3.27M489.14 688.52v3.27M489.68 694.52h3.27M491.32 692.88v3.27M489.68 716.32h3.27M491.32 714.68v3.27M490.77 544.10h3.27M492.41 542.46v3.27M490.77 642.20h3.27M492.41 640.56v3.27M491.86 655.28h3.27M493.50 653.64v3.27M491.86 698.88h3.27M493.50 697.24v3.27M492.95 543.01h3.27M494.59 541.37v3.27M492.95 701.06h3.27M494.59 699.42v3.27M494.04 556.09h3.27M495.68 554.45v3.27M494.04 670.54h3.27M495.68 668.90v3.27M495.13 514.67h3.27M496.77 513.03v3.27M495.13 678.17h3.27M496.77 676.53v3.27M495.13 716.32h3.27M496.77 714.68v3.27M495.13 727.22h3.27M496.77 725.58v3.27M496.22 713.05h3.27M497.86 711.41v3.27M496.22 734.85h3.27M497.86 733.21v3.27M497.31 671.63h3.27M498.95 669.99v3.27M499.49 659.64h3.27M501.13 658.00v3.27M500.58 514.67h3.27M502.22 513.03v3.27M500.58 634.57h3.27M502.22 632.93v3.27M500.58 667.27h3.27M502.22 665.63v3.27M501.67 527.75h3.27M503.31 526.11v3.27M501.67 674.90h3.27M503.31 673.26v3.27M501.67 713.05h3.27M503.31 711.41v3.27M502.76 644.38h3.27M504.40 642.74v3.27M502.76 660.73h3.27M504.40 659.09v3.27M503.85 543.01h3.27M505.49 541.37v3.27M503.85 690.16h3.27M505.49 688.52v3.27M504.94 485.24h3.27M506.58 483.60v3.27M504.94 670.54h3.27M506.58 668.90v3.27M504.94 686.89h3.27M506.58 685.25v3.27M504.94 703.24h3.27M506.58 701.60v3.27M506.03 661.82h3.27M507.67 660.18v3.27M506.03 694.52h3.27M507.67 692.88v3.27M506.03 721.77h3.27M507.67 720.13v3.27M506.03 727.22h3.27M507.67 725.58v3.27M507.12 527.75h3.27M508.76 526.11v3.27M507.12 669.45h3.27M508.76 667.81v3.27M507.12 674.90h3.27M508.76 673.26v3.27M507.12 734.85h3.27M508.76 733.21v3.27M508.21 535.38h3.27M509.85 533.74v3.27M508.21 687.98h3.27M509.85 686.34v3.27M508.21 693.43h3.27M509.85 691.79v3.27M508.21 698.88h3.27M509.85 697.24v3.27M509.30 690.16h3.27M510.94 688.52v3.27M510.39 654.19h3.27M512.03 652.55v3.27M510.39 686.89h3.27M512.03 685.25v3.27M510.39 703.24h3.27M512.03 701.60v3.27M511.48 547.37h3.27M513.12 545.73v3.27M513.66 660.73h3.27M515.30 659.09v3.27M513.66 698.88h3.27M515.30 697.24v3.27M514.75 526.66h3.27M516.39 525.02v3.27M514.75 744.66h3.27M516.39 743.02v3.27M515.84 659.64h3.27M517.48 658.00v3.27M515.84 670.54h3.27M517.48 668.90v3.27M515.84 686.89h3.27M517.48 685.25v3.27M515.84 703.24h3.27M517.48 701.60v3.27M515.84 708.69h3.27M517.48 707.05v3.27M516.93 541.92h3.27M518.57 540.28v3.27M516.93 650.92h3.27M518.57 649.28v3.27M518.02 691.25h3.27M519.66 689.61v3.27M519.11 535.38h3.27M520.75 533.74v3.27M519.11 666.18h3.27M520.75 664.54v3.27M520.20 641.11h3.27M521.84 639.47v3.27M520.20 701.06h3.27M521.84 699.42v3.27M521.29 670.54h3.27M522.93 668.90v3.27M522.38 541.92h3.27M524.02 540.28v3.27M522.38 694.52h3.27M524.02 692.88v3.27M522.38 716.32h3.27M524.02 714.68v3.27M523.47 658.55h3.27M525.11 656.91v3.27M524.56 666.18h3.27M526.20 664.54v3.27M524.56 687.98h3.27M526.20 686.34v3.27M524.56 693.43h3.27M526.20 691.79v3.27M524.56 698.88h3.27M526.20 697.24v3.27M525.65 701.06h3.27M527.29 699.42v3.27M526.74 703.24h3.27M528.38 701.60v3.27M527.83 716.32h3.27M529.47 714.68v3.27M528.92 669.45h3.27M530.56 667.81v3.27M528.92 691.25h3.27M530.56 689.61v3.27M530.01 644.38h3.27M531.65 642.74v3.27M530.01 677.08h3.27M531.65 675.44v3.27M530.01 682.53h3.27M531.65 680.89v3.27M531.10 673.81h3.27M532.74 672.17v3.27M531.10 744.66h3.27M532.74 743.02v3.27M532.19 534.29h3.27M533.83 532.65v3.27M532.19 686.89h3.27M533.83 685.25v3.27M533.28 525.57h3.27M534.92 523.93v3.27M533.28 721.77h3.27M534.92 720.13v3.27M535.46 698.88h3.27M537.10 697.24v3.27M536.55 744.66h3.27M538.19 743.02v3.27M537.64 512.49h3.27M539.28 510.85v3.27M538.73 645.47h3.27M540.37 643.83v3.27M538.73 694.52h3.27M540.37 692.88v3.27M538.73 727.22h3.27M540.37 725.58v3.27M539.82 511.40h3.27M541.46 509.76v3.27M539.82 642.20h3.27M541.46 640.56v3.27M539.82 713.05h3.27M541.46 711.41v3.27M539.82 734.85h3.27M541.46 733.21v3.27M540.91 687.98h3.27M542.55 686.34v3.27M542.00 483.06h3.27M543.64 481.42v3.27M542.00 690.16h3.27M543.64 688.52v3.27M542.00 706.51h3.27M543.64 704.87v3.27M543.09 670.54h3.27M544.73 668.90v3.27M543.09 675.99h3.27M544.73 674.35v3.27M543.09 703.24h3.27M544.73 701.60v3.27M543.09 708.69h3.27M544.73 707.05v3.27M544.18 634.57h3.27M545.82 632.93v3.27M544.18 727.22h3.27M545.82 725.58v3.27M545.27 511.40h3.27M546.91 509.76v3.27M545.27 696.70h3.27M546.91 695.06v3.27M545.27 713.05h3.27M546.91 711.41v3.27M545.27 734.85h3.27M546.91 733.21v3.27M546.36 524.48h3.27M548.00 522.84v3.27M546.36 682.53h3.27M548.00 680.89v3.27M546.36 698.88h3.27M548.00 697.24v3.27M547.45 701.06h3.27M549.09 699.42v3.27M548.54 539.74h3.27M550.18 538.10v3.27M548.54 659.64h3.27M550.18 658.00v3.27M548.54 670.54h3.27M550.18 668.90v3.27M549.63 661.82h3.27M551.27 660.18v3.27M549.63 694.52h3.27M551.27 692.88v3.27M550.72 533.20h3.27M552.36 531.56v3.27M550.72 734.85h3.27M552.36 733.21v3.27M551.81 524.48h3.27M553.45 522.84v3.27M552.90 646.56h3.27M554.54 644.92v3.27M552.90 706.51h3.27M554.54 704.87v3.27M553.99 539.74h3.27M555.63 538.10v3.27M553.99 654.19h3.27M555.63 652.55v3.27M553.99 659.64h3.27M555.63 658.00v3.27M553.99 675.99h3.27M555.63 674.35v3.27M555.08 716.32h3.27M556.72 714.68v3.27M556.17 544.10h3.27M557.81 542.46v3.27M556.17 685.80h3.27M557.81 684.16v3.27M556.17 713.05h3.27M557.81 711.41v3.27M557.26 666.18h3.27M558.90 664.54v3.27M557.26 682.53h3.27M558.90 680.89v3.27M557.26 687.98h3.27M558.90 686.34v3.27M558.35 706.51h3.27M559.99 704.87v3.27M559.44 523.39h3.27M561.08 521.75v3.27M559.44 659.64h3.27M561.08 658.00v3.27M559.44 675.99h3.27M561.08 674.35v3.27M559.44 681.44h3.27M561.08 679.80v3.27M559.44 686.89h3.27M561.08 685.25v3.27M560.53 481.97h3.27M562.17 480.33v3.27M560.53 716.32h3.27M562.17 714.68v3.27M561.62 713.05h3.27M563.26 711.41v3.27M562.71 666.18h3.27M564.35 664.54v3.27M563.80 532.11h3.27M565.44 530.47v3.27M563.80 673.81h3.27M565.44 672.17v3.27M563.80 690.16h3.27M565.44 688.52v3.27M563.80 701.06h3.27M565.44 699.42v3.27M563.80 706.51h3.27M565.44 704.87v3.27M563.80 744.66h3.27M565.44 743.02v3.27M564.89 703.24h3.27M566.53 701.60v3.27M564.89 708.69h3.27M566.53 707.05v3.27M565.98 727.22h3.27M567.62 725.58v3.27M567.07 538.65h3.27M568.71 537.01v3.27M567.07 680.35h3.27M568.71 678.71v3.27M567.07 713.05h3.27M568.71 711.41v3.27M568.16 682.53h3.27M569.80 680.89v3.27M569.25 706.51h3.27M570.89 704.87v3.27" stroke="#000" stroke-width="0.545" fill="none"/>
<path d="M82.02 734.85h3.27M83.66 733.21v3.27M85.29 654.19h3.27M86.93 652.55v3.27M94.01 617.13h3.27M95.65 615.49v3.27M96.19 708.69h3.27M97.83 707.05v3.27M97.28 716.32h3.27M98.92 714.68v3.27M97.28 721.77h3.27M98.92 720.13v3.27M98.37 713.05h3.27M100.01 711.41v3.27M98.37 734.85h3.27M100.01 733.21v3.27M99.46 682.53h3.27M101.10 680.89v3.27M101.64 708.69h3.27M103.28 707.05v3.27M106.00 597.51h3.27M107.64 595.87v3.27M108.18 716.32h3.27M109.82 714.68v3.27M112.54 561.54h3.27M114.18 559.90v3.27M117.99 708.69h3.27M119.63 707.05v3.27M120.17 555.00h3.27M121.81 553.36v3.27M125.62 593.15h3.27M127.26 591.51v3.27M125.62 680.35h3.27M127.26 678.71v3.27M128.89 577.89h3.27M130.53 576.25v3.27M129.98 721.77h3.27M131.62 720.13v3.27M132.16 677.08h3.27M133.80 675.44v3.27M136.52 696.70h3.27M138.16 695.06v3.27M140.88 716.32h3.27M142.52 714.68v3.27M141.97 734.85h3.27M143.61 733.21v3.27M145.24 686.89h3.27M146.88 685.25v3.27M146.33 569.17h3.27M147.97 567.53v3.27M147.42 713.05h3.27M149.06 711.41v3.27M148.51 568.08h3.27M150.15 566.44v3.27M150.69 708.69h3.27M152.33 707.05v3.27M155.05 564.81h3.27M156.69 563.17v3.27M157.23 727.22h3.27M158.87 725.58v3.27M160.50 575.71h3.27M162.14 574.07v3.27M160.50 706.51h3.27M162.14 704.87v3.27M161.59 534.29h3.27M163.23 532.65v3.27M163.77 696.70h3.27M165.41 695.06v3.27M164.86 693.43h3.27M166.50 691.79v3.27M165.95 532.11h3.27M167.59 530.47v3.27M167.04 708.69h3.27M168.68 707.05v3.27M171.40 744.66h3.27M173.04 743.02v3.27M179.03 727.22h3.27M180.67 725.58v3.27M180.12 713.05h3.27M181.76 711.41v3.27M182.30 701.06h3.27M183.94 699.42v3.27M187.75 701.06h3.27M189.39 699.42v3.27M189.93 716.32h3.27M191.57 714.68v3.27M189.93 727.22h3.27M191.57 725.58v3.27M193.20 744.66h3.27M194.84 743.02v3.27M194.29 523.39h3.27M195.93 521.75v3.27M197.56 698.88h3.27M199.20 697.24v3.27M199.74 550.64h3.27M201.38 549.00v3.27M200.83 716.32h3.27M202.47 714.68v3.27M201.92 696.70h3.27M203.56 695.06v3.27M204.10 521.21h3.27M205.74 519.57v3.27M204.10 706.51h3.27M205.74 704.87v3.27M206.28 721.77h3.27M207.92 720.13v3.27M207.37 571.35h3.27M209.01 569.71v3.27M207.37 713.05h3.27M209.01 711.41v3.27M209.55 548.46h3.27M211.19 546.82v3.27M211.73 520.12h3.27M213.37 518.48v3.27M211.73 721.77h3.27M213.37 720.13v3.27M211.73 727.22h3.27M213.37 725.58v3.27M215.00 701.06h3.27M216.64 699.42v3.27M217.18 721.77h3.27M218.82 720.13v3.27M219.36 546.28h3.27M221.00 544.64v3.27M222.63 721.77h3.27M224.27 720.13v3.27M223.72 713.05h3.27M225.36 711.41v3.27M224.81 693.43h3.27M226.45 691.79v3.27M225.90 684.71h3.27M227.54 683.07v3.27M228.08 721.77h3.27M229.72 720.13v3.27M229.17 734.85h3.27M230.81 733.21v3.27M231.35 701.06h3.27M232.99 699.42v3.27M236.80 701.06h3.27M238.44 699.42v3.27M236.80 744.66h3.27M238.44 743.02v3.27M241.16 687.98h3.27M242.80 686.34v3.27M242.25 706.51h3.27M243.89 704.87v3.27M244.43 541.92h3.27M246.07 540.28v3.27M244.43 721.77h3.27M246.07 720.13v3.27M244.43 727.22h3.27M246.07 725.58v3.27M247.70 673.81h3.27M249.34 672.17v3.27M247.70 701.06h3.27M249.34 699.42v3.27M252.06 666.18h3.27M253.70 664.54v3.27M253.15 706.51h3.27M254.79 704.87v3.27M254.24 539.74h3.27M255.88 538.10v3.27M255.33 552.82h3.27M256.97 551.18v3.27M256.42 734.85h3.27M258.06 733.21v3.27M257.51 693.43h3.27M259.15 691.79v3.27M258.60 744.66h3.27M260.24 743.02v3.27M260.78 716.32h3.27M262.42 714.68v3.27M262.96 551.73h3.27M264.60 550.09v3.27M262.96 693.43h3.27M264.60 691.79v3.27M264.05 510.31h3.27M265.69 508.67v3.27M264.05 701.06h3.27M265.69 699.42v3.27M264.05 744.66h3.27M265.69 743.02v3.27M265.14 566.99h3.27M266.78 565.35v3.27M265.14 708.69h3.27M266.78 707.05v3.27M266.23 580.07h3.27M267.87 578.43v3.27M268.41 698.88h3.27M270.05 697.24v3.27M269.50 537.56h3.27M271.14 535.92v3.27M269.50 706.51h3.27M271.14 704.87v3.27M269.50 744.66h3.27M271.14 743.02v3.27M273.86 508.13h3.27M275.50 506.49v3.27M274.95 744.66h3.27M276.59 743.02v3.27M277.13 716.32h3.27M278.77 714.68v3.27M278.22 696.70h3.27M279.86 695.06v3.27M279.31 508.13h3.27M280.95 506.49v3.27M281.49 703.24h3.27M283.13 701.60v3.27M282.58 716.32h3.27M284.22 714.68v3.27M283.67 734.85h3.27M285.31 733.21v3.27M284.76 535.38h3.27M286.40 533.74v3.27M285.85 744.66h3.27M287.49 743.02v3.27M288.03 721.77h3.27M289.67 720.13v3.27M288.03 727.22h3.27M289.67 725.58v3.27M289.12 505.95h3.27M290.76 504.31v3.27M293.48 721.77h3.27M295.12 720.13v3.27M293.48 727.22h3.27M295.12 725.58v3.27M295.66 562.63h3.27M297.30 560.99v3.27M298.93 727.22h3.27M300.57 725.58v3.27M300.02 533.20h3.27M301.66 531.56v3.27M302.20 504.86h3.27M303.84 503.22v3.27M304.38 721.77h3.27M306.02 720.13v3.27M307.65 532.11h3.27M309.29 530.47v3.27M307.65 744.66h3.27M309.29 743.02v3.27M308.74 659.64h3.27M310.38 658.00v3.27M308.74 708.69h3.27M310.38 707.05v3.27M309.83 716.32h3.27M311.47 714.68v3.27M309.83 727.22h3.27M311.47 725.58v3.27M312.01 502.68h3.27M313.65 501.04v3.27M318.55 673.81h3.27M320.19 672.17v3.27M318.55 701.06h3.27M320.19 699.42v3.27M318.55 744.66h3.27M320.19 743.02v3.27M320.73 721.77h3.27M322.37 720.13v3.27M325.09 501.59h3.27M326.73 499.95v3.27M327.27 674.90h3.27M328.91 673.26v3.27M327.27 713.05h3.27M328.91 711.41v3.27M329.45 684.71h3.27M331.09 683.07v3.27M331.63 727.22h3.27M333.27 725.58v3.27M332.72 500.50h3.27M334.36 498.86v3.27M332.72 685.80h3.27M334.36 684.16v3.27M335.99 528.84h3.27M337.63 527.20v3.27M339.26 693.43h3.27M340.90 691.79v3.27M340.35 673.81h3.27M341.99 672.17v3.27M340.35 706.51h3.27M341.99 704.87v3.27M345.80 499.41h3.27M347.44 497.77v3.27M351.25 526.66h3.27M352.89 525.02v3.27M351.25 684.71h3.27M352.89 683.07v3.27M353.43 498.32h3.27M355.07 496.68v3.27M353.43 727.22h3.27M355.07 725.58v3.27M358.88 661.82h3.27M360.52 660.18v3.27M361.06 666.18h3.27M362.70 664.54v3.27M364.33 525.57h3.27M365.97 523.93v3.27M365.42 691.25h3.27M367.06 689.61v3.27M367.60 706.51h3.27M369.24 704.87v3.27M369.78 525.57h3.27M371.42 523.93v3.27M373.05 701.06h3.27M374.69 699.42v3.27M373.05 744.66h3.27M374.69 743.02v3.27M374.14 496.14h3.27M375.78 494.50v3.27M375.23 721.77h3.27M376.87 720.13v3.27M377.41 524.48h3.27M379.05 522.84v3.27M379.59 686.89h3.27M381.23 685.25v3.27M380.68 667.27h3.27M382.32 665.63v3.27M381.77 713.05h3.27M383.41 711.41v3.27M385.04 703.24h3.27M386.68 701.60v3.27M386.13 727.22h3.27M387.77 725.58v3.27M390.49 523.39h3.27M392.13 521.75v3.27M391.58 694.52h3.27M393.22 692.88v3.27M391.58 716.32h3.27M393.22 714.68v3.27M394.85 701.06h3.27M396.49 699.42v3.27M395.94 708.69h3.27M397.58 707.05v3.27M398.12 522.30h3.27M399.76 520.66v3.27M398.12 734.85h3.27M399.76 733.21v3.27M399.21 698.88h3.27M400.85 697.24v3.27M402.48 694.52h3.27M404.12 692.88v3.27M402.48 721.77h3.27M404.12 720.13v3.27M403.57 522.30h3.27M405.21 520.66v3.27M405.75 701.06h3.27M407.39 699.42v3.27M405.75 744.66h3.27M407.39 743.02v3.27M407.93 721.77h3.27M409.57 720.13v3.27M409.02 549.55h3.27M410.66 547.91v3.27M409.02 734.85h3.27M410.66 733.21v3.27M411.20 701.06h3.27M412.84 699.42v3.27M412.29 534.29h3.27M413.93 532.65v3.27M413.38 727.22h3.27M415.02 725.58v3.27M414.47 713.05h3.27M416.11 711.41v3.27M415.56 660.73h3.27M417.20 659.09v3.27M415.56 698.88h3.27M417.20 697.24v3.27M416.65 701.06h3.27M418.29 699.42v3.27M424.28 541.92h3.27M425.92 540.28v3.27M427.55 744.66h3.27M429.19 743.02v3.27M430.82 685.80h3.27M432.46 684.16v3.27M435.18 716.32h3.27M436.82 714.68v3.27M435.18 727.22h3.27M436.82 725.58v3.27M436.27 734.85h3.27M437.91 733.21v3.27M438.45 744.66h3.27M440.09 743.02v3.27M443.90 532.11h3.27M445.54 530.47v3.27M444.99 708.69h3.27M446.63 707.05v3.27M446.08 721.77h3.27M447.72 720.13v3.27M446.08 727.22h3.27M447.72 725.58v3.27M447.17 713.05h3.27M448.81 711.41v3.27M451.53 727.22h3.27M453.17 725.58v3.27M452.62 489.60h3.27M454.26 487.96v3.27M452.62 734.85h3.27M454.26 733.21v3.27M459.16 698.88h3.27M460.80 697.24v3.27M463.52 516.85h3.27M465.16 515.21v3.27M463.52 734.85h3.27M465.16 733.21v3.27M464.61 529.93h3.27M466.25 528.29v3.27M466.79 708.69h3.27M468.43 707.05v3.27M467.88 716.32h3.27M469.52 714.68v3.27M471.15 488.51h3.27M472.79 486.87v3.27M471.15 744.66h3.27M472.79 743.02v3.27M473.33 721.77h3.27M474.97 720.13v3.27M476.60 744.66h3.27M478.24 743.02v3.27M478.78 487.42h3.27M480.42 485.78v3.27M479.87 691.25h3.27M481.51 689.61v3.27M484.23 727.22h3.27M485.87 725.58v3.27M487.50 706.51h3.27M489.14 704.87v3.27M488.59 643.29h3.27M490.23 641.65v3.27M488.59 708.69h3.27M490.23 707.05v3.27M489.68 721.77h3.27M491.32 720.13v3.27M492.95 744.66h3.27M494.59 743.02v3.27M498.40 744.66h3.27M500.04 743.02v3.27M499.49 708.69h3.27M501.13 707.05v3.27M500.58 727.22h3.27M502.22 725.58v3.27M503.85 701.06h3.27M505.49 699.42v3.27M503.85 706.51h3.27M505.49 704.87v3.27M503.85 744.66h3.27M505.49 743.02v3.27M507.12 713.05h3.27M508.76 711.41v3.27M509.30 526.66h3.27M510.94 525.02v3.27M510.39 708.69h3.27M512.03 707.05v3.27M511.48 727.22h3.27M513.12 725.58v3.27M512.57 734.85h3.27M514.21 733.21v3.27M516.93 716.32h3.27M518.57 714.68v3.27M516.93 727.22h3.27M518.57 725.58v3.27M519.11 693.43h3.27M520.75 691.79v3.27M522.38 678.17h3.27M524.02 676.53v3.27M523.47 734.85h3.27M525.11 733.21v3.27M526.74 708.69h3.27M528.38 707.05v3.27M527.83 727.22h3.27M529.47 725.58v3.27M528.92 484.15h3.27M530.56 482.51v3.27M530.01 540.83h3.27M531.65 539.19v3.27M531.10 701.06h3.27M532.74 699.42v3.27M533.28 694.52h3.27M534.92 692.88v3.27M533.28 727.22h3.27M534.92 725.58v3.27M534.37 696.70h3.27M536.01 695.06v3.27M535.46 540.83h3.27M537.10 539.19v3.27M537.64 703.24h3.27M539.28 701.60v3.27M545.27 647.65h3.27M546.91 646.01v3.27M547.45 483.06h3.27M549.09 481.42v3.27M547.45 684.71h3.27M549.09 683.07v3.27M549.63 727.22h3.27M551.27 725.58v3.27M550.72 511.40h3.27M552.36 509.76v3.27M550.72 691.25h3.27M552.36 689.61v3.27M552.90 701.06h3.27M554.54 699.42v3.27M555.08 481.97h3.27M556.72 480.33v3.27M555.08 721.77h3.27M556.72 720.13v3.27M556.17 511.40h3.27M557.81 509.76v3.27M556.17 664.00h3.27M557.81 662.36v3.27M556.17 734.85h3.27M557.81 733.21v3.27M557.26 698.88h3.27M558.90 697.24v3.27M567.07 696.70h3.27M568.71 695.06v3.27M567.07 734.85h3.27M568.71 733.21v3.27" stroke="#000" stroke-width="0.818" fill="none"/>
<path d="M85.29 703.24h3.27M86.93 701.60v3.27M90.74 599.69h3.27M92.38 598.05v3.27M91.83 623.67h3.27M93.47 622.03v3.27M92.92 734.85h3.27M94.56 733.21v3.27M95.10 744.66h3.27M96.74 743.02v3.27M102.73 721.77h3.27M104.37 720.13v3.27M103.82 571.35h3.27M105.46 569.71v3.27M114.72 587.70h3.27M116.36 586.06v3.27M122.35 553.91h3.27M123.99 552.27v3.27M126.71 578.98h3.27M128.35 577.34v3.27M127.80 592.06h3.27M129.44 590.42v3.27M131.07 576.80h3.27M132.71 575.16v3.27M133.25 744.66h3.27M134.89 743.02v3.27M149.60 744.66h3.27M151.24 743.02v3.27M158.32 576.80h3.27M159.96 575.16v3.27M159.41 562.63h3.27M161.05 560.99v3.27M170.31 698.88h3.27M171.95 697.24v3.27M173.58 558.27h3.27M175.22 556.63v3.27M176.85 744.66h3.27M178.49 743.02v3.27M179.03 721.77h3.27M180.67 720.13v3.27M180.12 527.75h3.27M181.76 526.11v3.27M185.57 713.05h3.27M187.21 711.41v3.27M187.75 744.66h3.27M189.39 743.02v3.27M189.93 525.57h3.27M191.57 523.93v3.27M192.11 524.48h3.27M193.75 522.84v3.27M194.29 703.24h3.27M195.93 701.60v3.27M196.47 734.85h3.27M198.11 733.21v3.27M197.56 551.73h3.27M199.20 550.09v3.27M207.37 549.55h3.27M209.01 547.91v3.27M222.63 727.22h3.27M224.27 725.58v3.27M223.72 516.85h3.27M225.36 515.21v3.27M225.90 744.66h3.27M227.54 743.02v3.27M233.53 727.22h3.27M235.17 725.58v3.27M242.25 744.66h3.27M243.89 743.02v3.27M245.52 734.85h3.27M247.16 733.21v3.27M248.79 512.49h3.27M250.43 510.85v3.27M248.79 708.69h3.27M250.43 707.05v3.27M274.95 701.06h3.27M276.59 699.42v3.27M277.13 721.77h3.27M278.77 720.13v3.27M278.22 734.85h3.27M279.86 733.21v3.27M285.85 701.06h3.27M287.49 699.42v3.27M291.30 744.66h3.27M292.94 743.02v3.27M293.48 716.32h3.27M295.12 714.68v3.27M296.75 504.86h3.27M298.39 503.22v3.27M296.75 744.66h3.27M298.39 743.02v3.27M302.20 744.66h3.27M303.84 743.02v3.27M324.00 744.66h3.27M325.64 743.02v3.27M329.45 744.66h3.27M331.09 743.02v3.27M340.35 744.66h3.27M341.99 743.02v3.27M343.62 527.75h3.27M345.26 526.11v3.27M349.07 713.05h3.27M350.71 711.41v3.27M351.25 744.66h3.27M352.89 743.02v3.27M356.70 526.66h3.27M358.34 525.02v3.27M356.70 744.66h3.27M358.34 743.02v3.27M362.15 744.66h3.27M363.79 743.02v3.27M392.67 495.05h3.27M394.31 493.41v3.27M394.85 744.66h3.27M396.49 743.02v3.27M400.30 493.96h3.27M401.94 492.32v3.27M407.93 492.87h3.27M409.57 491.23v3.27M411.20 521.21h3.27M412.84 519.57v3.27M416.65 521.21h3.27M418.29 519.57v3.27M416.65 744.66h3.27M418.29 743.02v3.27M437.36 519.03h3.27M439.00 517.39v3.27M439.54 490.69h3.27M441.18 489.05v3.27M440.63 721.77h3.27M442.27 720.13v3.27M441.72 734.85h3.27M443.36 733.21v3.27M442.81 519.03h3.27M444.45 517.39v3.27M443.90 744.66h3.27M445.54 743.02v3.27M447.17 734.85h3.27M448.81 733.21v3.27M449.35 744.66h3.27M450.99 743.02v3.27M468.97 516.85h3.27M470.61 515.21v3.27M470.06 693.43h3.27M471.70 691.79v3.27M474.42 713.05h3.27M476.06 711.41v3.27M482.05 515.76h3.27M483.69 514.12v3.27M487.50 744.66h3.27M489.14 743.02v3.27M489.68 514.67h3.27M491.32 513.03v3.27M495.13 721.77h3.27M496.77 720.13v3.27M500.58 721.77h3.27M502.22 720.13v3.27M502.76 486.33h3.27M504.40 484.69v3.27M508.21 513.58h3.27M509.85 511.94v3.27M509.30 744.66h3.27M510.94 743.02v3.27M515.84 485.24h3.27M517.48 483.60v3.27M518.02 713.05h3.27M519.66 711.41v3.27M531.10 706.51h3.27M532.74 704.87v3.27M532.19 512.49h3.27M533.83 510.85v3.27M534.37 484.15h3.27M536.01 482.51v3.27M542.00 744.66h3.27M543.64 743.02v3.27M547.45 744.66h3.27M549.09 743.02v3.27M560.53 727.22h3.27M562.17 725.58v3.27M568.16 698.88h3.27M569.80 697.24v3.27" stroke="#000" stroke-width="0.954" fill="none"/>
<path d="M89.65 744.66h3.27M91.29 743.02v3.27M100.55 744.66h3.27M102.19 743.02v3.27M106.00 744.66h3.27M107.64 743.02v3.27M111.45 744.66h3.27M113.09 743.02v3.27M116.90 744.66h3.27M118.54 743.02v3.27M122.35 744.66h3.27M123.99 743.02v3.27M127.80 744.66h3.27M129.44 743.02v3.27M138.70 744.66h3.27M140.34 743.02v3.27M144.15 744.66h3.27M145.79 743.02v3.27M152.87 565.90h3.27M154.51 564.26v3.27M168.13 716.32h3.27M169.77 714.68v3.27M198.65 744.66h3.27M200.29 743.02v3.27M204.10 744.66h3.27M205.74 743.02v3.27M209.55 744.66h3.27M211.19 743.02v3.27M220.45 744.66h3.27M222.09 743.02v3.27M231.35 515.76h3.27M232.99 514.12v3.27M247.70 744.66h3.27M249.34 743.02v3.27M253.15 744.66h3.27M254.79 743.02v3.27M266.23 509.22h3.27M267.87 507.58v3.27M280.40 744.66h3.27M282.04 743.02v3.27M286.94 507.04h3.27M288.58 505.40v3.27M315.28 531.02h3.27M316.92 529.38v3.27M322.91 529.93h3.27M324.55 528.29v3.27M337.08 678.17h3.27M338.72 676.53v3.27M340.35 701.06h3.27M341.99 699.42v3.27M349.07 527.75h3.27M350.71 526.11v3.27M400.30 744.66h3.27M401.94 743.02v3.27M422.10 744.66h3.27M423.74 743.02v3.27M426.46 491.78h3.27M428.10 490.14v3.27M434.09 490.69h3.27M435.73 489.05v3.27M465.70 744.66h3.27M467.34 743.02v3.27M482.05 744.66h3.27M483.69 743.02v3.27M520.20 744.66h3.27M521.84 743.02v3.27M526.74 512.49h3.27M528.38 510.85v3.27M552.90 483.06h3.27M554.54 481.42v3.27M558.35 510.31h3.27M559.99 508.67v3.27M558.35 744.66h3.27M559.99 743.02v3.27" stroke="#000" stroke-width="1.022" fill="none"/>
<path d="M84.20 744.66h3.27M85.84 743.02v3.27M86.38 727.22h3.27M88.02 725.58v3.27M160.50 744.66h3.27M162.14 743.02v3.27M182.30 744.66h3.27M183.94 743.02v3.27M185.57 555.00h3.27M187.21 553.36v3.27M201.92 522.30h3.27M203.56 520.66v3.27M221.54 517.94h3.27M223.18 516.30v3.27M231.35 744.66h3.27M232.99 743.02v3.27M246.61 540.83h3.27M248.25 539.19v3.27M338.17 500.50h3.27M339.81 498.86v3.27M345.80 744.66h3.27M347.44 743.02v3.27M358.88 498.32h3.27M360.52 496.68v3.27M389.40 744.66h3.27M391.04 743.02v3.27M519.11 513.58h3.27M520.75 511.94v3.27M525.65 744.66h3.27M527.29 743.02v3.27M565.98 481.97h3.27M567.62 480.33v3.27" stroke="#000" stroke-width="1.056" fill="none"/>
</g>
</svg>
</body></html>
